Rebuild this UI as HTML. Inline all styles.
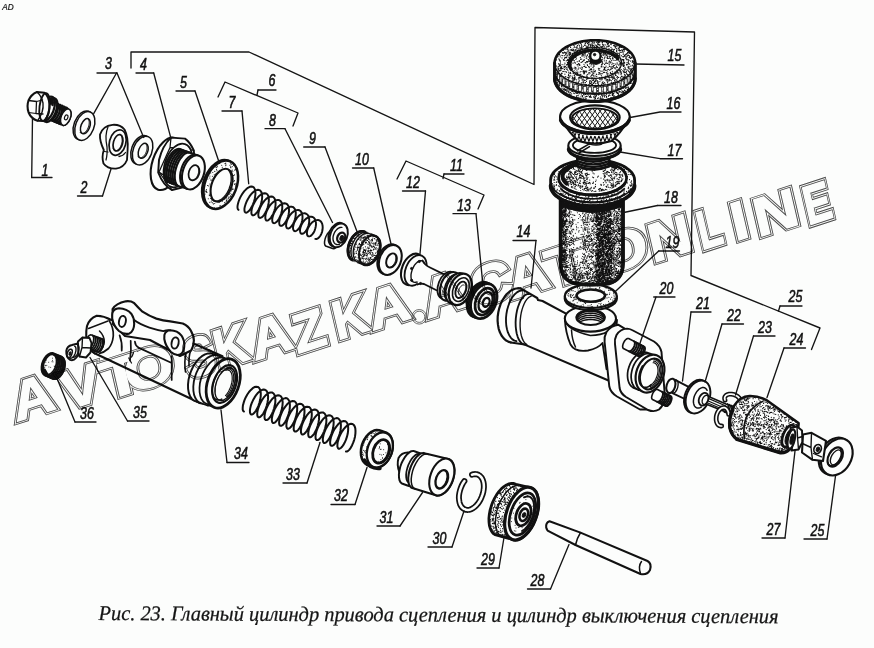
<!DOCTYPE html>
<html><head><meta charset="utf-8"><title>Fig 23</title>
<style>
html,body{margin:0;padding:0;background:#fcfdfc;}
svg{display:block}
.l{fill:none;stroke:#151515;stroke-width:1.35;stroke-linecap:round;stroke-linejoin:round}
.p{fill:#fcfdfc;stroke:#111;stroke-width:1.5;stroke-linecap:round;stroke-linejoin:round}
.n{fill:none;stroke:#111;stroke-width:1.5;stroke-linecap:round;stroke-linejoin:round}
.t{fill:none;stroke:#111;stroke-width:1;stroke-linecap:round}
.k{fill:#111;stroke:#111;stroke-width:1}
.num{font-family:"Liberation Sans",sans-serif;font-style:italic;font-size:15.5px;fill:#111;stroke:#111;stroke-width:0.55;text-anchor:middle}
.cap{font-family:"Liberation Serif",serif;font-style:italic;font-size:21px;fill:#151515;stroke:#151515;stroke-width:0.25}
.d{fill:none;stroke:#111;stroke-linecap:round}
</style></head><body>
<svg width="874" height="648" viewBox="0 0 874 648">
<rect width="874" height="648" fill="#fcfdfc"/>
<!-- 10_upper_left.py -->
<path class="p" d="M50 100.5L67.5 108.8L69.6 109.6L70.4 110.6L70.9 112.1L71.1 113.9L70.9 116L70.3 118.1L69.5 120.2L68.4 122.1L67.1 123.6L65.7 124.7L64.4 125.3L63.1 125.3L62 124.8L63.5 125.6L46 118.5Z" /><path class="t" d="M54 102.2L55.1 103.3L55.7 105.2L55.8 107.6L55.3 110.3L54.3 112.9L53 115.3L51.4 117.1L49.6 118.3L48 118.6L46.6 118" style="stroke-width:2.30"/><path class="t" d="M56.1 103.1L57.2 104.2L57.8 106.1L57.9 108.5L57.4 111.2L56.4 113.8L55 116.2L53.4 118L51.7 119.2L50.1 119.5L48.7 118.9" style="stroke-width:2.30"/><path class="t" d="M58.2 104L59.2 105.1L59.9 107L59.9 109.4L59.5 112.1L58.5 114.7L57.1 117.1L55.5 118.9L53.8 120.1L52.2 120.4L50.8 119.8" style="stroke-width:2.30"/><path class="t" d="M60.2 104.9L61.3 106L61.9 107.9L62 110.3L61.5 113L60.6 115.6L59.2 118L57.6 119.8L55.9 121L54.2 121.3L52.9 120.7" style="stroke-width:2.30"/><path class="t" d="M62.3 105.8L63.4 106.9L64 108.8L64.1 111.2L63.6 113.9L62.6 116.5L61.3 118.9L59.6 120.7L57.9 121.9L56.3 122.2L54.9 121.6" style="stroke-width:2.30"/><path class="t" d="M64.4 106.7L65.5 107.8L66.1 109.7L66.1 112.1L65.7 114.8L64.7 117.4L63.3 119.8L61.7 121.6L60 122.8L58.4 123.1L57 122.5" style="stroke-width:2.30"/><path class="t" d="M66.4 107.6L67.5 108.7L68.1 110.6L68.2 113L67.7 115.7L66.8 118.3L65.4 120.7L63.8 122.5L62.1 123.7L60.4 124L59.1 123.4" style="stroke-width:2.30"/><ellipse class="p" cx="65.8" cy="117.2" rx="4.6" ry="8.6" transform="rotate(21 65.8 117.2)" /><ellipse class="n" cx="66.2" cy="117.4" rx="1.6" ry="2.6" transform="rotate(21 66.2 117.4)" style="stroke-width:1.15"/><ellipse class="p" cx="50" cy="110" rx="6.3" ry="12.5" transform="rotate(21 50 110)" style="stroke-width:2.53"/><ellipse class="p" cx="47.5" cy="108.8" rx="6.3" ry="12.8" transform="rotate(21 47.5 108.8)" style="stroke-width:2.30"/><path class="k" d="M48 99 Q52 96.5 54 99.5 L53 106 Q50 103 47.5 104Z" /><path class="p" d="M44.5 92.8 L37 92 Q31 94.5 28.5 100.5 Q26.5 106 28.6 112.5 Q31 118.5 37.5 120.8 L44.5 121 Q50 114 49.5 104 Q48.5 96 44.5 92.8Z" style="stroke-width:2.07"/><path class="n" d="M37 92 Q41.5 96 43 103 Q44 112 37.5 120.8" style="stroke-width:1.38"/><path class="n" d="M28.5 100.5 L36.5 101.5 M28.6 112.5 L36 113.5 M36.5 101.5 L36 113.5 M36.5 101.5 L42.6 100 M36 113.5 L43 114" style="stroke-width:1.26"/><ellipse class="n" cx="44.5" cy="107" rx="5" ry="14" transform="rotate(7 44.5 107)" style="stroke-width:1.84"/>
<ellipse class="p" cx="83.2" cy="125.3" rx="9.2" ry="15" transform="rotate(21 83.2 125.3)" /><ellipse class="p" cx="84.8" cy="126" rx="9.2" ry="15" transform="rotate(21 84.8 126)" /><ellipse class="p" cx="85.4" cy="126.2" rx="4.4" ry="8" transform="rotate(21 85.4 126.2)" /><path class="t" d="M88.3 119.3L88.6 119.9L88.9 120.6L89.1 121.4L89.2 122.2L89.2 123.1L89.1 124.1L89 125.1L88.7 126.1L88.4 127L88 128L87.6 129L87.1 129.8L86.5 130.6L85.9 131.4L85.3 132L84.6 132.5L84 132.9L83.3 133.2L82.7 133.4L82.1 133.4L81.5 133.3L81 133.1L80.5 132.8L80.1 132.3" />
<path class="p" d="M112.5 124.8 Q120 124.2 124.5 129.5 Q128.5 137 127.6 150 L127 160 Q124 167.5 116 168.6 Q107.5 169 103.5 163.5 Q101.5 157 103.8 150 Q99.5 141 100 134.5 Q102.5 126 112.5 124.8Z" style="stroke-width:1.84"/><ellipse class="p" cx="117.6" cy="142.6" rx="8.2" ry="13" transform="rotate(15 117.6 142.6)" style="stroke-width:1.72"/><ellipse class="p" cx="118" cy="142.8" rx="4.6" ry="8.4" transform="rotate(15 118 142.8)" style="stroke-width:1.72"/><path class="t" d="M121.3 136.1L121.6 136.8L121.9 137.6L122 138.5L122.1 139.5L122.1 140.5L122.1 141.6L121.9 142.6L121.6 143.7L121.3 144.7L120.9 145.8L120.5 146.7L120 147.6L119.4 148.4L118.8 149.1L118.2 149.7L117.5 150.1L116.9 150.5L116.3 150.6L115.6 150.7L115 150.6L114.5 150.4L114 150L113.5 149.5L113.1 148.9" /><path class="n" d="M108 127 Q104.5 135 107 147 Q107.5 155 106 160" style="stroke-width:1.26"/><path class="n" d="M104.5 151.5 L108 152 M119 156.5 Q123 156 125.5 152.5" style="stroke-width:1.26"/>
<ellipse class="p" cx="141" cy="149.9" rx="9.4" ry="15" transform="rotate(21 141 149.9)" /><ellipse class="p" cx="142.6" cy="150.6" rx="9.4" ry="15" transform="rotate(21 142.6 150.6)" /><ellipse class="p" cx="143.2" cy="150.8" rx="4.5" ry="7.8" transform="rotate(21 143.2 150.8)" /><path class="t" d="M146.1 144.1L146.4 144.7L146.7 145.4L146.9 146.1L147 147L147 147.8L147 148.8L146.8 149.7L146.6 150.7L146.3 151.7L145.9 152.6L145.5 153.6L145 154.4L144.4 155.2L143.8 155.9L143.2 156.5L142.6 157L141.9 157.4L141.2 157.7L140.6 157.8L140 157.9L139.4 157.7L138.8 157.5L138.4 157.2L137.9 156.7" />
<ellipse class="p" cx="166.5" cy="163.8" rx="14.2" ry="27.2" transform="rotate(18 166.5 163.8)" style="stroke-width:2.07"/><path class="p" d="M171 137.6 L185 138.6 Q190 142 193.8 150.5 L194.4 158 Q193 176 186 186.5 L172 190 Q163.5 186 158.2 172.5 L159 160 Q162.5 145.5 171 137.6Z" style="stroke-width:1.95"/><path class="n" d="M171 137.6 L170 147.5 L159 172 L172 190 M170 147.5 L184 148 L193.8 150.5 M159 172 L163.5 175" style="stroke-width:1.26"/><ellipse class="p" cx="178" cy="165.5" rx="13.3" ry="22.5" transform="rotate(18 178 165.5)" style="stroke-width:1.72"/><path class="p" d="M169.9 182.9L168.3 181.6L167.1 179.5L166.4 176.8L166.2 173.5L166.4 169.9L167.2 166.2L168.3 162.4L169.9 158.8L171.7 155.7L173.8 153L176 151.1L178.2 149.9L180.3 149.6L182.1 150.1L198.6 155.8L200.2 157.1L201.4 159.2L202.1 161.9L202.3 165.2L202.1 168.8L201.3 172.5L200.2 176.3L198.6 179.9L196.8 183L194.7 185.7L192.5 187.6L190.3 188.8L188.2 189.1L186.4 188.6Z" style="stroke-width:1.61"/><path class="t" d="M167.7 182.2L166.3 180.6L165.3 178.3L164.8 175.5L164.7 172.2L165 168.6L165.9 164.8L167.1 161.2L168.7 157.7L170.6 154.7L172.6 152.2L174.7 150.3L176.9 149.2L178.9 148.9L180.7 149.4" style="stroke-width:2.18"/><path class="t" d="M169.7 182.9L168.3 181.3L167.3 179L166.8 176.2L166.7 172.9L167 169.3L167.9 165.5L169.1 161.9L170.7 158.4L172.6 155.4L174.6 152.9L176.7 151L178.9 149.9L180.9 149.6L182.7 150.1" style="stroke-width:2.18"/><path class="t" d="M171.7 183.6L170.3 182L169.3 179.7L168.8 176.9L168.7 173.6L169 170L169.9 166.2L171.1 162.6L172.7 159.1L174.6 156.1L176.6 153.6L178.7 151.7L180.9 150.6L182.9 150.3L184.7 150.8" style="stroke-width:2.18"/><path class="t" d="M173.7 184.3L172.3 182.7L171.3 180.4L170.8 177.6L170.7 174.3L171 170.7L171.9 166.9L173.1 163.3L174.7 159.8L176.6 156.8L178.6 154.3L180.7 152.4L182.9 151.3L184.9 151L186.7 151.5" style="stroke-width:2.18"/><path class="t" d="M175.7 185L174.3 183.4L173.3 181.1L172.8 178.3L172.7 175L173 171.4L173.9 167.6L175.1 164L176.7 160.5L178.6 157.5L180.6 155L182.7 153.1L184.9 152L186.9 151.7L188.7 152.2" style="stroke-width:2.18"/><path class="t" d="M177.7 185.7L176.3 184.1L175.3 181.8L174.8 179L174.7 175.7L175 172.1L175.9 168.3L177.1 164.7L178.7 161.2L180.6 158.2L182.6 155.7L184.7 153.8L186.9 152.7L188.9 152.4L190.7 152.9" style="stroke-width:2.18"/><ellipse class="p" cx="191.2" cy="171.6" rx="10.2" ry="17.6" transform="rotate(18 191.2 171.6)" style="stroke-width:2.07"/><ellipse class="p" cx="193.4" cy="172.4" rx="10.6" ry="17.6" transform="rotate(18 193.4 172.4)" style="stroke-width:2.07"/><ellipse class="p" cx="194" cy="172.8" rx="5.2" ry="7.8" transform="rotate(18 194 172.8)" style="stroke-width:1.72"/><path class="t" d="M197.2 166.1L197.6 166.7L198 167.3L198.3 168.1L198.5 169L198.7 169.9L198.7 170.8L198.6 171.8L198.5 172.8L198.2 173.8L197.9 174.7L197.5 175.7L197 176.5L196.5 177.4L195.9 178.1L195.2 178.7L194.5 179.2L193.8 179.6L193.1 179.9L192.4 180.1L191.7 180.1L191 180L190.4 179.7L189.8 179.4L189.2 178.9" />
<ellipse class="p" cx="219.2" cy="184.1" rx="15.8" ry="25.2" transform="rotate(21 219.2 184.1)" style="stroke-width:2.07"/><ellipse class="p" cx="220.8" cy="184.7" rx="15.8" ry="25.2" transform="rotate(21 220.8 184.7)" style="stroke-width:2.53"/><ellipse class="p" cx="221.6" cy="185.2" rx="9.8" ry="17.2" transform="rotate(21 221.6 185.2)" style="stroke-width:2.07"/><path class="t" d="M228.5 170.1L229.4 171.2L230.1 172.6L230.7 174.2L231.1 176L231.2 178L231.2 180.1L231 182.2L230.5 184.4L229.9 186.6L229.1 188.8L228.2 190.9L227.1 192.9L225.9 194.7L224.5 196.4L223.1 197.8L221.7 199L220.2 200L218.7 200.7L217.3 201L215.9 201.1L214.5 200.9L213.3 200.4L212.2 199.6L211.3 198.6" style="stroke-width:1.38"/><g clip-rule="evenodd"><clipPath id="c1"><path d="M234.8 190.1L233.3 193.6L231.4 196.9L229.3 199.8L227 202.4L224.5 204.6L222 206.3L219.4 207.4L216.8 208L214.4 208L212.1 207.5L210 206.4L208.2 204.7L206.7 202.6L205.5 200L204.7 197L204.3 193.7L204.4 190.3L204.8 186.6L205.6 183L206.8 179.3L208.3 175.8L210.2 172.5L212.3 169.6L214.6 167L217.1 164.8L219.6 163.1L222.2 162L224.8 161.4L227.2 161.4L229.5 161.9L231.6 163L233.4 164.7L234.9 166.8L236.1 169.4L236.9 172.4L237.3 175.7L237.2 179.1L236.8 182.8L236 186.4L234.8 190.1ZM231.3 188.9L230.2 191.5L228.9 193.9L227.4 196.1L225.7 198L224 199.6L222.1 200.8L220.3 201.7L218.5 202.2L216.8 202.2L215.2 201.8L213.8 201L212.5 199.9L211.5 198.3L210.7 196.5L210.2 194.3L210 192L210.1 189.4L210.4 186.8L211 184.1L211.9 181.5L213 178.9L214.3 176.5L215.8 174.3L217.5 172.4L219.2 170.8L221.1 169.6L222.9 168.7L224.7 168.2L226.4 168.2L228 168.6L229.4 169.4L230.7 170.5L231.7 172.1L232.5 173.9L233 176.1L233.2 178.4L233.1 181L232.8 183.6L232.2 186.3L231.3 188.9Z"/></clipPath><path clip-path="url(#c1)" class="d" stroke-width="1.1" style="stroke:#111" d="M226.2 198.1h.01M233.4 208.9h.01M231.1 207.8h.01M201.2 183.1h.01M239.6 193h.01M237.8 164.1h.01M219.7 171.3h.01M222.8 189h.01M200.6 169.7h.01M211.7 207.5h.01M232.2 166.6h.01M233.5 165.5h.01M225.9 164.8h.01M200.1 205.1h.01M208.8 169.6h.01M241.3 205.1h.01M212.2 209.9h.01M222.6 194.6h.01M208.6 208.8h.01M229 210.2h.01M237.5 174.1h.01M215.2 167h.01M206.1 161.5h.01M212.7 190.6h.01M200.1 194.6h.01M214.2 174.7h.01M234.4 184h.01M213.3 184h.01M229.6 161.1h.01M241 159.2h.01M231.5 203.6h.01M200.8 200.5h.01M215.4 189.2h.01M200.4 160.5h.01M207.6 209.6h.01M208.3 198.8h.01M239 208.9h.01M214.5 177.2h.01M222 199.9h.01M204.5 198.4h.01M233.5 204.4h.01M201.5 209.1h.01M203.8 176.4h.01M225.7 207.6h.01M214.3 207.9h.01M222.9 174.9h.01M213.3 167.6h.01M203.3 166h.01M228.9 211.8h.01M206.8 160.6h.01M241.4 186.8h.01M217 170.8h.01M224.9 202.6h.01M219.1 180.8h.01M202.3 207.5h.01M201.4 184.7h.01M235.2 165.1h.01M230.7 209.3h.01M226.5 200.6h.01M204.5 181.5h.01M206.3 203.6h.01M212.4 182.5h.01M242 204h.01M241 182.5h.01M220.5 197.4h.01M220.1 173.7h.01M217 165.9h.01M215.8 211.4h.01M240.3 191.9h.01M221 176.3h.01M203.7 172.7h.01M232.8 204.8h.01M215.2 200.4h.01M232.5 195.5h.01M227.9 199h.01M215.3 196h.01M211.8 184.2h.01M232.3 195.3h.01M212.3 209.1h.01M227.3 189.4h.01M200.5 187.5h.01M210.5 194.3h.01M219.4 202.1h.01M227.2 201.1h.01M214.6 192.8h.01M231 202.7h.01M214.7 203.5h.01M236.5 195.2h.01M241 209.7h.01M221.8 186.6h.01M207 203.2h.01M239.4 183.8h.01M229 196.9h.01M230.7 167.3h.01M232.8 189.4h.01M228 180.7h.01M226.2 199.8h.01M226.7 196.9h.01M201.2 166.6h.01M218.5 193.1h.01M209.2 195h.01M226.5 160.3h.01M219.8 170.2h.01M202.3 165.2h.01M213.3 167.8h.01M208.1 159.9h.01M219.5 178.5h.01M225.7 189.9h.01M210 206.8h.01M200 179.9h.01M211.7 180.1h.01M204.8 202.9h.01M215.7 159.9h.01M225.8 163.1h.01M222.9 176.3h.01M224.4 209.7h.01M234.4 180.6h.01M234.1 192.7h.01M215.5 165.7h.01M225 188.4h.01M240.2 210.3h.01M225.6 177h.01M237.5 158.1h.01M204.5 188.6h.01M225.8 165.6h.01M226.4 206.1h.01M215.8 181.3h.01M209.5 173.7h.01M240.8 178.5h.01M240.4 207.3h.01M225 172h.01M241.2 184.8h.01M217.5 175.2h.01M241.3 184.6h.01M212 183.8h.01M205.1 191.6h.01M218.6 173.8h.01M232.8 202.6h.01M200.6 186.8h.01M211.5 208.5h.01M232.8 171.3h.01M211.2 166.4h.01M241.5 173.8h.01M225.5 183.6h.01M227.1 190.6h.01M231.2 164.4h.01M231.9 174.2h.01M222.4 176.2h.01M212.5 186.6h.01M219.5 177.5h.01M231.3 189.9h.01M201.5 171.6h.01M219.1 207.5h.01M237.3 187.5h.01M200.6 200h.01M218 189.1h.01M229.7 192.1h.01M220.2 207.2h.01M216.2 179.2h.01M235.8 168.6h.01M212.5 202.8h.01M202.8 203.2h.01M229.2 181.4h.01M212 200.2h.01M238.2 165.7h.01M220.1 187.7h.01M220.9 175.9h.01M206.4 189.6h.01M234.1 161.7h.01M209.7 202.3h.01M233.3 193.8h.01M201.1 197h.01M241.1 211.9h.01M229.5 160.6h.01M235.4 169.8h.01M227.1 209.4h.01M229.9 165.3h.01M212.3 207.6h.01M206.3 191h.01M217.4 166.7h.01M226.1 160.4h.01M204.5 178.5h.01M203 161.1h.01M224.2 198.1h.01M236.9 165.3h.01M218.1 175h.01M225.2 184.4h.01M239.4 178.2h.01M202.3 195.7h.01M206.3 192.1h.01M221.2 207.2h.01M223.3 191.5h.01M211.1 187.8h.01M210.7 198.5h.01M221.7 165.2h.01M209.8 178h.01M230.9 167.7h.01M230 193.4h.01M203.6 194.1h.01M203.8 164.7h.01M224.9 170.9h.01M236.8 183.9h.01M213.6 201h.01M201.2 197.2h.01M202.3 166.1h.01M240 194.8h.01M209.4 164.3h.01M240.9 193.9h.01M234.5 165.5h.01M226.2 177.1h.01M209.9 176h.01M225.8 176.8h.01M216.2 165.4h.01M234.9 193h.01M233.8 181.4h.01M235.8 185.9h.01M224.9 189h.01M231.1 179.4h.01M204.1 159.8h.01M208.5 160.1h.01M237.3 184h.01M231.9 158h.01M219.7 206h.01M226 181.1h.01M219.6 163.4h.01M206.5 166.6h.01M215.7 178.8h.01M237 166.2h.01M210.7 173h.01M206.8 173.5h.01M209.9 184h.01M201.3 207.9h.01M215.5 208.6h.01M228.9 194.4h.01M219.8 209.1h.01M205 194.1h.01M212.2 194.4h.01M230.6 166.8h.01M208.4 159.3h.01M209.7 162.2h.01M216.8 210.6h.01M215.3 174.8h.01M219.7 173.3h.01M230.8 196.8h.01M206.9 171h.01M228.2 208.8h.01M227.1 181.3h.01M241 158.3h.01M202.6 200.1h.01M217.2 160.4h.01M223 211.4h.01M221.8 176.9h.01M203.9 161.8h.01M237.7 184.5h.01M239.3 160.9h.01M210.2 160.7h.01M216.7 161.2h.01M210.7 180h.01M212.8 160.8h.01M201.6 210.5h.01M207.5 185.5h.01M216.9 186.7h.01M203.5 174.9h.01M204.5 187.3h.01M238.7 190.3h.01M236 169.6h.01M200.7 187.1h.01M220.4 188.9h.01M215.8 191.8h.01M230.5 207.3h.01M212.9 182.2h.01M234.7 170.1h.01M204.9 174.8h.01M203.7 199.7h.01M234.4 174.9h.01M205.5 162.4h.01M210.3 162.6h.01M218 189.2h.01M210.3 161.3h.01M229.4 160.6h.01M208.4 173.4h.01M215.7 163.3h.01M217.7 175h.01M231.6 188h.01M237.6 193.3h.01M231.9 189h.01M218.6 202.1h.01M227.5 209.6h.01M230.6 195.9h.01M211.2 201.9h.01M216.1 165h.01M202.8 167.1h.01M211 194.5h.01M212 161.4h.01M232.1 188.1h.01M201.2 160.7h.01M205.5 177.3h.01M236.1 209.3h.01M225.7 170.5h.01M218 177.6h.01M213.9 158.7h.01M224.5 202.7h.01M230.5 163.1h.01M222.3 167.2h.01M229.8 182.1h.01M239.4 200.9h.01M205 175.1h.01M238.4 182.9h.01M218.2 181.8h.01M232.2 208.6h.01M222.4 210.4h.01M225 163.6h.01M234.2 180.7h.01M202.2 210.8h.01M201.4 189.2h.01M220.2 205.6h.01M216.5 169.6h.01M211.6 168.9h.01M223.6 177.3h.01M231.5 171h.01M214.8 171.4h.01M241.3 203.4h.01M235.7 191.4h.01M216.8 165.7h.01M234.9 184.5h.01M201.6 167.2h.01M204.1 196.8h.01M237.8 168.8h.01M233.5 175.5h.01M228.7 204.6h.01M226.2 201.2h.01M215.8 158.5h.01M221.5 189.7h.01M207.8 179h.01M213.3 159.5h.01M213.1 178.7h.01M220 196h.01M216.8 211h.01M234.3 207.9h.01M229.1 194.2h.01M222.5 201.1h.01M215.2 190.1h.01M228.5 186.2h.01M211.9 162.2h.01M203.7 177.2h.01M224.4 199h.01M230 174.6h.01M239 172.8h.01M230.1 161.9h.01M231.6 194.2h.01M240.2 206.4h.01M228.9 203.3h.01M231 191h.01M208.8 185.9h.01M237.6 170.9h.01M240.9 187.4h.01M216.5 158.2h.01M216.4 167.6h.01M227.4 206.6h.01M238.2 191.1h.01M216.2 163.9h.01M228.9 187.9h.01M230 178.2h.01M237.2 169.5h.01M212.8 172.5h.01M226.1 206.5h.01M207 192.2h.01M232.2 170.1h.01M202.6 188.6h.01M234.9 205.4h.01M230.6 180.5h.01M217.9 186.6h.01M238 174.3h.01M211.8 190.7h.01M240.6 168.1h.01M201.3 164.2h.01M223.6 190.6h.01M207.7 168.3h.01M225 192.9h.01M229 197.4h.01M202.6 184.2h.01M235.1 209.7h.01M213.4 203.9h.01M227.1 208h.01M209.6 195.6h.01M235.3 183.7h.01M204.2 168.5h.01M206.6 163h.01M206.4 191.2h.01M204.4 198.9h.01M230.9 202.1h.01M233.8 196.5h.01M238.8 209.7h.01M226.3 210.1h.01M204.3 163.6h.01M202.7 169.1h.01M215.7 182.8h.01M228.6 198.1h.01M203.5 179.8h.01M222.8 178.3h.01M204.9 190.2h.01M215.7 194.9h.01M220.8 210h.01M239.7 161.9h.01M231.9 196.9h.01M212.4 164.3h.01M220.1 177.1h.01M231 207.6h.01M216 173.7h.01M220.9 195.6h.01M233.1 189.1h.01M212.4 176.2h.01M235.6 186h.01M202.1 180.7h.01M210 194h.01M203.1 172.6h.01M204 183.8h.01M241.4 187.2h.01M216.2 208.4h.01M203.9 177.2h.01M234.1 158.3h.01M232.2 177.5h.01M200.7 171.5h.01M219.2 178.7h.01M221.7 160.9h.01M209.2 210.6h.01M218.6 183.5h.01M203.6 173.1h.01M240.1 195.1h.01M221.3 160.9h.01"/></g>
<!-- 11_upper_mid.py -->
<path class="n" d="M238.5 209.9L237.9 209.3L237.5 208L237.5 206.2L237.9 204L238.6 201.5L239.6 198.9L240.9 196.2L242.5 193.6L244.3 191.2L246.1 189.3L247.9 187.8L249.7 186.8L251.4 186.5L252.8 186.7L254 187.6L254.8 189.1L255.3 191.1L255.5 193.5L255.2 196.1L254.7 199L253.9 201.8L252.8 204.6L251.6 207.1L250.2 209.3L248.9 211L247.6 212.1L246.4 212.7L245.5 212.6L244.8 211.9L244.5 210.7L244.4 208.9L244.8 206.8L245.5 204.4L246.5 201.8L247.8 199.2L249.3 196.7L251 194.4L252.8 192.5L254.6 191L256.4 190.1L258 189.8L259.5 190.1L260.6 191L261.5 192.4L262 194.4L262.2 196.7L262 199.3L261.5 202.1L260.7 204.8L259.7 207.5L258.5 210L257.2 212L255.8 213.7L254.6 214.8L253.4 215.3L252.5 215.2L251.8 214.6L251.4 213.3L251.4 211.6L251.7 209.6L252.3 207.2L253.3 204.7L254.6 202.2L256.1 199.7L257.8 197.5L259.5 195.7L261.3 194.3L263.1 193.5L264.7 193.2L266.1 193.5L267.3 194.3L268.2 195.8L268.7 197.6L268.9 199.9L268.7 202.4L268.3 205.1L267.5 207.8L266.5 210.4L265.3 212.8L264.1 214.8L262.8 216.4L261.5 217.4L260.4 217.9L259.5 217.8L258.8 217.2L258.4 216L258.3 214.4L258.6 212.3L259.2 210L260.2 207.6L261.4 205.2L262.9 202.8L264.5 200.7L266.2 198.9L268 197.6L269.7 196.8L271.4 196.5L272.8 196.8L274 197.7L274.8 199.1L275.4 200.9L275.6 203.1L275.5 205.6L275.1 208.2L274.3 210.8L273.4 213.4L272.2 215.6L271 217.6L269.7 219.1L268.5 220.1L267.4 220.6L266.4 220.5L265.8 219.8L265.4 218.7L265.3 217.1L265.5 215.1L266.1 212.9L267 210.5L268.2 208.2L269.6 205.9L271.3 203.9L273 202.2L274.7 200.9L276.4 200.1L278 199.9L279.4 200.2L280.6 201.1L281.5 202.4L282.1 204.2L282.3 206.4L282.2 208.8L281.8 211.3L281.1 213.8L280.2 216.3L279.1 218.5L277.9 220.4L276.7 221.8L275.4 222.8L274.3 223.2L273.4 223.1L272.7 222.5L272.3 221.3L272.2 219.8L272.4 217.9L273 215.7L273.9 213.4L275 211.2L276.4 209L278 207L279.7 205.4L281.4 204.2L283.1 203.5L284.7 203.2L286.1 203.6L287.3 204.4L288.2 205.7L288.8 207.5L289 209.6L289 211.9L288.6 214.4L288 216.8L287.1 219.2L286 221.3L284.8 223.1L283.6 224.5L282.4 225.5L281.3 225.9L280.4 225.8L279.7 225.1L279.3 224L279.2 222.5L279.4 220.7L279.9 218.6L280.7 216.4L281.9 214.2L283.2 212.1L284.7 210.2L286.4 208.6L288.1 207.5L289.8 206.8L291.3 206.6L292.7 206.9L293.9 207.8L294.9 209.1L295.5 210.8L295.8 212.8L295.7 215.1L295.4 217.5L294.8 219.8L293.9 222.1L292.9 224.2L291.7 225.9L290.6 227.2L289.4 228.1L288.3 228.5L287.4 228.4L286.7 227.8L286.2 226.7L286.1 225.2L286.3 223.4L286.8 221.4L287.6 219.3L288.7 217.2L290 215.1L291.5 213.3L293.1 211.9L294.8 210.8L296.4 210.1L298 210L299.4 210.3L300.6 211.1L301.5 212.4L302.2 214.1L302.5 216L302.5 218.2L302.2 220.5L301.6 222.8L300.8 225L299.8 227L298.7 228.7L297.5 230L296.3 230.8L295.3 231.2L294.4 231L293.7 230.4L293.2 229.4L293 227.9L293.2 226.2L293.7 224.3L294.4 222.2L295.5 220.2L296.8 218.2L298.2 216.5L299.8 215.1L301.5 214L303.1 213.4L304.7 213.3L306.1 213.7L307.3 214.5L308.2 215.7L308.9 217.4L309.2 219.3L309.2 221.4L309 223.6L308.4 225.8L307.6 228L306.7 229.9L305.6 231.4L304.4 232.7L303.3 233.5L302.2 233.8L301.3 233.7L300.6 233.1L300.2 232L300 230.6L300.1 229L300.6 227.1L301.3 225.1L302.3 223.2L303.6 221.3L305 219.7L306.6 218.3L308.2 217.3L309.8 216.8L311.3 216.7L312.7 217L313.9 217.8L314.9 219.1L315.5 220.6L315.9 222.5L316 224.6L315.7 226.7L315.2 228.8L314.5 230.9L313.6 232.7L312.5 234.2L311.4 235.4L310.3 236.1L309.2 236.4L308.3 236.3L307.6 235.7L307.1 234.7L306.9 233.4L307 231.7L307.4 229.9L308.1 228L309.1 226.2L310.3 224.4L311.7 222.8L313.3 221.5L314.9 220.6L316.5 220.1L318 220L319.4 220.4L320.6 221.2L321.5 222.4L322.2 223.9L322.6 225.7L322.7 227.7L322.5 229.8L322.1 231.8L321.3 233.8L320.5 235.5L319.4 237L318.3 238.1L317.2 238.8L316.2 239.1L315.3 238.9" style="stroke-width:1.95"/>
<path class="p" d="M325.6 246L324.9 245L324.5 243.4L324.6 241.3L325.1 238.9L325.9 236.5L327.1 234.3L328.5 232.5L329.9 231.3L331.2 230.8L332.4 231L339.4 233.5L340.1 234.5L340.5 236.1L340.4 238.2L339.9 240.6L339.1 243L337.9 245.2L336.5 247L335.1 248.2L333.8 248.7L332.6 248.5Z" /><ellipse class="p" cx="337.4" cy="234.8" rx="8.4" ry="12.4" transform="rotate(22 337.4 234.8)" style="stroke-width:1.95"/><ellipse class="p" cx="338.8" cy="235.4" rx="8.4" ry="12.4" transform="rotate(22 338.8 235.4)" style="stroke-width:1.95"/><path class="t" d="M339.4 244.4L338.4 244.6L337.5 244.6L336.6 244.5L335.8 244.2L335.1 243.7L334.4 243.1L333.9 242.3L333.5 241.4L333.2 240.3L333 239.2L333 238L333.1 236.7L333.4 235.5L333.8 234.2L334.3 233L334.9 231.9L335.6 230.8L336.4 229.9L337.2 229.1L338.1 228.4L339.1 227.9L340 227.5L341 227.4L341.9 227.4" style="stroke-width:1.38"/><ellipse class="p" cx="341.2" cy="237.6" rx="3.8" ry="5.2" transform="rotate(22 341.2 237.6)" style="stroke-width:2.30"/><ellipse class="k" cx="341.8" cy="238" rx="1.8" ry="2.6" transform="rotate(22 341.8 238)" />
<path class="p" d="M352 259.9L350.3 258.5L349 256.4L348.2 253.9L347.9 250.9L348.1 247.7L348.9 244.4L350.1 241.2L351.8 238.2L353.8 235.6L356 233.6L358.4 232.1L360.7 231.4L363 231.4L365 232.1L376.1 236.3L377.8 237.7L379.1 239.8L379.9 242.3L380.2 245.3L380 248.5L379.2 251.8L378 255L376.3 258L374.3 260.6L372.1 262.6L369.7 264.1L367.4 264.8L365.1 264.8L363.1 264.1Z" style="stroke-width:2.30"/><clipPath id="c2"><path d="M352 259.9L350.3 258.5L349 256.4L348.2 253.9L347.9 250.9L348.1 247.7L348.9 244.4L350.1 241.2L351.8 238.2L353.8 235.6L356 233.6L358.4 232.1L360.7 231.4L363 231.4L365 232.1L376.1 236.3L377.8 237.7L379.1 239.8L379.9 242.3L380.2 245.3L380 248.5L379.2 251.8L378 255L376.3 258L374.3 260.6L372.1 262.6L369.7 264.1L367.4 264.8L365.1 264.8L363.1 264.1Z"/></clipPath><path clip-path="url(#c2)" class="d" stroke-width="1.2" style="stroke:#111" d="M363.7 244.2h.01M352.7 262.9h.01M348.2 249.1h.01M378.5 233.1h.01M366.8 253.4h.01M349.4 244.4h.01M371.9 247.2h.01M372.7 236h.01M356.1 234.2h.01M365.2 265.1h.01M368.1 259.4h.01M361 258.4h.01M351.5 241.1h.01M370.9 257.6h.01M362.3 233.3h.01M357.1 238h.01M357.6 260.8h.01M354.8 263.7h.01M377.9 232.1h.01M360.9 248.7h.01M348.8 246.1h.01M378.8 234.3h.01M368.3 234.6h.01M367.7 264h.01M354.9 230.3h.01M350.8 250.5h.01M348.6 233.2h.01M364.9 265h.01M362.3 245.1h.01M369.7 233.5h.01M367.7 236.6h.01M368.7 266.4h.01M349.8 251.1h.01M368.6 235.7h.01M357.1 267.8h.01M381.9 234.6h.01M372 266.1h.01M356.1 253.2h.01M349.5 243.9h.01M370.9 252.4h.01M374.3 233.3h.01M359.8 262.8h.01M367.9 247.1h.01M361.7 267.5h.01M367.5 230.7h.01M375.2 242.5h.01M362.7 238.1h.01M363.1 242.3h.01M351 253.9h.01M351.5 259.8h.01M348.9 259.7h.01M375.5 248.9h.01M372.1 239.4h.01M373.1 246.2h.01M355.9 266.6h.01M361.6 244.2h.01M377.2 244h.01M370.7 236.5h.01M376.7 239.8h.01M349.7 267.1h.01M353.9 266h.01M381.5 253h.01M348.4 232.3h.01M355.1 244.8h.01M368.8 266.7h.01M360.1 235.3h.01M367.1 235.2h.01M350.9 251.1h.01M371.7 232.5h.01M363.3 256.7h.01M374 244.6h.01M378.2 236.4h.01M372.3 259.3h.01M377.9 248.8h.01M351.4 231.8h.01M366 236.6h.01M369.4 233.2h.01M374.5 238.5h.01M348.4 236.7h.01M363.5 251.3h.01M361.2 236.6h.01M364.4 266h.01M366.2 265.8h.01M349 267.7h.01M378.2 250.7h.01M365.8 250.4h.01M378.9 232.5h.01M369.9 250.6h.01M358.2 257.5h.01M372.5 233.9h.01M371.8 247.2h.01M364.7 254.2h.01M349.8 252.9h.01M360.7 263.4h.01M355.9 261.3h.01M372.8 253.7h.01M377.8 231.4h.01M368.3 253.3h.01M371.1 245.5h.01M350.3 237.2h.01M368.7 236.9h.01M350.2 243.5h.01M364 250.4h.01M348.9 259.5h.01M359.4 259.7h.01M348.3 266.3h.01M368.1 267.1h.01M381.5 261.6h.01M351.6 243.3h.01M355.9 259.6h.01M354.5 238.4h.01M351.8 234.6h.01M379.9 267.1h.01M360.7 258.2h.01M363.9 249.8h.01M360.6 254.1h.01M356 239.7h.01M365.6 237.5h.01M362.9 265.9h.01M348.8 233.9h.01M375.2 232.2h.01M356.5 262.4h.01M368.6 238.4h.01M350 240.5h.01M358.2 260.4h.01M381.2 259.9h.01M378.7 265.4h.01M377.8 265h.01M380.9 233.6h.01M358.8 239.4h.01M368.5 248.7h.01M359.8 261.8h.01M361.6 237.9h.01M357.4 247.5h.01M368.8 251.6h.01M363 237.1h.01M361.7 242.4h.01M353.8 250.7h.01M354.4 257h.01M370.4 235.2h.01M369.3 242.8h.01M363.2 253h.01M373.9 263.6h.01M372.9 238h.01M366.4 242.7h.01M348.7 251h.01M364 262.9h.01M359 261.7h.01M365.5 233.8h.01M372.4 240.8h.01M366.1 232.7h.01M348.4 265h.01M349.4 235.7h.01M353.6 233.6h.01M376 267.8h.01M370.1 245h.01M378.2 249.2h.01M352.6 256.2h.01M360.2 240.3h.01M358.9 244.6h.01M354.2 253.3h.01M377.5 251.7h.01M348.3 256h.01M348.7 248.2h.01M377.4 255.7h.01M378.9 258.7h.01M357.3 235.5h.01M363.4 255.8h.01M355.9 242.6h.01M373.4 243.2h.01M368.4 250.7h.01M379.6 231h.01M354.3 259.6h.01M370.7 233.7h.01M352.6 238h.01M366.5 264.3h.01M355.4 237.7h.01M371.3 246.1h.01M376.8 268h.01M379.8 257.2h.01M364.9 232.3h.01M375.5 245.1h.01M363.8 254h.01M380.8 251.1h.01M379.2 266.6h.01M350.9 243.5h.01M378.2 259.2h.01M380.9 237.1h.01M366.1 265.4h.01M366.4 255.5h.01M381.1 236.6h.01M349.9 262.4h.01M367.8 237.6h.01M376.3 240.8h.01M352.4 241.3h.01M349.2 245.4h.01M374.5 247.3h.01M380.8 231.6h.01M353.9 235.5h.01M367.5 237.6h.01M370.7 249.9h.01M367.7 262.1h.01M374.9 265h.01M353.2 244.4h.01M380.7 245.1h.01M357.7 248.3h.01M354.1 262.2h.01M369.6 233.6h.01M380.8 249.8h.01M356.6 253.3h.01M380.3 243.2h.01M348.5 237.5h.01M350 250.1h.01M358.6 262.4h.01M355 230.6h.01M363.8 234.7h.01M358.6 238.6h.01M354.1 254.2h.01M379.8 244.1h.01M369.7 242.3h.01M379.1 251h.01M349 258.2h.01M355.1 231.8h.01M348.7 261.9h.01M372.1 243.6h.01M367 256.8h.01M350.6 256.8h.01M372.1 265.8h.01M350 251.8h.01M365.3 262.2h.01M360.4 255.2h.01M378.5 243.3h.01M365.5 264h.01M349.2 267h.01M358.6 247.4h.01M357.8 260.3h.01M366.1 258.4h.01M351.5 263.5h.01M375.9 255.9h.01M355.6 239.9h.01M363.4 232.5h.01M380.4 245.5h.01M380.4 237h.01M370 260.4h.01M369.9 246.1h.01M348.7 246.5h.01M361.3 265.9h.01M381.1 266.4h.01M381.3 236.4h.01M349 241.1h.01M348.3 234.5h.01M367.6 237.6h.01M368.8 244.5h.01M357.3 266.8h.01M354.3 263.5h.01M365.9 255.2h.01M352.9 258.3h.01M378.2 237.5h.01M364.1 254.8h.01M364.1 258.6h.01M369.9 241.9h.01M371.2 259.4h.01M363.8 252.4h.01M369.6 248.1h.01M351 245.5h.01M374.5 257.5h.01M350.5 248.2h.01M368 250.3h.01M353.1 254.6h.01M371.7 250.4h.01M379.9 251.9h.01M348.4 240.8h.01M371.9 233h.01M380.8 256.6h.01M374 236.5h.01M348.2 263.2h.01M365.4 246.8h.01M365.6 259.2h.01M360.7 259.4h.01M353.5 267.3h.01M371.7 242.1h.01M364.2 263.5h.01M359.1 256.6h.01M378.9 266.5h.01M356.7 260.2h.01M368.7 260.7h.01M350.4 245.7h.01M363.4 261h.01M363.4 231.6h.01M355.1 261.6h.01M378 251.8h.01M350.7 259.4h.01M377.5 240.9h.01M364.4 241h.01M349.8 257.9h.01M353.4 233.3h.01M378.9 233.7h.01M373.8 261h.01M356.5 244.1h.01M355.6 256.9h.01M381.1 258.3h.01M364.8 250.4h.01M361.9 257.1h.01M357.2 239.3h.01M371.7 239.7h.01M381.6 257.6h.01M354.3 230.8h.01M368.3 235.1h.01M365 252.8h.01M375.5 244.7h.01M366.6 261h.01M352.6 242.8h.01M375.5 243.6h.01M379.6 233.2h.01M350.9 243.8h.01M363.8 244h.01M355.5 247h.01M378.4 265.6h.01M369.3 239.8h.01M367.8 236h.01M350.1 260.2h.01M357.1 236.1h.01M375.9 234.7h.01M356 235.8h.01M378.3 255.9h.01M354.2 232.7h.01M378.8 234.9h.01M372.3 256.2h.01M368 248.2h.01M362.1 240.7h.01M370 235.7h.01M364.2 239.9h.01M360.5 263.9h.01M367.3 254.5h.01M370 230.1h.01M374.6 263.2h.01M373.4 249.8h.01M376.8 265.9h.01M357.4 236.2h.01M359.5 230.7h.01M356 233.1h.01M348.3 245.2h.01M348.2 248.3h.01M376.9 257.1h.01M349.8 257.7h.01M354.5 260.6h.01M369.9 250.7h.01M362.8 267.3h.01M355.1 264.1h.01M355 233.6h.01M355.3 231.4h.01M376.2 237h.01M367.5 240.4h.01M360.2 259.9h.01M366.7 240.2h.01M373.3 235.5h.01M349.4 256.4h.01M377 259.1h.01M371.7 265.4h.01M379.5 251.6h.01M354 252h.01M362.5 256.9h.01M359.9 232.8h.01M354.6 235.4h.01M372.9 256.2h.01M366.1 242.1h.01M372.8 247h.01M364.8 237.5h.01M381.9 246.8h.01M364 237.9h.01M363.2 247.9h.01M362.5 258.3h.01M359.4 253.7h.01M370.8 235.1h.01M376 232.7h.01M356.8 261.6h.01M352.1 240.5h.01M362 265.9h.01M380.9 238.3h.01M369.8 261.5h.01M365.5 242h.01M353.2 232.7h.01M349.5 231.8h.01M372.6 252.5h.01M350.3 265.6h.01M381.5 245.8h.01M360.3 263.3h.01M370.6 258.3h.01M354.2 257.7h.01M363 232.1h.01M349.6 240h.01M356 240.2h.01M379 245.1h.01M355.1 234h.01M349.9 245.4h.01M362.3 233h.01M365.6 243.1h.01M348.6 248h.01M353.4 236.9h.01M373.6 246.3h.01M360.1 251.1h.01M373 253.8h.01M380.3 257.2h.01M359.6 266.2h.01M348.5 237.1h.01M352.1 244.5h.01M360 244.8h.01M369.5 243.2h.01M364.4 255.7h.01M379.5 266.4h.01M360.5 244.6h.01M381.7 261.9h.01M377.8 234.4h.01M357.8 246.1h.01M358.5 247.6h.01M380.1 244.7h.01M365.2 242.3h.01M368 250.7h.01M354.2 232.3h.01M373.6 261.6h.01M359.5 237.6h.01M351.4 253.7h.01M367.7 265.5h.01M371 251.8h.01M368.2 264.5h.01M379.3 236.4h.01M352.2 234.9h.01M348.4 262.4h.01M380.7 249h.01M373.8 255.2h.01M370.3 244.9h.01M380.5 241.7h.01M351.4 232h.01M374.8 259.6h.01M377 260.4h.01M355.7 243.8h.01M357.5 262.9h.01M348.1 241.6h.01M370.2 254.2h.01M348.1 234.3h.01M353.7 238.3h.01M365.4 231.2h.01M376.1 247.7h.01M370.2 243.8h.01M376.8 233.9h.01M377.5 239.4h.01M365.5 251.4h.01M370.9 250.6h.01M372.5 231.9h.01M366.2 249h.01M369.1 234.1h.01M372.1 233.1h.01M349.6 232h.01M381.3 236.2h.01M371.3 232.1h.01M368.6 238.3h.01M368.4 258.1h.01M371 250.5h.01M372.4 230.1h.01M349.8 239h.01M363.4 259h.01M348.9 237.8h.01M365.8 242.3h.01M350.8 240.8h.01M348.9 230.6h.01M376.6 242h.01M372.3 239.3h.01M373.1 263.6h.01M348.6 252.9h.01M378.9 259.2h.01M352.1 257.8h.01M373.7 236.1h.01M370.4 253.7h.01M354.8 261.2h.01M377.1 232.8h.01M364 252.4h.01M348.3 249.7h.01M379.9 242.6h.01M364.8 265.6h.01M377.7 266.2h.01M351.1 268h.01M359.3 243.7h.01M354.3 260.6h.01M368 247.4h.01M364.8 249.5h.01M367.8 235.8h.01M372.5 240h.01M348.7 266.4h.01M351.3 260.5h.01M374.1 246.3h.01M368.7 239.2h.01M355.3 263.6h.01M373.5 259.2h.01M363.6 231.3h.01M374.3 266.5h.01M358.8 253.8h.01M353 266.5h.01M372.1 232.4h.01M371.8 255.7h.01M362.8 252.2h.01M379.7 255.9h.01M364.1 266.8h.01M369.7 259.5h.01M366.9 258.8h.01M374.3 249h.01M363.8 237.5h.01M370.2 257.6h.01M362 232.5h.01M372 254.6h.01M370 235.8h.01M378.1 257.7h.01M375.2 235.6h.01M357.2 250.3h.01M348.2 267h.01M353.9 235.7h.01M375 239h.01M367.5 254.8h.01M354.9 231.9h.01M371.9 263.3h.01M375.5 233.9h.01M359.4 247.2h.01M349.1 263.6h.01M376.2 266.8h.01M379.1 261.8h.01M358.1 254.8h.01M377.7 230.3h.01M350.5 267.5h.01M351.1 264.5h.01M360.9 239.3h.01M360.8 263.5h.01M370 234.7h.01M375.9 243.2h.01M376.1 249.1h.01M377.3 250.9h.01M360 267.7h.01M381.4 250.8h.01M365.8 252.9h.01M371 240.3h.01M379.6 246h.01M381.9 251.8h.01M379.2 265h.01M357.4 231.3h.01M367.7 251.8h.01M359.5 243.4h.01M357.3 233.5h.01M363.6 249.9h.01M362.9 262.1h.01M362.8 258.6h.01M373.7 249.2h.01M363.8 238.9h.01M371.3 262.9h.01M381 260.5h.01M380.9 252.2h.01M363.4 267.3h.01M370.8 232.7h.01M377 252.6h.01M377.1 245.4h.01M369.5 252.7h.01M368.9 263.5h.01M361.4 255.6h.01M380 233.4h.01M377.1 256.2h.01M363 231.5h.01M364.8 236.3h.01M354.6 249.2h.01M369.3 265.4h.01M369.4 259.2h.01M366.6 231h.01M359.2 234.5h.01M368.6 241.6h.01M368.8 242.8h.01M349.5 238.6h.01M379.7 247.1h.01M370.5 250.5h.01M363.7 256h.01M378.8 254h.01M374.8 243.3h.01M357.4 230.4h.01M366.2 232.4h.01M357.1 247.6h.01M360.7 237.9h.01M362.3 264.9h.01M367.1 255.2h.01M382 254.3h.01M380.3 256.4h.01M375.5 253.1h.01M382 250.9h.01M359.4 254.9h.01M351.2 246.1h.01M380 235.5h.01M361.9 241.5h.01M369 262.5h.01M358.9 251.6h.01M349.1 239.1h.01M362.3 254.3h.01M377.9 263.7h.01M365.3 239.9h.01M376 262.2h.01M374.9 255.4h.01M369.4 245h.01M367.4 244h.01M371.9 263.4h.01M358.3 257.9h.01M351.5 233.4h.01M354.4 241h.01M362.8 244.8h.01M378.8 232.1h.01M377.4 239.1h.01M358.2 247.8h.01M363.1 251.7h.01M349.1 252.6h.01M349.4 236.2h.01M357.6 249.5h.01M372.8 231.3h.01M349 245.7h.01M355.8 257.2h.01M375.6 264.4h.01M381.5 266.6h.01M356.1 251.5h.01M352.4 250.7h.01"/><path class="n" d="M356.1 261.5L355 260.8L354.1 259.8L353.4 258.6L352.8 257.2L352.3 255.7L352.1 254L352 252.2L352.1 250.4L352.4 248.5L352.8 246.5L353.5 244.6L354.2 242.8L355.2 241L356.2 239.3L357.4 237.8L358.6 236.5L359.9 235.3L361.3 234.4L362.7 233.6L364.1 233.1L365.4 232.9L366.7 232.9L368 233.2L369.1 233.7" style="stroke-width:2.99;stroke:#fcfdfc"/><path class="t" d="M355.1 261.1L354 260.4L353.1 259.4L352.4 258.2L351.8 256.8L351.3 255.3L351.1 253.6L351 251.8L351.1 250L351.4 248.1L351.8 246.1L352.5 244.2L353.2 242.4L354.2 240.6L355.2 238.9L356.4 237.4L357.6 236.1L358.9 234.9L360.3 234L361.7 233.2L363.1 232.7L364.4 232.5L365.7 232.5L367 232.8L368.1 233.3" style="stroke-width:1.38"/><path class="t" d="M357.3 261.9L356.2 261.2L355.3 260.2L354.6 259L354 257.6L353.5 256.1L353.3 254.4L353.2 252.6L353.3 250.8L353.6 248.9L354 246.9L354.7 245L355.4 243.2L356.4 241.4L357.4 239.7L358.6 238.2L359.8 236.9L361.1 235.7L362.5 234.8L363.9 234L365.3 233.5L366.6 233.3L367.9 233.3L369.2 233.6L370.3 234.1" style="stroke-width:1.38"/><path class="n" d="M352 259.9L350.9 259.2L350 258.2L349.3 257L348.7 255.6L348.2 254.1L348 252.4L347.9 250.6L348 248.8L348.3 246.9L348.7 244.9L349.4 243L350.1 241.2L351.1 239.4L352.1 237.7L353.3 236.2L354.5 234.9L355.8 233.7L357.2 232.8L358.6 232L360 231.5L361.3 231.3L362.6 231.3L363.9 231.6L365 232.1" style="stroke-width:2.76"/><ellipse class="n" cx="369.6" cy="250.2" rx="9.6" ry="15.4" transform="rotate(22 369.6 250.2)" style="stroke-width:1.84"/><path class="n" d="M379 239.6L379.5 240.9L379.9 242.2L380.1 243.6L380.2 245.2L380.2 246.7L380 248.4L379.7 250L379.2 251.7L378.7 253.3L378 254.9L377.2 256.5L376.4 257.9L375.4 259.3L374.4 260.5L373.3 261.6L372.1 262.6L370.9 263.4L369.7 264.1L368.6 264.5L367.4 264.8L366.2 264.9L365.1 264.8L364.1 264.6L363.1 264.1" style="stroke-width:2.76"/>
<ellipse class="p" cx="388.8" cy="259.3" rx="10.6" ry="15.6" transform="rotate(22 388.8 259.3)" style="stroke-width:2.07"/><ellipse class="p" cx="390.3" cy="259.9" rx="10.6" ry="15.6" transform="rotate(22 390.3 259.9)" style="stroke-width:2.07"/><ellipse class="p" cx="391.5" cy="260.5" rx="4.9" ry="7.4" transform="rotate(22 391.5 260.5)" style="stroke-width:1.95"/><path class="t" d="M394.7 254.4L395.1 255L395.4 255.6L395.6 256.4L395.8 257.2L395.8 258.1L395.8 259L395.7 259.9L395.5 260.8L395.2 261.7L394.8 262.6L394.3 263.5L393.8 264.3L393.2 265L392.6 265.6L392 266.2L391.3 266.6L390.6 267L389.9 267.2L389.2 267.3L388.6 267.3L387.9 267.1L387.3 266.9L386.8 266.5L386.3 266" />
<!-- 12_piston.py -->
<ellipse class="p" cx="412.4" cy="269.4" rx="10.4" ry="16.4" transform="rotate(22 412.4 269.4)" style="stroke-width:2.07"/><ellipse class="p" cx="415.6" cy="270.4" rx="10" ry="16" transform="rotate(22 415.6 270.4)" style="stroke-width:1.84"/><path class="p" d="M422.5 260.5 Q424.5 265 430 267.5 L445 274.8 L441 292.5 L424 284 Q420 283 417.5 284.5" style="stroke-width:1.84"/><path class="t" d="M417.1 281.9L415.9 282.3L414.7 282.4L413.7 282.2L412.8 281.6L412 280.8L411.5 279.6L411.1 278.2L411 276.6L411 274.9L411.3 273L411.8 271.1L412.4 269.3L413.3 267.4L414.2 265.7L415.3 264.2L416.5 262.9L417.7 261.9L418.9 261.1L420.1 260.7L421.3 260.6L422.3 260.8L423.2 261.4L424 262.2L424.5 263.4" style="stroke-width:1.38"/><circle cx="419.3" cy="261.5" r="1.1" class="k"/><circle cx="411.6" cy="268.5" r="1.1" class="k"/><circle cx="411.6" cy="280.3" r="1.1" class="k"/><circle cx="420.5" cy="283.5" r="1.1" class="k"/><ellipse class="p" cx="447" cy="285.2" rx="8.6" ry="14.2" transform="rotate(22 447 285.2)" style="stroke-width:1.84"/><ellipse class="p" cx="450" cy="286.4" rx="9.2" ry="15" transform="rotate(22 450 286.4)" style="stroke-width:2.07"/><ellipse class="p" cx="453.5" cy="287.4" rx="8.4" ry="14" transform="rotate(22 453.5 287.4)" style="stroke-width:1.61"/><ellipse class="p" cx="456.5" cy="288.4" rx="10" ry="16" transform="rotate(22 456.5 288.4)" style="stroke-width:2.07"/><ellipse class="p" cx="460.3" cy="289.4" rx="10.6" ry="16.4" transform="rotate(22 460.3 289.4)" style="stroke-width:2.30"/><ellipse class="n" cx="460.8" cy="289.6" rx="7.6" ry="12.4" transform="rotate(22 460.8 289.6)" style="stroke-width:1.61"/><ellipse class="n" cx="461" cy="289.8" rx="5" ry="8.6" transform="rotate(22 461 289.8)" style="stroke-width:1.84"/><path class="t" d="M464.2 282L464.7 282.5L465.1 283.1L465.4 283.8L465.6 284.6L465.8 285.5L465.8 286.5L465.8 287.5L465.7 288.5L465.4 289.6L465.1 290.7L464.7 291.7L464.2 292.7L463.7 293.7L463 294.6L462.4 295.4L461.7 296.1L461 296.6L460.2 297.1L459.5 297.4L458.8 297.6L458.1 297.7L457.4 297.6L456.8 297.4L456.2 297" /><path class="t" d="M459.9 295.3L459.6 295.1L459.3 294.8L459 294.5L458.8 294.1L458.7 293.6L458.6 293L458.5 292.4L458.6 291.8L458.6 291.1L458.8 290.4L459 289.8L459.2 289.1L459.5 288.4L459.8 287.8L460.2 287.2L460.6 286.7L461 286.2L461.5 285.8L461.9 285.5L462.4 285.2L462.8 285.1L463.3 285L463.7 285L464.1 285.1" />
<ellipse class="p" cx="479.8" cy="299.6" rx="11.6" ry="18.2" transform="rotate(22 479.8 299.6)" style="stroke-width:2.76"/><ellipse class="p" cx="481.8" cy="300.4" rx="12" ry="18.4" transform="rotate(22 481.8 300.4)" style="stroke-width:2.30"/><ellipse class="p" cx="483.8" cy="301.2" rx="12.2" ry="18.2" transform="rotate(22 483.8 301.2)" style="stroke-width:2.76"/><ellipse class="p" cx="484.8" cy="301.6" rx="9" ry="14" transform="rotate(22 484.8 301.6)" style="stroke-width:2.76"/><ellipse class="p" cx="485.6" cy="302" rx="6.4" ry="10.4" transform="rotate(22 485.6 302)" style="stroke-width:2.30"/><ellipse class="p" cx="486.2" cy="302.4" rx="3.2" ry="4.6" transform="rotate(22 486.2 302.4)" style="stroke-width:2.30"/><g clip-rule="evenodd"><clipPath id="c3"><path d="M493.1 305L492.2 307L491.1 308.8L489.9 310.5L488.5 312L487 313.2L485.5 314.1L483.9 314.7L482.4 315L480.9 314.9L479.6 314.6L478.3 313.9L477.2 312.9L476.3 311.6L475.7 310.1L475.2 308.4L475 306.5L475 304.5L475.2 302.4L475.7 300.3L476.5 298.2L477.4 296.2L478.5 294.4L479.7 292.7L481.1 291.2L482.6 290L484.1 289.1L485.7 288.5L487.2 288.2L488.7 288.3L490 288.6L491.3 289.3L492.4 290.3L493.3 291.6L493.9 293.1L494.4 294.8L494.6 296.7L494.6 298.7L494.4 300.8L493.9 302.9L493.1 305ZM491.5 304.4L490.9 305.9L490 307.3L489.1 308.5L488.1 309.6L487 310.5L485.9 311.2L484.8 311.7L483.7 311.9L482.7 311.9L481.7 311.6L480.8 311.1L480.1 310.4L479.4 309.5L479 308.4L478.6 307.1L478.5 305.7L478.5 304.2L478.8 302.7L479.1 301.1L479.7 299.6L480.3 298.1L481.2 296.7L482.1 295.5L483.1 294.4L484.2 293.5L485.3 292.8L486.4 292.3L487.5 292.1L488.5 292.1L489.5 292.4L490.4 292.9L491.1 293.6L491.8 294.5L492.2 295.6L492.6 296.9L492.7 298.3L492.7 299.8L492.4 301.3L492.1 302.9L491.5 304.4Z"/></clipPath><path clip-path="url(#c3)" class="d" stroke-width="0.9" style="stroke:#111" d="M475.8 308h.01M488.5 314.3h.01M473.6 290.8h.01M472.4 290.6h.01M490 286.9h.01M483.9 290.1h.01M476.8 298.4h.01M493.1 305.1h.01M468.4 292.5h.01M472.4 315.1h.01M492.3 312.6h.01M492.8 310.3h.01M496.5 312.2h.01M475.7 314.3h.01M482.6 310.7h.01M484.9 298.3h.01M478.9 298.3h.01M477.4 286.5h.01M492.6 312.3h.01M497.6 308.3h.01M484.6 310.4h.01M472 307.7h.01M481.3 288.7h.01M474.1 301.9h.01M475.6 299.5h.01M486.2 297h.01M471.9 300.7h.01M475.1 291h.01M473.8 295.9h.01M470.2 306.7h.01M496.6 296.8h.01M489.6 317.5h.01M469.3 287.4h.01M492.2 313.8h.01M487.2 288.1h.01M480.4 315h.01M494.6 312.5h.01M474.1 314.4h.01M479.2 309.2h.01M472.1 318.9h.01M486.1 309.5h.01M474.4 305.5h.01M485.4 304.5h.01M478.8 309.7h.01M478.2 293.2h.01M472.9 308h.01M471.4 290.6h.01M470.1 306.5h.01M484.7 302.6h.01M469.2 298.7h.01M478.3 285.5h.01M468.1 319.9h.01M471.6 293.5h.01M476.1 304.7h.01M470.3 299.9h.01M479 313.7h.01M468.2 294.7h.01M482.9 318.9h.01M483.5 300h.01M488.1 293.3h.01M469 301.1h.01M495.3 310.1h.01M475.7 308h.01M493.5 291.8h.01M485.6 295.5h.01M475.3 292.9h.01M474.1 295.3h.01M469.1 297.1h.01M470.6 310.8h.01M486 282.2h.01"/></g>
<!-- 13_master.py -->
<path class="p" d="M510.8 342.5L508.2 341.6L505.7 340.2L503.5 338.1L501.5 335.5L499.9 332.3L498.7 328.8L498 324.9L497.6 320.8L497.7 316.5L498.3 312.3L499.3 308.1L500.6 304.1L502.4 300.3L504.5 297L506.8 294L509.4 291.7L512.1 289.9L514.9 288.7L517.8 288.2L520.6 288.3L537.2 298 L542 300.8 L566.5 313.8 L572 352 L611 367 L612 382 L524.7 344.6 Z" style="stroke:none"/><path class="n" d="M510.8 342.5L508.2 341.6L505.7 340.2L503.5 338.1L501.5 335.5L499.9 332.3L498.7 328.8L498 324.9L497.6 320.8L497.7 316.5L498.3 312.3L499.3 308.1L500.6 304.1L502.4 300.3L504.5 297L506.8 294L509.4 291.7L512.1 289.9L514.9 288.7L517.8 288.2L520.6 288.3" style="stroke-width:2.18"/><path class="n" d="M516.4 341.2L514.4 340.6L512.4 339.4L510.7 337.6L509.2 335.2L507.9 332.4L507 329.2L506.3 325.7L506 321.9L506 317.9L506.4 314L507.1 310L508.2 306.2L509.5 302.6L511 299.4L512.8 296.6L514.8 294.2L516.9 292.4L519 291.1L521.2 290.5L523.4 290.4" style="stroke-width:1.84"/><path class="n" d="M524.7 344.6L523 344.2L521.4 343.1L520 341.4L518.7 339.3L517.6 336.6L516.7 333.5L516.1 330L515.7 326.3L515.6 322.4L515.8 318.4L516.3 314.4L517 310.6L518 307L519.2 303.7L520.5 300.8L522 298.3L523.7 296.3L525.4 294.9L527.1 294.2L528.9 294" style="stroke-width:1.84"/><path class="n" d="M526.8 344.6L525.5 343.6L524.2 342.2L523.1 340.4L522.1 338.1L521.3 335.5L520.7 332.6L520.3 329.5L520.1 326.2L520.1 322.8L520.3 319.3L520.7 315.9L521.3 312.5L522.1 309.4L523.1 306.4L524.2 303.7L525.4 301.4L526.8 299.4L528.2 297.9L529.7 296.8L531.2 296.2" style="stroke-width:1.38"/><path class="n" d="M520.6 288.3 L537.2 298 L538 300 L542.5 301 L566.5 313.8 M510.8 342.5 L524.7 344.6 L612 382" style="stroke-width:2.07"/><path class="p" d="M564.8 318.5 Q565.5 333 570.5 344.5 Q575 352.5 588 350.5 Q598 348.5 602.5 343 L606.5 369 L613 371 L617 320 Z" style="stroke-width:1.84"/><path class="t" d="M571.5 330 Q572 340 575.5 347" style="stroke-width:1.49"/><ellipse class="p" cx="590.4" cy="318.6" rx="25.6" ry="13" style="stroke-width:2.07"/><path class="n" d="M564.8 319 Q566 330 590.4 335.5 Q612 335 616 321" style="stroke-width:1.72"/><ellipse class="p" cx="590.6" cy="317.6" rx="14.2" ry="7.4" style="stroke-width:2.07"/><clipPath id="bosshole"><ellipse cx="590.6" cy="317.6" rx="13.6" ry="6.9"/></clipPath><g clip-path="url(#bosshole)"><path class="t" d="M577 319.8L577.1 318.9L577.5 318.1L578 317.3L578.8 316.5L579.8 315.8L581 315.1L582.3 314.6L583.8 314.1L585.4 313.7L587.1 313.4L588.8 313.3L590.6 313.2L592.4 313.3L594.1 313.4L595.8 313.7L597.4 314.1L598.9 314.6L600.2 315.1L601.4 315.8L602.4 316.5L603.2 317.3L603.7 318.1L604.1 318.9L604.2 319.8" style="stroke-width:1.44"/><path class="t" d="M577 321.9L577.1 321L577.5 320.2L578 319.4L578.8 318.6L579.8 317.9L581 317.2L582.3 316.7L583.8 316.2L585.4 315.8L587.1 315.5L588.8 315.4L590.6 315.3L592.4 315.4L594.1 315.5L595.8 315.8L597.4 316.2L598.9 316.7L600.2 317.2L601.4 317.9L602.4 318.6L603.2 319.4L603.7 320.2L604.1 321L604.2 321.9" style="stroke-width:1.44"/><path class="t" d="M577 324L577.1 323.1L577.5 322.3L578 321.5L578.8 320.7L579.8 320L581 319.3L582.3 318.8L583.8 318.3L585.4 317.9L587.1 317.6L588.8 317.5L590.6 317.4L592.4 317.5L594.1 317.6L595.8 317.9L597.4 318.3L598.9 318.8L600.2 319.3L601.4 320L602.4 320.7L603.2 321.5L603.7 322.3L604.1 323.1L604.2 324" style="stroke-width:1.44"/><path class="t" d="M577 326.1L577.1 325.2L577.5 324.4L578 323.6L578.8 322.8L579.8 322.1L581 321.4L582.3 320.9L583.8 320.4L585.4 320L587.1 319.7L588.8 319.6L590.6 319.5L592.4 319.6L594.1 319.7L595.8 320L597.4 320.4L598.9 320.9L600.2 321.4L601.4 322.1L602.4 322.8L603.2 323.6L603.7 324.4L604.1 325.2L604.2 326.1" style="stroke-width:1.44"/></g><path class="n" d="M577.1 317L577.3 316.2L577.8 315.3L578.4 314.5L579.2 313.8L580.2 313.1L581.4 312.5L582.7 312L584.1 311.5L585.7 311.2L587.3 310.9L588.9 310.8L590.6 310.7L592.3 310.8L593.9 310.9L595.5 311.2L597.1 311.5L598.5 312L599.8 312.5L601 313.1L602 313.8L602.8 314.5L603.4 315.3L603.9 316.2L604.1 317" style="stroke-width:2.76"/>
<path class="p" d="M618.5 324.8 Q611 325.5 606.5 332 Q603.8 337 604.6 342 L609.3 386.5 Q610.5 392.5 617 396.5 L640 409.5 L651 409.5 L660 350 Z" style="stroke-width:1.95"/><path class="p" d="M627 328.6 Q620 329 616.5 335 Q614.2 339.5 615 344 L619.6 388 Q620.5 393.5 626 397 L648 410 Q654 412.5 659 409.5 Q664 405 665 398 L661.5 352 Q660 345.5 654 341.5 L632 330 Q629.5 328.6 627 328.6Z" style="stroke-width:1.95"/><path class="p" d="M623.4 348.5L622.8 347.7L622.6 346.2L623 344.3L623.8 342.4L624.9 340.5L626.2 339.2L627.5 338.5L628.6 338.5L644.4 346.6L645 347.4L645.2 348.9L644.8 350.8L644 352.7L642.9 354.6L641.6 355.9L640.3 356.6L639.2 356.6Z" style="stroke-width:1.61"/><path class="t" d="M634 341.3L634.7 342.1L634.9 343.6L634.5 345.5L633.7 347.5L632.6 349.3L631.3 350.6L630 351.4L628.9 351.3" style="stroke-width:1.95"/><path class="t" d="M635.9 342.3L636.5 343.1L636.7 344.5L636.4 346.4L635.6 348.4L634.4 350.2L633.1 351.6L631.8 352.3L630.8 352.2" style="stroke-width:1.95"/><path class="t" d="M637.7 343.2L638.4 344L638.6 345.5L638.2 347.4L637.4 349.3L636.3 351.2L634.9 352.5L633.7 353.2L632.6 353.2" style="stroke-width:1.95"/><path class="t" d="M639.6 344.2L640.2 345L640.4 346.4L640.1 348.3L639.2 350.3L638.1 352.1L636.8 353.5L635.5 354.2L634.5 354.1" style="stroke-width:1.95"/><path class="t" d="M641.4 345.1L642.1 345.9L642.2 347.4L641.9 349.2L641.1 351.2L639.9 353.1L638.6 354.4L637.3 355.1L636.3 355.1" style="stroke-width:1.95"/><path class="t" d="M643.2 346L643.9 346.9L644.1 348.3L643.7 350.2L642.9 352.2L641.8 354L640.5 355.4L639.2 356.1L638.1 356" style="stroke-width:1.95"/><path class="p" d="M652.5 399.5L651.8 398.7L651.6 397.3L652 395.4L652.7 393.4L653.9 391.5L655.2 390.2L656.4 389.4L657.5 389.5L671 396.2L671.7 397L671.9 398.4L671.5 400.3L670.8 402.3L669.6 404.2L668.3 405.5L667.1 406.3L666 406.2Z" style="stroke-width:1.61"/><path class="t" d="M662.2 391.8L662.8 392.6L663 394.1L662.7 395.9L661.9 397.9L660.8 399.8L659.5 401.2L658.2 401.9L657.2 401.8" style="stroke-width:1.95"/><path class="t" d="M663.7 392.6L664.4 393.4L664.6 394.8L664.3 396.7L663.5 398.7L662.4 400.6L661.1 401.9L659.8 402.7L658.8 402.6" style="stroke-width:1.95"/><path class="t" d="M665.3 393.4L666 394.2L666.2 395.6L665.9 397.5L665.1 399.5L664 401.3L662.7 402.7L661.4 403.4L660.3 403.4" style="stroke-width:1.95"/><path class="t" d="M666.9 394.2L667.6 395L667.8 396.4L667.4 398.3L666.7 400.3L665.5 402.1L664.2 403.5L663 404.2L661.9 404.2" style="stroke-width:1.95"/><path class="t" d="M668.5 394.9L669.1 395.7L669.3 397.2L669 399.1L668.2 401.1L667.1 402.9L665.8 404.3L664.5 405L663.5 405" style="stroke-width:1.95"/><path class="t" d="M670 395.7L670.7 396.5L670.9 398L670.6 399.8L669.8 401.9L668.7 403.7L667.4 405.1L666.1 405.8L665.1 405.7" style="stroke-width:1.95"/><path class="n" d="M636.7 388.8L634.8 388.4L633 387.6L631.4 386.4L630.1 384.9L629 383L628.2 380.8L627.7 378.3L627.5 375.7L627.6 373L628 370.2L628.8 367.4L629.8 364.7L631 362.1L632.5 359.7L634.2 357.6L636.1 355.7L638.1 354.2L640.1 353.1L642.2 352.4L644.2 352.1L646.2 352.3L648 352.9L649.7 353.8L651.2 355.2" style="stroke-width:1.72"/><path class="n" d="M640.7 390.5L638.7 390.1L636.9 389.3L635.3 388.1L633.9 386.5L632.8 384.5L631.9 382.3L631.4 379.8L631.1 377.2L631.2 374.4L631.7 371.6L632.4 368.7L633.4 366L634.7 363.4L636.2 361L638 358.8L639.9 357L641.9 355.5L644 354.4L646.1 353.7L648.2 353.4L650.2 353.6L652.1 354.2L653.8 355.2L655.3 356.6" style="stroke-width:1.72"/><ellipse class="p" cx="650" cy="373.6" rx="13.6" ry="19.6" transform="rotate(20 650 373.6)" style="stroke-width:2.18"/><ellipse class="p" cx="651.2" cy="374" rx="10.4" ry="16" transform="rotate(20 651.2 374)" style="stroke-width:1.95"/><path class="t" d="M654.1 359.6L655.2 359.7L656.2 360.1L657.2 360.7L658 361.4L658.8 362.3L659.5 363.4L660 364.6L660.4 366L660.7 367.4L660.8 368.9L660.8 370.5L660.7 372.2L660.4 373.9L660 375.6L659.4 377.2L658.8 378.8L658 380.4L657.1 381.8L656.2 383.2L655.2 384.4L654.1 385.5L652.9 386.5L651.8 387.2L650.6 387.8" style="stroke-width:1.15"/><path class="t" d="M653.6 361.1L654.6 361.3L655.5 361.6L656.3 362.1L657.1 362.8L657.7 363.6L658.3 364.5L658.7 365.6L659.1 366.8L659.3 368.1L659.4 369.5L659.4 371L659.2 372.5L659 374L658.6 375.5L658.1 377L657.5 378.5L656.8 379.9L656 381.2L655.2 382.4L654.3 383.6L653.3 384.6L652.3 385.4L651.3 386.1L650.2 386.7" style="stroke-width:1.15"/><path class="t" d="M653.2 362.7L654 362.8L654.7 363.1L655.5 363.5L656.1 364.1L656.6 364.8L657.1 365.7L657.5 366.6L657.7 367.7L657.9 368.9L658 370.1L658 371.4L657.8 372.7L657.6 374.1L657.2 375.4L656.8 376.8L656.2 378.1L655.6 379.4L655 380.6L654.2 381.7L653.4 382.7L652.6 383.6L651.7 384.4L650.8 385L649.9 385.5" style="stroke-width:1.15"/><path class="t" d="M651.4 384.5L650.3 385.4L649.2 386.2L648.1 386.8L647 387.2L645.9 387.4L644.9 387.4L643.9 387.3L642.9 386.9L642.1 386.4L641.3 385.7L640.6 384.8L640 383.8L639.6 382.6L639.2 381.4L639 380L638.9 378.5L638.9 376.9L639.1 375.3L639.4 373.7L639.8 372.1L640.3 370.5L641 368.9L641.7 367.4L642.5 365.9" style="stroke-width:1.61"/>
<ellipse class="p" cx="590.8" cy="298.6" rx="26" ry="11.6" style="stroke-width:2.30"/><ellipse class="p" cx="590.8" cy="296.2" rx="26" ry="11.8" style="stroke-width:2.30"/><ellipse class="p" cx="590.8" cy="295.6" rx="14.2" ry="6.2" style="stroke-width:2.53"/><g clip-rule="evenodd"><clipPath id="c4"><path d="M615.8 296.2L615.5 297.9L614.6 299.6L613.1 301.2L611 302.7L608.5 304L605.5 305.1L602.1 306L598.5 306.7L594.7 307.1L590.8 307.2L586.9 307.1L583.1 306.7L579.5 306L576.1 305.1L573.1 304L570.6 302.7L568.5 301.2L567 299.6L566.1 297.9L565.8 296.2L566.1 294.5L567 292.8L568.5 291.2L570.6 289.7L573.1 288.4L576.1 287.3L579.5 286.4L583.1 285.7L586.9 285.3L590.8 285.2L594.7 285.3L598.5 285.7L602.1 286.4L605.5 287.3L608.5 288.4L611 289.7L613.1 291.2L614.6 292.8L615.5 294.5L615.8 296.2ZM606 295.6L605.8 296.7L605.3 297.8L604.3 298.8L603.1 299.7L601.5 300.5L599.7 301.3L597.7 301.8L595.5 302.3L593.2 302.5L590.8 302.6L588.4 302.5L586.1 302.3L583.9 301.8L581.9 301.3L580.1 300.5L578.5 299.7L577.3 298.8L576.3 297.8L575.8 296.7L575.6 295.6L575.8 294.5L576.3 293.4L577.3 292.4L578.5 291.5L580.1 290.7L581.9 289.9L583.9 289.4L586.1 288.9L588.4 288.7L590.8 288.6L593.2 288.7L595.5 288.9L597.7 289.4L599.7 289.9L601.5 290.7L603.1 291.5L604.3 292.4L605.3 293.4L605.8 294.5L606 295.6Z"/></clipPath><path clip-path="url(#c4)" class="d" stroke-width="1.1" style="stroke:#111" d="M600.6 304.2h.01M592.1 296.8h.01M585.3 309.9h.01M579.6 287h.01M578.1 290h.01M581.7 290.2h.01M569.8 291.8h.01M580.8 298.4h.01M574.9 284.9h.01M574.9 297.6h.01M585 302.8h.01M607.4 294.2h.01M569.4 302.7h.01M604.8 293.7h.01M599.5 291.1h.01M613.4 305.5h.01M606.8 308.8h.01M576.6 297.7h.01M603.5 304.6h.01M585.1 286.7h.01M597.8 285.8h.01M602.1 283.2h.01M588.5 296h.01M570.5 296h.01M591 293h.01M612.4 306.4h.01M612.1 289.6h.01M565.4 293.2h.01M570.1 302h.01M578.2 286.5h.01M579.3 293.9h.01M603.7 295.4h.01M580.3 301.3h.01M566.4 288.6h.01M601.1 303.3h.01M569.5 284.8h.01M591.3 300.7h.01M564.9 294.8h.01M578.8 285.3h.01M573.2 290.7h.01M589.2 286h.01M597.5 306.7h.01M600.9 284.8h.01M599 300.1h.01M564.5 293.4h.01M599.2 308.7h.01M614.2 298.4h.01M595.8 308.9h.01M575.4 296.7h.01M567.3 303.9h.01M599.3 288.7h.01M574.6 297.1h.01M604.6 286.7h.01M581.5 296.8h.01M578.1 306.9h.01M603.2 308.8h.01M598.6 301.4h.01M579.4 296.6h.01M587.2 295.9h.01M567.4 305.9h.01M572.3 295.4h.01M614.2 296.8h.01M610.9 290h.01M589.2 293.2h.01M581.5 293h.01M588 305.7h.01M616.4 285.6h.01M600.1 297.3h.01M586.3 284.1h.01M583.5 291.6h.01M583.8 299h.01M583.8 291h.01M578.8 309.4h.01M585.2 309.3h.01M572.9 300.9h.01M593.9 302.2h.01M591.8 306.6h.01M595.7 284.3h.01M600.9 299.6h.01M577.2 302.7h.01M609.1 290.5h.01M572 290.8h.01M595.8 295h.01M567.9 295.1h.01M593.6 298.6h.01M583.1 304.2h.01M600.5 290h.01M582.7 308h.01M575.9 295.1h.01M580.4 298.7h.01M606.9 286.3h.01M574.3 284.7h.01M570.8 297.1h.01M590.4 308.5h.01M588.5 297.2h.01M565.4 289.1h.01M580.7 289.6h.01M606.6 294.3h.01M571.4 297.4h.01M572.4 288h.01M596.8 285.3h.01M604.9 294.8h.01M567.5 301.2h.01M615.9 302.9h.01M609.4 308.4h.01M578.7 296.1h.01M604 293.7h.01M616.2 294.4h.01M565.2 285.6h.01M587.1 283.5h.01M596.9 309.9h.01M614.4 309.6h.01M577.4 287.9h.01M567.8 308.1h.01M565.4 285h.01M600 308.6h.01M592.8 284.7h.01M565.9 305.1h.01M601.2 291.4h.01M617.1 290.6h.01M572 309.1h.01M567 292.8h.01M573.7 300.3h.01M590.4 289.8h.01M597.9 285.9h.01M617.1 304.2h.01M575.3 299.1h.01M578.7 298.5h.01M581 288.7h.01M590.5 284.9h.01M617.6 304.3h.01M576.3 299.2h.01M573.5 287.5h.01M584.7 302.3h.01M567.7 308.3h.01M577.6 287.4h.01M590.3 307.4h.01M586.4 297.5h.01M617.3 297.2h.01M582.7 288.1h.01M592.2 300h.01M596 288.2h.01M564.7 309.1h.01M601.2 305.8h.01M609.4 294.5h.01M574.1 309h.01M612.4 284.8h.01M598 296.5h.01M565.3 298.4h.01M599.1 295.1h.01M577.8 306.9h.01M600.3 290.5h.01M606 307.6h.01M585 298.5h.01M569.1 286.6h.01M609.9 308.8h.01M614.3 287h.01M601.9 293.6h.01M575.6 307.1h.01M569.2 285.2h.01M582.9 286.9h.01M585.4 300h.01M591.8 307.9h.01M590.1 286.9h.01M593.6 283.6h.01M599.6 287.3h.01M590.3 294.8h.01M614.2 286.4h.01M579.2 291.9h.01M592.1 293.4h.01M617 308h.01M615 301.1h.01M607 297.9h.01M574.9 287.5h.01M574.2 303.7h.01M600.1 283.9h.01M579.8 285h.01M592.3 292.2h.01M590.1 293h.01M585.8 295.3h.01M606.5 284.9h.01M604.9 298.8h.01M606.7 287.2h.01M579.6 307.5h.01M615.8 290.4h.01M584.3 292.1h.01M581.7 308.6h.01M591.1 294.5h.01M612.8 300.1h.01M614.6 300.5h.01M587.9 285.1h.01M590.8 297.1h.01M597.3 305.9h.01M583.8 297.8h.01M608.5 308.6h.01M608.5 290.1h.01M608.5 301.2h.01M581 297.9h.01M606.9 304.8h.01M577.2 296.2h.01M599.8 287.6h.01M605.2 304.3h.01M595.4 308.8h.01M581.1 290.5h.01M616.5 299.6h.01M564.3 294.7h.01M581.1 305.3h.01M616.5 286.7h.01M600.6 306.1h.01M570.2 294.9h.01M565.8 292.6h.01M595.5 302.1h.01M578.8 300.8h.01M593.9 292.8h.01M591.3 304.6h.01M606.6 294.3h.01M606.8 294.9h.01M589.5 289.1h.01M590.9 284.5h.01M609.7 293h.01M583.4 306.1h.01M601 295.3h.01M610.6 299.1h.01M610.5 290.1h.01M606.4 308.6h.01M585.6 303.5h.01M616.6 299h.01M604.9 286h.01M570.2 305.2h.01M605.6 287.2h.01M606.8 286.9h.01M610 308.1h.01M592.7 291.1h.01M605.1 306.4h.01M572.4 295.7h.01M599 303.6h.01M564.8 304.7h.01M597.7 305.2h.01M571 294.2h.01M597.8 307.2h.01M586.3 308.4h.01M592.6 307.7h.01M616.7 285.1h.01M575.1 291.5h.01M592.8 302.3h.01M596 292.3h.01M573.5 294.7h.01M617.6 288.2h.01M573.6 297.6h.01M573.6 304.5h.01M589.8 285.1h.01M589.5 301.9h.01M595.5 289.1h.01M614.7 285.9h.01M565.4 289.6h.01M611.7 297.2h.01M599.5 293h.01M583.4 294.9h.01M574.1 299h.01M580.9 308.7h.01M606.1 288.1h.01M614.4 286.3h.01M614 295.1h.01M608.9 297.2h.01M587 292.7h.01M594.5 297.3h.01M570.6 295.9h.01M590 305.7h.01M573 288.2h.01M568.6 293.6h.01M586.5 292.7h.01M568.7 307.9h.01M566.9 301.4h.01M575.8 296.1h.01M585.5 296.6h.01M569.5 288.8h.01M569 302h.01M565.3 301.2h.01M578.6 285.9h.01M609.1 303.1h.01M571.6 289.9h.01M604.4 291.3h.01M604.2 298.2h.01M593.8 290.9h.01M592.6 306.7h.01M568.8 296.1h.01M590.4 283.4h.01M579.3 288.4h.01M600.2 301.4h.01M598.1 294.1h.01M607.2 305.3h.01M601.6 284.4h.01M574.2 305.3h.01M575.1 299.2h.01M613.7 291.3h.01M588 293.1h.01M593.7 292.5h.01M575.3 308.7h.01M584.4 308.5h.01M587.2 286.8h.01"/></g>
<!-- 14_reservoir.py -->
<path class="p" d="M560.6 196 L560.6 264 Q561 280 575 283.4 Q592 286 609 283.4 Q622.6 280 623 264 L623 196 Z" style="stroke-width:2.99"/><clipPath id="c5"><path d="M560.6 196 L560.6 264 Q561 280 575 283.4 Q592 286 609 283.4 Q622.6 280 623 264 L623 196 Z"/></clipPath><path clip-path="url(#c5)" class="d" stroke-width="1.1" style="stroke:#111" d="M571 256.2h.01M572.1 240.5h.01M590.7 237.7h.01M603.5 267.6h.01M621.3 217.3h.01M607.5 248.4h.01M603.7 275.5h.01M573.3 223.2h.01M623.4 216.1h.01M594.5 250h.01M613.5 250.6h.01M587.8 233h.01M565.7 260.1h.01M613.4 245.6h.01M568.8 209.8h.01M601.8 245.5h.01M619.1 253.3h.01M613 258h.01M624 208.1h.01M617.4 239.5h.01M571 233.9h.01M585.2 259.9h.01M581.3 273h.01M567.3 286.5h.01M560.2 248h.01M589.3 205.2h.01M609.8 234.4h.01M599.3 239h.01M616.8 278.3h.01M607.2 223h.01M613.6 280.6h.01M607.6 284.5h.01M620.4 219.9h.01M614.4 259.6h.01M563.3 225.9h.01M620.8 261.5h.01M624.7 197h.01M612 200.2h.01M568 257.5h.01M566.1 272.7h.01M594 204h.01M569.7 284.8h.01M594 278.5h.01M615.7 257.6h.01M560.4 254.9h.01M571.6 286.7h.01M597.1 221.5h.01M568.2 254.7h.01M567.5 261.2h.01M560.1 234.6h.01M592.8 220.4h.01M592 218.1h.01M563 251.2h.01M592.4 251.7h.01M559.9 256.1h.01M596.6 215.7h.01M624.2 286.4h.01M560.9 245.6h.01M564.5 259h.01M572.8 265.1h.01M604.3 245h.01M583.6 199.2h.01M563.2 280.4h.01M576.1 284h.01M617.4 275.6h.01M620.3 215.1h.01M572.4 249.6h.01M612.5 267.4h.01M562.6 256.9h.01M597.6 273.5h.01M583.1 244.6h.01M591.4 217h.01M571.6 209.3h.01M584.3 282h.01M619.8 240.7h.01M596.7 259.4h.01M585 243.4h.01M603.3 201h.01M608.9 271.6h.01M563.6 275.7h.01M621.5 277.9h.01M603.5 269.9h.01M596.9 218.1h.01M597.4 235h.01M586.9 257.7h.01M571.1 211.7h.01M606.1 213.1h.01M580.6 282h.01M615.2 271h.01M600.6 223h.01M573.7 260h.01M563.6 233.7h.01M611 214.8h.01M561 203.9h.01M620.3 252h.01M619.1 257.2h.01M596.3 272.2h.01M622.3 232.9h.01M602.6 278h.01M562.1 230.5h.01M618.2 225.9h.01M599.8 201.2h.01M593.2 218.9h.01M608.1 262.9h.01M566.4 257.9h.01M566.3 226.3h.01M584.9 222.3h.01M624.3 219.9h.01M580.1 246.8h.01M620.4 267h.01M601.1 230.6h.01M592.4 256.4h.01M571.2 261.4h.01M562 223.3h.01M562.1 243h.01M584 236.9h.01M584.8 241h.01M594.9 265.8h.01M566.7 280h.01M619.5 200.1h.01M590.6 251.9h.01M606.4 282.5h.01M562 212.6h.01M611.5 249.7h.01M570 270.7h.01M617.2 273.4h.01M577.4 207.4h.01M572.9 229.4h.01M564.5 268h.01M598.2 252.7h.01M598.3 253.7h.01M564.1 259h.01M577.7 269.6h.01M597.3 283.2h.01M617.8 241.1h.01M608.1 242.4h.01M616 265.5h.01M606 219.6h.01M562.6 211.2h.01M621.7 277.8h.01M563.5 226.3h.01M609.7 197.1h.01M598.1 279.3h.01M616.3 255.5h.01M593.6 249.2h.01M566.3 273.2h.01M609.2 226.9h.01M567 279.8h.01M595.8 207.9h.01M565.9 253.5h.01M566.7 274.3h.01M576 238.6h.01M612.7 238.5h.01M587 235.8h.01M611 248h.01M585.9 213.5h.01M613.3 197.5h.01M594.5 228h.01M619.9 239.8h.01M571.7 259.5h.01M614.9 279.7h.01M559.7 224.5h.01M563.5 205.4h.01M609.6 237.9h.01M566.6 261.4h.01M605.3 230.2h.01M563.2 201.7h.01M613.7 227h.01M594.5 242h.01M613.9 203.9h.01M601.4 241.8h.01M599.2 211.8h.01M562.5 220.2h.01M621.1 199.4h.01M623.2 223.2h.01M591.3 283.7h.01M580.9 267.2h.01M599.1 224h.01M593.4 202.4h.01M614.9 200.8h.01M600.2 227.7h.01M610.1 204.3h.01M616.6 231.4h.01M561.7 255.8h.01M567.4 198.9h.01M579.3 275.6h.01M584.2 267.5h.01M593.9 220.9h.01M596.1 257.7h.01M614.1 274.4h.01M559.2 265.4h.01M617.9 281.4h.01M604.5 244.9h.01M607.2 251.5h.01M594.3 223.8h.01M601.2 201.9h.01M616.8 250.8h.01M593.8 238.5h.01M576 273h.01M572.3 223h.01M564.6 257.5h.01M602.8 274.3h.01M565.1 274.8h.01M605 235h.01M593.1 273.4h.01M608.9 263.4h.01M559.2 248.1h.01M599.6 266.1h.01M570.1 220.8h.01M618 208.2h.01M623.1 254.3h.01M625 198.9h.01M582.2 270.8h.01M609.1 222.4h.01M607.3 272.4h.01M596.9 276.9h.01M618.8 210.1h.01M611 238.1h.01M594.4 210.5h.01M580.3 199.3h.01M603.9 205.2h.01M569.1 209.7h.01M599.2 231.5h.01M613.5 252.9h.01M599.9 220.1h.01M560.6 264.9h.01M612.2 270.1h.01M604.4 235.6h.01M577.6 279.6h.01M590.8 236.2h.01M601.7 280.3h.01M588.1 198.4h.01M594.2 231.5h.01M601.1 285.5h.01M617.6 218.3h.01M593.2 199.9h.01M613 273.6h.01M587.2 241.5h.01M567.5 206.6h.01M569.7 200.9h.01M604.6 258.8h.01M602.2 207.1h.01M573 252.6h.01M585.3 244.2h.01M559.9 230h.01M592.2 206.3h.01M564.1 222.3h.01M596.3 243.8h.01M579.7 265.1h.01M585.3 284.2h.01M588.9 241.6h.01M573.4 243.4h.01M605.5 285.3h.01M616.6 265h.01M559.9 239.6h.01M585.7 280.4h.01M610.5 242.8h.01M597.1 278.2h.01M606 217.3h.01M588.9 251.3h.01M607.6 220.3h.01M563.8 218.9h.01M593.3 199.3h.01M601.8 240.8h.01M606.7 220.9h.01M562.3 214.5h.01M597.9 228.5h.01M606.8 223.9h.01M610.6 260.9h.01M604.6 259.3h.01M612.3 284.7h.01M615.8 216h.01M602.4 201.3h.01M621.1 259.6h.01M591.9 210.2h.01M618.3 240.1h.01M560.8 268.8h.01M621.7 241.9h.01M583.8 249.6h.01M565.6 280.5h.01M606.3 245.5h.01M601.9 232.6h.01M565.5 251.5h.01M607.1 272h.01M559.4 242.2h.01M599.6 232.4h.01M566.6 198.8h.01M565 221.5h.01M572.7 224.2h.01M597.7 253.1h.01M597.5 196.9h.01M608.1 228.2h.01M600.2 272.8h.01M592.2 204.9h.01M591.6 268.6h.01M622.9 265.2h.01M567.9 248.7h.01M593.8 229.2h.01M562.4 214.5h.01M594.7 280.4h.01M564.3 249.6h.01M569.9 250h.01M588.2 235h.01M603.3 249.5h.01M578.7 238.4h.01M583 286h.01M606.5 216.2h.01M606.7 241.3h.01M602.1 273.4h.01M589.4 229.1h.01M599.8 215.1h.01M606.6 221.6h.01M612.5 282.6h.01M564.1 263.9h.01M573.6 282.4h.01M622.7 201.2h.01M593.1 283.5h.01M620.2 199.8h.01M597.3 208.9h.01M606 260.1h.01M584.1 272.9h.01M573.1 197.9h.01M592.5 220.7h.01M568.4 216.3h.01M591.1 278.6h.01M580.2 277.7h.01M574.7 207h.01M582.9 213.3h.01M563.9 256.4h.01M582.6 280.9h.01M560.8 232h.01M610.7 262.7h.01M609.6 242.7h.01M597.9 252.1h.01M619.2 204.5h.01M565.7 283.7h.01M595.7 281.4h.01M624.8 208.5h.01M624 279.9h.01M621.5 252.3h.01M573.6 276.2h.01M620.7 241.5h.01M622.5 286.4h.01M623.8 203.1h.01M618.9 250.3h.01M561.2 239.3h.01M617 273.2h.01M569.5 251.7h.01M573.1 240.7h.01M602.9 241.5h.01M597.8 220.7h.01M608 212.4h.01M596.4 277.6h.01M563.6 205.4h.01M604.4 265.4h.01M575.3 280.1h.01M572.7 219.2h.01M591.7 245.3h.01M613 224.7h.01M569.1 284.5h.01M606.4 247.8h.01M614.7 219.6h.01M565.7 281h.01M588.9 198.9h.01M616.6 255.6h.01M585.5 261.2h.01M620.6 207.1h.01M598 217.7h.01M610.7 253.7h.01M619.5 229.4h.01M597 233.5h.01M616.3 202.7h.01M559.7 286.9h.01M574.8 206.7h.01M602.4 205.7h.01M569.3 255.1h.01M601.9 220.1h.01M612 234.3h.01M585.8 274h.01M588 265.6h.01M566.6 269.9h.01M602 266h.01M612.2 249.8h.01M576.7 284.6h.01M599.7 244h.01M599.2 255.6h.01M608.7 285.4h.01M585 286.7h.01M616.1 273.7h.01M588.2 278.3h.01M610.6 206.6h.01M561.8 287h.01M559.1 234.3h.01M566.8 233.4h.01M608.2 224.1h.01M598.5 228.6h.01M573.4 272.5h.01M572.5 238.5h.01M600.9 196.2h.01M601.5 207.7h.01M577 270.5h.01M598.9 279.7h.01M595 239.2h.01M582.8 212.7h.01M598.8 218.8h.01M610.2 226.6h.01M587.5 249.6h.01M597.7 263h.01M563.9 210.5h.01M597.2 272.6h.01M616.1 273.7h.01M619.6 200.6h.01M606.9 242.9h.01M622.7 263.6h.01M601.6 269.2h.01M591.5 256.9h.01M564.5 232.1h.01M611.3 243.6h.01M618.7 200.3h.01M587.7 236.2h.01M599.5 269h.01M606.4 208.8h.01M595.1 279.2h.01M599.9 223.4h.01M566.9 201.9h.01M611.2 260.3h.01M564.5 242.3h.01M610.6 246.9h.01M586.7 247.5h.01M589.6 224.3h.01M560.1 229.5h.01M564.9 215.9h.01M597.8 237.9h.01M612.6 242.6h.01M571.5 263.7h.01M604.9 205.6h.01M567.4 254.7h.01M590.1 249.2h.01M617.4 254.6h.01M609 238.7h.01M603.4 236.9h.01M580.3 202.3h.01M621.4 253.4h.01M570 209.6h.01M618.3 202.8h.01M565.9 278.7h.01M606.3 215.5h.01M561.5 216.3h.01M603 209h.01M605.5 277.8h.01M588.6 241.5h.01M620.9 218.2h.01M610.3 212.8h.01M615.6 212h.01M604.2 256.2h.01M600 213.8h.01M593.8 281h.01M582.6 220.2h.01M566.8 220.9h.01M564.6 250.8h.01M578.6 280.8h.01M612.2 202.3h.01M619.3 223.8h.01M623.7 255.1h.01M607.3 252.5h.01M591.8 231.2h.01M611.3 205.6h.01M599.1 246.7h.01M595.9 197.2h.01M590.7 274.3h.01M616.5 276.6h.01M603.6 235.8h.01M573.7 201.4h.01M600.1 234h.01M560.3 247.2h.01M563.9 276.1h.01M604.2 264h.01M602.8 266.2h.01M586.9 276.2h.01M587.5 278.9h.01M599.2 218.3h.01M562.8 254.4h.01M564.8 257.6h.01M583 201.3h.01M604.7 252h.01M624.6 198.5h.01M605 230.3h.01M562.6 222.1h.01M608.1 275.9h.01M566.7 216.2h.01M590.7 268.9h.01M559 270.1h.01M605.5 222.7h.01M618.9 196.2h.01M583.2 222.7h.01M594 204.8h.01M575.5 196.1h.01M562.1 264.2h.01M563.4 205.6h.01M624.1 253.2h.01M560.2 198.3h.01M611.2 254.5h.01M582.9 207.3h.01M588.6 201.6h.01M611.6 241h.01M623.1 261.7h.01M600 208h.01M595.4 284.4h.01M570.7 226.3h.01M586.3 252.3h.01M578.7 231.9h.01M607.5 225.6h.01M599.6 219.6h.01M614.1 258.7h.01M565.6 252.7h.01M603.2 276.2h.01M620 202.5h.01M575.4 197.5h.01M609.8 284.8h.01M615.1 272.3h.01M565.4 221.8h.01M604.9 219.9h.01M623.3 272.5h.01M616.7 213.7h.01M570.7 268.9h.01M576 270.3h.01M593 215.1h.01M562 208.7h.01M617 252.9h.01M565 278.1h.01M592.3 245h.01M622.3 263.8h.01M608.2 221.8h.01M606.2 224.9h.01M561.3 282.2h.01M575.1 268.8h.01M616.6 219.5h.01M568.5 269.5h.01M585 205.8h.01M612 276.3h.01M566.9 219.3h.01M567.6 201.8h.01M611 283.8h.01M622 278.9h.01M596.9 201.5h.01M582.7 263.4h.01M623.6 223.3h.01M595.7 196.2h.01M596.5 264.1h.01M608.7 205.4h.01M593.4 250.4h.01M581.1 234.4h.01M604.4 227.8h.01M592.8 198.7h.01M611.7 261.5h.01M613.9 257.4h.01M572.9 275.4h.01M611.7 203.4h.01M620.3 212.8h.01M560.5 271.9h.01M620.6 279.2h.01M609.9 206.9h.01M617.4 198.1h.01M565.4 240h.01M584.2 222.6h.01M575.7 200h.01M604.5 250.1h.01M594.4 237.1h.01M560.2 261.6h.01M563.5 198.9h.01M563 223.8h.01M589.5 250.8h.01M586.9 237.8h.01M589.6 264.4h.01M599.3 264.2h.01M572.5 214.8h.01M563.4 210.6h.01M614.7 245.9h.01M592.1 278.5h.01M607.6 224.2h.01M623.8 262.2h.01M618.9 260.7h.01M599 266.8h.01M599.1 278.3h.01M595.1 228.3h.01M561.5 249.3h.01M605.5 199h.01M614.2 239.1h.01M590.8 279.5h.01M586.9 267.9h.01M609.7 222.3h.01M604.9 276.6h.01M570.2 233.7h.01M599 224.3h.01M604.4 229.2h.01M585.3 205.2h.01M575.1 282.1h.01M621.1 210.6h.01M560.4 270.2h.01M603.1 230.5h.01M618.9 231.2h.01M566.3 273.9h.01M602.2 262.6h.01M579.1 209.7h.01M621.2 250.8h.01M592.8 263.9h.01M564.1 253.8h.01M620.5 245h.01M595.3 224.6h.01M611.6 257.4h.01M609.3 231.4h.01M608.1 236.5h.01M605.1 213h.01M560.1 261.7h.01M612.2 233.3h.01M590.4 276.6h.01M567 227h.01M593.9 268h.01M597.6 274.2h.01M592.7 226.7h.01M603.4 268.5h.01M608.3 258.6h.01M591.8 240.4h.01M565.4 254.3h.01M599 282.6h.01M614.4 265.1h.01M605.5 224.7h.01M618.7 230.3h.01M574.1 238.4h.01M611.5 261.4h.01M609.5 263h.01M559.8 206h.01M602.9 200.6h.01M606 259.6h.01M564.4 196.3h.01M599.1 221.5h.01M617.9 229.4h.01M578.4 268.5h.01M562.8 256.2h.01M602.2 226.2h.01M562.1 285.5h.01M573.9 214.7h.01M584.6 233h.01M620.3 281h.01M594 223.8h.01M616.5 236h.01M595 271.3h.01M589.9 199.6h.01M596.5 265.9h.01M585.3 201.3h.01M605.3 246.5h.01M582.7 262.5h.01M623.1 219h.01M560.4 286.9h.01M559 259.6h.01M584.1 247.5h.01M616.5 200.4h.01M586.5 271.3h.01M569.4 196h.01M609.4 277.2h.01M576 196h.01M620.7 220.2h.01M604.1 202.6h.01M604.2 276.8h.01M574.2 199.2h.01M582.1 275.6h.01M576.6 209.2h.01M566.1 218.3h.01M573.7 261.1h.01M570.8 201.6h.01M563.9 270.7h.01M600.1 243.6h.01M572.5 219.7h.01M598.7 270.3h.01M601.7 275.4h.01M617.9 276.4h.01M588.9 232.9h.01M604.7 283.4h.01M585 198.1h.01M591.2 221.2h.01M623.2 231.8h.01M603.1 249.8h.01M615.6 198.8h.01M592.5 257.4h.01M562.2 201.3h.01M562.6 232.4h.01M598 208.8h.01M586 221.8h.01M567.2 279h.01M581.3 225.6h.01M564.5 259.4h.01M559.3 263.6h.01M561.2 211h.01M617.2 280.7h.01M622.8 250.1h.01M570.6 279.4h.01M589.1 221.8h.01M624.3 221.2h.01M618.6 262.4h.01M592.6 286.6h.01M622.6 241.9h.01M567.5 215.4h.01M623.1 244.5h.01M559.9 263.3h.01M609 215.3h.01M610.7 228.7h.01M583.9 196.6h.01M565.1 265h.01M598.1 205.9h.01M616.5 268.5h.01M579.6 274.2h.01M580.6 273.1h.01M621.4 271.4h.01M582.9 273.6h.01M582.3 202.5h.01M600.1 249.2h.01M610.6 214.2h.01M590.7 284.2h.01M583.7 223.1h.01M620 224h.01M618.2 225.7h.01M624 198.9h.01M599.2 286.8h.01M621.8 277.6h.01M570.8 233.4h.01M599.2 198h.01M616.6 198.4h.01M612.6 282.6h.01M589.1 265.9h.01M578.9 284.1h.01M615.8 230.5h.01M612.8 249h.01M613.3 239.6h.01M623.7 278.6h.01M589.5 281.5h.01M596.3 220.8h.01M595.3 244.2h.01M609.2 277h.01M584.9 257h.01M618.4 284.8h.01M611.2 201.4h.01M588.9 260h.01M620.3 244.6h.01M616.6 272h.01M599.8 219.5h.01M609 240.5h.01M575.5 239.9h.01M608.3 236h.01M598.2 251h.01M570.1 238.6h.01M592.8 231.3h.01M593.1 201h.01M582.7 237h.01M602.2 286.9h.01M609.5 227.4h.01M600.6 276.6h.01M615.2 280.9h.01M597.9 251.2h.01M582.2 278.5h.01M569.4 201.4h.01M610.2 214.4h.01M565.4 199.2h.01M595.6 265.4h.01M587 245.5h.01M624.3 251.7h.01M595.4 203h.01M581.8 198.2h.01M587.3 214.7h.01M608.9 208h.01M608.2 203.1h.01M616.6 221.9h.01M591.2 256.1h.01M572.2 203.7h.01M561.4 203.4h.01M592 206.5h.01M599.8 247.2h.01M618.7 280h.01M615.6 263.8h.01M603.2 217.1h.01M615 237.3h.01M602.5 262.2h.01M618.4 226.7h.01M606.2 206.3h.01M611.1 214.6h.01M618.2 245.8h.01M606.3 234.1h.01M598.1 253.5h.01M620.6 280.8h.01M569.5 287h.01M623.5 264.4h.01M612.6 206.2h.01M624.1 287h.01M593.4 254h.01M583.4 203.3h.01M616.5 237h.01M608.3 269.1h.01M576 282.4h.01M593.5 272.9h.01M598.3 265.3h.01M581.1 262h.01M609.1 228.3h.01M598.4 258.2h.01M573.2 249.3h.01M602.9 225.8h.01M603 263.5h.01M615.4 284.7h.01M619.5 279.3h.01M583.6 208.8h.01M616.8 281h.01M610.9 263.1h.01M602 277h.01M584.7 214.4h.01M623.8 283.8h.01M564.8 254h.01M581.9 262.6h.01M622.5 252.5h.01M617.9 197.4h.01M588 273h.01M618.9 271.8h.01M602.6 228h.01M610.8 261.4h.01M620.5 204.7h.01M611.9 219.7h.01M571.2 242.4h.01M620.7 200h.01M614.8 245.6h.01M564.5 282.8h.01M565.4 207.2h.01M589 239.3h.01M594.2 212.2h.01M608.1 266.5h.01M562.7 221.4h.01M623.2 216.3h.01M582.7 213.8h.01M594.1 207.1h.01M591.9 200.9h.01M568.9 199h.01M603 201.7h.01M562.2 276.8h.01M624.2 274.7h.01M624.5 242.5h.01M603.4 205.1h.01M591.7 201.2h.01M619 217.8h.01M614.4 242.9h.01M603 255.4h.01M583.5 236.1h.01M623.1 222h.01M600.9 262.8h.01M611.7 227.9h.01M614.2 244.7h.01M570.2 240.3h.01M563.3 202.7h.01M623 281.6h.01M571.8 199.9h.01M608.5 275.1h.01M606.7 273h.01M594.1 281.9h.01M619.4 208.1h.01M566.6 255.8h.01M592.9 250.2h.01M603.6 264.6h.01M596.7 200.6h.01M591.2 278.2h.01M592.2 226.2h.01M621.1 240.3h.01M615.9 200.4h.01M618.5 258.2h.01M621 211.4h.01M589.9 267.3h.01M605.9 246.3h.01M606.9 255.1h.01M605 235.3h.01M561.8 216.3h.01M617.9 220.6h.01M589 199.8h.01M601.3 203.9h.01M585.2 201.2h.01M598.9 270.4h.01M572.7 196.5h.01M619.3 275.1h.01M612.7 253.8h.01M624.9 197.8h.01M592.8 208.9h.01M607.3 273.4h.01M576.3 199.9h.01M606.7 285.6h.01M603.9 280.6h.01M600.8 265.5h.01M573.1 204.5h.01M609.9 280.8h.01M568.4 200.7h.01M613.6 228.5h.01M600.1 280.8h.01M613.5 230.6h.01M593 205.8h.01M617.5 265.3h.01M619.6 209.4h.01M607.3 251.9h.01M579.2 204.3h.01M605.4 247.5h.01M591.2 278.3h.01M573.1 252.4h.01M602.9 255.2h.01M621.1 255.4h.01M560.9 240h.01M594.8 212.5h.01M582.5 278.7h.01M577 280h.01M606.3 265.4h.01M618.3 270.9h.01M571.3 197.6h.01M595.1 286.3h.01M621.9 249.9h.01M567.8 230.9h.01M604.9 218.1h.01M618.7 227.2h.01M601.9 229.9h.01M562.1 245.2h.01M566.2 273.4h.01M619.1 209.9h.01M590.5 210h.01M572.9 272.7h.01M614.9 261.7h.01M565.7 274.4h.01M568.5 281.6h.01M595.3 268.1h.01M609.4 242.8h.01M608.9 250.4h.01M624.5 210.8h.01M595.2 213.4h.01M617.3 212.4h.01M591.2 263.7h.01M574.6 275.9h.01M565.8 249.4h.01M588.3 237h.01M572.9 250.3h.01M597.7 215h.01M566.2 201.6h.01M618.8 270h.01M609.3 230.8h.01M592.7 246.9h.01M591.8 207.2h.01M615.4 240.1h.01M621 276.7h.01M569.3 213.7h.01M612.3 244.2h.01M569.4 257.7h.01M594.4 284h.01M572 202.7h.01M619.7 205.3h.01M593.4 263.7h.01M563.1 252.7h.01M610.7 211.9h.01M610.7 236.8h.01M574.5 271.8h.01M619.5 248.4h.01M601.5 249.8h.01M616.2 196.3h.01M582 270.9h.01M587.4 274.4h.01M573.9 283.2h.01M617.4 218.9h.01M597.5 274.2h.01M623.4 246.3h.01M588.3 268.4h.01M559.5 268.4h.01M591.8 278.3h.01M568.1 233.1h.01M623.9 280.6h.01M613.3 264h.01M605.7 246.8h.01M603.8 254.1h.01M624.1 232.6h.01M564.6 211.9h.01M610.6 202.2h.01M565.4 230.4h.01M569.4 264.9h.01M604.4 203.8h.01M601.7 230.5h.01M580.2 196.9h.01M607.2 277.2h.01M620.4 251.4h.01M610.8 228.5h.01M605.6 271h.01M622.6 221.9h.01M577.5 260.8h.01M596.3 235h.01M614.4 265.5h.01M588.1 279.2h.01M604.2 232.4h.01M613.2 260.7h.01M584.5 253.7h.01M613.4 269.1h.01M562.3 197h.01M602 265.7h.01M595 285.6h.01M603.2 269.6h.01M617.5 232.3h.01M590.4 283.7h.01M608.4 206.7h.01M622.2 214h.01M574.3 267.1h.01M570.1 223.9h.01M604 224.4h.01M603.2 227.3h.01M564.1 257.2h.01M591.4 252.4h.01M566.5 280.6h.01M589.7 244.9h.01M599.5 204.7h.01M588.7 268.1h.01M612.7 273h.01M623.4 201.9h.01M601.5 216.7h.01M613.1 199.9h.01M624.6 246.2h.01M597.6 217.7h.01M601.2 223.4h.01M562.1 264.3h.01M614.7 209.2h.01M564.9 225.8h.01M605.9 273.2h.01M563.4 260.4h.01M560.5 238.5h.01M592.7 273.7h.01M592.3 253.5h.01M591.8 244h.01M602 281.2h.01M618.4 266.4h.01M599 225.5h.01M620 223.3h.01M584 202.4h.01M620.9 204.7h.01M603.7 252.6h.01M601.7 260h.01M622.2 251.3h.01M624.9 265.5h.01M601.9 265h.01M617.3 252.2h.01M623.9 235.5h.01M561.8 255.7h.01M567 220.8h.01M613.6 230.3h.01M559.7 267.8h.01M567.6 266.3h.01M566.6 265.4h.01M571.6 221.9h.01M623.8 248.8h.01M588.3 215.5h.01M567.4 196.5h.01M605.6 219.2h.01M610.4 222h.01M567.2 199.1h.01M606.6 237h.01M605.8 227.7h.01M602.4 277.8h.01M612.4 243.3h.01M578.9 275.7h.01M592 286.7h.01M619.1 229.5h.01M607.1 270.7h.01M566.2 275.1h.01M591.5 238.4h.01M559.8 213h.01M573.6 209.7h.01M607.9 210.5h.01M591.5 280.1h.01M593.8 244.4h.01M574.4 268.9h.01M584.1 196.2h.01M621.7 265.9h.01M617.6 220.6h.01M605.4 230.6h.01M593.8 227.9h.01M565 265.1h.01M619.5 278.9h.01M610.8 205.1h.01M577.2 278.2h.01M569.4 231.1h.01M604.4 229.4h.01M606.1 223h.01M594.7 243.7h.01M560.9 215h.01M580.9 197.8h.01M613.7 234.6h.01M573.9 277.4h.01M609.3 241h.01M613.1 253.1h.01M624.6 264.5h.01M594.2 229.5h.01M560.3 264.8h.01M609.9 209.7h.01M580.3 262.4h.01M600.1 270.7h.01M605.6 279.7h.01M576.5 227.8h.01M586 268.6h.01M601.4 201.5h.01M574.3 244.8h.01M559.6 273.4h.01M566.4 248.1h.01M617.3 278.3h.01M613.9 265h.01M593.2 202.1h.01M589.4 273.1h.01M604.5 253.7h.01M564.8 203.9h.01M572.6 222h.01M569.7 208h.01M625 281.5h.01M608.8 233.7h.01M620.6 228.9h.01M602.5 216.4h.01M610.7 227.1h.01M623.1 236.1h.01M581.6 197.2h.01M591.1 241.4h.01M620.5 254.4h.01M619.4 203.8h.01M602.2 248.1h.01M615.9 264.6h.01M578.3 207.2h.01M566.2 221.5h.01M602.5 255.9h.01M610.1 197.6h.01M602.7 252.1h.01M622.8 197.4h.01M616 211.4h.01M600.2 245.8h.01M608.7 205.8h.01M614 209.2h.01M590.2 239.7h.01M568.2 223.1h.01M593.7 250.9h.01M601 211.3h.01M562.3 203h.01M597.3 231.2h.01M622.6 239.5h.01M562.2 243.4h.01M608.4 208.7h.01M600.6 216.6h.01M603.4 234.4h.01M571.6 206.2h.01M582.4 234.2h.01M562.5 206.9h.01M613.5 241.5h.01M579.4 280.8h.01M606.3 213.4h.01M602.9 241.2h.01M618.9 202.7h.01M602.9 277.5h.01M609.9 212.8h.01M620.5 224.6h.01M566.5 205.5h.01M582 205.3h.01M602.6 237.3h.01M561.5 197.6h.01M561.6 229h.01M565.9 200.7h.01M563.4 217.9h.01M597 268.1h.01M564.6 208.7h.01M618.8 227.4h.01M613.5 262.9h.01M593 241.2h.01M621.1 266.4h.01M566.1 209.3h.01M604.7 238.5h.01M559.7 265.9h.01M615.7 275.4h.01M581.2 274.3h.01M565.7 221h.01M616 199h.01M582.6 276.4h.01M604.2 257.7h.01M608.5 283.8h.01M582.6 285.3h.01M596.1 264.1h.01M617.8 213.1h.01M566.8 199.1h.01M561.8 266.7h.01M608.3 238.2h.01M560.9 197h.01M576.4 202.5h.01M614.2 239.9h.01M596.4 285.7h.01M599.1 273.2h.01M585.8 275h.01M610.7 201.9h.01M567.1 280h.01M610.5 219.9h.01M585.1 197.3h.01M564.6 240h.01M585.8 229.6h.01M580.5 215.5h.01M614.8 266.7h.01M610.3 227.9h.01M617.3 197.8h.01M592.4 207.9h.01M607 203.7h.01M620.4 230.1h.01M610.8 206.9h.01M610.7 282.6h.01M609 243.1h.01M615.9 286.5h.01M569.9 233.4h.01M559.5 266.4h.01M570.2 209.2h.01M622.5 199.6h.01M624.1 207.3h.01M598.3 267h.01M623 259.5h.01M578 273.9h.01M594.9 263h.01M614.8 207.6h.01M614.4 213h.01M597.2 203.2h.01M570.5 266h.01M572.4 251.6h.01M564 271.3h.01M589.4 257.6h.01M619.9 278.1h.01M587.3 277.4h.01M562 248.7h.01M606.1 201.6h.01M610.4 232.7h.01M562.9 264.6h.01M610.6 212.1h.01M622.4 268.5h.01M623.7 232.4h.01M594.7 279.2h.01M594.1 286.1h.01M592.8 204.2h.01M592.5 205.4h.01M560.6 275.1h.01M594.4 277.6h.01M586.9 251.8h.01M565.6 275.1h.01M588.5 270.6h.01M601.4 279.3h.01M619.5 231.4h.01M571.8 224.7h.01M591.5 204.8h.01M561.9 202.1h.01M614 203.9h.01M565.4 251.3h.01M605.6 202.3h.01M590.5 272.8h.01M608.7 248.6h.01M595.2 223.9h.01M587.4 277.1h.01M606.2 215h.01M611.7 257.9h.01M580.2 277h.01M591.8 280.9h.01M572.8 279.8h.01M561.7 202.7h.01M571.1 255.6h.01M601.7 244.8h.01M606 215.2h.01M586.9 268.3h.01M585.9 219.9h.01M609.4 258.9h.01M573.7 252.5h.01M563.4 241.3h.01M597 281h.01M614.4 249.4h.01M591.6 251.7h.01M584.4 206.2h.01M597.4 260.7h.01M594 249.9h.01M600.6 197.8h.01M594.4 202.8h.01M561.9 267h.01M580.6 277.2h.01M619.4 229.7h.01M561.3 205.7h.01M619.3 273.1h.01M583.2 278h.01M591.3 200.1h.01M559.5 261.9h.01M603.6 275.1h.01M563.9 275.2h.01M609.2 271.2h.01M561.1 245h.01M593.9 282.2h.01M572.7 273h.01M575.1 196.5h.01M617.8 255.9h.01M611.3 270.5h.01M606 205.3h.01M583.9 244.8h.01M603 268.8h.01M586 201.4h.01M620.6 269.5h.01M559.6 225.2h.01M613.3 201h.01M617.6 251.6h.01M593.2 219.2h.01M576.3 286.9h.01M618.9 213.5h.01M562.6 271.3h.01M616.6 256.9h.01M612.9 235.9h.01M560.1 272.5h.01M603.1 222.2h.01M610.5 272.9h.01M568 201h.01M572.7 220.5h.01M594.9 255.6h.01M590.3 196.1h.01M606.2 237.6h.01M621.3 284.6h.01M602 230.1h.01M622.1 276.2h.01M618.3 208.8h.01M597.1 250h.01M590.4 201.8h.01M604.7 196.2h.01M589.2 200.9h.01M615.9 203.8h.01M621 235.5h.01M610.3 222.8h.01M586.5 260.9h.01M571.2 280.4h.01M560.7 221.5h.01M609.6 215.9h.01M599.1 285.5h.01M569.4 244.7h.01M617.8 223.9h.01M561.3 214.2h.01M611.8 279.2h.01M614.1 230.4h.01M559.4 263h.01M602.5 268.7h.01M608.5 278.7h.01M587.6 221.9h.01M621.6 259.7h.01M563.8 270.2h.01M618.6 205.1h.01M624 217h.01M605.2 277.7h.01M561.5 284.7h.01M602.4 264.8h.01M607 238.8h.01M594.9 265.1h.01M560.7 263.9h.01M617.5 198.1h.01M598.4 249.9h.01M563 220.1h.01M620.8 236.4h.01M569.6 258.1h.01M587 243.7h.01M587.2 271.9h.01M609.6 215.4h.01M600.5 259.5h.01M600.3 248.5h.01M623.7 254.9h.01M570 244.3h.01M621.4 270.5h.01M594.1 216.2h.01M606.1 253.2h.01M605.1 249.2h.01M614.1 236.8h.01M620.7 215.8h.01M563.9 284.5h.01M603.7 251.5h.01M611 265.5h.01M600.4 219.8h.01M604.2 264.9h.01M614.1 286.8h.01M623.5 242.3h.01M600.2 266.5h.01M559.3 231.3h.01M605.2 263.3h.01M568.2 216.7h.01M624.3 206h.01M604.3 240.5h.01M610.1 199h.01M596.5 211.4h.01M619.8 261.8h.01M585.8 241.5h.01M618.4 204.7h.01M623 219.8h.01M618 258.3h.01M601.9 248.5h.01M605.1 198.2h.01M614.3 233.7h.01M571.3 281.8h.01M564.6 214.6h.01M586.4 197.8h.01M623.7 201.6h.01M606.1 203.3h.01M603.5 235.1h.01M607.3 226h.01M579.2 199.4h.01M600.3 196.1h.01M590.2 204.5h.01M592 230.2h.01M594.1 209.7h.01M611.6 283.7h.01M561.5 231.9h.01M567.2 204.6h.01M603.7 214.6h.01M610.1 230.9h.01M585.1 228h.01M567.1 203.5h.01M564.9 241.4h.01M567.8 224.3h.01M598.2 271.6h.01M596.1 269.1h.01M575.8 205.2h.01M611 251h.01M600.1 244.8h.01M568.4 279.6h.01M606.7 233.8h.01M610.1 233.4h.01M561 203h.01M616.1 216.3h.01M570.3 201.1h.01M604.5 215.3h.01M560.2 266.5h.01M570.8 223.2h.01M598.8 277.7h.01M603.3 284.7h.01M604.4 208.5h.01M614.8 217.8h.01M616.5 213.4h.01M615.8 219.8h.01M618.1 217.6h.01M592.6 221.1h.01M580.2 205.7h.01M610.6 230.5h.01M608.3 211.6h.01M564 241.7h.01M610.4 202.8h.01M581.2 278.7h.01M578.4 203.7h.01M573.6 274.8h.01M608.7 243.3h.01M614.6 249.3h.01M612.1 224.3h.01M564.5 209.3h.01M608.1 279.1h.01M624.1 199h.01M596.8 275.5h.01M617.7 251.5h.01M566.8 277.1h.01M564.9 201.3h.01M602.2 242h.01M591.8 218.1h.01M610.6 249.1h.01M612.3 202.4h.01M624.7 239.6h.01M600.2 280.1h.01M615.1 286.8h.01M565.5 244.4h.01M611.2 284.7h.01M586.9 272.8h.01M607.4 235.6h.01M598.2 242.6h.01M608.1 214.5h.01M562.8 284.2h.01M602.2 275.9h.01M606.1 280.7h.01M620.2 197.8h.01M597.7 198.3h.01M598.7 279.5h.01M622.7 279.8h.01M568.4 226.2h.01M623.6 249.7h.01M576.9 248.6h.01M565.9 246.7h.01M563.4 217.2h.01M570 251.7h.01M568.7 226h.01M601.8 208.6h.01M608.4 239.6h.01M575.4 274.8h.01M605.8 281.5h.01M598.9 234.1h.01M569.3 251.2h.01M613.5 279h.01M574 273.2h.01M602.5 228.3h.01M618.6 222h.01M589.1 204.3h.01M616.8 238.3h.01M606.8 229.7h.01M601.7 264.7h.01M565.4 269.5h.01M585.2 216h.01M623.5 256.7h.01M599.9 257h.01M570.8 228h.01M614 215h.01M614.3 200.2h.01M562.2 200.5h.01M607.3 268.8h.01M562.6 208.4h.01M619.6 278.5h.01M589.8 269.5h.01M620.9 245.4h.01M596.1 258.1h.01M619.6 249.1h.01M607.7 246.3h.01M615.6 198.2h.01M560.3 264.8h.01M617.8 258.8h.01M563.6 239.6h.01M596.8 198h.01M566.5 274.9h.01M604.2 279h.01M583.3 231.3h.01M595.5 217.8h.01M563.3 256.3h.01M621.5 211.5h.01M597.2 214.6h.01M613.9 200.8h.01M611.6 252.7h.01M579.1 230.6h.01M592.2 267.8h.01M602 246.3h.01M567.6 265.7h.01M608.5 222.9h.01M585.3 224.2h.01M569.6 212.8h.01M600.3 217.5h.01M593.2 261.9h.01M569.4 211.8h.01M601.2 212.1h.01M569.5 236.4h.01M606.7 208.2h.01M597.7 225.7h.01M559.2 210.3h.01M597.4 228h.01M615.2 261.6h.01M584.3 240.3h.01M564.3 237.7h.01M610.3 224.5h.01M560.9 285.4h.01M611.2 200h.01M611.5 254.9h.01M602.2 267.2h.01M559.9 254.6h.01M606.5 219.9h.01M623.5 206.9h.01M598.5 263.7h.01M610 263.3h.01M605.4 217.6h.01M604.9 261.9h.01M615.3 239.4h.01M601.7 282.6h.01M593 242.5h.01M592.7 263.1h.01M616.1 230.6h.01M593.1 204.5h.01M610.5 269h.01M583.7 223.6h.01M598.2 276.4h.01M601.7 285.5h.01M592.6 213.8h.01M601.5 216.6h.01M606.6 201.9h.01M606.7 260.9h.01M611.9 269.2h.01M616.3 284.4h.01M579.9 268.4h.01M620 275.8h.01M565.1 234.2h.01M615.3 196.4h.01M614.6 196.4h.01M612.6 222.7h.01M600.5 226.2h.01M566.7 264h.01M616 201.3h.01M589.7 254h.01M596.8 276.1h.01M585.6 285.1h.01M562.4 262.2h.01M564.9 256.8h.01M569.5 221.5h.01M579.8 200.7h.01M570.3 209h.01M605.1 262.3h.01M599.9 274.4h.01M620.4 198.1h.01M601.8 201.5h.01M596.2 210.4h.01M608 277.8h.01M561.2 221.1h.01M564.9 197.9h.01M590.9 201.4h.01M569.5 236.4h.01M559.6 219.8h.01M583.8 205.2h.01M576.3 273.4h.01M595.9 256.5h.01M599.4 258.6h.01M617.2 235h.01M565.7 262.6h.01M588.6 285.1h.01M585.5 240.8h.01M619.5 262.2h.01M615.6 284.7h.01M610.4 197h.01M563.7 279.1h.01M619.1 216.3h.01M601 240.8h.01M599.3 203.7h.01M597.1 203.7h.01M611.8 262.8h.01M605.6 206.9h.01M563 219.3h.01M613.9 246.2h.01M620.4 234.9h.01M617.5 257h.01M572.1 198.5h.01M592 260.4h.01M596.5 201.4h.01M618.2 201.1h.01M593.1 262.6h.01M587.5 255.9h.01M605.4 245.7h.01M572.4 202.9h.01M610.4 284.6h.01M572.1 224.7h.01M571.5 239.5h.01M562.6 235.5h.01M611.6 220.2h.01M597.7 284.4h.01M560.6 279.4h.01M592.9 208.3h.01M565.6 222h.01M623.5 239.6h.01M589 282h.01M618.8 266.2h.01M587 273.3h.01M608.5 271.2h.01M576.3 266.2h.01M616.6 268.7h.01M613.8 250.2h.01M600.1 262h.01M568.6 262.4h.01M586.6 199.3h.01M563.8 223.8h.01M563 205.6h.01M607.9 205.5h.01M586.4 274.8h.01M617.6 198.9h.01M611.8 286.3h.01M572.4 208.4h.01M595.7 286.7h.01M623.3 216.4h.01M563.8 273.6h.01M619.7 248.9h.01M577.4 263.9h.01M600.7 214.2h.01M568.6 227.5h.01M611.6 207.3h.01M624.7 206.9h.01M615 280.3h.01M609.8 237.1h.01M560.8 251.3h.01M614.9 262.8h.01M602.2 265.1h.01M597.5 229.3h.01M594.3 275.9h.01M575.8 198.1h.01M620.5 263.3h.01M587 286.1h.01M570.9 263.7h.01M580.6 267.8h.01M587.3 240.9h.01M561.2 232.6h.01M613.7 203.2h.01M562.5 270.4h.01M561.4 218.9h.01M609.1 284.2h.01M597.2 243h.01M604.2 276.8h.01M599 230h.01M589.6 207.5h.01M622.3 262.6h.01M596.6 215.5h.01M602.5 245h.01M613.4 222.5h.01M601.1 197.6h.01M592.7 285.3h.01M598.5 228.2h.01M566.1 283.8h.01M600.7 237.3h.01M592.7 206h.01M600.1 232.4h.01M607 254.8h.01M597 277.7h.01M587.4 237.9h.01M601.8 217h.01M613.7 230.6h.01M583.9 200.9h.01M569.1 286.1h.01M617.3 220.8h.01M585.6 203.1h.01M601.2 281.8h.01M589.9 204.5h.01M612.4 255.5h.01M612.5 246.9h.01M566.9 267.2h.01M587.6 211.8h.01M616.5 279.7h.01M606.6 217.7h.01M584.8 211.5h.01M613.8 229.4h.01M573.8 229.7h.01M614.8 221.7h.01M610.5 231.7h.01M569.1 283.8h.01M606.5 272.3h.01M572.5 283.7h.01M576.7 237.1h.01M609.3 199.3h.01M600 271.7h.01M609.3 278.6h.01M559.9 222.5h.01M595.8 221.6h.01M619.4 233.9h.01M624 270.6h.01M582.7 267.6h.01M602.2 279.9h.01M607 239.3h.01M601.3 232.1h.01M602.8 213.1h.01M562.4 236.1h.01M599.4 244.5h.01M587.6 220.1h.01M607 252.6h.01M576.8 280.1h.01M604.5 210.1h.01M590.6 201.7h.01M573 207.3h.01M619.5 273.9h.01M563.8 201h.01M611.7 205.4h.01M587.7 237.1h.01M607.9 267.7h.01M562.5 232.2h.01M599.1 213.2h.01M609.8 266h.01M572.7 197.8h.01M617.1 212.2h.01M618.7 247.5h.01M603.8 196.9h.01M604.8 237.6h.01M622.2 279.5h.01M608.6 222.2h.01M596.4 231.1h.01M565.4 232.1h.01M572.4 219.2h.01M593.8 229.3h.01M606 273.6h.01M585.3 216h.01M596.5 274.5h.01M566.8 207.2h.01M565.3 229.6h.01M608.6 281.3h.01M624.7 251.4h.01M597.6 238.2h.01M582.8 281.5h.01M606.4 254.6h.01M559.8 269.1h.01M599 210.2h.01M602.4 282.2h.01M620.3 228.7h.01M596.1 237.4h.01M602.8 237.2h.01M605.2 197.6h.01M559.3 232.9h.01M610.9 233h.01M598.5 205.3h.01M609.1 270.3h.01M616.9 204.2h.01M570.8 214.2h.01M575.1 204h.01M594.1 266.2h.01M566.3 237.6h.01M603.8 198.2h.01M601.4 211.6h.01M559.1 231.8h.01M613.9 218h.01M586.9 200.5h.01M592.9 275h.01M589.6 245.7h.01M622.8 229.2h.01M617.6 232.9h.01M591.5 238.9h.01M610.8 261h.01M609.9 231.1h.01M604.4 227.5h.01M620.6 222.4h.01M609.2 282h.01M592.2 276.5h.01M604.2 229.8h.01M595.8 234.4h.01M617.4 216.9h.01M560.7 225h.01M588.5 196h.01M596.6 226.9h.01M586.6 237.9h.01M624.9 215.5h.01M616.1 217.3h.01M597.6 253h.01M621.4 201.4h.01M604.1 275.3h.01M624.9 196h.01M606.9 268.8h.01M606.1 239.4h.01M600 224.3h.01M613.2 219.1h.01M588.9 216.5h.01M565 214.9h.01M592.8 243.4h.01M599.1 217.8h.01M617.3 239.1h.01M596.4 253.3h.01M587.7 277.7h.01M606.2 285.5h.01M593.4 221.6h.01M582.2 206.9h.01M608.8 252.7h.01M574.1 202h.01M595.2 269.8h.01M603 230.5h.01M617.9 221.5h.01M584 262.7h.01M575.2 279.7h.01M559.4 207.5h.01M603.3 205.4h.01M599 244.9h.01M606.7 274.8h.01M561.2 271.4h.01M624.3 208.6h.01M608.4 229.8h.01M596.1 271.5h.01M585.8 264.1h.01M594.1 278.2h.01M566.3 246.6h.01M600 206.5h.01M563.2 284.5h.01M587.5 275.1h.01M585.7 228.1h.01M595 262.1h.01M619.6 229.9h.01M562.1 229.4h.01M625 226.7h.01M566 280.9h.01M560.4 229.9h.01M580.1 275.1h.01M559.9 212h.01M620.8 222.8h.01M561.1 261.5h.01M587.9 204.2h.01M610.7 204h.01M560.8 229.7h.01M607.7 280.3h.01M617 215.6h.01M606.9 227.7h.01M598 281.2h.01M583.5 216.4h.01M615.9 205.5h.01M603 245.7h.01M589.8 200h.01M596.2 251h.01M622.7 247h.01M608 236.6h.01M587.3 273h.01M584.9 224.6h.01M585.2 222.2h.01M559.5 272.5h.01M591.6 262.6h.01M603.8 200.8h.01M576.2 266.5h.01M574.1 277.4h.01M612.6 197h.01M566.7 255.8h.01M575.4 233.2h.01M613.4 226.7h.01M565.7 261.9h.01M612.6 283.1h.01M591.2 204.3h.01M559.6 251.2h.01M617.2 225.5h.01M598.1 279h.01M620 265.8h.01M583.3 206.4h.01M564.3 201.7h.01M598.2 257.5h.01M599.3 269.1h.01M608.4 233h.01M608.8 256.6h.01M597 278.9h.01M609.3 244h.01M596 198.6h.01M614.8 244.7h.01M575.7 275.4h.01M561.3 281.1h.01M560.2 261.4h.01M604.4 268h.01M564.7 223.2h.01M583.5 285.1h.01M568.8 215.7h.01M565.7 235.6h.01M565.7 224.2h.01M585.6 201.3h.01M575.7 285h.01M601.5 251.3h.01M565.2 198.1h.01M567.7 208.6h.01M619 209.8h.01M583.1 229.8h.01M614.1 248.8h.01M608.3 196.3h.01M584.8 226.7h.01M605.8 226.5h.01M573.4 252.7h.01M561.9 215.1h.01M584 222.5h.01M562.8 241h.01M594.8 251.7h.01M603.2 274.9h.01M586.1 236.1h.01M590.4 285.7h.01M589.4 205.4h.01M620.2 266.8h.01M621.6 201.5h.01M569.2 257.9h.01M591.3 219.6h.01M619.4 200h.01M622.5 258.7h.01M561.9 232h.01M596.5 249.7h.01M581.8 210.6h.01M600.1 244.5h.01M619.1 219.5h.01M605.8 206.9h.01M572.9 201h.01M583.5 280.7h.01M624.2 281.3h.01M608.6 272.4h.01M599.1 249.6h.01M596.5 241.1h.01M615.4 243.3h.01M561.9 230h.01M619.7 227.9h.01M609.4 274.1h.01M562.4 241.8h.01M561.6 248.5h.01M609.8 223.2h.01M571.2 257.9h.01M565.6 203.6h.01M614.1 214.4h.01M602 242.6h.01M570.5 280h.01M579 197.8h.01M567.5 239.2h.01M572.5 255.5h.01M581.4 277.3h.01M597.6 207.1h.01M591.6 240.3h.01M621 236.1h.01M604.9 232h.01M566.2 245.1h.01M606.5 257.1h.01M623.7 274.2h.01M588.1 273.6h.01M600.7 256h.01M564.6 201.5h.01M581.3 204.2h.01M584.9 219.7h.01M616.4 236.9h.01M614.9 210.3h.01M614 220.6h.01M615.5 235.4h.01M566.8 250.4h.01M599.1 207.1h.01M623.7 272h.01M613.2 227.6h.01M582.2 274.8h.01M608.8 232.7h.01M607.2 241.1h.01M579.6 199.9h.01M564 264h.01M585.1 205.7h.01M621 206.4h.01M615.1 205.3h.01M596.3 242.9h.01M559.8 236.7h.01M598.6 270.1h.01M595.7 255.3h.01M587.4 279.3h.01M566.3 224h.01M604.2 238.6h.01M614.1 215.3h.01M611.3 254.9h.01M607.6 279.9h.01M609.5 275.9h.01M614.2 286.1h.01M585.2 206.4h.01M594.1 239.2h.01M573.1 197.5h.01M607.3 284h.01M563 255.6h.01M621 264h.01M607.2 254.6h.01M605.3 280.6h.01M596.6 255h.01M603.6 237.1h.01M564 206.4h.01M607.7 273.4h.01M576.5 226.3h.01M585.3 211.2h.01M595.6 271.6h.01M617.4 212.2h.01M591.6 240.6h.01M606.8 226.1h.01M610.6 198.8h.01M562.7 247h.01M573.2 220.1h.01M607 268h.01M616.4 281.8h.01M589.7 238.6h.01M618 277.3h.01M621.1 274.2h.01M594.8 201h.01M569.4 249.4h.01M611.4 275.8h.01M585.2 286.9h.01M610.3 209.2h.01M567.1 281.6h.01M569.6 222.4h.01M571.5 260.7h.01M596.8 246.1h.01M565.6 263.1h.01M615.6 277.6h.01M600.2 209.9h.01M597 276.7h.01M604.8 201.5h.01M587.1 198.1h.01M559.8 197h.01M600.6 267.6h.01M597.7 235.2h.01M609.4 209.8h.01M590 250.2h.01M604.3 245.1h.01M617.9 238.6h.01M563.2 266.3h.01M580.8 276.6h.01M614.2 217.9h.01M577.9 203.8h.01M568.7 280h.01M564.8 224.8h.01M614.8 267.9h.01M573.2 277.9h.01M621.3 214.9h.01M582.9 228h.01M580.8 276.7h.01M612.1 263.8h.01M565 274.9h.01M566.4 266.6h.01M616.9 255.8h.01M572.8 281.5h.01M618.2 233.3h.01M617.1 251.5h.01M623.8 226.8h.01M614.1 276.1h.01M611.4 269.8h.01M583.5 260.9h.01M601.2 201.8h.01M602.3 198.2h.01M598.8 238.8h.01M559.8 278.7h.01M591.6 243.6h.01M596.4 273.5h.01M616.2 251.2h.01M610.9 280.5h.01M606.3 232.5h.01M564.7 201.3h.01M618.1 273.7h.01M608.5 205h.01M620.5 239.8h.01M584.8 267.2h.01M613.9 285.3h.01M617.5 204h.01M588 282.3h.01M569.4 219.7h.01M575.8 273.8h.01M602.2 241.4h.01M615.8 247.8h.01M589.3 199.6h.01M560.4 286.8h.01M623.4 260.3h.01M614.1 269.4h.01M594.5 244.6h.01M598.8 285h.01M587.1 218.6h.01M621.6 270.6h.01M601.3 212h.01M613.7 238.2h.01M587.7 267h.01M596.4 201.5h.01M622.9 216.6h.01M564.9 223.2h.01M585.4 255.2h.01M561.9 226.1h.01M561.2 200.2h.01M572.2 238.4h.01M598.2 198.9h.01M588 285.9h.01M565.1 206.5h.01M580.4 200.1h.01M610 270.2h.01M621.8 224.8h.01M564 285.3h.01M603.1 280.8h.01M604.7 202.3h.01M616.9 262.9h.01M609 234.9h.01M618.6 201.8h.01M592.6 280.3h.01M566.1 221.8h.01M559.9 258.8h.01M596.5 219.4h.01M564.9 255.1h.01M605.4 285.7h.01M560.3 228.5h.01M590.7 287h.01M563.3 223.6h.01M563.1 241.2h.01M609.2 243.8h.01M573.8 277.3h.01M605.3 258.1h.01M599.5 210.5h.01M611.4 233.3h.01M590.3 263.2h.01M586.9 227.5h.01M589.1 242.2h.01M588.7 275.7h.01M599.6 225.5h.01M607.1 275.8h.01M586.8 260.4h.01M609.4 206.5h.01M623.4 250.7h.01M588.9 231.3h.01M613.5 224.4h.01M562.7 274.6h.01M567.5 229.3h.01M559.7 233h.01M619.7 211.4h.01M594 219.9h.01M614.9 243.9h.01M604.6 213.8h.01M561.3 234.1h.01M608 200.5h.01M564.5 241.6h.01M561 235.1h.01M577.1 247.6h.01M605.8 275.7h.01M604 283h.01M574.8 204.6h.01M615.7 264.6h.01M579.3 274.6h.01M584.6 263.3h.01M589.8 202.6h.01M611.4 235h.01M566.5 282.5h.01M597.2 281h.01M565.5 199.2h.01M598.5 221.9h.01M596.2 199.1h.01M610.1 225.9h.01M592.8 252.8h.01M564.7 245.6h.01M588.7 226.7h.01M616.5 208.2h.01M598.1 216.8h.01M575.6 200.4h.01M613.7 268.1h.01M602.2 229.1h.01M560.3 199.3h.01M599.6 228.1h.01M624.7 249.2h.01M620.5 224.8h.01M566.8 211.7h.01M560.9 234.2h.01M585.9 207.2h.01M571 240.1h.01M586 265.2h.01M568.1 221.5h.01M595.6 219.8h.01M583.2 219.7h.01M565.7 233.4h.01M601.8 228.8h.01M568.7 196.5h.01M575.6 281.6h.01M610.7 273.2h.01M586.2 197.2h.01M562.4 220.4h.01M578.4 277.3h.01M562.8 250.3h.01M588.5 235.2h.01M562.6 271.8h.01M559.6 203.5h.01M617.9 274.1h.01M565.3 282.1h.01M560.2 208.7h.01M601.8 240.4h.01M583.9 249.4h.01M562.3 259.6h.01M567.4 284.1h.01M586.3 222.7h.01M615.8 286.4h.01M623.3 262h.01M619.3 214.2h.01M620.1 218.9h.01M614.5 248.2h.01M565.1 267.7h.01M620.4 262.5h.01M564.3 264.3h.01M598.6 280.4h.01M567.3 214h.01M589.6 249.1h.01M616.5 208.3h.01M605.5 234.1h.01M598.9 258.5h.01M563.3 227h.01M624 222.2h.01M618.7 242.1h.01M585.7 228.2h.01M607.1 232.6h.01M592.1 230.8h.01M618.3 276h.01M592.1 248.2h.01M622.9 201.4h.01M599.1 280.9h.01M590.3 244.7h.01M562 254h.01M561.2 232.9h.01M581.8 258.2h.01M591.9 206.8h.01M603.6 216.6h.01M563 266.4h.01M605.1 253h.01M617.7 282.7h.01M614.8 237.9h.01M599 261.2h.01M587.9 248.3h.01M592.1 197.9h.01M602.8 207.2h.01M610.9 213.8h.01M603.1 272.7h.01M590 285.6h.01M620 228.4h.01M608.4 198.5h.01M612.4 273.2h.01M585.9 212.7h.01M565.4 208h.01M608.3 217.7h.01M606.4 198h.01M582 205.7h.01M561.5 286.3h.01M575.7 203.1h.01M609.5 197.5h.01M622.7 198.3h.01M597.1 261.7h.01M582.6 217.6h.01M567.5 214.8h.01M571.4 196.5h.01M578.5 218.5h.01M559.9 215.8h.01M590.1 196.4h.01M623 198.3h.01M607.5 281.1h.01M574.9 284h.01M565.4 196.6h.01M569.4 251.9h.01M593.7 234.5h.01M611.1 248.3h.01M598.4 235.2h.01M619.4 257.4h.01M572.8 278.6h.01M598.5 233.4h.01M620.8 248.7h.01M591.2 211.4h.01M624 233.3h.01M620.1 256.1h.01M586.1 274h.01M617.3 219.8h.01M573.9 277.2h.01M563.3 209.5h.01M600 223.8h.01M620 252.4h.01M624.5 218.5h.01M564.3 228.8h.01M596.6 201.1h.01M614.6 214.2h.01M613.6 279.1h.01M575.9 206.5h.01M606 279.2h.01M599.5 228.8h.01M599.8 252.1h.01M597 212.7h.01M567 200.5h.01M596.5 217.4h.01M597.6 234.9h.01M559.5 210h.01M616.3 221h.01M583.2 206.4h.01M560.2 281.8h.01M564.6 247.1h.01M560 258.6h.01M564.1 206.3h.01M572.2 223h.01M599.7 258.8h.01M617.2 272.3h.01M595.6 232.6h.01M563 260.3h.01M614.5 207.5h.01M605.5 244.8h.01M566.5 231h.01M562.5 224.8h.01M608.9 232.1h.01M621.5 247.6h.01M585.5 261h.01M622.9 270.8h.01M597.6 231.8h.01M624.9 275.3h.01M604.9 273.4h.01M599.3 245.8h.01M622.9 249.4h.01M606.8 286.1h.01M616.3 258.9h.01M608.7 266.5h.01M562.4 204.3h.01M598.2 258.1h.01M581.7 199.3h.01M608.8 214.3h.01M571.3 249.3h.01M620.8 216.3h.01M590.3 206.9h.01M591.2 255.2h.01M565.5 214.4h.01M566.3 247.9h.01M607 282.2h.01M588.5 284.5h.01M622.3 225.9h.01M602.5 205.7h.01M578.6 209.8h.01M599.6 241.3h.01M565.8 232h.01M598 271.6h.01M618.2 209.5h.01M596.6 270.7h.01M565.2 213.7h.01M606.7 239.5h.01M614.3 202.7h.01M570 279.8h.01M602.2 206h.01M568.7 215.1h.01M603.8 198.4h.01M610.5 284.1h.01M624.1 227.3h.01M608.6 214h.01M613.6 215h.01M612.8 251.6h.01M615.5 259.8h.01M615.8 234.6h.01M560.4 264.9h.01M614.4 248.2h.01M591.8 282.2h.01M616.7 284.5h.01M597.9 210.3h.01M563.7 208h.01M562 261.4h.01M615.7 277.5h.01M600.2 218.9h.01M592.4 271.5h.01M572.3 254.6h.01M620.3 240.4h.01M609.7 216.5h.01M607.7 250.2h.01M622.2 229.3h.01M604.2 215.3h.01M604 230.9h.01M611.4 285.2h.01M559.3 201.6h.01M597.9 248.5h.01M571.4 277.2h.01M566.1 201.1h.01M607.3 262h.01M618.3 228.7h.01M601.2 197.8h.01M571.7 240.3h.01M560.3 223.4h.01M570.6 284.3h.01M607.1 222.8h.01M579.4 282.3h.01M578.9 284.6h.01M596.5 232.7h.01M579.8 269.5h.01M598 262.7h.01M610.5 202h.01M609.9 246.9h.01M560.4 286h.01M600.2 200h.01M623.1 281h.01M560.6 272.6h.01M567.1 250.6h.01M601.9 259.2h.01M599.2 257.3h.01M618.2 233.4h.01M599 234.2h.01M618.9 254.9h.01M592 229.6h.01M560.2 267.2h.01M571.1 254.2h.01M608.1 215.3h.01M613.2 282.6h.01M605.8 219.6h.01M564.7 231h.01M593.9 261h.01M613.5 198.3h.01M559.8 270.5h.01M563.4 274.1h.01M592.1 202.4h.01M600.5 280.3h.01M574.9 278.9h.01M623.8 267.3h.01M605.9 196.8h.01M575.5 199.4h.01M559.1 202.1h.01M571 264h.01M599.4 222.5h.01M594.8 251.6h.01M603.7 256.3h.01M569.3 222.5h.01M623.9 245.6h.01M619.1 252h.01M618.4 239.9h.01M620.8 235.6h.01M622.9 232.3h.01M597.5 203.9h.01M608.8 229.6h.01M600.6 240.1h.01M605.6 281.8h.01M562.9 270.9h.01M608.2 216.5h.01M603.3 224.1h.01M616.9 237.2h.01M613.6 243.4h.01M572.6 199.7h.01M622.4 272.2h.01M595 264.2h.01M570.9 205.7h.01M611.3 267.1h.01M623.4 229.8h.01M610.1 263.2h.01M585 198h.01M623.8 224.1h.01M584.1 263.1h.01M621.8 211.7h.01M601.3 259.4h.01M586.9 204.7h.01M579.1 276.5h.01M608.8 199.9h.01M571.9 281h.01M567.1 220h.01M565.1 256h.01M559.7 283h.01M583.2 231.1h.01M559.3 223.8h.01M600.4 213.5h.01M577.1 269.1h.01M598.2 208.1h.01M595.2 274.1h.01M568.8 284.7h.01M568.2 199.5h.01M612.3 251.5h.01M611.2 233h.01M619.2 229.3h.01M610.8 236.6h.01M565.3 272h.01M576 201.8h.01M561.5 200h.01M611.2 233.1h.01M596.8 237.4h.01M577.2 281.6h.01M600.6 207.1h.01M599.3 202.7h.01M610 267.4h.01M614.8 286h.01M562.9 271.3h.01M617 271.4h.01M595.9 217h.01M613.6 200h.01M588.9 241.5h.01M600 275.9h.01M569.7 232.7h.01M599.6 222.7h.01M598.8 201.7h.01M595 243.7h.01M591.3 207.5h.01M579.4 205.7h.01M624.9 234.1h.01M586.6 241.4h.01M566.1 204.8h.01M585 273.4h.01M624 227.8h.01M594 225.1h.01M590.8 207.5h.01M612.5 199h.01M592.6 274.9h.01M623.9 257.1h.01M609.3 226.6h.01M574.3 283.6h.01M614.8 231h.01M571.6 221.9h.01M560.6 249.1h.01M597.3 211.6h.01M624 237.7h.01M592.3 210.1h.01M604.5 271.7h.01M559.5 235.6h.01M573 259.9h.01M606.5 238.1h.01M594.2 267.3h.01M607.6 243.4h.01M593.9 203h.01M611 212h.01M613.6 231.3h.01M564.4 252.1h.01M576.8 197.6h.01M586 196.5h.01M603.6 252.6h.01M598.3 282.7h.01M619.2 248.5h.01M617.3 204.6h.01M568.2 199.8h.01M621.1 255.3h.01M602.3 196.1h.01M562.8 269.8h.01M596.7 283.5h.01M583.2 275.3h.01M593.6 246h.01M609 275h.01M611.4 255.1h.01M596.6 199.7h.01M560.3 212.7h.01M584.6 278.1h.01M613.8 243.4h.01M566.5 276.2h.01M595.9 274.2h.01M624.3 226.8h.01M572.4 231.9h.01M592.8 230.5h.01M596.9 207.9h.01M614.7 243.2h.01M608.8 271.4h.01M605 261.2h.01M618.6 278.1h.01M583.4 225h.01M593 280.4h.01M591.3 228.3h.01M584.1 196.1h.01M565.3 226.7h.01M612.9 207.6h.01M559.8 205.8h.01M596.3 240.7h.01M569.7 280.3h.01M622.9 230.4h.01M569.4 276.8h.01M571.9 199.5h.01M588.3 284.7h.01M598.1 233.2h.01M598.3 232.4h.01M613.5 243.3h.01M578.5 276.5h.01M570.5 265.6h.01M589.2 286.9h.01M606.2 266.8h.01M619.6 277.4h.01M599.3 280.4h.01M599.8 278.4h.01M603.8 237.3h.01M573.2 283.6h.01M566.8 256h.01M619.7 201.8h.01M612.8 223h.01M587.9 272.1h.01M618.5 282h.01M614.1 207.8h.01M582.9 206.7h.01M593.9 220.5h.01M624.7 254.5h.01M562.4 236.1h.01M602.6 271.4h.01M622.2 233.7h.01M559.5 256h.01M566.2 265.5h.01M610.3 221.8h.01M590.5 218.2h.01M563.9 262h.01M583.7 284.2h.01M623.3 285.2h.01M569.9 210.7h.01M581.3 227.5h.01M606.5 252.4h.01M584.8 269.1h.01M607.7 260.8h.01M582.4 197.5h.01M574.9 215.5h.01M593.6 245.4h.01M612.2 248.1h.01M609.7 249.2h.01M598.3 263.2h.01M560 265.2h.01M600.3 213.8h.01M624.1 281.4h.01M620.3 265.1h.01M595.9 211.7h.01M623.2 234h.01M602 207h.01M559.9 233.7h.01M593.7 262.3h.01M563.7 207h.01M596.4 282.5h.01M624.4 254.9h.01M604.8 219.6h.01M607.4 250.3h.01M584.2 215.9h.01M585.6 273.5h.01M599.7 269.5h.01M606.2 270.4h.01M576.2 281.9h.01M597.7 270.4h.01M624.8 222.6h.01M609.4 201.7h.01M571.1 212.1h.01M563.6 238.9h.01M619.5 256.1h.01M572 237.8h.01M610 268.9h.01M599.5 226h.01M570.9 222h.01M574.7 266.5h.01M613.7 208h.01M583.9 259.2h.01M577 283.4h.01M572.9 284.3h.01M601 221.4h.01M620.4 262.3h.01M600.7 272.1h.01M560 214.9h.01M564.4 248.7h.01M603.6 203.8h.01M612.8 284.4h.01M594.1 271.7h.01M561.5 214.6h.01M614.4 251.8h.01M595.5 242.5h.01M600.4 198.6h.01M618.8 241.1h.01M583 285.7h.01M619.8 211.6h.01M607.5 216.4h.01M608.5 259.9h.01M616.2 270.7h.01M616.4 243h.01M571.1 237.4h.01M619.9 245h.01M564 199.9h.01M559.7 278.5h.01M614.4 208.4h.01M616.3 218.8h.01M615.5 274.2h.01M563.1 265h.01M607.4 226.9h.01M598.8 204.7h.01M609.3 252.8h.01M616 231.6h.01M624.3 228.8h.01M592.6 221.7h.01M622.6 238.4h.01M605.9 285.9h.01M587.1 256.9h.01M587.9 228.2h.01M588.8 218.1h.01M586.4 205.6h.01M582.9 278.8h.01M621.4 256.7h.01M594.1 218.3h.01M574.3 285.9h.01M612.2 285.5h.01M594.8 214.5h.01M597.4 275.2h.01M562.6 285.6h.01M577.5 285.7h.01M566 279.7h.01M598.5 216.7h.01M584 277h.01M601.8 198.7h.01M606 249h.01M568.6 283.8h.01M601.6 253.1h.01M601.4 279h.01M605.3 234.1h.01M565.2 259.7h.01M603.9 207.5h.01M623.8 246h.01M567.4 207h.01M605.1 252.9h.01M559.4 215.5h.01M576.1 209.1h.01M597.9 217.6h.01M619.7 202.7h.01M613.9 243h.01M572.4 208.2h.01M605.4 261.8h.01M608 256.9h.01M568.5 209.1h.01M593.4 197.2h.01M608.6 228.3h.01M618.4 280.7h.01M601.2 201.1h.01M588.5 214.2h.01M607.5 251.3h.01M571.4 225.4h.01M575.6 278.6h.01M589.6 278.5h.01M567.8 221.2h.01M616.8 283.2h.01M586 208.6h.01M587.9 198.4h.01M604.6 228.2h.01M589.2 206h.01M599.1 230.5h.01M597.5 233.6h.01M572.8 275.6h.01M563.7 232.4h.01M603.2 210.9h.01M564.5 249.9h.01M587.4 216.7h.01M612.8 199.7h.01M601.9 260.8h.01M621.7 200.9h.01M581.8 210.4h.01M567.5 206.2h.01M613 204.1h.01M621.4 228.2h.01M621.6 219.3h.01M564.8 211.2h.01M595.2 220h.01M595.6 224.7h.01M563.8 243.8h.01M622.7 201.9h.01M618.5 231.2h.01M609.5 250h.01M596.9 278.3h.01M622.2 212.3h.01M600.2 251.9h.01M562 222.6h.01M613.5 281.3h.01M567 199.3h.01M584.8 229.4h.01M581.3 203.6h.01M562.2 219.3h.01M602.3 200.7h.01M594.3 272.3h.01M619.3 226h.01M561.4 235.7h.01M596.2 198.3h.01M618.3 213.5h.01M607.4 218.5h.01M602.5 273.5h.01M576 266.2h.01M591 284.4h.01M599.3 196h.01M580.9 286.3h.01M562.2 205h.01M584.1 234.5h.01M565 272.1h.01M598.7 225.3h.01M602.4 213.9h.01M602.5 230.3h.01M565.1 205.9h.01M609.4 231.8h.01M560.1 260.6h.01M591 277.6h.01M565.3 286.9h.01M584.3 258.2h.01M585.3 256.1h.01M562.8 211.3h.01M619.3 251.5h.01M591.2 208.9h.01M609.7 267.6h.01M585.3 245.9h.01M580.5 278.7h.01M603.8 280.4h.01M599.4 277.3h.01M576.2 209.7h.01M596 269h.01M607.6 239.9h.01M590.5 268.2h.01M614.5 204.6h.01M566.3 259.2h.01M596.8 227h.01M560.6 237.6h.01M608.7 202.9h.01M604.6 266.4h.01M590.1 212.2h.01M600.4 245.5h.01M567.5 214.8h.01M586 271.6h.01M623.9 247.3h.01M604.7 252.4h.01M569.3 267.7h.01M587.7 232.4h.01M601 217.5h.01M599.6 241.7h.01M605.5 272.1h.01M587.4 212.3h.01M587 282.5h.01M593.9 210.8h.01M609.5 233.6h.01M560.8 232.8h.01M602.9 242.2h.01M584.4 273.3h.01M564 235.8h.01M623.2 228.9h.01M610.6 199.4h.01M589.4 213h.01M623.3 252.2h.01M588.5 245.8h.01M567.3 246.3h.01M565.1 274.4h.01M591.4 239h.01M618.8 270.2h.01M588.3 202.9h.01M605.4 235.8h.01M584.4 201.7h.01M615.6 271.3h.01M562.4 271.1h.01M583.2 248.6h.01M618 220.2h.01M588.4 203.9h.01M604 232h.01M617 273.3h.01M559.7 259.9h.01M589.3 235.2h.01M571.2 275.8h.01M589.4 203.7h.01M591.6 269.2h.01M616.8 268.6h.01M622.9 259.8h.01M560.4 280.1h.01M571.7 285.5h.01M623.2 280.8h.01M608.1 286.1h.01M617.1 248.7h.01M597.8 198h.01M614.3 215.1h.01M619.7 256.1h.01M581 201.2h.01M589.3 213h.01M591.9 213.4h.01M573.9 259.7h.01M562.4 222.5h.01M565.4 266.4h.01M619.4 282.5h.01M566.2 216.5h.01M620.7 224.3h.01M578.6 274h.01M605.5 196.7h.01M618 231.9h.01M562.6 220.9h.01M616.2 218.5h.01M605.6 240.5h.01M560.2 236h.01M560.6 229.3h.01M603.2 266.5h.01M622.4 239.2h.01M587.1 240.5h.01M567.7 254.7h.01M614.8 225.5h.01M615.2 237.1h.01M583.1 196.5h.01M602.2 206.2h.01M568.5 208.3h.01M598.7 221.8h.01M602.9 263.3h.01M605.6 203.7h.01M618 263.4h.01M607.3 237.9h.01M620.4 272.9h.01M570.8 272.5h.01M593.8 277.2h.01M567.4 246.8h.01M624.7 196.6h.01M610.5 273h.01M601.5 264.8h.01M582.9 199.3h.01M593.2 213.5h.01M619.8 284.2h.01M580.5 203.7h.01M619.7 233.6h.01M590.9 239.8h.01M565 252.4h.01M594.4 207.8h.01M596.7 222.4h.01M609.8 250h.01M617.4 198.3h.01M593.7 272.1h.01M601 263.3h.01M623.6 283h.01M619.3 261.3h.01M574.2 284.7h.01M600.4 280.8h.01M615 284.9h.01M624 286.8h.01M608.8 249.7h.01M570.7 265.1h.01M573.4 258.6h.01M612 220h.01M618.9 285.7h.01M565 285.8h.01M624.1 255.7h.01M584.1 268.8h.01M624.4 251.7h.01M595.9 255.8h.01M570.7 285.7h.01M611.2 216.5h.01M563.5 255.4h.01M580.8 286.5h.01M571.6 230.7h.01M602.9 203.4h.01M561.9 216.5h.01M621.4 270.2h.01M608.9 270.4h.01M624.7 261.6h.01M577.3 207.4h.01M582 206.4h.01M615.8 264.6h.01M595.7 251.7h.01M588.5 274.5h.01M620.8 253.2h.01M570.9 256.2h.01M610.5 198.2h.01M596.1 274.9h.01M579.4 285.9h.01M565 236.6h.01M599.4 210.7h.01M605.9 219.3h.01M561.2 208.1h.01M562.6 240.8h.01M624.1 240.1h.01M619.4 281.2h.01M615.3 223.1h.01M616.3 269.4h.01M561.2 243.8h.01M562.9 272.7h.01M570.4 199.5h.01M571 239.8h.01M573.3 275.5h.01M572.8 270.1h.01M624.3 222h.01M583.6 204.2h.01M580.8 204.6h.01M623.9 249.8h.01M605.5 234.8h.01M574.8 205.7h.01M617 225.5h.01M573.4 196.5h.01M624.1 199h.01M617.2 223.2h.01M606.5 226.9h.01M602 274.3h.01M616.8 278h.01M596.2 277.7h.01M572.8 275.1h.01M604.3 227h.01M607.6 205h.01M562.9 228.6h.01M613.8 211.4h.01M617.3 201.5h.01M559.1 278.7h.01M608.1 261.5h.01M606.6 245.9h.01M609.1 247.5h.01M560.7 267.8h.01M620.6 201.5h.01M591.2 251.8h.01M586.1 262.6h.01M599.7 201.1h.01M599.6 278.9h.01M610.8 213.7h.01M569.5 215.6h.01M561.5 274.7h.01M609.6 276.3h.01M570.9 201.6h.01M566.8 254.2h.01M564.8 260.4h.01M599 204.4h.01M606.3 278.7h.01M589.5 236.2h.01M616.7 242.1h.01M602.7 273.2h.01M565.3 282.3h.01M585.5 239.2h.01M622.3 245.1h.01M606.8 256.3h.01M598.6 247h.01M616.2 269.8h.01M606 219.5h.01M565.8 272.1h.01M564.5 271.2h.01M616.1 227.8h.01M579.9 279.9h.01M596.1 275.7h.01M622.1 268.7h.01M600.8 272h.01M572 271.5h.01M587.4 231.5h.01M612.2 245.4h.01M623.1 277.9h.01M566.5 256.1h.01M597.6 280.7h.01M586.7 198.9h.01M609 216.7h.01M569.1 198.5h.01M589 229.3h.01M610.4 242.9h.01M624 238.9h.01M614.1 275.4h.01M607.2 266.4h.01M577.8 273.1h.01M602.5 245.9h.01M560.8 248.5h.01M593 203.4h.01M574 269.9h.01M565.5 237.8h.01M620.5 283.8h.01M617.2 198.4h.01M605 233.2h.01M607.9 203.9h.01M596 267.3h.01M608 273.7h.01M598.7 250.5h.01M594.4 280.2h.01M610.5 262.7h.01M567.4 267.4h.01M589.3 273.8h.01M559 261.4h.01M603.3 257.1h.01M560.1 253.1h.01M609.4 280.3h.01M565.7 214.6h.01M565.2 213.2h.01M603 244.3h.01M579.1 275.2h.01M560.5 265.7h.01M582.6 287h.01M567.4 263h.01M571.5 280.6h.01M583.6 275.8h.01M615.4 200.1h.01M582.5 286.2h.01M575.1 261.7h.01M605.2 281h.01M599.7 273.3h.01M597.2 209.2h.01M613.2 238.9h.01M612 213.2h.01M565.3 235h.01M619.8 278.4h.01M585.1 283.2h.01M624.2 274.8h.01M566.3 241.9h.01M609.3 240.8h.01M578.1 227.7h.01M578.1 266h.01M580.6 196.3h.01M583.2 219.2h.01M597.6 245.6h.01M608.4 225.5h.01M620.7 278.8h.01M572.9 282.7h.01M597.6 284.8h.01M614.1 247.3h.01M569.4 205.2h.01M588.8 222.6h.01M607.7 230.7h.01M601.4 212.9h.01M587.4 224.2h.01M595.6 209.7h.01M594.3 211.9h.01M623.5 218.7h.01M566.3 246.6h.01M610.8 244.7h.01M620.4 241.2h.01M561.6 206h.01M606.8 269.5h.01M587.8 244h.01M623.7 219.7h.01M568.8 260.1h.01M580.2 206.3h.01M586.9 240h.01M613 224.7h.01M613.7 266.7h.01M575.3 256.8h.01M599.5 260.9h.01M562.4 274.2h.01M571.2 206.9h.01M620 199.3h.01M599.2 214.8h.01M567.4 204.1h.01M563.6 230.9h.01M585.5 249.9h.01M617.5 263h.01M606.9 212.1h.01M608.2 200.1h.01M614.4 219h.01M604.8 209.4h.01M611.9 213.2h.01M620.6 271.5h.01M573.8 202.7h.01M598 212.3h.01M595.6 276.4h.01M605 250.2h.01M607 230.6h.01M578.2 207.5h.01M622 231.7h.01M560.6 253.6h.01M590.3 234.4h.01M590.1 271.7h.01M564.9 266.9h.01M622.2 201.4h.01M564.4 286.2h.01M573.4 244h.01M611.2 198.5h.01M619.2 249.9h.01M608.4 272.9h.01M593.6 211.1h.01M622.5 231.4h.01M573.8 266.6h.01M610 281.5h.01M621.7 199h.01M562.7 213.1h.01M570.8 231.9h.01M614.7 203.1h.01M586.5 235.8h.01M601.1 220.9h.01M601.4 250.4h.01M598.4 210.4h.01M597.1 204.1h.01M602.1 257.9h.01M593 282.4h.01M563.9 278.5h.01M573.1 229.1h.01M609.8 197.9h.01M559.4 203.9h.01M565.5 204.7h.01M616.7 214.1h.01M559.1 258.8h.01M601.4 250.6h.01M593.8 277h.01M559.2 285.9h.01M603.4 259.4h.01M619.2 263.6h.01M584.1 209.2h.01M598.3 214.2h.01M609.2 282.2h.01M564.4 251.1h.01M622.6 281.9h.01M609.3 210.9h.01M607.4 278.8h.01M599.7 270.7h.01M612.4 269.2h.01M584.6 284.2h.01M618.9 272.8h.01M585.9 282.3h.01M603.3 197h.01M608.7 226.7h.01M598.9 282.3h.01M582.5 277.6h.01M584.6 220.6h.01M622 233h.01M622.7 234.9h.01M595.3 207.3h.01M572.7 275.5h.01M607.4 278.2h.01M571.2 248.6h.01M598.8 199h.01M564.2 256.9h.01M588.3 200h.01M604.9 246.6h.01M609.2 243.8h.01M592 221.5h.01M611 249.5h.01M617.3 206.9h.01M618.7 233.6h.01M596.2 260.8h.01M619.3 242.1h.01M616.5 198.5h.01M585.1 259.5h.01M616.3 241.5h.01M608.8 235.2h.01M588.1 198.6h.01M617.3 198.9h.01M619.3 245.2h.01M621.5 247.5h.01M559.8 271.8h.01M611.9 255.7h.01M624.4 252.8h.01M596 281.5h.01M562.4 262.5h.01M599.6 228.9h.01M602.3 199.9h.01M610.7 266.2h.01M559.1 231.8h.01M562.6 286.6h.01M560.7 211.9h.01M559.7 270h.01M604.9 219.1h.01M589.6 277.3h.01M609.8 247.1h.01M607.6 264h.01M609.5 206.7h.01M622.2 197.5h.01M586.3 261.4h.01M603.5 243.4h.01M601.3 203.5h.01M571.1 234.1h.01M624.9 285.3h.01M613.9 285.4h.01M595.4 250h.01M571.6 274.5h.01M610.7 198h.01M609.4 274.6h.01M621.8 202.4h.01M602.1 281.1h.01M624.6 215.3h.01M624.2 197.4h.01M605 212.9h.01M617.1 226.7h.01M611 268.6h.01M576.7 272.6h.01M567.4 245h.01M613.8 274.2h.01M561.7 252.7h.01M573 205.9h.01M587.5 229.9h.01M568.9 277h.01M565.9 252.4h.01M608.6 240.4h.01M564.9 212.4h.01M610.8 259.2h.01M573.8 258.3h.01M611.8 258.2h.01M598.7 235.1h.01M607.3 209.2h.01M587.6 245.6h.01M560.8 229.7h.01M578.2 284.2h.01M561.2 206.6h.01M562.3 254h.01M572.7 266.5h.01M579.8 279.8h.01M580 270.9h.01M618.2 218.4h.01M608 286.5h.01M562 215.5h.01M561.4 275.4h.01M605.9 258.5h.01M604.8 227.7h.01M618.8 270.3h.01M600.4 200h.01M565.7 238.4h.01M604.8 267.8h.01M602.1 245.5h.01M616.9 234.2h.01M610.4 260.7h.01M597.6 234.8h.01M590.1 241.5h.01M621.6 233.2h.01M590.9 204.2h.01M577.2 201.5h.01M606.3 271.5h.01M565.6 196.7h.01M560.1 197.3h.01M602.9 254.4h.01M596.7 279.6h.01M607.3 225.4h.01M599.2 258.1h.01M615.4 197.2h.01M574.5 278.8h.01M595.5 243.1h.01M611.7 286h.01M568.9 201.4h.01M563.5 272.5h.01M603.5 269.3h.01M575.2 277.3h.01M616 217.4h.01M599.3 197.2h.01M596.8 270.3h.01M582.7 253.3h.01M605.4 238.2h.01M562.8 243.4h.01M613.5 220.1h.01M620.7 219.8h.01M602.5 207h.01M606.7 262.5h.01M576.2 207h.01M577.4 285.5h.01M598.1 249.3h.01M620.2 203.8h.01M600.2 253.8h.01M568.8 242.1h.01M565.4 221.4h.01M561 221.5h.01M606.3 277.2h.01M621 231.2h.01M588.4 247.6h.01M624.4 206.3h.01M607.5 206.8h.01M562 218.4h.01M573.3 235.4h.01M587 222.5h.01M621.6 233.1h.01M608 254.7h.01M608.4 203.9h.01M577.8 284h.01M614.1 266.1h.01M591.5 205.8h.01M606.8 198.1h.01M607.8 246.7h.01M586.9 268.2h.01M561.6 260.7h.01M569.7 206.3h.01M619.8 220.7h.01M567.1 275.6h.01M608.7 235h.01M611.2 266.6h.01M618 238.7h.01M595.5 262.8h.01M603.2 249.7h.01M610.9 273.8h.01M585.1 245.4h.01M572.1 258h.01M580.4 202.5h.01M568.2 276.1h.01M599.6 264.4h.01M567.9 229.5h.01M563.7 225h.01M612.1 234.4h.01M598.6 208.6h.01M614.8 239.8h.01M594.4 272.4h.01M611.8 275.9h.01M615.6 208.4h.01M598.9 256.6h.01M616.7 224.5h.01M618.2 228.1h.01M602.9 215h.01M581.6 275.3h.01M614 206h.01M607.3 243.6h.01M595.2 270h.01M569.2 273h.01M608.1 203.6h.01M568.6 199.5h.01M579 199.5h.01M564.2 255.3h.01M564 213.6h.01M596.7 209.8h.01M611.4 200.1h.01M590.4 256.6h.01M617.6 254.4h.01M604.4 236h.01M563.4 250.2h.01M583.9 281.4h.01M583.3 265.6h.01M598 218.7h.01M623.5 244.5h.01M560.3 273.8h.01M624.5 206.9h.01M579.6 283.3h.01M619.3 203.2h.01M621.5 262.3h.01M574.8 264.6h.01M580.1 203.9h.01M565.3 234.3h.01M608.1 219.6h.01M562.4 226.9h.01M623.7 239.1h.01M593 225.7h.01M589 242.7h.01M605.8 245.8h.01M586.5 203.6h.01M564.2 204.1h.01M603.1 200h.01M606.8 201.9h.01M607.4 228.9h.01M562 200.4h.01M622.7 270h.01M568.3 196.3h.01M613.9 230.9h.01M563.7 251.8h.01M592.5 199.4h.01M560.1 245.9h.01M586.8 258.6h.01M609.8 254.2h.01M611.9 216h.01M619.1 233.4h.01M572.7 269.9h.01M600.9 218.5h.01M607.8 200.5h.01M624.9 232.4h.01M559.4 247.1h.01M614.3 217.2h.01M560.6 240.7h.01M571.3 287h.01M564.9 241.8h.01M602 211.4h.01M579.3 279.4h.01M619.1 243.3h.01M611.3 281.8h.01M561.3 224.8h.01M601.6 198.2h.01M620.2 230.3h.01M583.8 197.7h.01M596.1 198.2h.01M569 216.4h.01M560.7 272.3h.01M577.6 256.1h.01M606.8 278.9h.01M591.5 270.5h.01M623.3 210.4h.01M594.6 223.5h.01M570.5 269.4h.01M601.3 286.7h.01M621.7 213.3h.01M603.9 203.2h.01M618.8 250.7h.01M580.9 277.3h.01M597.3 279.6h.01M618 273h.01M620.7 233.1h.01M597.5 239.3h.01M573.6 247.5h.01M575.1 276.5h.01M561.7 199.5h.01M593.6 229.6h.01M569.6 245.7h.01M566 243.1h.01M604.3 231.8h.01M582.2 205.9h.01M594.6 232.9h.01M590.6 259.3h.01M597.4 224.7h.01M565.8 213.2h.01M613 260.1h.01M621.7 268.8h.01M599.4 257.9h.01M624 260.5h.01M598.3 242h.01M620.1 249.6h.01M610.5 274.1h.01M561.3 236.9h.01M614.3 253.6h.01M608.3 244.4h.01M589.8 235.6h.01M573.8 277.1h.01M567.9 278.3h.01M606 197.4h.01M563.4 275.1h.01M580.4 273.4h.01M621.7 285.4h.01M600.2 230.8h.01M594.1 283.4h.01M607 282.6h.01M624.7 229.5h.01M570.9 233.9h.01M570.1 271.9h.01M594.2 202.5h.01M600.8 280h.01M605.5 271.9h.01M600.7 227.7h.01M580.9 201.3h.01M586 213.6h.01M603.5 278.1h.01M562.8 250.9h.01M595 279.4h.01M579.5 198h.01M595.3 221.3h.01M611.9 279.9h.01M580.5 205.3h.01M584.9 240.3h.01M608.2 282.3h.01M605.3 266.3h.01M560.8 224.2h.01M623.1 251.2h.01M596.4 281.8h.01M616.6 224.7h.01M609.5 197.7h.01M616.5 222.1h.01M563.6 225.2h.01M613.1 247.3h.01M596.7 209.7h.01M565.3 282.9h.01M610.8 259.6h.01M621.7 197.6h.01M605.1 279h.01M608.7 251.1h.01M585.9 282.6h.01M586.6 276.7h.01M593 286.2h.01M624 196.8h.01M613 208.6h.01M612.9 231.5h.01M569.4 256.2h.01M599.6 281.4h.01M620.9 207.7h.01M603.9 276.6h.01M600.2 220h.01M570.5 205.3h.01M563.8 215.2h.01M598.8 214.1h.01M618 205.1h.01M583.3 206.9h.01M590.9 215.2h.01M614.5 208.6h.01M610.4 197.5h.01M621.6 258.1h.01M564.5 259.3h.01M597.8 285.3h.01M622.7 252.9h.01M601.3 260.2h.01M592.7 239.4h.01M562.6 230.4h.01M576.9 284.8h.01M618.9 254.8h.01M624.5 236h.01M623.2 257.9h.01M587 261.1h.01M565.4 269.8h.01M576.2 201.9h.01M614.8 279.8h.01M596.2 224.4h.01M570.3 245.5h.01M565.7 237.4h.01M602.8 207h.01M589.9 280.4h.01M607.1 262.4h.01M615.7 243.5h.01M607.9 242.4h.01M599.9 233.1h.01M590.8 209.7h.01M607.6 258.4h.01M606 286.2h.01M589.8 199.1h.01M608.9 246.3h.01M613 233.1h.01M605.4 245.8h.01M588.1 274.6h.01M624.1 234.7h.01M562.8 220.2h.01M599.2 208.4h.01M616.9 256.1h.01M571.5 244.3h.01M601.5 209h.01M571.3 251.3h.01M567.5 256h.01M599.3 214h.01M573.1 242.9h.01M560.7 200.2h.01M585.5 218.3h.01M610 196.2h.01M559.7 251.6h.01M573.7 241.8h.01M584.6 211.1h.01M585.8 217.3h.01M573.1 266.1h.01M584.1 211.3h.01M620.4 207.5h.01M560.8 261.5h.01M623.8 208.1h.01M561.9 260.6h.01M624.8 229.6h.01M611.4 267.9h.01M623.5 242.2h.01M596.2 197h.01M616.8 225.6h.01M562.5 252.5h.01M603.5 209.1h.01M600.7 219.3h.01M583 275.9h.01M589.7 273.9h.01M598.7 218.2h.01M575.5 198.6h.01M619.1 264.4h.01M571 214.2h.01M606.8 281.4h.01M609 255.9h.01M561 236.5h.01M611.6 273.7h.01M605.1 233.5h.01M584.4 257.1h.01M608.9 243h.01M564.4 228.8h.01M586.7 283.8h.01M567.3 226.6h.01M612.2 236.6h.01M589.8 280.9h.01M621.6 283.6h.01M614.3 208h.01M590.1 276.5h.01M559.4 201.9h.01M602.1 227.3h.01M598.7 199.4h.01M605.7 269.7h.01M621 272h.01M622.9 257.2h.01M585.9 250.7h.01M604.9 244.7h.01M569.8 205.5h.01M559.5 216h.01M607.5 204.3h.01M615.5 275h.01M608.4 277.9h.01M590.4 281.2h.01M563.8 260.6h.01M618.7 262.6h.01M624.9 284.5h.01M616.1 215.5h.01M599 255.6h.01M623.4 223.7h.01M595.5 277.1h.01M601.6 217.4h.01M607.4 198.1h.01M561.2 236.9h.01M578.4 197.8h.01M602.1 204.6h.01M619.1 236.2h.01M561.3 280.6h.01M589.2 278.4h.01M619.6 234.4h.01M585.8 282.3h.01M600.3 280.2h.01M622 221.9h.01M608.7 219.2h.01M569.2 205.3h.01M593.1 276.1h.01M601.6 256.3h.01M597.7 273.8h.01M579.4 199.1h.01M583.4 254.4h.01M594.7 215.1h.01M610 253.4h.01M603.8 267.9h.01M595.4 280.9h.01M616.2 211.4h.01M587.7 219.1h.01M608.6 231.5h.01M600.7 273.1h.01M597.5 215.6h.01M573 265.3h.01M588.6 267.4h.01M618.8 283.2h.01M603.3 272.6h.01M567.9 205.8h.01M582.8 201.7h.01M610.4 220.6h.01M574.5 277.4h.01M560.8 221.3h.01M613.9 223.8h.01M565.4 196.1h.01M619.7 243.5h.01M595.1 213h.01M591 233.3h.01M607.3 242.9h.01M592.9 213.6h.01M599.9 254.1h.01M616.3 275.5h.01M598 239.8h.01M618.4 270.5h.01M564.9 247.6h.01M614.7 232.5h.01M622.7 218.6h.01M598.5 267.3h.01M623.5 200.4h.01M609 253.7h.01M606.4 229.5h.01M559.2 242.4h.01M563.6 285.2h.01M606.2 257.6h.01M574.9 264.1h.01M571.8 201.9h.01M563 206.8h.01M602.8 265.5h.01M573.9 253.2h.01M563.3 231.4h.01M565.4 231.3h.01M577.5 262.3h.01M592.2 233.6h.01M564.7 201.4h.01M587.2 276.1h.01M583.7 211.8h.01M605.9 251.5h.01M559.7 249.1h.01M561.9 211.9h.01M570 232.1h.01M606.3 201.6h.01M619.7 207.8h.01M576.6 229.8h.01M606 221.5h.01M566.3 233.9h.01M590 245.8h.01M601 217.6h.01M570.4 274.3h.01M561.6 286.1h.01M611.3 223.4h.01M598.8 196.8h.01M604.7 259h.01M578.6 278h.01M601.2 236.5h.01M600.1 211.6h.01M602.2 221h.01M607.1 209.6h.01M618.8 273.3h.01M568.6 244.3h.01M560.2 271.8h.01M599.4 208.2h.01M600 278.3h.01M582.6 204.4h.01M591.9 226.7h.01M618 273.3h.01M603.2 281.5h.01M564.8 235.2h.01M561.3 281.8h.01M588.4 281.6h.01M588.6 246.7h.01M604.4 206.7h.01M622.6 220.3h.01M568.7 277.9h.01M597.8 250.4h.01M596.5 240.2h.01M602.1 200.7h.01M561.5 200.9h.01M613.2 221.2h.01M598.7 238.3h.01M584.7 275h.01M575.8 199.8h.01M598.3 246.3h.01M560.3 213.3h.01M596.6 199.4h.01M565 213.1h.01M601.8 268.4h.01M564.7 221h.01M603.8 273.3h.01M600.2 210.8h.01M615.3 254.9h.01M601.7 219.4h.01M565.3 264.2h.01M560.5 235.5h.01M624.1 207.7h.01M574.8 219.9h.01M596.4 212.4h.01M569.8 202.1h.01M564.9 276.6h.01M582.7 219.1h.01M562.7 247.9h.01M622.8 231.4h.01M599.2 236.4h.01M594.9 206.9h.01M588.3 211.9h.01M592.3 282.5h.01M620.3 283.2h.01M624.6 255.7h.01M562.2 267.8h.01M608.9 255.2h.01M589.9 219.7h.01M595.8 237.3h.01M623.2 278.9h.01M599.5 284h.01M616.5 285.9h.01M601.9 283h.01M567 241.5h.01M575.2 197.8h.01M621.8 223.5h.01M559.5 266.3h.01M597.4 205.2h.01M561.3 211.2h.01M567.3 255.2h.01M602.2 266.4h.01M594.7 217.1h.01M604.7 224.1h.01M560.7 212.5h.01M561.4 230.7h.01M618.7 250.8h.01M565.5 217.3h.01M601.1 208.5h.01M596.3 203h.01M613.6 259.4h.01M609.4 205h.01M562.8 198.8h.01M584.1 242.8h.01M589.5 206.2h.01M574.4 268.4h.01M562.1 265.1h.01M561.2 218.7h.01M612.4 222.7h.01M597.8 213.5h.01M598 270.6h.01M622.8 279.7h.01M604.5 284.8h.01M598.8 242.9h.01M588.4 284.1h.01M623.6 260.2h.01M563.3 283h.01M621.4 249.8h.01M577.1 237.7h.01M601.7 226.3h.01M607.8 255h.01M575.4 271.6h.01M591.5 258.9h.01M563.2 203.1h.01M608.2 229.7h.01M599.2 253.2h.01M603.2 199.5h.01M603.3 198h.01M596.6 247.4h.01M577.4 212.8h.01M611.5 255.2h.01M600.5 281.5h.01M608.5 222h.01M602.6 274.7h.01M607 262.9h.01M611.7 228.6h.01M602.7 244.2h.01M570.1 240.5h.01M616.2 219h.01M560 216.6h.01M579.3 265.7h.01M601.9 269.2h.01M620.7 285.6h.01M561.3 199h.01M615.7 275.2h.01M618 274h.01M612.9 201.6h.01M614.5 201.9h.01M615.5 282.6h.01M608.8 226.6h.01M622.9 270.8h.01M615.2 267.2h.01M600.2 213.7h.01M599.5 243.9h.01M619 209.1h.01M616.1 257.3h.01M598.3 265.9h.01M602.1 263.9h.01M592.1 212.4h.01M601.6 261.8h.01M621.8 259.3h.01M580.7 267.3h.01M560.6 201h.01M607.8 275.4h.01M584.8 227.2h.01M596.9 270.7h.01M579 277.7h.01M613.8 243.5h.01M622.1 225.2h.01M585.4 230.1h.01M597 218.6h.01M613.2 208.8h.01M565 212.2h.01M596.2 229.5h.01M596.6 215.5h.01M568.2 267.4h.01M565.1 278.8h.01M571.9 230.1h.01M619 234.4h.01M563 265.7h.01M563.2 239.6h.01M621.3 286.2h.01M622.5 264.6h.01M613.3 258.5h.01M598.7 267.5h.01M579.3 214.4h.01M580.7 279.8h.01M580.7 276.1h.01M599.6 206.5h.01M617.9 243.8h.01M610.2 257.5h.01M571.5 257.6h.01M602.1 250.9h.01M621.9 234.7h.01M568 204.4h.01M603 278.6h.01M581 242.9h.01M589.3 232.2h.01M610.3 274.4h.01M591.3 199h.01M573 221.6h.01M597 278.4h.01M600.5 242.9h.01M614.1 264.1h.01M613.9 216.3h.01M563.4 242.6h.01M615.3 286.2h.01M612.4 252.7h.01M612.2 198.9h.01M559.4 202.9h.01M581.4 272.4h.01M617.7 213.3h.01M587.1 200.5h.01M565 232.2h.01M568 196.1h.01M618.3 282.1h.01M569 212.6h.01M604.5 262.3h.01M561.8 271.1h.01M623.7 254.3h.01M598.9 282.4h.01M605 221.3h.01M561.5 213.3h.01M573.5 271h.01M603.5 212.9h.01M586.4 224.9h.01M612.1 221.4h.01M566 252.7h.01M620.7 226.8h.01M563.7 248.7h.01M592 286.5h.01M560.1 218h.01M580.3 246.2h.01M623.7 271.4h.01M611.7 197.5h.01M594.8 215.2h.01M566.2 220.1h.01M605.4 284h.01M567.2 286.9h.01M591.7 269.1h.01M597.2 278h.01M562.5 240.6h.01M606.7 262.8h.01M595.5 217h.01M596.2 225.6h.01M606.4 211.3h.01M601.5 265.3h.01M612.7 256h.01M598.6 254.5h.01M622.5 273.2h.01M624.1 216.3h.01M566.8 203h.01M581.3 211.5h.01M614.2 232.2h.01M596 250.4h.01M575 266.5h.01M600.3 246.3h.01M599.1 266.5h.01M600.7 260h.01M605.9 239.2h.01M602.9 230.4h.01M619.3 237h.01M560 196.4h.01M612.5 272.6h.01M559.6 239.3h.01M605.3 279.4h.01M605.7 203.9h.01M568.6 213.1h.01M609.5 273.1h.01M591.5 235.4h.01M613.5 246.2h.01M589.2 196.1h.01M590.2 203.7h.01M597.8 209.7h.01M588.6 253.9h.01M611.9 219.8h.01M606.3 207.8h.01M586.4 278h.01M623 284.9h.01M617.2 255.7h.01M588.8 237h.01M608.9 283.5h.01M559.5 286.2h.01M619.9 274.3h.01M566.5 206.6h.01M582.5 256.5h.01M583.7 211.7h.01M617.7 276.7h.01M598.4 234.6h.01M561.3 266h.01M569.9 250.9h.01M570 221.6h.01M603.7 214.2h.01M599.3 219.4h.01M583 259.6h.01M559.6 225.9h.01M623 243h.01M603.2 218.9h.01M559 226.6h.01M564.6 235.3h.01M599.5 278.5h.01M589.7 256.9h.01M614.8 210.6h.01M577 284.1h.01M578 222.6h.01M597.8 210.9h.01M609.4 226.7h.01M610.7 209.5h.01M560.3 266.8h.01M619.2 234.4h.01M562.2 286.6h.01M559.3 216.6h.01M619.8 248h.01M569.7 225.4h.01M621.1 227.1h.01M608.7 242.2h.01M599.4 221.9h.01M597.9 258.2h.01M593.7 264.9h.01M614.1 254.7h.01M586.8 271.7h.01M591.3 197.8h.01M599.2 198.5h.01M568.1 265.6h.01M600.2 272.5h.01M601.7 230.8h.01M587.2 203.6h.01M617.8 248.1h.01M607.2 198.2h.01M563 275.8h.01M562.7 253.9h.01M560.2 277.4h.01M565.9 249.9h.01M589.4 281.2h.01M564.2 198h.01M595.5 201.8h.01M620.7 280.8h.01M593.2 273.9h.01M585 261.7h.01M623.7 244.8h.01M562.5 224.5h.01M598 239.4h.01M605.8 205.6h.01M596.5 218.4h.01M599 240.5h.01M565.8 266h.01M611.5 244.3h.01M586 274.8h.01M589 286.1h.01M619.9 241.5h.01M599.5 251.4h.01M621.8 265.2h.01M609.3 246.3h.01M617.4 280h.01M614 277.6h.01M585.2 273.7h.01M598.2 277.3h.01M563.3 264.1h.01M565 223.9h.01M577.4 281.7h.01M612.2 212.9h.01M588.9 239.2h.01M559.5 242.7h.01M612.7 278.9h.01M594.2 228h.01M574.3 250.3h.01M597.9 200.6h.01M614 276h.01M603.7 197.5h.01M570.3 214.2h.01M612.5 252.8h.01M601.7 230h.01M607.9 202.9h.01M565.1 223.3h.01M612.7 279.7h.01M602.5 207.3h.01M574.6 203.7h.01M599.4 264.8h.01M587.2 266.3h.01M596.2 214.8h.01M566.9 278.6h.01M618.4 223.4h.01M578.2 282.3h.01M616.8 271.9h.01M612.5 221.4h.01M578.1 279.5h.01M617.9 259.1h.01M603 225h.01M619.9 252h.01M561 237.3h.01M603.1 206.4h.01M596.7 243.4h.01M603.8 276.8h.01M617.4 237.3h.01M573.3 236.2h.01M564.5 223.5h.01M586.1 206.7h.01M599.6 209.7h.01M616.1 254h.01M580.1 216.9h.01M605.3 221.2h.01M606.7 198h.01M560.1 196.6h.01M602.4 251.3h.01M561.2 251.8h.01M569.3 198.4h.01M584.8 248.2h.01M610.8 284.4h.01M592.7 203.7h.01M611.7 197.4h.01M567.6 270.9h.01M566.1 263.3h.01M591.6 247.7h.01M608.8 207.2h.01M619.1 228.8h.01M609.3 198.7h.01M611.1 256.9h.01M562.8 210.9h.01M603.7 226.5h.01M584.2 277.6h.01M569.8 196.5h.01M605.9 212.8h.01M577.1 281.7h.01M582.9 241.2h.01M620.3 226.1h.01M569.8 217.9h.01M587.7 225.1h.01M617.5 280.1h.01M619 198.4h.01M579.7 205.4h.01M585.4 249.3h.01M595.8 210.3h.01M582.6 275h.01M564.8 270h.01M618.2 253.9h.01M567 274.2h.01M599.6 233.8h.01M580 264h.01M604.6 277.2h.01M591.1 198h.01M581.9 262.6h.01M614.3 278h.01M611.6 280.6h.01M583.8 257.1h.01M574.5 282.9h.01M568.8 269.6h.01M568.1 239.4h.01M609.4 201.6h.01M613.7 198.1h.01M580.4 205.8h.01M571.5 226.6h.01M616.8 206.9h.01M613.2 204.6h.01M580.6 208.1h.01M579.7 202.8h.01M610 273.6h.01M577.4 204.5h.01M590.3 219.6h.01M571.5 240.3h.01M559.9 278h.01M567.6 274.8h.01M595.9 278.3h.01M604 248.2h.01M612 211h.01M562.4 274.5h.01M587.1 201.6h.01M563.6 220.7h.01M593.5 256.3h.01M598 201.9h.01M579 203.8h.01M595.3 209.5h.01M564.3 278.6h.01M586.5 235.2h.01M597.2 235.3h.01M586.1 229.7h.01M592.4 277.4h.01M615.5 268.8h.01M617.6 280.4h.01M592.2 249.9h.01M559.6 271.2h.01M612.7 239.9h.01M582.3 201.3h.01M566.3 219.1h.01M560.5 245.3h.01M604.7 276.4h.01M596.7 261.2h.01M572.6 198.1h.01M624.3 253.3h.01M622 276h.01M581.1 199.1h.01M606.8 209.4h.01M570.3 280h.01M614.3 237.3h.01M563.8 279.7h.01M560.9 207.2h.01M561.9 254.6h.01M559.7 282.3h.01M618.3 211.3h.01M616.2 215.4h.01M619.6 286.6h.01M605 243.6h.01M576.1 264.6h.01M622.6 220.8h.01M583.1 221.4h.01M597.1 205.3h.01M607.8 220.8h.01M565.5 211.2h.01M602.2 252h.01M590 282.4h.01M606.6 224.1h.01M566.1 216.1h.01M610.4 212.9h.01M604.7 248h.01M584.5 228.7h.01M564.9 231.1h.01M623 248h.01M608 198.5h.01M605.7 224.6h.01M561.3 272.9h.01M587.8 265.4h.01M563.9 227h.01M597.7 206.7h.01M593.1 245.8h.01M593.9 217.6h.01M604.7 218.3h.01M616 222.5h.01M604.6 220.2h.01M616.1 221.4h.01M566.3 241.2h.01M575.2 268.3h.01M569.8 211.2h.01M594.3 208.6h.01M572.7 243.5h.01M588.6 255.7h.01M570.1 267.9h.01M613.4 272.4h.01M599.3 225.1h.01M618.4 215.4h.01M621.4 228.4h.01M567.1 244.4h.01M612.1 263.3h.01M597 244.9h.01M621.5 258.2h.01M617.8 272.5h.01M603.9 214h.01M619.5 274.1h.01M585.4 196.5h.01M616 217.9h.01M563.9 224.1h.01M600.2 200h.01M576.1 279.8h.01M598.3 219.5h.01M573.3 272.9h.01M620.9 217.2h.01M565.5 258.1h.01M616.4 260.5h.01M607.7 256.6h.01M567.3 282.5h.01M615.2 226.9h.01M559.9 283h.01M589.5 224.2h.01M624.2 277.3h.01M617.4 223.5h.01M603.1 203.7h.01M612.5 248.3h.01M614.4 269.9h.01M605.1 269.7h.01M586.2 261.5h.01M600.8 230.5h.01M615.9 223.6h.01M575.4 271.3h.01M620.4 206h.01M611.1 246.1h.01M565.7 209.2h.01M563.5 260.2h.01M611.6 237.4h.01M608 283.2h.01M574.1 215.5h.01M623 259h.01M585.8 273.5h.01M618 215h.01M602.1 231.1h.01M562.9 232h.01M579.5 273h.01M563.1 227.6h.01M612.3 275.4h.01M595.2 255.8h.01M563.1 278.9h.01M592.1 198.7h.01M601.1 269h.01M612.5 227.3h.01M605.1 205.8h.01M601.5 278.6h.01M589 286.5h.01M579.1 271.2h.01M566.9 229.8h.01M599.2 282.9h.01M559 212.3h.01M559.4 269.9h.01M559.7 245.1h.01M596.5 218.6h.01M600.7 259.7h.01M609.4 282.5h.01M582.7 261.4h.01M607.5 222.6h.01M620.1 253.9h.01M623.7 241.4h.01M573 254.6h.01M622.3 254.4h.01M616.4 234h.01M622 227.6h.01M564.2 199.5h.01M585.9 236.2h.01M611.5 257.8h.01M566.3 213.2h.01M577 257.5h.01M560.7 198.6h.01M609.7 218.5h.01M570.8 285.7h.01M568.3 208h.01M602.2 237.5h.01M587.3 249.1h.01M585 242.7h.01M576.4 284.1h.01M599 202.4h.01M587.6 206.7h.01M595.6 256.8h.01M603.4 284.7h.01M611.1 267h.01M597.6 219.3h.01M599.3 240.5h.01M621.2 236.9h.01M581.9 199.3h.01M621.3 258.8h.01M579.1 208.3h.01M583.8 264h.01M561.2 227.7h.01M618.5 198.6h.01M561.8 267h.01M614.3 242.5h.01M578.2 201.2h.01M589 243.9h.01M587.5 263.7h.01M587.3 241.4h.01M592.8 200.1h.01M576.1 272.4h.01M601.8 277.4h.01M599 197.2h.01M623.6 219.4h.01M607.9 261.9h.01M581.2 219.9h.01M600.8 213.8h.01M594.2 266.2h.01M616.2 245h.01M573.4 207.2h.01M606.8 229.9h.01M561.7 198.7h.01M607.3 211.4h.01M566.3 210.2h.01M564.9 271.9h.01M604.6 226.9h.01M621.3 238.1h.01M624.7 205.3h.01M622 264.9h.01M603.5 243.7h.01M611.4 237.5h.01M616.5 241.1h.01M564.7 254.6h.01M564.8 255.8h.01M593.6 252.8h.01M560.4 206.6h.01M565.4 215.9h.01M567.3 278.8h.01M587.9 197.7h.01M569.7 242.2h.01M565.7 232.3h.01M618.6 227.6h.01M592 208h.01M598.2 221h.01M607.1 215h.01M597.7 248.3h.01M621.2 211h.01M581.5 281.6h.01M585.2 220.2h.01M574.4 269.1h.01M603.6 225.4h.01M615.8 236.2h.01M566.3 235.9h.01M571.7 279.5h.01M595.2 276.4h.01M562.7 211.1h.01M593.3 219.6h.01M561.5 212.9h.01M569.7 255.5h.01M617.2 248.5h.01M594.8 277.1h.01M589.6 256.4h.01M593.9 235.4h.01M584.5 254.7h.01M614.7 279.9h.01M611.4 233.7h.01M562 214.1h.01M591.2 269.4h.01M563.8 262.4h.01M593 208.4h.01M576 224.3h.01M573.2 200.9h.01M601.1 248.9h.01M569.6 223h.01M560.5 216h.01M595.9 246.6h.01M614.5 285.7h.01M608.7 265.8h.01M596.2 255.5h.01M559.5 281.2h.01M600.2 196.1h.01M603.9 244.9h.01M567.4 236.8h.01M620.1 208h.01M595.7 232.2h.01M583.8 242.9h.01M601.3 255h.01M571.8 217.4h.01M602.1 255.7h.01M563.8 231.1h.01M596.7 271.3h.01M608.7 212.8h.01M582.1 207.8h.01M567.2 228.6h.01M571.6 198.9h.01M605.9 207.2h.01M604.7 224.7h.01M582.8 208.9h.01M611.8 196.5h.01M606.4 224.1h.01M599.6 267.5h.01M561.1 237.6h.01M581.3 283.6h.01M584.5 245.3h.01M603.1 266.1h.01M606.7 232h.01M608.4 239.4h.01M611.7 256.6h.01M565.9 255.2h.01M565.3 245.4h.01M619.1 233.2h.01M590.5 270.4h.01M576.3 206.8h.01M570.6 279.9h.01M588.5 236.2h.01M586.1 235.9h.01M601.2 277.9h.01M623.4 226.3h.01M600.8 273.6h.01M623.4 249.6h.01M621.5 210.1h.01M600.3 250.9h.01M562.7 210.6h.01M621.8 279.5h.01M610.8 277.8h.01M620.4 199.1h.01M624.1 276.7h.01M603.3 218h.01M601.8 275h.01M605.2 233.9h.01M616.6 221.1h.01M570.5 207.8h.01M606.7 243.8h.01M563 237.5h.01M565.1 251.4h.01M596.8 214.2h.01M561 211.2h.01M612 278.4h.01M589.8 284.9h.01M609.4 286.6h.01M624.3 233.8h.01M619.7 255.8h.01M603.3 248.7h.01M610.6 239.7h.01M572.4 272.9h.01M598.3 266.4h.01M591.7 249.5h.01M583.6 211.2h.01M576.9 283.8h.01M593.6 232.9h.01M593.7 244.4h.01M623.8 235.9h.01M597.9 210.8h.01M571.1 221.9h.01M599 269.5h.01M598.2 257.9h.01M621.3 283h.01M624.5 215.2h.01M571.4 242.2h.01M608.2 246.3h.01M586.2 212.6h.01M582.1 207.8h.01M599.9 233.9h.01M614.1 210.2h.01M613.5 261.3h.01M621.9 210.6h.01M601.5 196.3h.01M594.5 207.3h.01M598.6 255.9h.01M614.4 277.1h.01M610.6 223.8h.01M564.6 280.5h.01M565.6 211.7h.01M601.2 217.6h.01M597.1 205.1h.01M601.1 201.8h.01M608 207.1h.01M581.9 202.9h.01M588.4 200.7h.01M587.5 208.4h.01M599.3 247.2h.01M576.5 197.2h.01M618.9 231.2h.01M618.4 240.7h.01M572.9 272.9h.01M622.5 279.1h.01M612.3 230.1h.01M615.4 203.3h.01M583 219.1h.01M574.4 285.5h.01M622.2 244.3h.01M612.9 206.9h.01M596.9 260.7h.01M604.5 275.5h.01M603.6 249.9h.01M624.6 204.2h.01M618.2 275h.01M598.3 196.5h.01M609.1 227.5h.01M562.4 196h.01M621.7 246.5h.01M566.2 229.4h.01M602.8 260.1h.01M622.4 231.4h.01M594.1 216.1h.01M619 281.7h.01M605.4 213.1h.01M561.3 286.1h.01M581.9 203.8h.01M565.6 238.8h.01M614.2 229.1h.01M624.8 214.4h.01M621.4 270.8h.01M587.5 217.8h.01M619.3 209h.01M607.5 281.4h.01M623.4 231.1h.01M597.9 282.4h.01M591 220.2h.01M560.2 240.7h.01M566.4 253h.01M568.3 237.9h.01M606.1 265.5h.01M560.6 233.9h.01M589 256.2h.01M600.6 213.7h.01M590.6 251.6h.01M591.3 252.5h.01M604.1 249.2h.01M616.8 236.7h.01M573.5 239.7h.01M606.2 218.5h.01M612.5 281.6h.01M621.6 245.6h.01M593.2 207.3h.01M579.1 201.9h.01M606.4 284.8h.01M618.5 199h.01M565.5 210.5h.01M599.3 262.3h.01M566.4 221.1h.01M592.4 269.6h.01M617.3 236.8h.01M579.1 198.3h.01M569.7 250.6h.01M592.3 240.3h.01M588.6 263.4h.01M589.7 244.5h.01M574.4 278.8h.01M591.6 212.7h.01M566.4 257.9h.01M584.5 280.3h.01M565.5 275.4h.01M585 230.5h.01"/><clipPath id="c6"><path d="M560.6 196 L560.6 264 Q561 280 575 283.4 Q592 286 609 283.4 Q622.6 280 623 264 L623 196 Z"/></clipPath><path clip-path="url(#c6)" class="d" stroke-width="1.9" style="stroke:#111" d="M605.3 217.6h.01M601.4 234.4h.01M599.1 232.4h.01M601.3 242.4h.01M608 227.8h.01M599.6 211.7h.01M611.2 265.5h.01M601.8 230.4h.01M610.7 238.1h.01M602.3 255.4h.01M600.4 224.2h.01M596.6 271.9h.01M607.9 262.8h.01M602 217.7h.01M603 281.5h.01M599.4 219h.01M611.5 274.3h.01M598.3 259.5h.01M611.9 282h.01M609.4 259.8h.01M597.9 281.8h.01M604.7 216.7h.01M600 263.4h.01M602.7 229.4h.01M601.1 252.5h.01M610.2 212.5h.01M607.2 230.8h.01M604.2 221h.01M603.8 274.8h.01M607.7 267.1h.01M605.3 235.5h.01M602.6 211h.01M599.8 211.5h.01M598 255.4h.01M597.3 220.8h.01M606.3 213.3h.01M596.5 213h.01M604.6 236.9h.01M598.5 252.4h.01M607.8 281.8h.01M596.1 247.2h.01M600.2 221.8h.01M610.5 215.1h.01M605.8 253.8h.01M598.7 277.1h.01M597 258.2h.01M611.3 278.6h.01M600.2 274.9h.01M598.8 224.7h.01M599.1 256.6h.01M603.1 259h.01M602.2 268.6h.01M604.3 260h.01M596.2 226.3h.01M600.5 223.7h.01M606.5 230.4h.01M610.2 234.9h.01M597.9 264.9h.01M605.5 275.1h.01M609.2 258.2h.01M598.2 240h.01M607.3 234.1h.01M604 252h.01M610.1 241.9h.01M600.5 252.2h.01M611.2 271.1h.01M598.2 260.6h.01M599.9 225h.01M611 242.4h.01M607.2 230.2h.01M603.2 249h.01M610.2 280.9h.01M603.3 280.7h.01M602.9 249.7h.01M610 259.4h.01M597 237.9h.01M609.2 270.9h.01M608.4 237.4h.01M608.8 215.2h.01M610.7 218.9h.01M605.4 241.9h.01M610.4 255.2h.01M605.2 241h.01M609.7 281.8h.01M609.1 258.6h.01M602.3 272.9h.01M608 241.8h.01M596.5 234.7h.01M609.2 241h.01M603.6 262.6h.01M600 236.2h.01M596.7 253.7h.01M604.2 263.6h.01M607.7 256.9h.01M607.3 255.5h.01M604.7 228.7h.01M601.5 221.5h.01M609.7 242.9h.01M601 278.9h.01M602 244.5h.01M600 276.2h.01M599.3 279.3h.01M602.4 270.8h.01M608.2 251.2h.01M606.7 281.4h.01M602.4 214.6h.01M602.8 244h.01M597.4 215.7h.01M597 254.7h.01M608 269.9h.01M602.8 234.3h.01M602.4 269.2h.01M600.7 275.3h.01M599.7 241.1h.01M609.7 277.8h.01M596.5 270.7h.01M602.1 243.1h.01M599.1 212.7h.01M607.3 242.7h.01M604.2 278.8h.01M605.9 272.6h.01M611.9 249.3h.01M598 254.3h.01M604.5 235.7h.01M597.6 220.6h.01M599.9 256.9h.01M602.9 240.4h.01M596.4 277.8h.01M596.3 254.2h.01M600.7 253.4h.01M608.1 280.8h.01M608.2 234.2h.01M607.1 281h.01M603.3 241h.01M600.4 232.8h.01M606.5 247h.01M602.1 245.7h.01M597.8 217.7h.01M599.8 246.3h.01M610.6 266.1h.01M603.5 236.6h.01M601.1 215.6h.01M597.8 275.7h.01M605.2 246.4h.01M609 269.8h.01M604.7 246.2h.01M598.6 217.4h.01M599.5 268.9h.01M602.7 276.9h.01M602.7 229.4h.01M598.3 240.1h.01M599.1 229.9h.01M606.7 254.5h.01M608.8 264.4h.01M596.2 258.9h.01M601.7 226.6h.01M609.7 246.5h.01M609.2 210.8h.01M611.7 259.1h.01M608.4 260.1h.01M605.8 271.3h.01M600.4 240.3h.01M605.5 225.8h.01M602.6 258.9h.01M602.3 265.6h.01M606.3 234.8h.01M602.3 219h.01M599.7 272.7h.01M604.5 211.7h.01M600.1 251.5h.01M605.3 279.8h.01M608.3 265.3h.01M605.4 273.2h.01M608.3 222.7h.01M597.4 275.6h.01M610.4 224.1h.01M600.2 257.1h.01M596.4 216.1h.01M601.7 238.8h.01M597.6 220.2h.01M596.3 221.1h.01M599.3 277.6h.01M599.1 234.3h.01M599.4 256.1h.01M607.9 274.7h.01M606.4 256.1h.01M608.7 239.8h.01M602.8 262.5h.01M598.9 223h.01M606.4 248.8h.01M603.4 275h.01M610.9 233.6h.01M603.6 234.8h.01M602.2 211.2h.01M606.9 275.3h.01M603.8 275.1h.01M598.6 274.5h.01M603.7 264.3h.01M609.6 247.6h.01M602.6 232.8h.01M603.3 248.7h.01M609.4 272.5h.01M602.2 236.8h.01M599.9 243.4h.01M601.9 278.8h.01M598.1 225.4h.01M609.3 254.4h.01M603.1 251h.01M608.3 241.2h.01M603.3 256.7h.01M600.2 257.1h.01M598.8 264.3h.01M601.4 270.7h.01M605.8 244.6h.01M608 278.7h.01M600.2 249.7h.01M600.7 255.9h.01M605.5 213.4h.01M607.6 245.9h.01M597.2 262h.01M605.1 264.5h.01M603.5 273.8h.01M596 266.6h.01M609.7 245.6h.01M604.2 231h.01M608.7 248.6h.01M608.3 239.1h.01M610.9 245.9h.01M599.5 256.8h.01M602.3 247.7h.01M610.9 228.1h.01M602.4 226.8h.01M604.6 234h.01M598.7 235.2h.01M611.9 240.9h.01M599.4 275.8h.01M601.7 254.4h.01M605.4 259.6h.01M596.7 281.6h.01M605.4 273.2h.01M605.3 263.5h.01M602.2 274.2h.01M604.4 222h.01M606.1 254.9h.01M597.5 229.5h.01M610.9 279h.01M610.4 256.9h.01M600.3 239h.01M610.3 239.3h.01M603 242h.01M603.6 254.2h.01M600.5 228.8h.01M602.2 281.6h.01M602.5 258.6h.01M605.8 218.2h.01M609.1 269.3h.01M601.8 210.4h.01M606.8 260.8h.01M611 220.4h.01M608.3 265h.01M606.9 252.1h.01M611.5 252.1h.01M611 260.4h.01M598.5 237.1h.01M605.5 242.9h.01M596.8 265.5h.01M600.6 265.4h.01M607.2 223h.01M601.3 217.7h.01M601.1 266.7h.01M603.1 271.2h.01M601.9 238.5h.01M598.3 265.8h.01M601 255.1h.01M601.6 270.2h.01M599.1 229h.01M601.9 278.8h.01M609 221.2h.01M607.9 226h.01M601.1 231.3h.01M610.3 277.3h.01M598.1 256.8h.01M604.7 262h.01M605.8 279.6h.01M597.6 224.3h.01M597.7 235.5h.01M610.9 222h.01M602.5 212.6h.01M606 230.3h.01M597 221.1h.01M605.8 237.5h.01M610 225.1h.01M606.3 267.3h.01M600.7 236.9h.01M604.4 216.6h.01M596.9 216.7h.01M609 226.6h.01M598.6 223.3h.01M604.4 213.2h.01M599.7 279.8h.01M598.1 279.7h.01M597.3 217.6h.01M597.7 264h.01M597.7 224.1h.01M608.7 216.2h.01M607.6 253.8h.01M606.1 269.3h.01M608.3 262.2h.01M611.5 245.1h.01M611.2 221.4h.01M607.9 280.4h.01M608.9 249.7h.01M603.5 281.7h.01M612 223.7h.01M597.2 218.2h.01M611.8 262.9h.01M601.3 272.8h.01M611.9 229.6h.01M611.1 267.9h.01M609.8 261.8h.01M603.8 273.8h.01M609 226.3h.01M607.2 222.6h.01M609.7 219.2h.01M597.1 234.7h.01M596.3 266.8h.01M599.8 240.4h.01M609.2 249.4h.01M609.4 241.2h.01M597.1 237.3h.01M606.2 242.7h.01M602.6 212.2h.01M610.2 225.5h.01M605.6 233.6h.01M601.7 219.2h.01M596 253.3h.01M610 249.4h.01M602.3 211.5h.01M604 276.9h.01M601.6 213.3h.01M604 235.1h.01M600 281.7h.01M604.1 220.8h.01M605.5 255.2h.01M609.7 210.9h.01M596.1 218.2h.01M598.1 270.2h.01M598.3 269.6h.01M597.9 228.4h.01M605.2 213.1h.01M608.5 223h.01M603.1 246.9h.01M597.3 245.4h.01M600.1 214.4h.01M607.9 240.1h.01M602.8 273.9h.01M597.6 272.2h.01M608.8 232.3h.01M601 222h.01M597.2 271.4h.01"/><clipPath id="c7"><path d="M560.6 196 L560.6 264 Q561 280 575 283.4 Q592 286 609 283.4 Q622.6 280 623 264 L623 196 Z"/></clipPath><path clip-path="url(#c7)" class="d" stroke-width="1.8" style="stroke:#111" d="M562.9 221.6h.01M566 229.8h.01M561.8 260.7h.01M561.7 249.6h.01M563 271.3h.01M560.6 220.1h.01M564.9 207h.01M564.5 212h.01M563.7 256.5h.01M561 221h.01M564.3 262h.01M564.9 221.7h.01M563 214.2h.01M563.5 250.8h.01M564.4 216.7h.01M562.5 259.7h.01M566 238.9h.01M565.6 239.9h.01M562.8 247.8h.01M562.4 222.9h.01M565.9 257.1h.01M564.5 235h.01M563 219.2h.01M561.5 207h.01M566.1 267.5h.01M560.1 256.6h.01M563.8 243.7h.01M560.3 266.1h.01M561.8 255h.01M560.5 241.1h.01M564.8 223.5h.01M560.9 227.8h.01M563.8 233h.01M565.6 231.5h.01M564.1 252.2h.01M564 272h.01M560.2 268.5h.01M565 222.9h.01M565.3 250.4h.01M563.9 243.3h.01M562.7 250.8h.01M560.1 207h.01M566.5 227.1h.01M561.4 251.1h.01M560.6 242.5h.01M562.3 226h.01M562.1 213.1h.01M563.9 266.7h.01M564.4 211.9h.01M566 207.8h.01M566 221.4h.01M561.3 231h.01M563.7 260h.01M566.3 258.3h.01M563.7 220.8h.01M564.8 210.6h.01M563.2 244.1h.01M563.3 205.1h.01M561 213.9h.01M563.6 234.3h.01M564.2 215.4h.01M564.7 210.9h.01M563.5 250.1h.01M564.9 222.9h.01M562.4 274.3h.01M563.7 236.6h.01M561.2 242.3h.01M562.9 222.7h.01M563.7 260.5h.01M562.4 259.9h.01M561.7 232.9h.01M561.2 220.3h.01M564.7 274.5h.01M562 225h.01M565.8 210.2h.01M563.1 207.4h.01M563.9 258.4h.01M564.2 243.5h.01M562.7 255.3h.01M562.2 220.8h.01M560.4 212.3h.01M566 239.5h.01M564.7 259.7h.01M565.8 208.5h.01M562 266.8h.01M562.7 226.7h.01M561.3 225h.01M560.9 270.3h.01M561.6 243.1h.01M565.9 220.7h.01M563.7 215.2h.01M562.4 213.2h.01M560 252.4h.01M560.2 223.1h.01M561.1 223.5h.01M563.2 212h.01M563 252.5h.01M563.2 223.5h.01M562 216.5h.01M560.4 257.9h.01M563.3 273.6h.01M564.3 225.3h.01M562.9 273.6h.01M565.6 270.8h.01M562.8 229.5h.01M562.8 258.6h.01M560.6 230.6h.01M562.2 275.5h.01M565.9 214.8h.01M564 260.1h.01"/><path class="n" d="M560.6 200 L560.6 264 Q561 280 575 283.4 Q592 286 609 283.4 Q622.6 280 623 264 L623 200" style="stroke-width:3.68"/><path class="k" d="M561 201 Q592 214 623 201 L623 206 Q592 219 561 206Z" /><path class="p" d="M550.6 180L550.8 177.9L551.5 175.8L552.7 173.7L554.2 171.7L556.2 169.8L558.6 168L561.4 166.3L564.5 164.8L567.9 163.5L571.6 162.3L575.5 161.4L579.6 160.6L583.9 160L588.2 159.7L592.6 159.6L597 159.7L601.3 160L605.6 160.6L609.7 161.4L613.6 162.3L617.3 163.5L620.7 164.8L623.8 166.3L626.6 168L629 169.8L631 171.7L632.5 173.7L633.7 175.8L634.4 177.9L634.6 180L634.6 185.6L634.4 187.7L633.7 189.8L632.5 191.9L631 193.9L629 195.8L626.6 197.6L623.8 199.3L620.7 200.8L617.3 202.1L613.6 203.3L609.7 204.2L605.6 205L601.3 205.6L597 205.9L592.6 206L588.2 205.9L583.9 205.6L579.6 205L575.5 204.2L571.6 203.3L567.9 202.1L564.5 200.8L561.4 199.3L558.6 197.6L556.2 195.8L554.2 193.9L552.7 191.9L551.5 189.8L550.8 187.7L550.6 185.6Z" style="stroke-width:2.76"/><clipPath id="c8"><path d="M550.6 180L550.8 177.9L551.5 175.8L552.7 173.7L554.2 171.7L556.2 169.8L558.6 168L561.4 166.3L564.5 164.8L567.9 163.5L571.6 162.3L575.5 161.4L579.6 160.6L583.9 160L588.2 159.7L592.6 159.6L597 159.7L601.3 160L605.6 160.6L609.7 161.4L613.6 162.3L617.3 163.5L620.7 164.8L623.8 166.3L626.6 168L629 169.8L631 171.7L632.5 173.7L633.7 175.8L634.4 177.9L634.6 180L634.6 185.6L634.4 187.7L633.7 189.8L632.5 191.9L631 193.9L629 195.8L626.6 197.6L623.8 199.3L620.7 200.8L617.3 202.1L613.6 203.3L609.7 204.2L605.6 205L601.3 205.6L597 205.9L592.6 206L588.2 205.9L583.9 205.6L579.6 205L575.5 204.2L571.6 203.3L567.9 202.1L564.5 200.8L561.4 199.3L558.6 197.6L556.2 195.8L554.2 193.9L552.7 191.9L551.5 189.8L550.8 187.7L550.6 185.6Z"/></clipPath><path clip-path="url(#c8)" class="d" stroke-width="1.2" style="stroke:#111" d="M559.7 164.5h.01M601.4 166.9h.01M561.4 181.2h.01M585.9 168.7h.01M583.7 200.1h.01M561.3 167.4h.01M552.4 170h.01M558.2 207.2h.01M577.1 207.5h.01M561.1 203.2h.01M593.6 192.5h.01M607 171.5h.01M570 192h.01M561.3 158.7h.01M616.3 189.7h.01M572.4 184h.01M628.3 171.9h.01M560.6 178.9h.01M564.4 176.4h.01M552.8 196.2h.01M619.4 176.7h.01M582.5 170.9h.01M632 201.9h.01M607 166.7h.01M564.8 196.4h.01M566.3 192.4h.01M586.2 159.6h.01M567 203.7h.01M577.7 191.7h.01M615.5 177.9h.01M592.9 201h.01M612.5 184h.01M596.8 180.4h.01M586.7 191.6h.01M571 201.3h.01M575.3 169.6h.01M632.9 158.8h.01M585 185.6h.01M587.8 199.5h.01M607.9 183.2h.01M550.3 207.2h.01M581.4 176h.01M568.9 167.8h.01M558.8 164.6h.01M607.8 172.8h.01M593.9 190.6h.01M556.2 196h.01M566.7 198.2h.01M626.4 180.6h.01M577.5 183.3h.01M627.4 206.9h.01M611.6 178h.01M584.4 192.9h.01M578.4 197.5h.01M579.4 186.8h.01M594.7 184.3h.01M622.4 202.5h.01M617.1 190.2h.01M584.1 177.6h.01M589.6 200.5h.01M613.3 162.6h.01M571 161.1h.01M576.2 199.4h.01M603.9 159.1h.01M614.5 188.8h.01M590.9 159.5h.01M551.4 161.6h.01M625.4 178.4h.01M555 198.6h.01M591.6 175.1h.01M583.8 168.4h.01M553 197.4h.01M626 175.5h.01M599.5 201.4h.01M552.1 207.9h.01M560 176.6h.01M555.4 168.1h.01M563.7 170.8h.01M588.8 189.8h.01M592.7 195h.01M631.3 169.1h.01M580.9 187.2h.01M567.6 159.9h.01M621.4 183.5h.01M582 190.3h.01M573.8 176.6h.01M562.8 179.4h.01M577.4 185.5h.01M625.2 197.2h.01M606.8 187.3h.01M624.2 166.3h.01M631.8 166h.01M625.7 182.7h.01M610.5 206.9h.01M553 173.9h.01M560.7 173.5h.01M571.6 191h.01M622 170.9h.01M585.2 163.9h.01M557.1 166.1h.01M555.5 200.1h.01M575.3 192.2h.01M615.9 170.1h.01M589.2 189.4h.01M589 189.1h.01M556.6 201h.01M635.3 206.3h.01M618.5 187.7h.01M568.6 163.3h.01M587.7 167.9h.01M602.9 204.6h.01M573.4 187.3h.01M569.3 206.3h.01M606 187.9h.01M594.1 169.8h.01M630.9 182.3h.01M632.5 196.7h.01M626.6 174.2h.01M605.3 188.1h.01M556 200.7h.01M575.4 179h.01M550.9 177.1h.01M558.7 171.9h.01M621.2 167.4h.01M612.7 173.2h.01M603.9 198.9h.01M571.3 165.2h.01M630.3 174.4h.01M617 170.7h.01M633.2 204.3h.01M569.3 200h.01M566.2 200.2h.01M553.2 174.8h.01M550.8 200.9h.01M575 186.3h.01M617.4 171h.01M609.8 190.8h.01M599.8 172h.01M580.7 185.8h.01M620 164.3h.01M610.2 162h.01M572.4 160.8h.01M559.2 190.6h.01M633.2 201.5h.01M596.5 206.7h.01M550.1 173.2h.01M551.3 186h.01M628.7 174.5h.01M596.3 173h.01M579.8 163.2h.01M603.4 196h.01M623.1 199.3h.01M609.3 184.7h.01M623.8 192.1h.01M610.3 185.5h.01M630 189.8h.01M624.8 186h.01M565.7 184.6h.01M626.3 162.2h.01M633.2 189.6h.01M587.8 176.9h.01M597.5 200.2h.01M596.6 163.6h.01M582.5 163.4h.01M609.8 199.7h.01M582.3 206.6h.01M627.2 198.7h.01M611.4 163.3h.01M555.3 163.3h.01M563.1 191.8h.01M624.1 207.1h.01M593.2 191.5h.01M571.2 177.7h.01M609.5 205.6h.01M610.9 192h.01M614.4 165.6h.01M572.7 165.2h.01M635.7 171.8h.01M563 158.6h.01M572 174.5h.01M573.4 172.2h.01M559.3 162.5h.01M560.7 184.2h.01M607 197.3h.01M600.3 158.8h.01M551.8 187.3h.01M580 206h.01M603.7 204h.01M567.5 164.5h.01M564.8 207.4h.01M598.5 186.6h.01M607.5 164.2h.01M590.1 186h.01M557.8 166h.01M555.4 175.8h.01M552.3 160.2h.01M619.2 197.8h.01M557.8 200.8h.01M558.7 182h.01M583 165.8h.01M584.5 172.8h.01M556 199.2h.01M616.7 175.7h.01M593.4 165.7h.01M614.9 200.3h.01M585.8 178.6h.01M596.7 190.3h.01M632.1 203.1h.01M634.7 174.7h.01M622 179.9h.01M574.6 174.7h.01M562.4 160.7h.01M633.7 203.5h.01M575.4 198.2h.01M562.7 200.3h.01M565.6 180.3h.01M560.3 206h.01M569.4 207h.01M604.6 164.4h.01M576.1 183.4h.01M625.8 205.6h.01M576.9 179.8h.01M600.4 159.4h.01M576.8 188.7h.01M625.8 161.3h.01M602.8 165.7h.01M581.7 200.1h.01M615.8 160.9h.01M598.8 182.6h.01M557.5 207.3h.01M551.7 207.5h.01M555.1 202.5h.01M564.4 182.3h.01M567.8 159.8h.01M576.8 195h.01M620.9 182.2h.01M604.5 188.3h.01M631.3 189.2h.01M554.7 180.1h.01M592.3 180h.01M625.5 167.6h.01M626.2 207.2h.01M619 202.5h.01M631.8 184.3h.01M591.4 179.2h.01M628.1 199.8h.01M626.7 206.8h.01M624.6 169.3h.01M565 165.2h.01M607.3 166.9h.01M578.6 166.3h.01M625.5 177.4h.01M554.2 172.3h.01M609.7 189.5h.01M630.9 169h.01M630.7 185.3h.01M559.6 174.2h.01M576.4 196.2h.01M584.1 183.9h.01M610.5 166.8h.01M620.6 192.1h.01M613.5 163h.01M610.9 196.5h.01M605.4 182.6h.01M572 199.5h.01M629.7 203.3h.01M570.5 182.3h.01M616.9 200.1h.01M624.1 206.3h.01M566 158.6h.01M590.1 159.2h.01M632.7 174.7h.01M614.8 167.2h.01M613.3 166.7h.01M618.3 179.9h.01M572.9 179.1h.01M616.2 175.6h.01M595 192.9h.01M634 185.3h.01M556.9 190.3h.01M566.4 196.9h.01M626.5 181h.01M589.3 164.3h.01M635.9 195.7h.01M574.8 196.7h.01M631 163.5h.01M601.3 181.9h.01M606.8 191.1h.01M588.1 206.6h.01M579.2 194.9h.01M614.8 182.8h.01M616.9 164.2h.01M563 195h.01M550.4 197.8h.01M571.1 190.7h.01M565.2 170.5h.01M624.6 205.9h.01M589.7 184h.01M634.1 197.8h.01M563 193.5h.01M568.2 182.5h.01M615 179.7h.01M622.3 206.5h.01M604.3 183h.01M602.6 198.2h.01M560.9 207h.01M613.3 195.1h.01M627.6 197h.01M627.1 158.3h.01M624.8 206.3h.01M579.5 174h.01M571 204h.01M563.4 166.2h.01M553.2 186.6h.01M565.8 175h.01M564.6 196.3h.01M600.4 170.4h.01M591 189.7h.01M567.4 163.9h.01M558 165.4h.01M634.8 184h.01M579.7 170.6h.01M619.3 159.4h.01M590.6 162.8h.01M625.2 171.9h.01M609.9 201.2h.01M598.7 179.9h.01M611.7 177.3h.01M625.9 204h.01M567.9 170.5h.01M551.9 178.1h.01M605.8 200.6h.01M572.7 169.5h.01M564.4 158h.01M604 203.3h.01M570 195.1h.01M577.3 187h.01M602.5 194.3h.01M617.8 191.6h.01M588.7 197.3h.01M569.2 160.5h.01M605.5 207.6h.01M608.4 205.2h.01M554.6 173.6h.01M615.1 194.8h.01M584.5 175.8h.01M561 191.1h.01M587.7 165.5h.01M616 182.6h.01M570 198.4h.01M616.8 184.7h.01M620.3 165.3h.01M603.4 190h.01M611.7 200.6h.01M597.9 187.2h.01M582.2 177.2h.01M610.8 192.7h.01M633.9 172.6h.01M578.5 170.3h.01M577.9 205.2h.01M610.1 168.6h.01M593.3 175.5h.01M563.7 175.8h.01M628.8 190.6h.01M574.1 163.5h.01M624.6 197.9h.01M605.9 185.1h.01M588.3 171.3h.01M631.8 183.4h.01M587.5 174.9h.01M560.2 178.8h.01M564.7 179.7h.01M599.9 197.7h.01M625.1 163.6h.01M589.9 179.9h.01M635.3 200.8h.01M577.6 169.5h.01M590.7 181.2h.01M561.9 183.4h.01M631.4 197.8h.01M619.1 166.1h.01M580.6 204.6h.01M623.7 169.8h.01M580 160.3h.01M602 206.7h.01M604.5 184.9h.01M598.1 181.5h.01M587.6 201.2h.01M584.9 166.2h.01M607.8 197.3h.01M582.5 188.5h.01M561.1 179.7h.01M583.1 203.1h.01M570.3 165.6h.01M611.8 194.7h.01M557.6 167.4h.01M557.6 203h.01M629.6 200.6h.01M607.8 204.1h.01M558.4 167.8h.01M565.9 174.8h.01M578.6 205h.01M582 165.7h.01M560.3 163h.01M571.6 175.4h.01M577.9 181.3h.01M568.5 195.4h.01M587.1 185.3h.01M607 191.7h.01M565.3 188.5h.01M565.5 185.4h.01M582.2 206.6h.01M575.5 196.4h.01M629.9 185.1h.01M635.7 202.1h.01M584.8 159.1h.01M601.1 200.7h.01M600.6 176.8h.01M628.4 191.8h.01M635.3 164h.01M611.2 195.9h.01M578.1 184.5h.01M587.9 165.1h.01M635.7 176.3h.01M625.8 159.3h.01M569 168.6h.01M561.4 203.3h.01M598.9 183.9h.01M581 171.4h.01M612.4 169h.01M591.8 186.3h.01M593.8 180.2h.01M553.3 205.3h.01M625.4 162.7h.01M634.3 178.5h.01M596.1 196.7h.01M550.5 174.9h.01M608.7 203.7h.01M606.3 181.1h.01M620 181h.01M585.7 196.2h.01M605.9 181.9h.01M602.2 201.8h.01M581.8 174.2h.01M601.5 200h.01M616.3 203.1h.01M631.5 185.5h.01M624.4 194.8h.01M610.4 180.2h.01M577.6 207.1h.01M573.8 170.6h.01M578.1 184.5h.01M564.9 179.4h.01M574 203.9h.01M575.6 192.1h.01M621.8 178.3h.01M589.6 200.5h.01M616.5 194.7h.01M574.5 201.2h.01M600.2 169.8h.01M602.3 192h.01M578.5 188.5h.01M597.1 174.5h.01M603.3 159.9h.01M606.9 170h.01M592 165.3h.01M609 179.9h.01M630.9 200.3h.01M612.2 168.4h.01M556.1 164.5h.01M550.1 187.3h.01M563.2 203.7h.01M631.1 202.1h.01M619.1 159.2h.01M585.5 170.9h.01M633.6 159h.01M632 192.7h.01M601.3 188h.01M556.2 158h.01M598.3 177.3h.01M552.1 191.9h.01M620.7 201.1h.01M601.3 174.7h.01M556.5 184.6h.01M593.9 189.5h.01M560.9 166.7h.01M582.2 176.4h.01M601 187.8h.01M588.2 175.5h.01M630.3 188.9h.01M606.3 179.1h.01M627.3 161.1h.01M551.1 183.5h.01M614.9 205.8h.01M578 165.6h.01M613.6 162.8h.01M619.8 163.6h.01M590.9 202.9h.01M565.9 185.7h.01M592.6 176.2h.01M592.1 168.6h.01M603 192.4h.01M561.8 198.3h.01M605.1 176.7h.01M593.8 195.5h.01M577.6 170h.01M626.6 198.7h.01M556.3 182.3h.01M608.7 164.1h.01M631.3 181.3h.01M598.2 174.1h.01M583.4 164.9h.01M600.6 194.3h.01M577 189.3h.01M560.8 175.4h.01M571.4 171.2h.01M567.2 181.3h.01M606.5 199.4h.01M600.5 164.6h.01M613.9 162.7h.01M620.6 203.1h.01M622.5 170.9h.01M568.2 172.7h.01M622.2 198.3h.01M624.5 170.1h.01M628.6 187.2h.01M592.5 181.5h.01M559.9 174.8h.01M598.7 166.1h.01M585 193.2h.01M610.3 171.1h.01M605.7 185.8h.01M630.8 186.4h.01M612.1 207.6h.01M610.7 189.8h.01M595.6 170.2h.01M569.9 163.8h.01M626 168.7h.01M611.6 159.4h.01M603.2 161.5h.01M613.3 171.1h.01M599 192.4h.01M554.4 168h.01M599.4 168.6h.01M551.5 171.4h.01M572 164.3h.01M616.4 177.4h.01M622.8 158.8h.01M556.9 181.9h.01M589.6 188.1h.01M560.2 159.7h.01M617 166.7h.01M619.7 196.9h.01M606.6 162.8h.01M630 202.9h.01M605.1 207h.01M601.8 174.8h.01M557.3 189.3h.01M579.7 182.1h.01M620.2 160.2h.01M588.8 207.8h.01M616.6 165.9h.01M561.1 187h.01M590.9 168.8h.01M623 175.9h.01M581.8 186.7h.01M553.3 180h.01M614.9 179.2h.01M554.5 186.5h.01M634.2 196h.01M579.6 176.1h.01M621.3 206.1h.01M595.8 184.9h.01M607.1 189.8h.01M593.4 176.3h.01M593 170.6h.01M559.5 201.3h.01M562.3 161.1h.01M556.4 161.9h.01M603.7 191.5h.01M550.3 167.4h.01M571.4 202.6h.01M616.9 190h.01M560 175.4h.01M604.9 159h.01M592.2 173.8h.01M592.2 197.1h.01M635.4 166.2h.01M580.5 186.4h.01M596.7 198.7h.01M562.4 171.5h.01M589.8 173.5h.01M615.1 187.8h.01M582.7 184.3h.01M584.2 180.2h.01M614.7 160.9h.01M599.9 203.2h.01M559.2 171.7h.01M572 185.5h.01M597.6 170.7h.01M563.1 173.4h.01M580.7 184.4h.01M571 177.4h.01M573.4 204.3h.01M626.5 176.8h.01M619.9 205.6h.01M575.3 202.3h.01M560.5 170.9h.01M609.4 190.8h.01M599.1 189.7h.01M556.5 161.8h.01M550.4 205.4h.01M576.8 181.9h.01M585 162.9h.01M607.4 179.3h.01M617 184.2h.01M568 169.4h.01M632.6 193.2h.01M617.2 182.4h.01M559.2 160.2h.01M617.4 182h.01M635.1 178h.01M557.8 196.6h.01M635.5 205.6h.01M563.6 207.8h.01M603.8 173.2h.01M568.8 166h.01M569.2 161h.01M620 185.8h.01M620.9 183.5h.01M565.9 188.9h.01M550.8 203.7h.01M551.6 169.1h.01M617.7 171.4h.01M597.2 191.1h.01M592.3 178.4h.01M614.2 193.1h.01M628 202.8h.01M580.7 183.4h.01M607.7 189.9h.01M568.4 197.2h.01M602.7 198.7h.01M571.1 159.3h.01M589.6 180.7h.01M634.9 173h.01M575.5 165.4h.01M559.7 196h.01M562.1 167.7h.01M555.4 161.3h.01M571.1 197.5h.01M557.2 163.3h.01M599.2 194.4h.01M603.6 201.4h.01M622.9 168.3h.01M552.4 166.8h.01M568.1 164h.01M572.5 207.8h.01M603.2 201.8h.01M556.7 204.1h.01M594.5 181.2h.01M563.6 186.3h.01M608.1 196.5h.01M596.9 193.7h.01M596 190.7h.01M582.5 192h.01M624.3 159.5h.01M626.5 176.6h.01M582.5 183.1h.01M599.7 198h.01M563.3 206.2h.01M570.8 171.4h.01M598.1 198.4h.01M556.1 203.6h.01M567.3 207.2h.01M562.8 199.5h.01M608.9 186.3h.01M582 159h.01M622 189h.01M634.1 165h.01M551.4 170.6h.01M617.4 161.6h.01M624.9 165h.01M607.2 195.2h.01M628.3 161h.01M618.2 187.4h.01M631.9 174.7h.01M617.1 206.3h.01M624.4 206.7h.01M555.3 206.7h.01M628.6 205.4h.01M556.4 165.8h.01M628.3 188.6h.01M604.9 188.6h.01M608.5 195.7h.01M631.5 180.8h.01M588.2 193.8h.01M573.8 160h.01M564.5 202.4h.01M607.9 173.3h.01M572.5 181.3h.01M629 162.4h.01M558.4 185.8h.01M559.6 202.4h.01M620.1 158.1h.01M620.8 177.9h.01M563.9 207.9h.01M614.8 172.9h.01M577.6 177.4h.01M581.7 174.7h.01M575.7 198.4h.01M576.6 198.2h.01M615.5 170.2h.01M583.4 207.8h.01M560.3 198.5h.01M582.1 169.6h.01M613.7 169h.01M631.4 199.8h.01M607.6 202.5h.01M592.9 187.4h.01M580.5 164.6h.01M602.4 192.9h.01M570.5 162.2h.01M600.6 178.4h.01M617.2 188.1h.01M551.2 178.6h.01M576.8 204.9h.01M560.3 176.2h.01M586.9 175h.01M552.5 185h.01M622.2 161h.01M563.8 178.2h.01M554 159.2h.01M579.3 195.1h.01M571.7 160.3h.01M612.2 159.1h.01M572.5 197h.01M567.2 205.8h.01M631.8 202.1h.01M630.2 191.6h.01M619.4 175.9h.01M589.9 193.6h.01M593.1 190.7h.01M585 203.1h.01M626.2 182.5h.01M551 198.4h.01M631.1 189.3h.01M609.8 164.9h.01M577.7 167.3h.01M619.1 168.5h.01M634.8 171.9h.01M576.9 189.1h.01M631.8 190.1h.01M620 158.7h.01M623.3 166.7h.01M550.7 166.7h.01M602 177h.01M559.5 191.1h.01M563.3 199.8h.01M605.9 187.4h.01M555.7 207h.01M594.4 196h.01M626.6 191.4h.01M564.4 176.6h.01M627.1 196.1h.01M551.7 208h.01M590.6 164.8h.01M590.3 162.2h.01M593 179.7h.01M609.8 198.4h.01M603.7 199.1h.01M624.6 182.3h.01M556.3 176.8h.01M623.1 161.5h.01M592 160.4h.01M607.7 204.2h.01M618.3 194h.01M611.9 164.5h.01M602 191.7h.01M612.9 194.5h.01M557.7 168.3h.01M576.3 158.9h.01M634.1 179.6h.01M554.5 189h.01M626.2 158.2h.01M619.5 197.6h.01M617.4 202.7h.01M614.1 199.1h.01M607.1 191.5h.01M584.9 199.7h.01M562.2 188h.01M604.9 182h.01M593.8 205.2h.01M563.7 167.1h.01M592.2 189.7h.01M556.6 196.5h.01M580.1 189.5h.01M569.7 180.6h.01M620 207.9h.01M580.7 198.5h.01M550.7 181.1h.01M588.6 166.9h.01M560.1 186.9h.01M577.3 184.5h.01M551.2 201.4h.01M575.8 169.6h.01M635.5 194.8h.01M568.7 179.6h.01M584.7 184.2h.01M557.1 179.3h.01M594.4 192.8h.01M592 185.2h.01M596.6 184h.01M575 187.1h.01M585.3 199.4h.01M581.2 167.4h.01M617.3 199.5h.01M555.4 197.6h.01M627.4 169.4h.01M554.7 188.1h.01M624.3 190.8h.01M594.7 207.5h.01M613.5 167.9h.01M609.5 202.7h.01M587.2 202.2h.01M574.6 162.5h.01M630.6 160.7h.01M564.1 178.3h.01M551.9 205.2h.01M612.3 175h.01M565.8 199.9h.01M553.3 185.1h.01M599 165.2h.01M631.8 193.2h.01M634.3 160h.01M563.7 165.3h.01M554.2 179.1h.01M616.8 176.7h.01M568.9 205.1h.01M583.7 167.8h.01M553.2 172.1h.01M615.5 197.7h.01M591 164.6h.01M584.1 166.1h.01M562.4 190.1h.01M601.8 200.6h.01M613.4 164.5h.01M552.3 197.6h.01M626.6 169.5h.01M632.1 194.2h.01M602.6 175.9h.01M600.3 182.8h.01M600.8 183.1h.01M554.2 182.5h.01M580.2 192.2h.01M588.1 186.1h.01M554.1 176.6h.01M566.6 176.4h.01M564.9 207.1h.01M619.1 165.5h.01M633.5 206.3h.01M614.7 206.5h.01M629.6 195.8h.01M619.1 174.8h.01M625.9 171.8h.01M593.1 173h.01M564.7 161.4h.01M554.8 185.2h.01M569.1 187.3h.01M624.7 203.9h.01M621.7 198.9h.01M574.2 182.8h.01M585.4 168h.01M573.2 159.6h.01M622.5 171h.01M633.5 172.6h.01M620.4 167h.01M570.8 171.5h.01M550.9 171.2h.01M580.8 165.8h.01M599 158.7h.01M627.4 164h.01M609 166.9h.01M635.8 167.5h.01M621.8 163.9h.01M559.8 194h.01M565 167.3h.01M589 173.4h.01M551.3 160.8h.01M588.6 196.5h.01M570.5 169.2h.01M623.2 199.8h.01M568 192.3h.01M622.4 207.3h.01M553.4 188.7h.01M587 197.8h.01M589.1 196.1h.01M604.2 206h.01M559.3 186.1h.01M617.3 196.2h.01M611.3 181.2h.01M591.7 188.6h.01M558.1 164.8h.01M587.2 179.4h.01M586.3 166h.01M607 175.1h.01M569.4 183.3h.01M569.9 203.8h.01M550.7 203.5h.01M598.7 170.9h.01M591.8 172.3h.01M573.3 207.1h.01M617.7 181.8h.01M597 201.4h.01M611.3 200.2h.01M621.1 199.5h.01M593.7 186.6h.01M575.1 196.5h.01M611.9 195h.01M614.3 199.5h.01M565.2 194.6h.01M629.5 192.4h.01M604.9 189.4h.01M623.4 167.6h.01M598.9 164.5h.01M635.8 162.4h.01M618.5 181.6h.01M574.8 205.7h.01M618.8 206.5h.01M630.6 193.2h.01M594.6 166.5h.01M578.6 179.1h.01M626 158.5h.01M588.8 196.5h.01M597.1 196.7h.01M562.9 171.8h.01M630.2 161.4h.01M550.3 201.2h.01M565.4 184.4h.01M602.3 174.1h.01M558.2 173.8h.01M606.3 196.1h.01M568 165.7h.01M628.9 204.1h.01M600.2 170.2h.01M617 179.6h.01M572.8 195.9h.01M612.3 200.3h.01M572.7 191.5h.01M624.5 207.8h.01M587 205.7h.01M610.1 163.6h.01M608.3 202.9h.01M575 193.4h.01M627.3 182.9h.01M589.4 200.3h.01M596.9 174.8h.01M634 161.6h.01M619.3 207.2h.01M584.2 188.4h.01M607.5 168.1h.01M587.3 176.7h.01M605.1 195.8h.01M611.9 204.9h.01M620.8 187.6h.01M571.8 173h.01M631.5 161.4h.01M568.3 162.8h.01M624 206.4h.01M604.8 165.1h.01M620.6 197.3h.01M580.2 181.5h.01M627.8 202.4h.01M611.7 173.6h.01M556.8 198h.01M556.4 185.3h.01M624.8 177.9h.01M586.2 174.3h.01M570.8 185.3h.01M594 188.7h.01M631 205.3h.01M625.2 168h.01M551.9 206.9h.01M591.2 206h.01M589.3 170.3h.01M575 185.2h.01M621 199.1h.01M625.1 163.8h.01M579 204.3h.01M631.2 165.4h.01M605 160.2h.01M593.9 169.3h.01M585 202.3h.01M559.3 205.1h.01M573.8 183.3h.01M608.9 180.3h.01M569 202.8h.01M629.5 179.6h.01M573.1 185.5h.01M616.2 181.1h.01M629.2 192.2h.01M586.5 193.8h.01M586.8 164.7h.01M613.3 158.7h.01M597.7 207.4h.01M576 175.9h.01M578.9 201.1h.01M620.4 172.5h.01M577.6 197.2h.01M575.4 175.1h.01M602.7 182h.01M628.2 188h.01M600.5 197h.01M617.3 177.6h.01M603.6 160.3h.01M592.7 178.8h.01M554.4 174.4h.01M597.1 193.4h.01M599.1 178.2h.01M583 175.8h.01M623.3 166.7h.01M592.9 204.6h.01M602.6 197.7h.01M595 204.9h.01M632.7 170.5h.01M570.1 180.6h.01M623.4 189.4h.01M592.9 174.9h.01M575.3 178.1h.01M603 174h.01M632 198.6h.01M565.2 169.6h.01M578.9 170.8h.01M552.3 183.7h.01M579.9 195.3h.01M579.5 173.7h.01M578.3 196.2h.01M614.4 178.5h.01M563.5 161.7h.01M580 202.2h.01M610.1 181h.01M611.1 164.8h.01M634.2 174.3h.01M611.8 198.3h.01M575 197.6h.01M588.6 166.7h.01M554.5 177.6h.01M583.3 162.3h.01M566 205.2h.01M562.8 180.7h.01M626.2 179.2h.01M615.3 160.2h.01M569.5 202.7h.01M626.1 201.1h.01M627.5 176.5h.01M579.6 173.2h.01M580.6 169h.01M586 194.5h.01M634.7 164.6h.01M586.7 183.2h.01M594.5 175.1h.01M615.3 165.3h.01M599.6 172.8h.01M581.7 207.4h.01M584.3 200.8h.01M616 173.5h.01M595.9 202h.01M621.6 161.3h.01M565.2 199.8h.01M576.5 194.3h.01M590.1 184.4h.01M606.1 190.3h.01M566.5 200.2h.01M568 183.8h.01M593.4 164.3h.01M577.5 170.9h.01M580.3 191h.01M628.4 168.2h.01M617.3 181.8h.01M572.8 200.9h.01M550.7 193.2h.01M575.4 190.4h.01M593.6 165h.01M556.5 163.5h.01M570.9 180.7h.01M577.5 172.9h.01M620 198.4h.01M565.1 167.9h.01M553.8 187.7h.01M555.5 202.4h.01M590.4 199.8h.01M631.2 194.9h.01M551.3 174.4h.01M632.8 185h.01M573.5 196.5h.01M567.9 189.3h.01M591.4 179.8h.01M625.2 176.3h.01M608.7 207.1h.01M582.5 203.7h.01M568.3 172.5h.01"/><path class="n" d="M634.6 185.6L634.4 187.7L633.7 189.8L632.5 191.9L631 193.9L629 195.8L626.6 197.6L623.8 199.3L620.7 200.8L617.3 202.1L613.6 203.3L609.7 204.2L605.6 205L601.3 205.6L597 205.9L592.6 206L588.2 205.9L583.9 205.6L579.6 205L575.5 204.2L571.6 203.3L567.9 202.1L564.5 200.8L561.4 199.3L558.6 197.6L556.2 195.8L554.2 193.9L552.7 191.9L551.5 189.8L550.8 187.7L550.6 185.6" style="stroke-width:3.68"/><path class="n" d="M633.7 185.8L632.7 187.6L631.4 189.4L629.8 191.1L627.9 192.7L625.7 194.2L623.2 195.6L620.5 196.9L617.5 198L614.4 199L611 199.9L607.5 200.7L603.9 201.2L600.2 201.7L596.4 201.9L592.6 202L588.8 201.9L585 201.7L581.3 201.2L577.7 200.7L574.2 199.9L570.8 199L567.7 198L564.7 196.9L562 195.6L559.5 194.2L557.3 192.7L555.4 191.1L553.8 189.4L552.5 187.6L551.5 185.8" style="stroke-width:1.61"/><ellipse class="p" cx="592.6" cy="178" rx="34" ry="17" style="stroke-width:2.76"/><clipPath id="c9"><path d="M623.6 177L623.2 179.3L622.1 181.6L620.2 183.8L617.7 185.8L614.5 187.6L610.8 189.1L606.7 190.4L602.2 191.3L597.4 191.8L592.6 192L587.8 191.8L583 191.3L578.5 190.4L574.4 189.1L570.7 187.6L567.5 185.8L565 183.8L563.1 181.6L562 179.3L561.6 177L562 174.7L563.1 172.4L565 170.2L567.5 168.2L570.7 166.4L574.4 164.9L578.5 163.6L583 162.7L587.8 162.2L592.6 162L597.4 162.2L602.2 162.7L606.7 163.6L610.8 164.9L614.5 166.4L617.7 168.2L620.2 170.2L622.1 172.4L623.2 174.7L623.6 177Z"/></clipPath><path clip-path="url(#c9)" class="d" stroke-width="1.2" style="stroke:#111" d="M564.4 183.7h.01M577.6 171.2h.01M591.2 192.7h.01M574.7 180.8h.01M569.3 177.9h.01M584.7 178.2h.01M623.3 180.9h.01M619 163h.01M579.4 166.2h.01M587.6 169.8h.01M588.6 183.4h.01M584.6 168.1h.01M576.4 185.1h.01M616.5 174.5h.01M612.5 188.6h.01M625.7 167.5h.01M589.2 182.4h.01M569.6 164.8h.01M609.7 180h.01M577.4 161.1h.01M602.7 160.9h.01M606.1 182.7h.01M577.3 174.2h.01M579.8 168.2h.01M594.6 192h.01M605.7 180.9h.01M587 181.3h.01M572.3 173.7h.01M571.2 182.7h.01M576 181.1h.01M571.6 180.2h.01M574.8 172h.01M617.2 179h.01M582.6 186.4h.01M563 191.3h.01M581.6 172.6h.01M610.4 174.9h.01M590.2 193.1h.01M575.1 173.8h.01M565 171.9h.01M599.2 189.8h.01M595 160.1h.01M614.5 164.9h.01M614.6 193h.01M564.4 190.6h.01M618.6 182.2h.01M619.1 174.1h.01M571.3 172.7h.01M615.4 174.3h.01M568.1 170h.01M563.8 181.4h.01M595.5 184.3h.01M590.2 183.8h.01M577.7 192.6h.01M563.5 193.7h.01M565.6 186h.01M585.1 180.7h.01M579.4 166.9h.01M578.9 168.2h.01M561.2 189h.01M585.5 192.6h.01M622.1 169.9h.01M580.3 177.4h.01M613.5 187.2h.01M610.2 187.5h.01M566.8 192h.01M569.6 161.9h.01M570 167h.01M569 191.3h.01M615.6 161.5h.01M615.4 189.1h.01M616 168.1h.01M589.9 193.9h.01M623.9 186.1h.01M603.6 171.5h.01M595.4 191.3h.01M600.9 193.3h.01M616.2 176.1h.01M575.2 174.2h.01M611 184.1h.01M593.6 177.7h.01M581.7 186.9h.01M563.7 190.2h.01M571.9 192.2h.01M584.2 161.3h.01M579.6 171.5h.01M607.1 173.8h.01M607.9 185h.01M577.6 191.7h.01M573.3 177.5h.01M625.9 193.4h.01M584.3 189.6h.01M621.4 193.1h.01M572.8 165.7h.01M566.6 163.9h.01M619.2 167h.01M575.3 186.7h.01M616.8 184.3h.01M586.5 190.9h.01M560.9 193.1h.01M562.6 183.6h.01M566.2 171.8h.01M584.1 183h.01M609 191.4h.01M617.1 188.7h.01M614.4 173.6h.01M593.7 188.2h.01M603.7 185.1h.01M584.1 167.2h.01M562.6 182.6h.01M576.6 176.8h.01M604.1 174.8h.01M568 188.8h.01M617.6 183.6h.01M621.5 181.7h.01M593.3 183h.01M614.4 166.4h.01M594.7 170.4h.01M572.8 193.4h.01M613.3 162.7h.01M585.3 182.7h.01M586.1 173.4h.01M584.3 188.6h.01M583.2 192.3h.01M598.6 189.5h.01M563.3 161.1h.01M620.5 192.4h.01M610.6 161.5h.01M568.6 191.4h.01M609.9 180.6h.01M572.9 182.1h.01M586.4 170.5h.01M579.7 161.1h.01M568.5 173.9h.01M571.4 168.5h.01M572.2 193h.01M608.8 163h.01M580 187.4h.01M561.3 191.1h.01M625.4 170.7h.01M575.8 182.6h.01M608 184.8h.01M587.6 188h.01M616.9 193.5h.01M617.5 166.4h.01M560.2 191.4h.01M564.5 178.6h.01M604.5 175.2h.01M591.3 187.3h.01M576.6 178.6h.01M564.3 161.2h.01M623.8 168.8h.01M575.5 192.4h.01M611.8 188.2h.01M606.8 186.4h.01M610.8 162.8h.01M561.2 167.1h.01M623.8 183.4h.01M566.5 193h.01M589.1 174.3h.01M622.6 191.6h.01M571.4 184.6h.01M620.3 191.4h.01M604.9 190.1h.01M561.5 170.3h.01M617.7 183.4h.01M563.7 163.8h.01M619.2 177.3h.01M582.7 189.3h.01M612.8 187.5h.01M609.2 176.1h.01M576.2 185.5h.01M586.6 183.1h.01M561 180.6h.01M561.6 183.4h.01M575.3 184.7h.01M579.4 185.9h.01M575.3 189.8h.01M595.8 191.2h.01M586.4 184.9h.01M624.7 178.6h.01M583.7 169h.01M608.7 193.5h.01M562.3 189.2h.01M605.7 189.4h.01M581 177.2h.01M603.2 166.5h.01M573.1 169.1h.01M617.5 183.2h.01M617.3 164.2h.01M615.3 172.4h.01M573.3 167.6h.01M609.8 175.8h.01M583.1 176.7h.01M613.9 166.4h.01M614.2 178.8h.01M594.1 191.5h.01M563.5 176.3h.01M579.5 176.8h.01M622.5 190.5h.01M582.4 168.3h.01M616 186.1h.01M619 190.6h.01M620.4 165.6h.01M579.1 170.5h.01M578.6 191.2h.01M572.8 179h.01M581 178.1h.01M571.8 167.3h.01M611.1 180.2h.01M569.1 164.3h.01M560.5 176.5h.01M567.7 181.7h.01M607.6 180.6h.01M560.4 184.4h.01M613.2 170.4h.01M621.2 181.5h.01M582.2 163.4h.01M613.7 178h.01M570.1 183.9h.01M618.6 164h.01M625.4 189.7h.01M581.3 192.8h.01M563.2 176.5h.01M620.9 188h.01M607.6 171.6h.01M607.7 179.3h.01M602.3 189.9h.01M624.9 186.1h.01M580.2 181.7h.01M620.3 189.2h.01M625.3 182.1h.01M564.9 189.4h.01M565.3 179h.01M562.6 190.4h.01M599.3 188.6h.01M625.8 183.6h.01M567.2 179.7h.01M569.9 172.5h.01M606.8 189.8h.01M569 179h.01M581.2 175.3h.01M605.6 173.1h.01M566.4 179.7h.01M565.5 172.2h.01M571.6 167.5h.01M578.5 179h.01M620.3 176.2h.01M562.5 176.9h.01M625.5 179.1h.01M580.6 190.7h.01M612.9 183.8h.01M582.8 186.1h.01M580.5 188.2h.01M602.2 189.9h.01M574.8 188.8h.01M565.1 168.9h.01M578.5 161.8h.01M574.2 163.6h.01M570.2 167.7h.01M624.6 171h.01M601.8 189.9h.01M567.6 177.6h.01M565 190.9h.01M561.7 181.5h.01M612.8 178.1h.01M617.9 163.4h.01M575.5 184.2h.01M562.4 164.2h.01M561.1 168h.01M619.4 184.8h.01M598.3 176.2h.01M619.9 172.5h.01M572.3 165.5h.01M619 179.7h.01M578.3 184.6h.01M585.3 180.7h.01M574.2 162.1h.01M568.2 160.5h.01M563.1 167.5h.01M587.7 187.3h.01M593.4 182.1h.01M582.6 186.2h.01M572.1 176.7h.01M623.3 168.5h.01M580.2 169.7h.01M605 177h.01M574.1 187.8h.01M615.5 191.6h.01M571.7 177.2h.01M578.5 192.7h.01M570.5 161.8h.01M569.3 181.1h.01M603.8 192.6h.01M575.7 177.1h.01M589.9 183h.01M580.8 163.3h.01M580.4 164.2h.01M616.9 173h.01M615.9 191.4h.01M625.7 170.8h.01M623.9 166.1h.01M570 183.8h.01M621.6 191.3h.01M603.1 171.1h.01M560 190.7h.01M572.7 167.3h.01M578.7 163.6h.01M583.2 182.4h.01M584.7 182.2h.01M575.8 171.9h.01M611.8 171.3h.01M580.5 186.5h.01M623 183.4h.01M564.8 183.4h.01M561 177.3h.01M568.3 170.5h.01M591.1 188.1h.01M619.7 160.1h.01M582.5 170.6h.01M603.4 160.9h.01M572.9 190h.01M579.3 173.5h.01M587.9 177.5h.01M579.8 162.9h.01M564.6 187h.01M608.3 175.6h.01M560.9 183.7h.01M571.4 167.3h.01M585.7 183.7h.01M609.1 181.8h.01M623.8 166.1h.01M579 178.1h.01M586.4 179.1h.01M582.5 169.1h.01M619 191h.01M596.2 169.2h.01M606.9 174.5h.01M623.1 187.8h.01M563.4 189.4h.01M621 181.1h.01M622.1 164.3h.01M576 178h.01M623.5 164.6h.01M587.1 189.5h.01M585.3 193.1h.01M570.7 164.3h.01M605.8 165.2h.01M598.2 193.1h.01M587.8 189.7h.01M622.7 163.2h.01M573.5 183.1h.01M562.2 161.4h.01M619.4 188.3h.01M589.1 189.7h.01M563.4 189.5h.01M573.8 178.4h.01M567.3 166.5h.01M606.1 172.7h.01M564.7 167.2h.01M575 162.2h.01M619.4 183.3h.01M616.6 165.5h.01M580 177.9h.01M596.1 180.1h.01M622.7 171.3h.01M563.6 169.1h.01M601.4 190.7h.01M620 174.3h.01M616.8 181.6h.01M561.5 178.1h.01M605.5 180.8h.01M607.9 166.5h.01M624.2 186.7h.01M605.8 192.1h.01M568.6 192.8h.01M584.8 184.3h.01M588.8 191h.01M569.2 166.6h.01M610.5 170.2h.01M574.5 190.5h.01M570.5 192.3h.01M560.9 172h.01M563.7 164.4h.01M570.4 167.2h.01M566.2 193.7h.01M612.4 167.6h.01M603.1 189.7h.01M585.9 175.4h.01M561.1 160.8h.01M587.1 183.4h.01M581.5 164.2h.01M561.3 164h.01M613.5 192.9h.01M573.5 192.8h.01M615.1 186.8h.01M621.7 183.8h.01M569.2 191.5h.01M603.2 173.6h.01M622.8 167.4h.01M560.3 187.9h.01M611.2 160h.01M592.1 192.8h.01M609.7 161.3h.01M569.7 192.4h.01M574.2 165.7h.01M616.5 192.4h.01M576.6 179.4h.01M619.3 167.6h.01M616.6 188.5h.01M581.1 177.4h.01M596.1 164.3h.01M587.3 188.1h.01M582.3 166.8h.01M602.1 189.1h.01M567.4 171.3h.01M566.4 170.1h.01M587.1 179.4h.01M619.9 160.1h.01M610.7 177.6h.01M561.1 186.1h.01M582.6 167.7h.01M583.7 165.8h.01M575.8 189.2h.01M583.3 176.6h.01M582.1 176.5h.01M581.3 160.1h.01M612.2 169.8h.01M613.3 183.8h.01M608.6 187.2h.01M606.2 161h.01M623.4 163.1h.01M574.2 184.3h.01M605 168.1h.01M569.8 173.3h.01M611.8 186.2h.01M611.7 176.6h.01M605 170.5h.01M570.3 177.7h.01M620.7 184.8h.01M575 191.1h.01M586.2 185.9h.01M625.2 188.3h.01M568.4 185.3h.01M599.7 193h.01M593.8 188h.01M566.5 183h.01M570 191.2h.01M594.5 188h.01M568.3 193.1h.01M582.2 173.7h.01M611.6 191.6h.01M591.1 188h.01M608.8 193.7h.01M620.6 186.3h.01M585.4 186.8h.01M619.7 186.4h.01M615.3 168.1h.01M580.3 174.4h.01M604.8 180.8h.01M585.4 190.5h.01M562.1 173.2h.01M587.1 167.5h.01M616.6 172.6h.01M625.8 171h.01M604 179.1h.01M614.7 164.8h.01M618 188.7h.01M620.5 166.2h.01M574.6 172.8h.01M620 187.4h.01M568.1 186.5h.01M568 171.2h.01M567.9 191.2h.01M565.9 178.9h.01M587.3 190.8h.01M568.1 193.9h.01M579 160.8h.01M583.3 164.2h.01M575 162.4h.01M560.6 186.5h.01M561.2 167.6h.01M585.2 188.3h.01M622.8 160.1h.01M619.7 174.5h.01M573.4 183.4h.01M577.6 192h.01M580.8 169.6h.01M566.7 183.4h.01M607 174.4h.01M619 162.9h.01M594 188.3h.01M620.3 176.2h.01M579.6 175.4h.01M580.1 175.5h.01M609.1 172.5h.01M623.1 174h.01M573.4 167.8h.01M563.5 179.8h.01M563.3 187.6h.01M612.1 162.2h.01M563.8 186.3h.01M603.5 179h.01M587.3 165.8h.01M568.8 175h.01M592.7 183.4h.01M586.4 169.4h.01M562.2 181.4h.01M601.2 185.4h.01M585.6 174.5h.01M567.9 182.3h.01M569.7 189.8h.01M564.4 182.3h.01M619.5 185h.01M615.7 182.7h.01M565.5 163.1h.01M585.3 188.4h.01M563.2 179.3h.01M614.8 192h.01M561.1 175.1h.01M562.2 189.5h.01M619 188.2h.01M580.5 172h.01M571.9 187.1h.01M619.7 175.1h.01M582.1 178.5h.01M618.7 191.3h.01M567.1 185.9h.01M606.9 171.3h.01M623.8 171.3h.01M590.6 190h.01M614.6 177.9h.01M618.4 163.3h.01M623.9 182.8h.01M579.9 192.1h.01M609.5 193.7h.01M605.4 176.5h.01M621.5 184.1h.01M620.1 160.3h.01M581.7 172.5h.01M592.6 190.6h.01M562 178.8h.01M597.6 177.1h.01M624.1 185.8h.01M575.4 163.5h.01M560.6 173.8h.01M624.4 173.2h.01M568.4 186.6h.01M571.6 184.4h.01M595.6 181.5h.01M581 160.8h.01M574.1 163h.01M600 190h.01M564.4 179.2h.01M577.1 180.8h.01M624.8 176.3h.01M586.5 188.5h.01M563.9 191.4h.01M566.4 170.2h.01M563.1 167.6h.01M590.8 169.2h.01M563.8 171.4h.01M615.9 166.1h.01M584.2 180.5h.01M565.2 184.2h.01M623 167.1h.01M568.7 190h.01M621.1 192.9h.01M613.6 165h.01M591.6 191.2h.01M614 164h.01M623.3 178.9h.01M586.8 176h.01M625.7 181.4h.01M586.1 161.5h.01M615.1 191.9h.01M564.7 192.9h.01M611.6 178.6h.01M611.8 169.8h.01M602.8 191h.01M568.4 184.1h.01M613 161.3h.01M563.6 172.1h.01M566.6 170.6h.01M624.7 190.4h.01M607.6 192.6h.01M613.6 171.9h.01M579.7 171.7h.01M605.3 169.7h.01M624.3 166.3h.01M624 162.8h.01M581.2 172.1h.01M616.8 189.4h.01M619.3 181.3h.01M619.8 193.4h.01M564.2 178h.01M560.9 187.9h.01M568.7 181.6h.01M611.1 175.1h.01M622.5 176.2h.01M617.3 165h.01M588.4 190h.01M604.3 176.2h.01M615.8 184.8h.01M583.5 183.1h.01M563.1 190.3h.01M622.6 174.9h.01M560.5 178.8h.01M575.9 166.8h.01M571.4 186.6h.01M590.8 162.2h.01M603.5 165.3h.01M569.7 163.7h.01M590.5 192.6h.01M562 173.3h.01M566 185.3h.01M622.8 171.7h.01M616.4 167.6h.01M561.2 166.9h.01M604.7 193.2h.01M614 190.2h.01M606.6 163.9h.01M568.5 177.4h.01M563.7 193.2h.01M600.1 165.8h.01M611.9 168.9h.01M589.8 182.5h.01M625.6 175.7h.01M613.9 188.7h.01M574.7 184.2h.01M595.2 186.9h.01M567.2 183.3h.01M610.2 182.5h.01M623.8 193.7h.01M603.9 171h.01M583.3 192.5h.01M571 166.4h.01M622.9 172.6h.01M601.4 184.8h.01M625.4 182.3h.01M604.5 173.1h.01M622.4 170.8h.01M611.3 183.7h.01M585.1 162.9h.01M565.4 193.2h.01M620.9 166.2h.01M575.6 166.7h.01M614.8 162.1h.01M622.7 162.5h.01M575.2 181.9h.01M578.8 168.9h.01M598.8 193.6h.01M563.4 193.8h.01M571.8 166.8h.01M614 185.9h.01M576.9 166.4h.01M599.2 191.3h.01M607.5 191h.01M623 169.3h.01M578.9 171.7h.01M571.2 162.2h.01M569.7 160.5h.01M582.2 187.1h.01M621.8 178.9h.01M574.5 160.3h.01M564.7 165h.01M618.7 163.6h.01M622.9 187.4h.01M566.8 169h.01M564.5 184.8h.01M569.3 169.3h.01M573.5 182.8h.01M615.5 192h.01M617.1 178.5h.01M601 178.1h.01M570.1 166.5h.01M610.8 161.8h.01M624.8 190.4h.01M600.4 188.4h.01M560.5 164.7h.01M576 172.5h.01M612.9 180.4h.01M622.1 183.8h.01M583.7 177.4h.01M571.7 172.1h.01M575.2 172.4h.01M578 185.9h.01M574 184.2h.01M622.2 164.7h.01M569.4 193.4h.01M577.5 179.8h.01M581.4 166.4h.01M588.8 193.4h.01M618.5 166.4h.01M583.2 162.6h.01M582.9 162.8h.01M567.7 178.3h.01M583.4 193.4h.01M570 188.1h.01M612.4 179.5h.01M610.7 162.2h.01M561.3 160.9h.01M613.2 174.1h.01M606.2 179.8h.01M624.8 177.5h.01M588 174.5h.01M586.9 175.2h.01M617.3 183.5h.01M583.6 178.5h.01M609.5 172.6h.01M587.2 173.2h.01M586.2 177.2h.01M606.4 172.7h.01M590.7 188.6h.01M625.2 163.2h.01M625.6 168.1h.01M567.9 162.1h.01M587 178.8h.01M574.8 169.3h.01M620.9 181.7h.01M622.3 170.5h.01M600 191.3h.01M611 175.3h.01M609.9 189.9h.01M569.7 168.8h.01M624.3 193.5h.01M621.1 184.2h.01M570.7 172.2h.01M607.6 172.1h.01M570.3 163.9h.01M582.2 175.8h.01M599.3 193.1h.01M580.1 175.4h.01M584 163.9h.01M576.1 162.4h.01M603.9 190.3h.01M577 171h.01M617.9 174.3h.01M619.4 174.6h.01M560.2 172.3h.01M618.1 169.7h.01M588.9 160.2h.01M617.7 169.6h.01M561.7 184h.01M589.1 188.8h.01M613.3 160.3h.01M624.6 186.8h.01M574.3 189.5h.01M571.5 187.9h.01M586.3 170.2h.01M570.2 173.7h.01M567.3 182.2h.01M601.3 191.5h.01M614.1 171h.01M606.9 166.9h.01M608.9 165.1h.01M572.7 177.9h.01M619.3 187.9h.01M581.7 171.6h.01M611.8 193.8h.01M603.4 182.7h.01M586.9 187.4h.01M572.6 186.8h.01M594.1 173.8h.01M624.5 180.2h.01M568.9 169.7h.01M621.2 185.3h.01M570.1 171.1h.01M576 174.4h.01M600.9 184.4h.01M624.2 164.8h.01M563.2 193.5h.01M592.8 169.6h.01M576.2 170.6h.01M563.1 176.7h.01M613.8 165.4h.01M626 173.7h.01M581.3 166.4h.01M572.2 181.3h.01M563.3 160.2h.01M561.2 179.7h.01M571.4 175.1h.01M566.1 190.4h.01M589.7 180h.01M622.8 180.7h.01M567.4 160.4h.01M572.7 188.3h.01M616.9 175.1h.01M565.6 184.7h.01M621.3 174.9h.01M580.2 180.3h.01M563.1 168.8h.01M610.8 163.5h.01M621.6 180.4h.01M614.3 163.4h.01M614.1 169h.01M613 186.2h.01M604.7 170.4h.01M618.7 179.7h.01M620.8 194h.01M623.3 173.2h.01M596.1 192.4h.01M575.4 180.9h.01M569.3 178.8h.01M612 172.6h.01M572.4 162.5h.01M620.4 165.9h.01M623.6 171h.01M568.3 193.7h.01M569.7 171.4h.01M582.7 168.9h.01M577 174.7h.01M577.5 182.5h.01M569.7 176.9h.01M617.6 181.5h.01M573.6 185h.01M573.8 164.4h.01M563.2 170.9h.01M565 164.4h.01M570.4 182.5h.01M624.9 170.6h.01M623.8 169.4h.01M624.9 162.8h.01M611.9 166.9h.01M571.2 175.8h.01M616 186.4h.01M618.5 183.5h.01M617.6 190.1h.01M573.5 174.5h.01M564.1 168.7h.01M571.8 180.8h.01M615.1 187.2h.01M587.4 164.4h.01M606.9 167.5h.01M587.6 174.3h.01M621 188.7h.01M618.8 179.7h.01M622.9 179.2h.01M564.9 171.7h.01M561.5 161.2h.01M617.5 192.9h.01M561.3 187.6h.01M575.2 189.7h.01M601.2 189.6h.01M577.2 192.8h.01M577.6 167.8h.01M620.9 177.5h.01M591.9 160.8h.01M576.6 190h.01M622.8 169.1h.01M563.6 178.6h.01M562.9 183.5h.01M613.3 182h.01M566.7 187.9h.01M605.6 162.3h.01M560.8 171.3h.01M610.1 187.7h.01M566.5 177.3h.01M585.1 173.8h.01M581.1 171.6h.01M572.4 182.9h.01M583.4 183.7h.01M615 165.5h.01M573.7 182h.01M562.9 166.1h.01M611.9 189.5h.01M570.4 165.2h.01M620.6 171.7h.01M622.1 161h.01M567 168.2h.01M575.1 171.7h.01M595.5 186.4h.01M562.6 165.7h.01M570.8 179.8h.01M574.1 180.3h.01M611.8 160.1h.01M608.1 180.2h.01M614.8 169.7h.01M571.3 165.9h.01M624.9 180.4h.01M584.1 181.8h.01M612.3 185.2h.01M562.5 184h.01M617.6 191.4h.01M619.6 177.5h.01M612.4 179.4h.01M575 171.4h.01M575 186.5h.01M618.8 182.2h.01M572.4 190.6h.01M592.6 177.1h.01M569.9 179.1h.01M605 175.2h.01M570.4 181.6h.01M562.3 178.2h.01M611.6 172.3h.01M560.1 187.3h.01M593 172.9h.01M566.7 169.8h.01M568.5 191.7h.01M617.8 181.4h.01M564.5 182.3h.01M618.5 160h.01M599.6 161.4h.01M583.9 190.1h.01M593.8 168h.01M578.4 185.4h.01M618.3 163.3h.01M616.8 164.3h.01M582.9 175.9h.01M587.3 178.6h.01M623.1 176h.01M580.3 183.5h.01M570.3 174.7h.01M579.4 182.9h.01M611.4 175.2h.01M571.3 172.7h.01M607.5 185h.01M563.5 186.3h.01M587.8 187.3h.01M599.5 163.5h.01M560.6 175.2h.01M574.3 174h.01M616.9 184.5h.01M615.3 185.3h.01M565.3 167.8h.01M604.4 173h.01M561 175.5h.01M602.7 164.2h.01M570.4 180.9h.01M580.6 192.4h.01M582 165.2h.01M587.2 167.9h.01M622.3 171.5h.01M563.7 166.8h.01M621.4 181.5h.01M577.7 173.6h.01M601.2 192.3h.01M568.6 191.5h.01M568.4 176.5h.01M606.4 165.1h.01M570.3 194h.01M588.4 192.6h.01M618 192.4h.01M565.8 180.4h.01M567.6 163.5h.01M606.8 187.5h.01M605.6 167h.01M613.6 185.6h.01M622.2 163.1h.01M619.3 177.8h.01M581.7 173.2h.01M568.1 165.1h.01M611.5 162.6h.01M604.1 184.5h.01M625.4 193.4h.01M623.7 179h.01M572.6 167h.01M603.2 161h.01M625.6 162.3h.01M601.8 192.2h.01M611.1 185.3h.01M619.9 161.1h.01M574.5 175.9h.01M570.1 176.9h.01M612 185.1h.01M611.2 160.7h.01M622.4 170.6h.01M573.5 168.4h.01M614.8 176.8h.01M570.2 172.8h.01M579.2 183.3h.01M617.2 182.9h.01M583.9 179.3h.01M604.5 177.5h.01M564 161h.01M608.5 172.1h.01M578.4 170.2h.01M580.1 172.1h.01M587.1 162.3h.01M612.8 186.1h.01M606.9 167h.01M565.1 172.7h.01M614.1 170.4h.01M565.3 181h.01M605.5 165.7h.01M578.4 169.3h.01M620.3 162.4h.01M620 187.8h.01M564.6 183.2h.01M580.8 185.3h.01M608.8 163h.01M592.2 171.2h.01M580.7 174.5h.01M613.7 184.6h.01M566.8 176.2h.01M566.5 190.7h.01M606.1 186.4h.01M563 182.2h.01M612.8 164.5h.01"/><path class="n" d="M624.5 183.8L623.2 185.4L621.5 186.9L619.6 188.3L617.3 189.7L614.8 190.9L612.1 191.9L609.2 192.8L606.1 193.6L602.8 194.2L599.5 194.6L596.1 194.9L592.6 195L589.1 194.9L585.7 194.6L582.4 194.2L579.1 193.6L576 192.8L573.1 191.9L570.4 190.9L567.9 189.7L565.6 188.3L563.7 186.9L562 185.4L560.7 183.8" style="stroke-width:2.76"/><path class="n" d="M624.3 188.8L622.8 190.2L621 191.6L618.9 192.9L616.6 194.1L614.1 195.1L611.4 196.1L608.5 196.9L605.5 197.6L602.4 198.1L599.2 198.5L595.9 198.7L592.6 198.8L589.3 198.7L586 198.5L582.8 198.1L579.7 197.6L576.7 196.9L573.8 196.1L571.1 195.1L568.6 194.1L566.3 192.9L564.2 191.6L562.4 190.2L560.9 188.8" style="stroke-width:1.84"/><path class="n" d="M566.6 183.6L565 182L563.7 180.3L562.9 178.6L562.6 176.8L562.7 175L563.3 173.3L564.3 171.6L565.8 169.9L567.7 168.4L569.9 167L572.5 165.7L575.4 164.6L578.6 163.7L581.9 162.9L585.5 162.4L589.1 162.1L592.8 162L596.5 162.1L600.2 162.5L603.7 163L607 163.8L610.2 164.7L613 165.9L615.6 167.1" style="stroke-width:3.91"/><path class="n" d="M624.6 193.6L622.9 194.9L620.9 196.2L618.8 197.3L616.4 198.4L613.8 199.3L611.1 200.2L608.2 200.9L605.3 201.5L602.2 202L599 202.3L595.8 202.5L592.6 202.6L589.4 202.5L586.2 202.3L583 202L579.9 201.5L577 200.9L574.1 200.2L571.4 199.3L568.8 198.4L566.4 197.3L564.3 196.2L562.3 194.9L560.6 193.6" style="stroke-width:1.84"/><path class="p" d="M577 156 L577.6 166 Q593 172.5 609 166 L609.5 156 Z" style="stroke-width:2.30"/><path class="n" d="M577.4 158.5 Q593 165 609.2 158.5" style="stroke-width:2.42"/><path class="n" d="M577.4 161.1 Q593 167.6 609.2 161.1" style="stroke-width:2.42"/><path class="n" d="M577.4 163.7 Q593 170.2 609.2 163.7" style="stroke-width:2.42"/><path class="n" d="M577.4 166.3 Q593 172.8 609.2 166.3" style="stroke-width:2.42"/>
<ellipse class="p" cx="594.5" cy="148.6" rx="26.2" ry="10.6" style="stroke-width:2.30"/><ellipse class="p" cx="594.5" cy="145.4" rx="26.2" ry="10.6" style="stroke-width:2.07"/><path class="n" d="M620.6 149.5L620.1 150.8L619.2 152.1L618 153.3L616.4 154.4L614.4 155.5L612.2 156.4L609.7 157.2L606.9 157.9L604 158.5L600.9 158.9L597.7 159.1L594.5 159.2L591.3 159.1L588.1 158.9L585 158.5L582.1 157.9L579.3 157.2L576.8 156.4L574.6 155.5L572.6 154.4L571 153.3L569.8 152.1L568.9 150.8L568.4 149.5" style="stroke-width:3.22"/><ellipse class="p" cx="594.5" cy="145.2" rx="21.6" ry="7.6" style="stroke-width:1.84"/><path class="n" d="M577.5 150.8 L588 144.6 Q594 142.6 598 143.6 M579 153 L589.5 146.6" style="stroke-width:1.61"/><ellipse class="n" cx="596" cy="142.8" rx="6.5" ry="2.2" style="stroke-width:1.38"/>
<path class="p" d="M563 122 Q570 134 578.5 141 Q594.9 146 611.5 141 Q620 134 627 122 Z" style="stroke-width:2.07"/><clipPath id="cone16"><path d="M570 131 Q594.9 141 620 131 L612 141 Q594.9 146.5 578 141Z"/></clipPath><path clip-path="url(#cone16)" class="t" style="stroke-width:1.15" d="M559.9 128L565.9 144M565.9 128L559.9 144M563.9 128L569.9 144M569.9 128L563.9 144M567.9 128L573.9 144M573.9 128L567.9 144M571.9 128L577.9 144M577.9 128L571.9 144M575.9 128L581.9 144M581.9 128L575.9 144M579.9 128L585.9 144M585.9 128L579.9 144M583.9 128L589.9 144M589.9 128L583.9 144M587.9 128L593.9 144M593.9 128L587.9 144M591.9 128L597.9 144M597.9 128L591.9 144M595.9 128L601.9 144M601.9 128L595.9 144M599.9 128L605.9 144M605.9 128L599.9 144M603.9 128L609.9 144M609.9 128L603.9 144M607.9 128L613.9 144M613.9 128L607.9 144M611.9 128L617.9 144M617.9 128L611.9 144M615.9 128L621.9 144M621.9 128L615.9 144M619.9 128L625.9 144M625.9 128L619.9 144M623.9 128L629.9 144M629.9 128L623.9 144"/><ellipse class="p" cx="594.9" cy="117.8" rx="34.8" ry="16" style="stroke-width:2.30"/><ellipse class="p" cx="594.9" cy="116.4" rx="34.8" ry="16" style="stroke-width:2.07"/><path class="n" d="M629.2 120.2L628.5 121.6L627.5 123L626.2 124.4L624.6 125.7L622.8 127L620.8 128.1L618.5 129.2L616 130.1L613.3 131L610.5 131.7L607.6 132.3L604.5 132.8L601.3 133.1L598.1 133.3L594.9 133.4L591.7 133.3L588.5 133.1L585.3 132.8L582.2 132.3L579.3 131.7L576.5 131L573.8 130.1L571.3 129.2L569 128.1L567 127L565.2 125.7L563.6 124.4L562.3 123L561.3 121.6L560.6 120.2" style="stroke-width:3.45"/><ellipse class="p" cx="594.9" cy="117.4" rx="24.8" ry="12" style="stroke-width:2.07"/><ellipse class="p" cx="594.9" cy="118.4" rx="23" ry="10" style="stroke-width:1.84"/><clipPath id="mesh16"><ellipse cx="594.9" cy="118.4" rx="23" ry="10"/></clipPath><path clip-path="url(#mesh16)" class="t" style="stroke-width:0.98" d="M539.1 106L557.1 131M557.1 106L539.1 131M544.3 106L562.3 131M562.3 106L544.3 131M549.5 106L567.5 131M567.5 106L549.5 131M554.7 106L572.7 131M572.7 106L554.7 131M559.9 106L577.9 131M577.9 106L559.9 131M565.1 106L583.1 131M583.1 106L565.1 131M570.3 106L588.3 131M588.3 106L570.3 131M575.5 106L593.5 131M593.5 106L575.5 131M580.7 106L598.7 131M598.7 106L580.7 131M585.9 106L603.9 131M603.9 106L585.9 131M591.1 106L609.1 131M609.1 106L591.1 131M596.3 106L614.3 131M614.3 106L596.3 131M601.5 106L619.5 131M619.5 106L601.5 131M606.7 106L624.7 131M624.7 106L606.7 131M611.9 106L629.9 131M629.9 106L611.9 131M617.1 106L635.1 131M635.1 106L617.1 131M622.3 106L640.3 131M640.3 106L622.3 131M627.5 106L645.5 131M645.5 106L627.5 131M632.7 106L650.7 131M650.7 106L632.7 131"/>
<path class="p" d="M554.6 63L554.8 60.6L555.5 58.3L556.6 56L558.1 53.7L560 51.6L562.3 49.6L565 47.7L567.9 46.1L571.2 44.6L574.8 43.3L578.5 42.2L582.4 41.3L586.5 40.7L590.7 40.3L594.9 40.2L599.1 40.3L603.3 40.7L607.4 41.3L611.3 42.2L615 43.3L618.6 44.6L621.9 46.1L624.8 47.7L627.5 49.6L629.8 51.6L631.7 53.7L633.2 56L634.3 58.3L635 60.6L635.2 63L635.2 78.6L635 81L634.3 83.3L633.2 85.6L631.7 87.9L629.8 90L627.5 92L624.8 93.9L621.9 95.5L618.6 97L615 98.3L611.3 99.4L607.4 100.3L603.3 100.9L599.1 101.3L594.9 101.4L590.7 101.3L586.5 100.9L582.4 100.3L578.5 99.4L574.8 98.3L571.2 97L567.9 95.5L565 93.9L562.3 92L560 90L558.1 87.9L556.6 85.6L555.5 83.3L554.8 81L554.6 78.6Z" style="stroke-width:2.53"/><clipPath id="c10"><path d="M554.6 63L554.8 60.6L555.5 58.3L556.6 56L558.1 53.7L560 51.6L562.3 49.6L565 47.7L567.9 46.1L571.2 44.6L574.8 43.3L578.5 42.2L582.4 41.3L586.5 40.7L590.7 40.3L594.9 40.2L599.1 40.3L603.3 40.7L607.4 41.3L611.3 42.2L615 43.3L618.6 44.6L621.9 46.1L624.8 47.7L627.5 49.6L629.8 51.6L631.7 53.7L633.2 56L634.3 58.3L635 60.6L635.2 63L635.2 78.6L635 81L634.3 83.3L633.2 85.6L631.7 87.9L629.8 90L627.5 92L624.8 93.9L621.9 95.5L618.6 97L615 98.3L611.3 99.4L607.4 100.3L603.3 100.9L599.1 101.3L594.9 101.4L590.7 101.3L586.5 100.9L582.4 100.3L578.5 99.4L574.8 98.3L571.2 97L567.9 95.5L565 93.9L562.3 92L560 90L558.1 87.9L556.6 85.6L555.5 83.3L554.8 81L554.6 78.6Z"/></clipPath><path clip-path="url(#c10)" class="d" stroke-width="1.2" style="stroke:#111" d="M634.1 39.7h.01M566.3 102.1h.01M637 54.3h.01M612.5 57h.01M596 53.8h.01M588.3 44.1h.01M554.6 48h.01M631.8 83.2h.01M561.4 46.4h.01M592.4 92.8h.01M586.7 71.1h.01M632.6 61.6h.01M579.1 91.8h.01M629 60.5h.01M559.2 97.1h.01M592.9 46.4h.01M615.3 57.4h.01M628.1 99.4h.01M556.6 42.9h.01M602.8 83.3h.01M560.1 39.6h.01M607.5 63.3h.01M605 84.1h.01M579.2 91.6h.01M628.1 96.1h.01M609.2 61.3h.01M596.5 48.2h.01M610.5 59.1h.01M603.8 83.9h.01M614.2 45.9h.01M563.8 45.3h.01M615 74.1h.01M629.2 64.2h.01M553.4 89.1h.01M608.1 92.7h.01M584 53.9h.01M596.7 46.4h.01M635.9 81.4h.01M575.9 47.3h.01M611.6 89.2h.01M619.7 85.2h.01M627.3 53.7h.01M625.7 42.6h.01M588.3 95.1h.01M600.8 71.1h.01M604.4 68.4h.01M585.8 90.6h.01M606.4 87.6h.01M633.1 67.8h.01M634.7 75.6h.01M570.9 53.1h.01M595.5 81.2h.01M610.8 56.3h.01M630.4 48.7h.01M636.6 80.9h.01M621.4 83.9h.01M626 88.5h.01M585 101.7h.01M608.8 45.2h.01M572 82.1h.01M608.2 43.7h.01M612 55.4h.01M574.1 70.6h.01M566.5 72.2h.01M632.7 74.8h.01M617.8 89.5h.01M605.3 90.9h.01M617.5 53.2h.01M586.1 72.3h.01M602.3 59.3h.01M608.1 98.6h.01M623.6 79.7h.01M558.5 97.9h.01M563.3 79h.01M585.7 77.6h.01M583.2 51.5h.01M621.9 44.8h.01M634.2 42.1h.01M565.2 76.5h.01M593.5 83.2h.01M595.6 64h.01M630.6 93.3h.01M594.6 46.7h.01M576.8 97h.01M621.2 45.9h.01M566 99.2h.01M590.3 87.1h.01M606.1 79h.01M630.9 81.8h.01M614.5 78.7h.01M629.8 99.3h.01M583.9 51h.01M601.6 66.7h.01M593.5 83.5h.01M607.3 81.2h.01M636.9 95.4h.01M560 60.3h.01M624.6 62.4h.01M608.4 77.2h.01M573.2 83.1h.01M601.7 95.3h.01M623.4 62.5h.01M576.3 96.9h.01M570.6 43.9h.01M556.6 85.7h.01M588.5 85.4h.01M619.9 80.1h.01M612.5 68.5h.01M633 84.4h.01M629.4 89.4h.01M594.4 58.3h.01M584.1 92.5h.01M573.7 43.3h.01M584.5 73.7h.01M588.8 72.8h.01M632.9 53.1h.01M608.3 92.7h.01M606.3 55.3h.01M634.4 43.3h.01M555.7 58.1h.01M628.5 90.4h.01M553.7 87.2h.01M631.4 47.5h.01M604.9 95.2h.01M617.5 93.4h.01M554.9 45.7h.01M626.4 84.6h.01M629.9 72h.01M564.1 39.5h.01M632.9 44.6h.01M598.2 47.4h.01M573 56.7h.01M557.5 93.5h.01M608.1 77.2h.01M579.7 53.7h.01M574.4 47h.01M598.1 93.9h.01M583.4 98.2h.01M588.9 73.9h.01M594.4 81.4h.01M570.8 60.5h.01M574.3 75.4h.01M565 81h.01M630.7 47.8h.01M618.8 98.9h.01M627.8 67h.01M574.7 79.7h.01M618.2 82h.01M605.1 78.8h.01M567.6 98.5h.01M628.5 89.2h.01M626.3 53.8h.01M635.8 92.9h.01M624.5 55.6h.01M621.5 43.5h.01M555.6 59.3h.01M554.8 68.4h.01M629.8 91.7h.01M556.4 86.4h.01M594.1 82.5h.01M576.3 100.4h.01M626.2 44h.01M603.4 86.9h.01M628.9 84.1h.01M590.2 51h.01M593.2 93.7h.01M635.2 61.5h.01M620.2 95.4h.01M572.5 79.9h.01M586.6 76.8h.01M615 45.3h.01M595.9 58.9h.01M574.9 67h.01M635.3 52h.01M570.6 47.4h.01M588.6 93.2h.01M632.6 89h.01M626.7 56.5h.01M591.5 78.8h.01M554.3 39.9h.01M630.6 70.4h.01M567.7 48.2h.01M633.7 46.4h.01M610.7 40.5h.01M569.3 92.1h.01M557.3 52.5h.01M557.7 86.2h.01M564 52.9h.01M589.3 72.6h.01M576.2 54.1h.01M577.8 73.3h.01M559.7 60.8h.01M599.1 73.8h.01M596.4 46.6h.01M602.5 51h.01M595.3 70.6h.01M625.5 88h.01M617.2 89.1h.01M572.1 63.1h.01M593.2 70.9h.01M635.4 63.3h.01M624.1 64h.01M561.7 73h.01M595.4 89.8h.01M607.3 86.2h.01M583.2 87.2h.01M590.7 96.3h.01M615.6 83.9h.01M563.8 82.5h.01M578.8 97.3h.01M585.7 67.4h.01M615.5 74.9h.01M572.5 98.4h.01M557 73.7h.01M590.9 56.2h.01M583.1 80.9h.01M623.9 56.4h.01M634.6 60.9h.01M581 43.8h.01M618.7 59.2h.01M622.7 39.3h.01M568.1 62.3h.01M564.4 93.7h.01M618.9 48.7h.01M603.8 44.8h.01M598.2 41.8h.01M634.8 48.4h.01M602.1 79.6h.01M567.9 70.5h.01M597.6 98.5h.01M636.7 98.5h.01M594.9 47.1h.01M599.8 42.1h.01M612.3 101.7h.01M616.4 90.1h.01M621 52.5h.01M560.4 90.6h.01M589.9 41.7h.01M621.4 80.9h.01M630.2 74.6h.01M636 60.7h.01M628.2 98.5h.01M627.7 55.8h.01M559.2 49.3h.01M575.5 92.8h.01M559.1 70.7h.01M553.7 98.3h.01M562.6 55.6h.01M589.5 81.8h.01M598.9 42.3h.01M575.2 79.1h.01M633.7 69.2h.01M609.5 70.1h.01M624.6 90h.01M637 76.3h.01M601.1 77.6h.01M608.9 77.3h.01M599.7 68.5h.01M628.9 84h.01M597.7 82.3h.01M611.6 55.3h.01M617.5 72.6h.01M568.4 75.3h.01M610.9 51.6h.01M596.7 74.4h.01M624.1 77.4h.01M635.9 78.4h.01M587.4 61.6h.01M565.5 44.8h.01M610.7 62h.01M624.9 69.8h.01M571.1 85.2h.01M563.4 59.7h.01M594.2 42.8h.01M573.6 41.2h.01M624 100.7h.01M583.3 76.7h.01M553.9 64.1h.01M574.4 56.7h.01M621.5 61.6h.01M632.2 90.4h.01M579 79h.01M628.3 80h.01M571 95.8h.01M560.2 56.8h.01M613.7 77.7h.01M600.4 101.2h.01M556.6 87.3h.01M629 68.6h.01M565.6 66.5h.01M554 45.6h.01M627.4 42.9h.01M598.4 68.3h.01M636.4 80.4h.01M595.1 60.9h.01M559.6 100.5h.01M563.6 52.9h.01M636.7 75.9h.01M625.2 39.7h.01M556.9 75.1h.01M612.6 79.2h.01M635.7 91.1h.01M553.8 46.6h.01M566 57.8h.01M577.9 52.5h.01M587 49.9h.01M608 54.1h.01M585.7 62.9h.01M588.3 87.7h.01M634.5 61.5h.01M561.6 74h.01M557.8 83.7h.01M576 67.8h.01M576.7 48.9h.01M626.3 93.5h.01M561.6 80.3h.01M616.7 70.6h.01M559.3 65.9h.01M566.8 56.9h.01M587.5 65.4h.01M565.5 45h.01M584.9 71.5h.01M622.5 51h.01M620.6 102.5h.01M582.4 54.4h.01M561.5 100.1h.01M629.7 64h.01M628.3 101h.01M631.5 50.3h.01M585.7 48.5h.01M624.7 74.9h.01M567.3 83.5h.01M607 79.3h.01M565.7 100.3h.01M628.1 87.2h.01M623.3 52.9h.01M567.6 64h.01M589.6 88.9h.01M577.7 86h.01M634.7 89.3h.01M607.5 43.3h.01M598.6 94.9h.01M596.4 42.2h.01M586.2 56.6h.01M560.5 75.9h.01M620.9 78.7h.01M631.8 99.5h.01M626.6 53.8h.01M606.4 42.4h.01M636.9 101.3h.01M629.4 72.3h.01M599.6 70.2h.01M631.8 94.4h.01M590.4 93.5h.01M572.5 50.3h.01M614.3 78.8h.01M595.1 86.9h.01M621.8 81.4h.01M554.6 86.9h.01M593.9 41.8h.01M564.6 69.4h.01M565.5 43.6h.01M609.7 89.3h.01M602.2 73.7h.01M626.3 87.4h.01M601.1 59.6h.01M558.9 39.3h.01M570.3 102.9h.01M595.5 96.1h.01M563 53.3h.01M579.6 51.7h.01M575.2 90.1h.01M615.9 56.1h.01M564.8 40.5h.01M635.3 59.7h.01M569.5 66.4h.01M594.3 42.7h.01M565.9 76.9h.01M598.8 74.5h.01M571.5 50.2h.01M607.9 73.4h.01M635.9 86.5h.01M595.2 71.7h.01M585.4 82.7h.01M563.2 50.4h.01M618.3 88h.01M566.4 98.7h.01M627.8 59.8h.01M613.4 66.7h.01M604.2 41.6h.01M595 81.8h.01M611.3 50.6h.01M600.6 100.5h.01M576.4 100.6h.01M569.5 54.7h.01M566.2 55.1h.01M581.2 47.9h.01M557.9 88.6h.01M601.6 85.1h.01M577.2 73.3h.01M621.7 100.5h.01M580.8 91.6h.01M636.7 56.2h.01M570.5 68.5h.01M575.4 57.4h.01M576.7 93.4h.01M566.2 46.4h.01M627.5 75h.01M620.5 67.6h.01M605.3 63.1h.01M590.4 44.3h.01M635.9 50.8h.01M570.6 50h.01M617.8 84.6h.01M559.6 90.4h.01M636.2 100.2h.01M570 50h.01M564.5 89.8h.01M612 39.4h.01M629.2 55.5h.01M625.6 101.1h.01M620.4 44.1h.01M568.8 78.4h.01M577.2 99.2h.01M617.1 64.2h.01M624.2 43.7h.01M610 95.3h.01M587.3 47.8h.01M602.2 64.7h.01M562.4 102.8h.01M607.6 43.6h.01M587.3 49.5h.01M622.9 78.9h.01M575.3 91.7h.01M585.6 40.9h.01M589.6 83.5h.01M595.7 86.7h.01M576.2 91.1h.01M577 101.5h.01M576.1 52.5h.01M564.3 55.7h.01M604.7 102.6h.01M578.1 95.4h.01M632.8 42.4h.01M628.1 55.3h.01M633.5 63.2h.01M625.2 91.6h.01M607.3 58.4h.01M564.6 102.2h.01M620.2 47.2h.01M585 55.5h.01M593.6 96.8h.01M609.6 101.9h.01M593.8 73.7h.01M576.5 58.1h.01M628.3 101.6h.01M634.7 89.6h.01M592 74.6h.01M600.8 56.9h.01M611.4 73.5h.01M557.2 52.5h.01M631.5 69.7h.01M568.1 47.4h.01M635.5 68h.01M608.2 52.5h.01M595.5 87.4h.01M601.6 87.5h.01M569.8 55.7h.01M553.9 76.1h.01M579.5 75.4h.01M602.8 49.1h.01M630.4 45.1h.01M559.9 64.4h.01M570.4 54.5h.01M571.6 93.9h.01M627.9 52.6h.01M578.8 77.4h.01M569.9 65.7h.01M634.9 82.7h.01M568.8 63.9h.01M594.4 88.7h.01M578.9 64.1h.01M580.8 86.9h.01M594.1 45h.01M587.9 48.4h.01M586.1 50.3h.01M582.9 48.5h.01M568.1 51.3h.01M557 98h.01M585.9 71.2h.01M587.9 61.7h.01M585.2 42h.01M580.4 57.7h.01M559.3 54.9h.01M572.3 59.6h.01M620.2 97.4h.01M632.8 61.1h.01M588.3 85h.01M613.2 58h.01M623.4 61.2h.01M555.8 89.8h.01M554.8 50.8h.01M565 100.1h.01M617.1 81.8h.01M557.9 84.6h.01M600.6 97.1h.01M573.7 63h.01M591.8 82.5h.01M575.1 42.8h.01M629 41.3h.01M609.4 75h.01M628.8 71.5h.01M630.5 83.4h.01M623.7 87.9h.01M623.5 71.8h.01M629.3 100.8h.01M614.6 88.3h.01M581.6 46.8h.01M613.5 52.1h.01M558.7 70h.01M555.7 56.1h.01M569.6 60.6h.01M636.4 95.5h.01M587.1 55.7h.01M573.6 49.3h.01M606.2 63.2h.01M578.4 87.8h.01M632.3 45.8h.01M583.1 40h.01M610.8 92h.01M564.5 58.6h.01M608.4 69.3h.01M615 91.9h.01M583.2 82.5h.01M597.8 44.4h.01M608.3 98.9h.01M616.7 59.4h.01M571 50h.01M557.6 93h.01M627.6 64.7h.01M620.8 72.3h.01M601.2 66.9h.01M555.9 53.9h.01M555.4 73.2h.01M631.8 74.7h.01M573.6 100.1h.01M594.3 71.4h.01M588.2 89.5h.01M603.4 40h.01M585.7 42.1h.01M616.1 75.4h.01M555.7 65.8h.01M618.9 43.8h.01M559 46.3h.01M622.7 94.7h.01M634.8 89.3h.01M613 66.3h.01M564.1 64.8h.01M564.3 101.6h.01M576.8 47h.01M627.3 89.6h.01M558 66.9h.01M593.5 61.8h.01M565.7 57.3h.01M591.6 102h.01M601.3 66h.01M603.3 45.6h.01M580.9 74.3h.01M572.3 86.9h.01M561.3 41.8h.01M632 93.3h.01M606.2 91.4h.01M568.1 86.1h.01M608.7 41h.01M626.2 94h.01M564.3 39.5h.01M615 40h.01M619 64.4h.01M634.7 101.8h.01M588.9 59.9h.01M629.8 53.5h.01M636.7 64.2h.01M597.2 56.3h.01M594 42.2h.01M608.4 58.5h.01M632.3 40.7h.01M583 55.2h.01M604.6 92.8h.01M604.8 72.4h.01M618.5 77.3h.01M609.2 78.9h.01M597.2 53.5h.01M594.3 95.9h.01M580.2 51.4h.01M554.6 46.3h.01M594.6 48.8h.01M584.6 49h.01M579.6 64.1h.01M596.3 56.2h.01M603.5 89.4h.01M608.5 43.5h.01M634.5 83.4h.01M580.2 48.1h.01M633.9 63.6h.01M635.6 86.4h.01M613.1 83.3h.01M602.9 92.1h.01M628.4 61.3h.01M581.8 86.6h.01M557.3 84.8h.01M578.4 88.8h.01M617.3 82.1h.01M589.6 58.3h.01M635.3 64.3h.01M573.1 60.2h.01M560.4 61.2h.01M559.7 44.8h.01M617.1 49h.01M619.2 85.4h.01M601 100.9h.01M589.6 44.1h.01M623.4 57h.01M582.7 85.5h.01M591.3 97.3h.01M637 84.9h.01M582.7 39.3h.01M610.5 69.6h.01M562.8 71.6h.01M573 56.7h.01M628 91.2h.01M599.4 92.4h.01M627.9 70.1h.01M600.1 102.5h.01M607.2 101.7h.01M598.5 42.7h.01M601.4 78.1h.01M622.1 87.4h.01M611.9 98.4h.01M586.8 39.3h.01M575.1 53.7h.01M636.7 71.1h.01M617.7 86.3h.01M632.2 101.7h.01M607.1 55.2h.01M563 71.4h.01M592 71.9h.01M619.7 54.5h.01M560.5 68.9h.01M584.7 101.9h.01M595.7 79.9h.01M591.4 81.5h.01M603 102.1h.01M566 58h.01M606.2 87.2h.01M627.9 91.5h.01M578.2 54h.01M585.6 84.7h.01M592.4 45h.01M579.6 45.5h.01M585 49.2h.01M590.8 89.8h.01M628.5 95.1h.01M623.2 48.9h.01M568.7 92.3h.01M625.3 72.4h.01M615.1 46.9h.01M590.7 96.7h.01M613.4 78.2h.01M609.3 56h.01M600.2 56.8h.01M629.9 69.1h.01M620.2 102.5h.01M593.3 51.1h.01M613.5 45.5h.01M623.6 59.6h.01M568.7 53.9h.01M579.9 65.1h.01M570.2 90h.01M568.5 40.1h.01M565.4 90.4h.01M596.5 46.6h.01M586.3 67.3h.01M625.7 103h.01M566.8 94.7h.01M624.1 72.8h.01M635.7 65.4h.01M555.5 98h.01M632.1 65.9h.01M569.7 40.6h.01M593.2 53h.01M564.9 41.7h.01M603.7 41.1h.01M615.4 40.6h.01M616.4 46.1h.01M600.9 86.2h.01M610.4 39.6h.01M633.6 52.3h.01M588.9 53.1h.01M579.3 54.1h.01M573.7 79h.01M596.9 64.1h.01M556.5 66h.01M556.2 42h.01M631.4 73.2h.01M584.2 80.1h.01M630.6 45.9h.01M567.3 60.4h.01M616.8 77.5h.01M598.4 59h.01M616.6 50.9h.01M559.3 84.6h.01M593.4 53.2h.01M593.7 72.8h.01M623.9 102.5h.01M621.5 76.7h.01M576.7 102.4h.01M627.2 98.9h.01M623.8 59.7h.01M564 43.2h.01M611 49.7h.01M561.2 68.6h.01M636.1 55.3h.01M588.5 66.6h.01M576.7 51.8h.01M555.9 40h.01M591.6 59.5h.01M610.7 93.4h.01M619.2 47.7h.01M553.9 46h.01M627.5 89.6h.01M612.4 74.4h.01M607.7 75.7h.01M600.6 86.6h.01M577.2 75.3h.01M557.5 82.3h.01M593.6 87.4h.01M586.8 58h.01M577.7 64.7h.01M599.6 89.8h.01M574.3 93.6h.01M573.8 73.6h.01M561.8 97.9h.01M591 82.8h.01M569.9 41.8h.01M586.7 93.3h.01M580.4 90.7h.01M635.2 76.7h.01M559.4 43.3h.01M591.5 49.8h.01M584.3 57h.01M596.2 95.7h.01M588.4 78.5h.01M570.1 41.3h.01M576.2 82.1h.01M559.5 96.6h.01M587.5 54.9h.01M587.2 89.2h.01M566.4 92h.01M635.3 85.9h.01M603 54.1h.01M633.9 41.1h.01M599.7 45.7h.01M569.4 95.2h.01M609 48.7h.01M561.3 76.5h.01M560.1 39h.01M623.7 92.1h.01M604.6 57.8h.01M631.8 57h.01M555.1 78h.01M567.7 49.4h.01M555.5 83h.01M602.5 44.1h.01M576 50.3h.01M573.6 45.1h.01M563.7 41h.01M614.3 77.2h.01M579.7 65.4h.01M582.9 82.3h.01M626.5 71.7h.01M579.4 80.9h.01M580.5 100.8h.01M573.4 97.6h.01M600.4 53.9h.01M591.2 40.5h.01M625.8 94.7h.01M587.4 47.4h.01M561.9 90.3h.01M583.6 39.9h.01M569.4 67.9h.01M603.5 69.9h.01M557.1 53.9h.01M570.8 61.9h.01M563.6 39.2h.01M622.5 44.4h.01M566.8 53.2h.01M635.5 68.6h.01M558 43.6h.01M613.8 63.7h.01M575.5 86.9h.01M607.6 82.7h.01M603 55.1h.01M574.8 62.3h.01M624.4 49.7h.01M567.7 62.8h.01M561.3 102.5h.01M595.3 83.6h.01M588.2 88.5h.01M558.8 71.6h.01M568.8 92.2h.01M558.1 68.2h.01M589.2 66.9h.01M597.7 43.7h.01M635.8 48.6h.01M560.5 65.7h.01M627.6 52.4h.01M592.7 73.1h.01M583.1 98h.01M628 87.8h.01M558 56.6h.01M559.1 39.4h.01M595.1 97.9h.01M602.8 96h.01M609.1 52.9h.01M598.6 84.1h.01M576.8 92.4h.01M591.7 69.3h.01M607.6 71h.01M628.3 62.3h.01M601.9 76.8h.01M603.7 83.5h.01M618.4 85.9h.01M591.1 68.6h.01M598 83h.01M559.3 50.3h.01M583.2 88.6h.01M565.5 94.9h.01M587.2 46.3h.01M626 44h.01M633.1 46.3h.01M610.3 62.8h.01M612.5 66.9h.01M568.6 67h.01M615.8 88.6h.01M554.8 80.9h.01M576.9 70.8h.01M585.6 43.7h.01M619.2 70.1h.01M631.1 92h.01M566.7 91.9h.01M626.9 55h.01M609.7 90.8h.01M571.8 89.5h.01M572.6 86.4h.01M634.2 57.2h.01M568.7 66.9h.01M611.7 52.2h.01M630.3 80.8h.01M622.9 70.7h.01M579.5 92.6h.01M589.3 42h.01M580 77.3h.01M591.1 40.4h.01M598.5 44.4h.01M615.4 97.1h.01M624.6 72.5h.01M617.7 44.8h.01M562.2 73.5h.01M621.2 60.3h.01M561.4 73.6h.01M558.4 88.2h.01M568.6 74.7h.01M632.4 65.2h.01M556.6 44.9h.01M615.1 82.1h.01M624.5 74.7h.01M574 72.5h.01M585 90.8h.01M620.7 64h.01M631.4 40.7h.01M577.9 72.1h.01M563.7 99.4h.01M605.5 39.3h.01M628.9 60.2h.01M627.4 95.9h.01M565.9 53.6h.01M556.8 72.4h.01M573 60.2h.01M585.9 40.1h.01M579.8 101.7h.01M579.3 60.7h.01M573.8 80.4h.01M622.4 50.3h.01M612.7 73.5h.01M574.8 41.1h.01M567.7 77.4h.01M626.7 43.4h.01M556.4 76.8h.01M630.9 70.9h.01M580.7 76.2h.01M636.8 52.2h.01M584.4 45.3h.01M577.2 99.9h.01M571.1 100.7h.01M630 56.7h.01M609.2 62.9h.01M583 88.7h.01M602.3 82.4h.01M628.4 48.3h.01M606.6 94.7h.01M602.5 51.9h.01M571.2 58.7h.01M600.1 98.8h.01M588.8 46.1h.01M587.8 94.5h.01M567.8 46.5h.01M607.5 58h.01M612.4 58.3h.01M582.2 84.1h.01M634 100.6h.01M580.6 100.1h.01M591.9 92.8h.01M623.6 77.7h.01M613.4 82.5h.01M592.1 43.6h.01M630.8 91.6h.01M635.6 70.2h.01M624.4 78.9h.01M620.2 46.5h.01M635 42h.01M590.7 45.9h.01M568.1 66.9h.01M600.4 96.8h.01M627.8 89.4h.01M596 92.2h.01M621.9 90.9h.01M634.1 60.9h.01M597.5 61.1h.01M573.5 93h.01M580.6 78h.01M602 99.1h.01M579.5 41.5h.01M556.5 80h.01M605.2 39.6h.01M620.8 89.3h.01M588.2 59.5h.01M597.1 42.3h.01M574.6 91.6h.01M595.5 92.9h.01M632.1 57.8h.01M605.3 88.1h.01M630.5 66h.01M618.2 95.8h.01M619.3 101.7h.01M611 99.6h.01M624.3 82.9h.01M628.3 52.5h.01M631.6 90.5h.01M555.8 99.2h.01M612.5 77.5h.01M568.4 63.4h.01M618.3 82.7h.01M581.8 93h.01M633.6 91.4h.01M566.8 64.9h.01M604.5 54.1h.01M621.2 98.3h.01M589.6 56.6h.01M617.2 41.8h.01M616.8 45h.01M627.2 93.3h.01M613.8 50.1h.01M616.4 91.3h.01M555.1 49.5h.01M575.3 82.5h.01M613.3 93.5h.01M595.1 85.4h.01M625 40.3h.01M609.5 53h.01M610.8 88.6h.01M630.3 83.1h.01M588.8 42.6h.01M601.3 75.5h.01M607.8 69.6h.01M575.3 49.5h.01M557.7 93.9h.01M636.9 80h.01M571.7 40.4h.01M604.2 58.8h.01M611 47.4h.01M610.9 97.7h.01M606.7 42.7h.01M603.8 52.2h.01M597.5 81.8h.01M621 62.5h.01M558.2 39.7h.01M602.9 63.3h.01M630.5 61.1h.01M627.9 99.1h.01M608.7 39.5h.01M569.1 73.3h.01M622.9 76.4h.01M632.1 62.1h.01M586.8 87h.01M575.9 59.3h.01M601.5 47.5h.01M582.5 96.5h.01M636.4 52.4h.01M564.1 71.6h.01M616.5 67h.01M555.6 42.1h.01M633 78.3h.01M591.2 63.7h.01M583.3 46.6h.01M594.8 101.3h.01M623.2 54.3h.01M625.8 42h.01M625.1 72.1h.01M599.8 44.4h.01M563 91.6h.01M584.7 39.4h.01M619 88.7h.01M584.5 60h.01M569.3 59.2h.01M559.4 65.7h.01M586.2 39.8h.01M566.9 102.9h.01M600.9 98.4h.01M554.2 74.9h.01M586.3 96.4h.01M614.9 44h.01M572.4 101.7h.01M572.3 80.2h.01M566.7 67.5h.01M566.3 39.7h.01M625 67.4h.01M621.8 79.7h.01M563.1 86.8h.01M630.6 101.8h.01M580.1 72h.01M611.5 50.9h.01M612.3 94h.01M622.8 56.7h.01M579.2 52h.01M615.7 47.8h.01M586.5 81.5h.01M586.3 42.5h.01M559.7 70.7h.01M627.5 96.8h.01M602.1 63.1h.01M559 66.3h.01M610.8 92.3h.01M602.5 46.7h.01M614 39.7h.01M591 66h.01M555 72.1h.01M617.6 98.6h.01M606.2 70.4h.01M577.7 73.3h.01M584.5 77.4h.01M572.6 53.4h.01M623.4 65.6h.01M621.4 73.3h.01M584.9 52.6h.01M570.2 75.6h.01M616.3 71.5h.01M570.7 89.7h.01M634.3 75.9h.01M620.1 85.8h.01M608.9 80.9h.01M559.3 59.7h.01M578.1 69.2h.01M618.8 60.7h.01M616.7 51.5h.01M577.8 84.3h.01M575.4 102.9h.01M594.4 82.1h.01M572.1 96.7h.01M604.4 69.3h.01M581.8 89.1h.01M563.7 68h.01M604.7 95h.01M578.2 98.6h.01M553.9 98.5h.01M619.5 55h.01M573.6 89.6h.01M629 57.5h.01M592.4 46.1h.01M560.7 46.2h.01M626.5 64.9h.01M576 83.9h.01M619.9 63.6h.01M602.3 61.2h.01M593.4 90.3h.01M584 86.5h.01M556.2 97.6h.01M606.9 49.5h.01M612.1 55h.01M620.6 71.1h.01M632.1 51.4h.01M626.6 73.2h.01M566.6 69.2h.01M610.7 53.8h.01M587.3 64.5h.01M608.4 43.5h.01M570.7 87.8h.01M623.6 93.6h.01M582.4 87.1h.01M601.1 73.8h.01M607.6 88h.01M586.6 79.7h.01M592.4 42.5h.01M636.5 82.1h.01M575 77.9h.01M586.6 96.3h.01M601.5 84h.01M558.3 80.3h.01M585.2 62.5h.01M624.3 65.5h.01M626.8 47.5h.01M606.5 96.4h.01M563.3 85.2h.01M610.2 80.1h.01M572.5 55.5h.01M568.1 49.9h.01M555.9 93.8h.01M567.7 95.9h.01M591.1 70h.01M580.8 98.5h.01M565.3 90h.01M587.4 47.5h.01M611.7 60.4h.01M636.1 87.3h.01M559.7 95.1h.01M585.5 85.3h.01M584 60.2h.01M611.6 68.9h.01M635.4 41.7h.01M578.9 81h.01M613.1 49.6h.01M564.9 63.2h.01M555.2 86.9h.01M611.1 66.6h.01M553.9 48.5h.01M611.6 49.1h.01M611.8 91.2h.01M627.5 46.7h.01M615.3 73.3h.01M571.9 91.6h.01M584.5 72.5h.01M632.9 61.3h.01M568.5 60h.01M579.5 92.8h.01M618.3 69h.01M624.8 55.2h.01M633.8 78.2h.01M590.4 45.2h.01M603 91.1h.01M562.4 84.2h.01M616.2 60h.01M629.7 89.7h.01M560.7 77.1h.01M618.1 91.8h.01M616.3 48.6h.01M570.6 59.6h.01M617.4 71h.01M564.3 67.5h.01M573.3 58.7h.01M579.9 78.1h.01M606.1 54.2h.01M561 45.4h.01M575.6 44.1h.01M567 94.5h.01M563.2 92.1h.01M566.1 89.7h.01M564.9 74.2h.01M625.5 68.9h.01M556.6 97.9h.01M634.7 84.2h.01M572.1 78.3h.01M612.3 71.3h.01M617.3 56.2h.01M574.5 52.5h.01M633.3 102.4h.01M620.8 64.8h.01M562.6 96.4h.01M570.7 102.9h.01M629.2 66.9h.01M578.4 78.8h.01M629.6 89.6h.01M590 96.3h.01M565.8 71.7h.01M623.9 51.2h.01M578.2 69.1h.01M612.7 93.3h.01M595.7 89.1h.01M586.2 46.9h.01M577.2 89h.01M595.4 98h.01M613.6 51.2h.01M631.4 69.3h.01M578.5 63.7h.01M601.6 99.5h.01M623.5 101.5h.01M583.8 71.5h.01M636.6 40.3h.01M623.3 66.3h.01M559.7 65.4h.01M589.1 70.3h.01M622.7 92.5h.01M635.8 65.8h.01M574.1 68.2h.01M598.7 98h.01M634.9 100.6h.01M628.4 67.9h.01M606 66.2h.01M632.9 43.4h.01M621.9 100.6h.01M631 71.7h.01M585.2 80.3h.01M612 84.6h.01M609.7 66.4h.01M633.4 79.1h.01M614.6 87.5h.01M592.2 84.7h.01M564.4 92.2h.01M612.6 73.1h.01M553.2 66.5h.01M619.3 61.2h.01M632.3 68.7h.01M578.3 74.9h.01M583.5 94.6h.01M623.4 49.5h.01M570 98.1h.01M598.2 50.8h.01M565.6 89.8h.01M612.2 55.2h.01M592.4 44.9h.01M611.2 54.7h.01M610.8 68h.01M634.9 91.8h.01M603.1 94.9h.01M603.8 53.3h.01M619.1 95.9h.01M630.7 76.5h.01M557.8 90.8h.01M618.8 73.8h.01M619.8 67.2h.01M604.3 95.2h.01M596.7 92.1h.01M567.7 59.8h.01M594.2 97.7h.01M586.6 85.3h.01M609.2 94.9h.01M607.4 52.2h.01M608 67.6h.01M570.1 99.3h.01M569.4 81.3h.01M594 93.2h.01M602.2 41.9h.01M617.3 70.1h.01M570 62.8h.01M577.8 52.1h.01M633.1 50.9h.01M624.6 62.9h.01M555.9 90.3h.01M607 79.5h.01M628.2 42.6h.01M562.8 76.5h.01M597.1 57.6h.01M590.4 95.7h.01M615.3 73.7h.01M602.4 99.7h.01M634.1 74.2h.01M568.1 81.4h.01M596 80.9h.01M559.5 54.2h.01M620.9 72h.01M631.2 57.7h.01M554.1 88.2h.01M564.4 60.2h.01M604.6 102.6h.01M592.9 67.5h.01M570.5 73h.01M562.4 68.6h.01M634.1 68.4h.01M578.5 88.6h.01M616.9 92.5h.01M587.8 78.8h.01M634.6 97.7h.01M572.6 77.3h.01M560.4 70.6h.01M560.2 82h.01M564.7 45.6h.01M578.9 67.8h.01M630.5 82.7h.01M628.6 89.2h.01M588.6 61h.01M568.1 86.7h.01M622.7 65.1h.01M619.6 46.2h.01M574 52.2h.01M596.3 102.7h.01M586.2 47.5h.01M622.1 79.2h.01M623.1 63.3h.01M570.9 87h.01M572.3 96.7h.01M586.3 58.2h.01M625.8 47.8h.01M556.3 93.1h.01M590.7 55.4h.01M622.6 64.7h.01M595.3 39.1h.01M599.7 51.2h.01M572.8 81.6h.01M576.2 88h.01M560.2 40.5h.01M575.5 43.2h.01M581.6 69.2h.01M554.5 92.8h.01M599.6 40.9h.01M602.9 46.2h.01M589.2 84.6h.01M632.9 53.1h.01M596.1 101.5h.01M601.7 56.1h.01M624.1 44.3h.01M600.2 99.4h.01M574.3 77.6h.01M602.7 44.6h.01M597.3 80.7h.01M577.2 97.6h.01M554.7 65.3h.01M588.4 44.9h.01M573.8 86.3h.01M593.8 69.2h.01M571.8 69.8h.01M617.5 67.3h.01M560.4 67.8h.01M623.6 94.7h.01M606.3 60.7h.01M613.7 96.3h.01M616.4 66h.01M606.6 100.1h.01M635.4 53.2h.01M624 41.9h.01M621.2 74.2h.01M607.7 84.8h.01M577.6 41.6h.01M591.7 101.8h.01M561.7 68.4h.01M631.9 45h.01M598.8 72.6h.01M615.4 46.5h.01M621.2 41.7h.01M592 77.7h.01M635.9 84.7h.01M615.8 60.5h.01M559.3 73.8h.01M570.9 54.2h.01M574.3 60.6h.01M563.9 94.6h.01M570.8 56.8h.01M555.4 90h.01M611.9 64.6h.01M562.6 96.3h.01M590.4 83.7h.01M571.8 69.4h.01M556.4 59.9h.01M583.7 73.7h.01M577.3 42.4h.01M569 52.3h.01M565 97.5h.01M600 61.6h.01M635 67.1h.01M583.8 66.5h.01M604.4 96.7h.01M631.9 102.9h.01M602.2 42.7h.01M605.9 48h.01M601.6 53.2h.01M615.9 67.7h.01M626.6 57.9h.01M591.7 44.1h.01M599 58.2h.01M579.6 46.9h.01M595.9 54h.01M596.2 79.7h.01M583.3 70.6h.01M614.8 42.9h.01M616.2 98h.01M602.3 62.3h.01M606.7 73.8h.01M614.5 49.3h.01M603.8 53.4h.01M553 86.3h.01M554.4 80.1h.01M612.4 49h.01M556.9 46.4h.01M554.6 86.8h.01M615.5 79.1h.01M567.6 47.5h.01M557.1 79.8h.01M608 100.3h.01M601.6 60.6h.01M588.6 85.2h.01M606.2 80.6h.01M555.4 92.8h.01M589.5 63.8h.01M586.9 91.2h.01M621.3 92.7h.01M610.1 102h.01M597.3 41.6h.01M618.8 50.5h.01M614.4 67.9h.01M599.4 87.1h.01M613.8 93.5h.01M569.9 64.9h.01M634.8 59.5h.01M590.2 73h.01M630.7 44.6h.01M635 69.6h.01M611.6 82.1h.01M592.2 51.3h.01M606.6 97.7h.01M615.5 75.3h.01M574.3 60.8h.01M587.8 42h.01M603.6 52.3h.01M566.2 60.8h.01M557.8 92.3h.01M611.1 91.2h.01M632.7 97.5h.01M580.9 43.6h.01M574.9 77.2h.01M614.4 65.5h.01M613.2 94.8h.01M566.5 57.4h.01M595.4 45.1h.01M563.6 46.2h.01M564.2 83.5h.01M589.1 53.7h.01M600.4 59.7h.01M578.1 48.5h.01M618.6 48.7h.01M586.5 61.7h.01M570.5 53.1h.01M623.6 95.2h.01M564.6 52.1h.01M632.5 47.5h.01M594.1 78h.01M620.7 86.7h.01M634.2 41.7h.01M624.1 71.3h.01M608.2 86.6h.01M589.8 54.2h.01M612.4 83.9h.01M584 64.3h.01M567.3 89.9h.01M629.6 57.1h.01M621 88.1h.01M591.4 61.7h.01M619.1 49.8h.01M572.8 58.7h.01M610.4 73.2h.01M621.3 83.4h.01M566.1 82.1h.01M588.6 61h.01M599.1 49.9h.01M577 64.7h.01M609.2 88.7h.01M623.7 60.5h.01M576 68.9h.01M593.8 56.2h.01M617.5 78.2h.01M628.5 55.1h.01M572.8 71.4h.01M596.6 95.8h.01M598 86.3h.01M599.2 59.3h.01M594 65.6h.01M613.4 65.5h.01M603.3 45.6h.01M577.3 52.2h.01M602.4 96.9h.01M571.7 90.8h.01M575.7 89.9h.01M610.8 89.4h.01M583.5 82.1h.01M616.5 87.2h.01M634.9 50.6h.01M560.9 51.6h.01M634.7 51.8h.01M582.1 79.9h.01M612.3 95.2h.01M608.2 43h.01M597.5 90.7h.01M607.8 74.3h.01M622.8 77.8h.01M582.5 96.2h.01M595.2 62.3h.01M582 47.3h.01M572.1 89.1h.01M631 90.3h.01M585.1 82.6h.01M563.9 90.1h.01M617.7 92.5h.01M564.7 88.7h.01M569 76h.01M591.7 41.6h.01M623.1 41.8h.01M566.4 53.1h.01M562.4 52.6h.01M633.7 41.4h.01M617.3 89.7h.01M598.6 69.8h.01M577.1 47.6h.01M576.4 72.7h.01M564.4 96.1h.01M592.8 102.2h.01M577.6 41h.01M602 100.1h.01M619.5 91.3h.01M556.1 82.8h.01M621 71.7h.01M604.6 39.9h.01M604.6 78.7h.01M620 62.1h.01M573.9 43.3h.01M632.5 95.8h.01M581.9 88.9h.01M577.9 92.7h.01M560.5 62.9h.01M600.6 78h.01M560.1 99.6h.01M581.7 86h.01M588.7 53h.01M613.2 94.7h.01M629.7 40.4h.01M587.5 43.5h.01M620.2 91.7h.01M599.8 79.4h.01M604.3 60.8h.01M586.8 100.7h.01M568.8 77.4h.01M625.2 56.3h.01M570.4 98.6h.01M595.1 75.9h.01M580.8 90.1h.01M562.7 81.1h.01M558.3 89.2h.01M560.5 91.4h.01M560.1 64.4h.01M630.4 68.9h.01M555.1 66.5h.01M558.2 81h.01M625 48.9h.01M628.9 52.9h.01M569.6 53.1h.01M611.1 77.3h.01M632.5 101.7h.01M577.2 61.7h.01M554.3 63.3h.01M569.3 86.2h.01M561.8 84.7h.01M596.4 95.5h.01M591.2 47.3h.01M628.9 98h.01M589.5 82.5h.01M595.1 76.1h.01M615.4 64.1h.01M554.5 70.7h.01M581 71.5h.01M558.9 66.5h.01M621.3 47.4h.01M554.9 50h.01M634.5 79.5h.01M604.7 96.9h.01M562.3 91h.01M634 93.4h.01M636.1 101h.01M576 43.9h.01M629 76.1h.01M567.6 101.6h.01M596.1 51.5h.01M633 44.5h.01M582.8 50.8h.01M628 59.4h.01M633.1 62.1h.01M558.8 63.7h.01M578.9 49.7h.01M619.1 88.5h.01M603.8 55.2h.01M613.6 54.2h.01M625.4 80.6h.01M590.9 76.3h.01M603 47.8h.01M619.3 70.7h.01M604.5 67.4h.01M582.9 71.7h.01M588.9 85.6h.01M591.2 71.5h.01M584.7 84.8h.01M570.4 69.1h.01M553.2 65.7h.01M574.1 47.3h.01M581.7 59.1h.01M616.5 55.2h.01M625.5 75h.01M591.9 45.7h.01M569.1 103h.01M632.3 60.6h.01M605.7 77.9h.01M569.2 93.9h.01M570.2 101.3h.01M619.9 72h.01M558.9 85.2h.01M618.5 77.4h.01M607.1 46.7h.01M621.3 76h.01M585.8 45.5h.01M612.9 59.1h.01M612.7 99.2h.01M606.2 86.3h.01M570.3 94.2h.01M595.8 50.3h.01M554.7 98.9h.01M621.2 44h.01M614.4 102.1h.01M610 90.2h.01M559.8 46.2h.01M627.6 92.6h.01M563.5 45.3h.01M611.2 91h.01M586.8 78.5h.01M565.8 44.8h.01M617.4 83h.01M583.4 54.9h.01M629.1 96.9h.01M609.8 61.2h.01M563.8 82.1h.01M607.8 90.3h.01M593.2 75.3h.01M632.6 39h.01M557.9 39h.01M561.9 48.4h.01M616.3 102h.01M556.8 76.3h.01M564.7 41.8h.01M594.3 87h.01M622.9 43.5h.01M576.3 40.6h.01M636.8 71h.01M577.7 45.4h.01M589.9 86.6h.01M609 86.4h.01M604.2 51.9h.01M601.2 98.8h.01M614.7 55.2h.01M623.8 64.3h.01M558.1 92.8h.01M592.2 52.6h.01M605.6 54.8h.01M627.8 87.2h.01M568.2 63.6h.01M607.8 56.8h.01M624.8 77.7h.01M615.2 46.2h.01M616.7 80.2h.01M592.6 92.9h.01M613.1 75.9h.01M605.4 70.2h.01M554.7 50h.01M633.6 66h.01M590.4 102.3h.01M632 97.1h.01M617.3 92.9h.01M582.2 42.4h.01M569 97.6h.01M587.1 102.7h.01M589 47.4h.01M598.5 90.7h.01M561.2 88.2h.01M619.2 55.6h.01M580.6 49.9h.01M559.4 102.5h.01M569.7 86.4h.01M564 66.5h.01M555.5 90.1h.01M620.8 64.9h.01M604.2 40.4h.01M602.6 42.2h.01M614.6 92h.01M633.7 46.1h.01M582 62h.01M601.5 64.7h.01M632.5 84.4h.01M568.1 66.1h.01M592.6 48.3h.01M592.2 78.7h.01M558.6 73.6h.01M607.7 56.5h.01M584.6 45h.01M592.6 84.5h.01M636.6 52.2h.01M592.2 54.5h.01M592.1 74.9h.01M592.9 57.3h.01M597.1 83.3h.01M618 46.8h.01M565.5 86h.01M575.7 67.7h.01M561.8 92.5h.01M554.9 78.8h.01M621.3 69.5h.01M614 60.4h.01M568 55.8h.01M576.6 79.8h.01M613.8 101.9h.01M563.9 100.5h.01M560.4 83.5h.01M624.9 102.5h.01M559.9 95.9h.01M617.4 76.5h.01M619.4 53.2h.01M603 98.6h.01M632.2 72h.01M573.6 87.7h.01M610.5 98.2h.01M608.9 62.9h.01M572.8 84.7h.01M606.7 72.4h.01M635.6 83.6h.01M622.6 101.3h.01M568.7 72.2h.01M560.4 70.7h.01M596.2 57.8h.01M611.4 42.2h.01M609.9 77.6h.01M625.4 72.4h.01M574.3 45.8h.01M556.1 77.8h.01M623.3 84.2h.01M636.2 60h.01M557.7 45h.01M565.3 84.2h.01M555.1 41.2h.01M586.8 58.1h.01M603.4 92.6h.01M572.7 39.8h.01M591.4 84.7h.01M572.2 50.7h.01M633.1 99.8h.01M593.2 45.7h.01M596.4 89.6h.01M581.6 101.5h.01M619.3 47.2h.01M591.3 75.5h.01M635.6 100.4h.01M627.9 92.2h.01M629.8 77.3h.01M636.2 40.2h.01M608.5 100.3h.01M587.1 62.3h.01M585.8 94.3h.01M629.8 83h.01M633.9 63.5h.01M612 76.4h.01M588.9 40.1h.01M568.7 39h.01M586.4 102.5h.01M558.6 64h.01M561 44h.01M635.2 69.1h.01M601.1 78.2h.01M628.3 88h.01M578 66h.01M585 98h.01M566.2 43.3h.01M613.7 102.4h.01M607.1 46h.01M636.4 62.8h.01M563.9 39.8h.01M580.5 90.6h.01M600.3 73.9h.01M620.9 74.2h.01M580.8 50.7h.01M623.5 94h.01M609.5 42.5h.01M563 88.4h.01M574.9 50.5h.01M626.1 82.5h.01M627.1 98.6h.01M634.2 100.9h.01M554.2 42h.01M580.1 53.3h.01M625.1 84h.01M604.6 64.4h.01M564.8 45.7h.01M621.3 97.7h.01M554.8 91.2h.01M582.4 76h.01M555.6 39.5h.01M599.8 49.5h.01M622 44h.01M563.2 89.4h.01M621.7 49.9h.01M555.5 75.7h.01M562 92.6h.01M614.9 55.7h.01M603.8 72.2h.01M625.1 101.8h.01M583.1 88.5h.01M627.3 101.6h.01M623.3 88.1h.01M599.9 93.8h.01M578.9 97.4h.01M634.1 61.6h.01M568.8 67h.01M570.9 87.6h.01M581 92.1h.01M594.8 52.5h.01M575.2 69h.01M614.6 96.9h.01M571.3 49.4h.01M584.8 66.6h.01M569.2 90h.01M566.3 64.9h.01M581.8 55.9h.01M574.5 41h.01M558.9 58.8h.01M568.8 87.8h.01M596.8 102.2h.01M600.8 46.3h.01M583.5 77.8h.01M578.2 82.7h.01M597.4 46.9h.01M580.4 68.1h.01M612.5 92.7h.01M631.3 44.7h.01M555.9 83.4h.01M559.4 43.4h.01M626.8 69.9h.01M623.9 83.2h.01M579.6 77.2h.01M608.7 95.4h.01M593.3 79.6h.01M597.1 88.1h.01M603.9 41.2h.01M620.2 50.5h.01M621.1 56h.01M593.3 80.5h.01M597.8 91.8h.01M599.4 77.7h.01M587.2 78.1h.01M618.4 45.4h.01M602.4 57.6h.01M605.1 84.1h.01M560 75h.01M567.7 97.9h.01M595.5 88.8h.01M618.3 93.4h.01M594 43.3h.01M597.1 58.3h.01M577.4 39.8h.01M617.3 45.2h.01M613.4 89.9h.01M592.7 45.6h.01M620.2 63.1h.01M622.6 91.3h.01M560.4 95.4h.01M609.9 79.7h.01M619.5 92h.01M556.8 99.4h.01M572.4 91.4h.01M614.9 83.3h.01M576.9 91.8h.01M559.8 76.2h.01M589.7 39.8h.01M612.3 94.7h.01M611.6 53.5h.01M587.3 41.6h.01M617.1 80h.01M605.2 44.9h.01M616.8 50.3h.01M613.7 76.1h.01M625 82.3h.01M604.6 69.8h.01M575.6 85.6h.01M627.7 48.9h.01M625.6 54.5h.01M554.1 47.8h.01M595.7 96.8h.01M605.2 95.3h.01M568.2 50.8h.01M609.6 58.1h.01M583.5 60.6h.01M578.1 50.5h.01M558.3 41.7h.01M581.4 82.9h.01M620.4 70h.01M553.9 57.1h.01M574.9 76.3h.01M569.9 76.9h.01M601 79.9h.01M597.9 40.6h.01M564.9 79.2h.01M577.4 93.3h.01M610.3 58.6h.01M612.1 90.2h.01M559.9 64.8h.01M633.3 99.2h.01M626.5 78.6h.01M627 98.8h.01M622.8 63.6h.01M558.7 78.1h.01M618.3 55.7h.01M603.1 81.9h.01M565.7 44.3h.01M618.9 69.3h.01M633.7 75.2h.01M556 95.2h.01M603.3 99.4h.01M571.6 87.4h.01M561.9 45.7h.01M563.4 48.1h.01M601.4 101.8h.01M564.8 48.8h.01M561.7 42.9h.01M617.1 62.9h.01M634 56.5h.01M601.5 94.6h.01M610.4 72.4h.01M558.5 52.2h.01M577.1 46h.01M589.5 57h.01M628.3 63.4h.01M626.4 44.7h.01M578.7 41.6h.01M578.9 85.9h.01M585.1 43.8h.01M616.8 73.2h.01M599.9 81.6h.01M627.9 94.8h.01M608.8 46.2h.01M630.1 93.5h.01M558.8 86h.01M558.7 90.1h.01M576.4 84.3h.01M561.4 42.7h.01M632.7 75.5h.01M618.5 94.7h.01M559.2 95.7h.01M553.7 79h.01M562 79.3h.01M555.8 89.7h.01M556.4 41.4h.01M561.8 42.6h.01M632.8 44.9h.01M576.8 95.7h.01M609.1 86.1h.01M635.6 55h.01M607.8 79.6h.01M573.5 50.7h.01M632.4 99.2h.01M556.4 74.1h.01M634.9 79.6h.01M573.5 89.4h.01M620.7 50.6h.01M599.7 72.7h.01M554 63.4h.01M623.3 78h.01M634.5 73.3h.01M619.9 101.9h.01M606.1 76h.01M610.9 89.9h.01M558.4 69.8h.01M622.1 52.1h.01M572.6 54.9h.01M597.1 50.8h.01M587.4 47.6h.01M621.1 63.4h.01M608.9 49.4h.01M621.8 100.8h.01M590.6 46.8h.01M560.5 65.9h.01M581.9 67.2h.01M625.2 90.8h.01M598.3 53.2h.01M618.2 72.6h.01M567.6 64.7h.01M624.3 51.1h.01M556.1 56.1h.01M580.6 43.5h.01M579.8 75.1h.01M575 51.7h.01M559 68.8h.01M576.9 74.3h.01M572.8 49.1h.01M579.9 74.3h.01M602.1 71.2h.01M587.3 74.4h.01M623.9 66.5h.01M628.5 96h.01M614 84.7h.01M556.1 80.6h.01M609.4 46h.01M608.6 88h.01M618.1 40.1h.01M557.5 102.7h.01M578.8 44.1h.01M613.3 99.7h.01M600.1 39.2h.01M610 54.1h.01M569.4 66.7h.01M566.8 90.6h.01M557.3 43h.01M597.3 86h.01M553.9 84.5h.01M631.2 70.3h.01M607.2 85.5h.01M590.4 80.9h.01M617.2 76.6h.01M628.5 95.5h.01M565.8 49.1h.01M619.3 82.1h.01M634.5 83.8h.01M594 79.8h.01M582 78.6h.01M581.6 77.7h.01M561.3 80.5h.01M575.1 74.4h.01M625.1 39.9h.01M585.9 48.8h.01M610.8 39.3h.01M635.2 60h.01M636 69.4h.01M580.5 51.9h.01M634.1 55h.01M563.6 47.1h.01M611.8 76.4h.01M609.2 64.6h.01M611.1 86.6h.01M564.3 69.6h.01M568.3 79.7h.01M618.1 44h.01M554.8 50.5h.01M631.9 68.3h.01M599.2 93.9h.01M570 45.6h.01M561.5 85.9h.01M578.9 54.8h.01M624.4 43.4h.01M589.1 85h.01M571.1 64.7h.01M562 85.8h.01M592.2 80.6h.01M561.5 100h.01M592.6 41.1h.01M611.2 87.9h.01M558.6 53.1h.01M572 88h.01M606.7 46.9h.01M634.3 39.4h.01M628.3 75.1h.01M573.7 80h.01M563.2 94.1h.01M619.6 50.8h.01M612.5 53.7h.01M628.5 42.5h.01M609.2 93.4h.01M627.5 84.8h.01M625.5 87.8h.01M584.2 92.9h.01M624 56.6h.01M624.7 76.7h.01M579.1 88.4h.01M623.3 97h.01M590.3 63.7h.01M557.4 51.1h.01M598.3 97.8h.01M588.1 42.7h.01M602.8 86.9h.01M628.4 79.3h.01M615.3 68.8h.01M584.1 59.5h.01M629.3 93.6h.01M625.3 76.2h.01M584.8 70.9h.01M611.2 82.3h.01M621 94.9h.01M555.3 70.8h.01M591.4 40.7h.01M611.2 62h.01M618.6 86.7h.01M581.4 44.3h.01M555.8 67h.01M623.5 63.6h.01M626.5 102.1h.01M591.9 64.7h.01M602.8 86.1h.01M569 57.4h.01M605.3 76.3h.01M596.5 45.3h.01M615.5 53.7h.01M607.9 80.8h.01M584 94.9h.01M596.5 86.3h.01M589.9 80.7h.01M573.8 91.2h.01M566.3 94h.01M572.4 59h.01M588.7 91.5h.01M605.2 88.5h.01M629.6 56.6h.01M633.1 73.2h.01M593.2 67h.01M627 62.6h.01M582.4 96.7h.01M583.1 79.5h.01M617.5 59.8h.01M599.4 48.2h.01M607 57.2h.01M558 69h.01M570.5 67.5h.01M608.1 92.1h.01M595.1 86.2h.01M561.6 82.5h.01M612.3 63.2h.01M623 63.2h.01M618.5 57.8h.01M579.7 89h.01M595.5 59.4h.01M594.4 97.9h.01M603.1 66.8h.01M607.8 44.1h.01M582.9 55.9h.01M622.6 59.5h.01M616.5 92.7h.01M632.7 39.7h.01M600.4 54.9h.01M607.4 82.8h.01M574.7 78.9h.01M618.7 45.5h.01M585.5 53.9h.01M581.6 48.4h.01M559.9 64.3h.01M585.2 94.4h.01M555.3 84h.01M596.7 76.4h.01M591.8 83.2h.01M572.4 87.1h.01M559.5 85.7h.01M622.5 50.6h.01M594.4 88.5h.01M580.9 96.9h.01M582 69.5h.01M555.3 49.3h.01M568.3 39.8h.01M589.3 96.7h.01M620.5 96.9h.01M602.4 102.2h.01M591.3 58.8h.01M560.5 74.6h.01M573.2 57.2h.01M608.2 76.7h.01M566.4 49h.01M561.1 84.8h.01M564.9 89.4h.01M618.8 53.6h.01M579.9 48.6h.01M589.7 70h.01M620.7 52.3h.01M579.4 64.4h.01M584.7 66h.01M567.5 69.1h.01M565.7 68h.01M626.4 100h.01M559.1 96.8h.01M604.6 82.5h.01M617 56.9h.01M620.6 95.3h.01M608.4 96.5h.01M601.7 52.2h.01M631.6 86.4h.01M625 80.3h.01M571.1 98.7h.01M614 67.6h.01M592.7 74.8h.01M561.1 55.3h.01M589.1 93.6h.01M554.4 50.9h.01M554.8 79.6h.01M617.9 95.3h.01M590.6 52.1h.01M612 77.8h.01M607.7 89.4h.01M556 54h.01M586.8 48h.01M561.4 70h.01M626.5 64.3h.01M556.3 41h.01M569.9 52.2h.01M617 82.6h.01M605 56.9h.01M585.1 89.7h.01M636.6 91.5h.01M558.1 98h.01M630.1 58h.01M624.5 45.2h.01M630.7 58.3h.01M597.7 46.4h.01M592.7 91.3h.01M633.6 67.1h.01M582.5 95.7h.01M557.1 85.8h.01M561.8 66.6h.01M559.1 96.9h.01M626.9 74.2h.01M634.8 64.8h.01M595.5 98.8h.01M576.3 74.8h.01M622.2 80.1h.01M614.5 80.6h.01M587.1 96.5h.01M580.3 47.9h.01M567.2 81.8h.01M625.3 54.9h.01M616.8 87h.01M583.5 93.3h.01M558.8 42.9h.01M600.5 87.8h.01M554 58h.01M609.4 80.1h.01M553 98.9h.01M570.7 68.4h.01M616.5 44h.01M636.2 39.7h.01M559.9 92.4h.01M620.3 77.6h.01M630.8 79.9h.01M608.8 90.7h.01M632.5 48h.01M623.5 84.9h.01M561.7 86.5h.01M585.2 96.8h.01M567.2 100.9h.01M585.8 94.3h.01M577.4 50.4h.01M586.9 75.5h.01M614.7 57.3h.01M562.1 64.6h.01M619.4 49.9h.01M572.1 76.1h.01M630.5 58.5h.01M604.2 53.6h.01M580.6 59.3h.01M583.7 72.3h.01M569.8 68.5h.01M591.4 90.5h.01M607.9 41.7h.01M625.4 88h.01M625.8 95.5h.01M627.9 74.7h.01M570.8 73.6h.01M576.3 90.3h.01M597.3 61.7h.01M622 59.3h.01M606.5 62.8h.01M591.6 90.5h.01M594.6 71.7h.01M554.5 73.2h.01M602.9 94.9h.01M611 73.7h.01M631.9 51.1h.01M587.8 47.3h.01M614.8 80.3h.01M631.5 96.9h.01M563.4 83.8h.01M611.2 44.6h.01M561.9 98.3h.01M621 73.7h.01M557.1 87.6h.01M612.8 86.1h.01M623.8 49.7h.01M610.6 44.1h.01M567.7 59.4h.01M567 64.7h.01M630 45.4h.01M615.1 71.9h.01M554.3 70.3h.01M557.9 92.4h.01M564.8 57.5h.01M619.1 53.1h.01M611.7 92.6h.01M593.6 64.8h.01M598.6 41.6h.01M622.9 82.7h.01M632.2 72.6h.01M575.9 44h.01M562.4 42.2h.01M568 91.5h.01M566.1 102.1h.01M588.7 56.9h.01M614.1 95.5h.01M593.7 76.1h.01M615.5 99.6h.01M587.2 76.6h.01M570.3 72.3h.01M631.5 102.3h.01M577.6 45.6h.01M565.4 52.6h.01M604.5 40.3h.01M602.8 83.9h.01M564.7 66.7h.01M586.1 90.4h.01M611.5 97.8h.01M563.8 60.3h.01M625.7 57.8h.01M562 57.9h.01M609.8 56.8h.01M626.6 59.7h.01M570 45.8h.01M590.5 69.3h.01M567.4 62.7h.01M621.3 55.5h.01M566.4 100.5h.01M636.3 55h.01M614.2 73h.01M604.8 48.3h.01M609 85h.01M618.9 65.3h.01M563.7 94.8h.01M556.9 57.3h.01M565.6 54.7h.01M587.1 92.2h.01M618.4 101.1h.01M553.5 94.3h.01M574 77.9h.01M582.7 50.5h.01M572.8 78.2h.01M584.8 49.6h.01M634.8 43.6h.01M598 45.8h.01M635.2 62.5h.01M594.6 87.9h.01M567.1 52h.01M586.5 84.5h.01M620.7 102.9h.01M588.2 93.1h.01M616.5 50.9h.01M613.3 82.6h.01M602.3 78.1h.01M554.9 86.5h.01M605.5 41.2h.01M603.2 46.2h.01M626.5 91.8h.01M600.5 40h.01M609.3 66.1h.01M605.7 67.7h.01M619.5 42.5h.01M581.3 94.9h.01M618.9 89.3h.01M623.7 68.9h.01M613 52h.01M594 66.4h.01M604.6 46.9h.01M581.1 62.4h.01M561.7 67.2h.01M574.6 98.2h.01M624.6 70h.01M634.5 46.8h.01M624.3 90.5h.01M598.2 81.9h.01M557.4 73.2h.01M606.7 49.2h.01M608.4 46.6h.01M636.5 72h.01M555.6 47.5h.01M571.8 39.8h.01M601.8 46.8h.01M616.4 79.8h.01M632.2 100.7h.01M594.9 87.2h.01M589.3 67.7h.01M567 99.3h.01M608.9 50h.01M594.4 99.8h.01M582.7 61.4h.01M561 67.4h.01M628.7 71.1h.01M584.4 72.1h.01M590 97.4h.01M621.6 73h.01M559.6 83.3h.01M555.4 45.5h.01M580.3 90.2h.01M566.3 44.4h.01M635.9 63.9h.01M589 42.3h.01M625 69h.01M578.3 82.2h.01M621.9 47.5h.01M554.9 80.8h.01M599.3 41.4h.01M585.5 87.3h.01M605.4 53.3h.01M603.4 72.6h.01M630.1 41h.01M598.2 88.4h.01M627.2 98.9h.01M557.8 95.3h.01M575.3 72h.01M611.1 43.3h.01M598.2 84.7h.01M584.7 80.6h.01M616.3 53h.01M600.9 100.9h.01M583.8 83.8h.01M584.9 53.8h.01M635.3 52.7h.01M622.1 63.2h.01M564 43.3h.01M632.3 62.2h.01M630.3 42h.01M579 52.7h.01M596.3 74.1h.01M623.9 92.6h.01M579 93.8h.01M606.2 61h.01M557.4 100.2h.01M626.9 43.5h.01M595.5 56.8h.01M591.2 89.3h.01M619.6 95.4h.01M587.2 92.9h.01M628 91.9h.01M588.9 39h.01M578.4 102.7h.01M567.6 102.8h.01M630.2 73.5h.01M623.6 91.7h.01M611.3 80.5h.01M623.8 61h.01M612.8 84.2h.01M617.3 55.2h.01M620.9 94.8h.01M589.8 78.3h.01M635.1 40.4h.01M621.9 82.4h.01M556.8 96.3h.01M559.4 65h.01M633.9 79.4h.01M594.7 40.7h.01M628.8 66.4h.01M617 69.8h.01M583.9 99.5h.01M588.3 87.5h.01M573 73.1h.01M612.4 95.6h.01M558.5 54.3h.01M583 49.9h.01M625.8 58.6h.01M636.3 77.8h.01M575.5 56.2h.01M581.7 45.7h.01M596.6 63.9h.01M559 54.7h.01M629 83.6h.01M617.3 84.7h.01M561.8 84.7h.01M558.8 86.9h.01M586.1 98.4h.01M598.1 39.8h.01M633.7 54h.01M628.5 87.1h.01M627.2 40.5h.01M568.3 91.2h.01M570.5 92.3h.01M614.4 102.8h.01M575.4 63.1h.01M567.6 55h.01M558.5 53.4h.01M623.1 60.4h.01M586 91.4h.01M591.9 91.2h.01M594.6 93.1h.01M612.2 98h.01M553.2 75.9h.01M611.2 67.5h.01M615 81.2h.01M572.7 85h.01M565.3 76.9h.01M620.7 58.5h.01M579.2 61.4h.01M594.1 82.6h.01M582.5 67.9h.01M585 102.8h.01M607.4 44.5h.01"/><path class="n" d="M635.2 63L635 65.4L634.3 67.7L633.2 70L631.7 72.3L629.8 74.4L627.5 76.4L624.8 78.3L621.9 79.9L618.6 81.4L615 82.7L611.3 83.8L607.4 84.7L603.3 85.3L599.1 85.7L594.9 85.8L590.7 85.7L586.5 85.3L582.4 84.7L578.5 83.8L574.8 82.7L571.2 81.4L567.9 79.9L565 78.3L562.3 76.4L560 74.4L558.1 72.3L556.6 70L555.5 67.7L554.8 65.4L554.6 63" style="stroke-width:1.49"/><rect x="630.5" y="74.1" width="1.7" height="5.6" fill="#fcfdfc" stroke="#111" stroke-width="0.7"/><rect x="627.9" y="76.6" width="2" height="5.6" fill="#fcfdfc" stroke="#111" stroke-width="0.7"/><rect x="624.8" y="78.9" width="2.3" height="5.6" fill="#fcfdfc" stroke="#111" stroke-width="0.7"/><rect x="621.2" y="81" width="2.6" height="5.6" fill="#fcfdfc" stroke="#111" stroke-width="0.7"/><rect x="617.2" y="82.8" width="2.8" height="5.6" fill="#fcfdfc" stroke="#111" stroke-width="0.7"/><rect x="612.8" y="84.4" width="3" height="5.6" fill="#fcfdfc" stroke="#111" stroke-width="0.7"/><rect x="608.1" y="85.6" width="3.2" height="5.6" fill="#fcfdfc" stroke="#111" stroke-width="0.7"/><rect x="603.3" y="86.5" width="3.3" height="5.6" fill="#fcfdfc" stroke="#111" stroke-width="0.7"/><rect x="598.3" y="87" width="3.4" height="5.6" fill="#fcfdfc" stroke="#111" stroke-width="0.7"/><rect x="593.2" y="87.2" width="3.4" height="5.6" fill="#fcfdfc" stroke="#111" stroke-width="0.7"/><rect x="588.2" y="87" width="3.4" height="5.6" fill="#fcfdfc" stroke="#111" stroke-width="0.7"/><rect x="583.2" y="86.5" width="3.3" height="5.6" fill="#fcfdfc" stroke="#111" stroke-width="0.7"/><rect x="578.5" y="85.6" width="3.2" height="5.6" fill="#fcfdfc" stroke="#111" stroke-width="0.7"/><rect x="574" y="84.4" width="3" height="5.6" fill="#fcfdfc" stroke="#111" stroke-width="0.7"/><rect x="569.8" y="82.8" width="2.8" height="5.6" fill="#fcfdfc" stroke="#111" stroke-width="0.7"/><rect x="566" y="81" width="2.6" height="5.6" fill="#fcfdfc" stroke="#111" stroke-width="0.7"/><rect x="562.7" y="78.9" width="2.3" height="5.6" fill="#fcfdfc" stroke="#111" stroke-width="0.7"/><rect x="559.9" y="76.6" width="2" height="5.6" fill="#fcfdfc" stroke="#111" stroke-width="0.7"/><rect x="557.6" y="74.1" width="1.7" height="5.6" fill="#fcfdfc" stroke="#111" stroke-width="0.7"/><path class="n" d="M634.8 74.4L634.1 76.5L633 78.6L631.6 80.6L629.8 82.6L627.8 84.4L625.4 86.1L622.8 87.7L619.9 89.1L616.7 90.4L613.4 91.5L609.9 92.4L606.3 93.1L602.5 93.6L598.7 93.9L594.9 94L591.1 93.9L587.3 93.6L583.5 93.1L579.9 92.4L576.4 91.5L573.1 90.4L569.9 89.1L567 87.7L564.4 86.1L562 84.4L560 82.6L558.2 80.6L556.8 78.6L555.7 76.5L555 74.4" style="stroke-width:1.84"/><ellipse class="n" cx="594.9" cy="63" rx="26.6" ry="15.4" style="stroke-width:1.26"/><path class="n" d="M571.2 69.3L570.2 67.2L569.7 65L569.8 62.9L570.6 60.7L571.8 58.7L573.6 56.8L576 55L578.7 53.5L581.8 52.3L585.3 51.3L588.9 50.6L592.7 50.3L596.5 50.2L600.4 50.5L604 51.2L607.5 52.1L610.7 53.3L613.5 54.8L615.9 56.5L617.7 58.4" style="stroke-width:3.45"/><circle cx="595.4" cy="55.8" r="5.2" class="p" style="stroke-width:2.30"/><path class="k" d="M590.5 58.5 Q595.5 63.5 600.5 58.5 L601.5 62 Q595.5 66.5 589.6 62Z" /><circle cx="594.6" cy="54.6" r="1.2" class="k"/><path class="n" d="M635.2 78.6L635 81L634.3 83.3L633.2 85.6L631.7 87.9L629.8 90L627.5 92L624.8 93.9L621.9 95.5L618.6 97L615 98.3L611.3 99.4L607.4 100.3L603.3 100.9L599.1 101.3L594.9 101.4L590.7 101.3L586.5 100.9L582.4 100.3L578.5 99.4L574.8 98.3L571.2 97L567.9 95.5L565 93.9L562.3 92L560 90L558.1 87.9L556.6 85.6L555.5 83.3L554.8 81L554.6 78.6" style="stroke-width:3.22"/><path class="n" d="M554.6 63 L554.6 78.6 M635.2 63 L635.2 78.6" style="stroke-width:2.99"/>
<!-- 20_lower.py -->
<path class="p" d="M45 375.2L43.5 373.9L42.5 372.1L41.9 369.7L41.9 366.9L42.3 364L43.3 361.2L44.7 358.5L46.4 356.3L48.3 354.6L50.3 353.6L52.3 353.3L54 353.8L61.5 356.9L63 358.2L64 360L64.6 362.4L64.6 365.2L64.2 368.1L63.2 370.9L61.8 373.6L60.1 375.8L58.2 377.5L56.2 378.5L54.2 378.8L52.5 378.3Z" style="stroke-width:2.53"/><path class="n" d="M55 354.3L56.7 355.9L57.8 358.3L58.2 361.4L57.8 364.9L56.7 368.3L55 371.5L52.9 374L50.5 375.6L48.1 376.2L46 375.7" style="stroke-width:2.18"/><path class="n" d="M56.7 355L58.3 356.6L59.4 359L59.8 362.1L59.4 365.6L58.3 369L56.6 372.1L54.5 374.6L52.1 376.3L49.7 376.8L47.6 376.3" style="stroke-width:2.18"/><path class="n" d="M58.3 355.7L60 357.3L61.1 359.7L61.4 362.8L61.1 366.2L60 369.7L58.3 372.8L56.1 375.3L53.7 376.9L51.4 377.5L49.2 377" style="stroke-width:2.18"/><path class="n" d="M59.9 356.4L61.6 357.9L62.7 360.4L63.1 363.5L62.7 366.9L61.6 370.4L59.9 373.5L57.7 376L55.4 377.6L53 378.2L50.8 377.7" style="stroke-width:2.18"/><path class="n" d="M61.5 357L63.2 358.6L64.3 361L64.7 364.1L64.3 367.6L63.2 371L61.5 374.2L59.4 376.7L57 378.3L54.6 378.9L52.5 378.4" style="stroke-width:2.18"/><ellipse class="p" cx="49.8" cy="364.6" rx="6.2" ry="10.6" transform="rotate(20 49.8 364.6)" style="stroke-width:1.84"/><clipPath id="c11"><path d="M55.1 366.5L54.5 368L53.7 369.3L52.9 370.6L52 371.7L51.1 372.6L50.1 373.3L49.1 373.8L48.2 374.1L47.2 374.2L46.4 374L45.6 373.6L44.9 372.9L44.4 372.1L43.9 371.1L43.7 369.9L43.5 368.6L43.6 367.2L43.7 365.7L44.1 364.2L44.5 362.7L45.1 361.2L45.9 359.9L46.7 358.6L47.6 357.5L48.5 356.6L49.5 355.9L50.5 355.4L51.4 355.1L52.4 355L53.2 355.2L54 355.6L54.7 356.3L55.2 357.1L55.7 358.1L55.9 359.3L56.1 360.6L56 362L55.9 363.5L55.5 365L55.1 366.5Z"/></clipPath><path clip-path="url(#c11)" class="d" stroke-width="0.9" style="stroke:#111" d="M47.3 377.6h.01M57.3 376h.01M54.6 374.9h.01M42 368.7h.01M46 371.3h.01M48.9 367h.01M50.7 367.4h.01M55.2 377.5h.01M47.5 373.2h.01M56.2 362.8h.01M44 365.4h.01M54.2 366.1h.01M45 370.6h.01M47.2 375.2h.01M44.7 367.8h.01M48.2 377.6h.01M44.2 375h.01M48.7 362.3h.01M45.3 365.4h.01M56.9 378h.01M57 368.3h.01M45.8 365.7h.01M52.4 360.4h.01M57.8 355.1h.01M45.8 358.1h.01M44.7 354.6h.01M45.8 362.3h.01M57 366.6h.01M52 361.7h.01M44.7 367.1h.01M53.6 355.1h.01M52.4 358.2h.01M53 361.9h.01M44.4 356.5h.01M54.7 366.5h.01M43.4 375.6h.01M46.4 360h.01M42 360.5h.01M51 375.4h.01M46.8 365.4h.01"/><path class="n" d="M44.5 370 Q48 378.5 56 378" style="stroke-width:2.99"/>
<path class="p" d="M96.7 315.8 Q88 320 85.8 331 Q86 346 94.6 353.3 L201 403.5 L224 386 L224 357 L195.5 344 L135 318 L111 320 Z" style="stroke:none"/><path class="n" d="M111.3 320 Q104 316 96.7 315.8 Q89.5 318.5 87 326 Q85 336 88 345 Q90.5 351 94.6 353.3" style="stroke-width:2.07"/><path class="n" d="M109.2 320.6 Q113.8 328 113.3 336 Q112.5 344 108.5 348.5 Q104 352.5 99.4 353.3" style="stroke-width:1.72"/><path class="n" d="M99.5 331 Q104.5 336 104.3 342 Q103.5 347.5 100.8 350.6" style="stroke-width:1.49"/><path class="n" d="M88.5 328.5 L108 321" style="stroke-width:1.38"/><path class="n" d="M94.6 353.3 L200.5 403.2" style="stroke-width:2.18"/><path class="p" d="M112.6 309 Q116 303.5 125.8 301.3 Q131 300.8 133.8 302.8 Q138 307.5 142.5 311.7 Q149 316 156.4 318.6 Q163 320.6 170.3 321.4 L182.8 323.5 Q188.5 326 191.1 331.1 Q194 336 193.9 340.5 Q193.6 346 191.1 350.6 L180 356 L150 340 L125 336 L113 324 Z" style="stroke-width:2.18"/><path class="n" d="M119.6 335.3 Q122.5 343 121.7 350.6 M130.7 340.8 Q131.5 350 130 360.3" style="stroke-width:1.72"/><path class="n" d="M134.9 341.5 Q135.2 345.5 138.5 347.6 L171.7 363 M171.7 356 L171.7 380" style="stroke-width:1.72"/><path class="n" d="M133.5 352.5 Q132.5 356 131.5 357 M128.8 358 Q130.5 361.5 131.5 363" style="stroke-width:1.26"/><path class="n" d="M134.2 320 Q140 324.5 149.4 327.6 Q157 330 163.3 331.1 Q167 330 170.3 330.4" style="stroke-width:1.84"/><path class="p" d="M112.4 313 Q113.5 308.6 119 308.2 Q127 308.4 131.5 314 Q134.5 318.5 134.2 324 Q134 331 129.5 333.4 Q124 335 119 331 Q113.5 326 112.2 318.5 Q112 315 112.4 313Z" style="stroke-width:2.07"/><ellipse class="p" cx="122.4" cy="321.4" rx="3.4" ry="5.6" transform="rotate(12 122.4 321.4)" style="stroke-width:1.95"/><path class="p" d="M164.4 335 Q165.5 330.5 170.3 330.2 Q177.5 330.4 181.5 335.6 Q184.6 340 184.3 346 Q184 352.5 180 354.6 Q175.5 356 171 352 Q165.5 346.5 164.3 339 Z" style="stroke-width:2.07"/><ellipse class="p" cx="175.1" cy="343" rx="3.5" ry="5.7" transform="rotate(12 175.1 343)" style="stroke-width:1.95"/><path class="n" d="M186 353.5 Q184 361 185.5 372 M190.6 351 Q188.6 356 189 366" style="stroke-width:1.61"/><path class="n" d="M193.5 343.5 L222.5 356.2" style="stroke-width:2.07"/><path class="p" d="M194.2 400.7L191.9 398.9L190.1 396.2L188.8 392.9L188.1 388.9L188 384.6L188.5 379.9L189.6 375.2L191.3 370.5L193.4 366.1L196 362.2L198.8 358.8L201.9 356.2L205 354.4L208.2 353.4L211.1 353.4L213.8 354.3L218.8 356.1L221.1 357.9L222.9 360.6L224.2 363.9L224.9 367.9L225 372.2L224.5 376.9L223.4 381.6L221.7 386.3L219.6 390.7L217 394.6L214.2 398L211.1 400.6L208 402.4L204.8 403.4L201.9 403.4L199.2 402.5Z" style="stroke-width:1.95"/><path class="p" d="M199.7 402.7L197.3 400.9L195.5 398.3L194.1 394.9L193.4 390.9L193.3 386.5L193.8 381.8L194.9 377L196.6 372.3L198.8 367.9L201.3 363.9L204.2 360.6L207.3 357.9L210.5 356.1L213.7 355.1L216.6 355.1L219.3 356.1L224.3 357.9L226.7 359.7L228.5 362.3L229.9 365.7L230.6 369.7L230.7 374.1L230.2 378.8L229.1 383.6L227.4 388.3L225.2 392.7L222.7 396.7L219.8 400L216.7 402.7L213.5 404.5L210.3 405.5L207.4 405.5L204.7 404.5Z" style="stroke-width:1.84"/><path class="p" d="M205.5 403.4L203.3 401.7L201.5 399.1L200.3 395.9L199.6 392.1L199.5 387.8L199.9 383.3L201 378.7L202.6 374.2L204.7 370L207.2 366.2L210 362.9L212.9 360.4L216 358.6L219 357.7L221.9 357.7L224.5 358.6L229.5 360.4L231.7 362.1L233.5 364.7L234.7 367.9L235.4 371.7L235.5 376L235.1 380.5L234 385.1L232.4 389.6L230.3 393.8L227.8 397.6L225 400.9L222.1 403.4L219 405.2L216 406.1L213.1 406.1L210.5 405.2Z" style="stroke-width:1.72"/><ellipse class="p" cx="223.2" cy="383.4" rx="15.6" ry="25.6" transform="rotate(20 223.2 383.4)" style="stroke-width:2.76"/><ellipse class="p" cx="224.6" cy="384" rx="11.2" ry="19.6" transform="rotate(20 224.6 384)" style="stroke-width:2.18"/><ellipse class="n" cx="225.2" cy="384.2" rx="9" ry="17" transform="rotate(20 225.2 384.2)" style="stroke-width:1.38"/><path class="t" d="M227 367.3L228.1 367.2L229.2 367.2L230.2 367.4L231.2 367.8L232.1 368.4L232.9 369.2L233.5 370.2L234.1 371.3L234.6 372.6L234.9 374L235.2 375.6L235.2 377.2L235.2 378.9L235 380.7L234.7 382.5L234.3 384.4L233.8 386.2L233.1 388L232.4 389.8L231.6 391.5L230.6 393.1L229.6 394.5L228.6 395.9L227.4 397.1" style="stroke-width:1.15"/><path class="t" d="M226.4 368.7L227.4 368.5L228.4 368.5L229.3 368.7L230.2 369.1L231 369.7L231.7 370.4L232.3 371.3L232.8 372.3L233.2 373.5L233.5 374.8L233.7 376.3L233.7 377.8L233.7 379.4L233.5 381L233.2 382.7L232.8 384.4L232.3 386.1L231.7 387.8L231 389.5L230.3 391L229.4 392.5L228.5 393.9L227.5 395.2L226.5 396.4" style="stroke-width:1.15"/><path class="t" d="M225.8 370.1L226.8 369.9L227.6 369.9L228.4 370.1L229.2 370.4L229.9 370.9L230.5 371.6L231 372.4L231.5 373.3L231.8 374.4L232.1 375.6L232.2 376.9L232.2 378.3L232.2 379.8L232 381.3L231.7 382.9L231.3 384.5L230.9 386.1L230.3 387.6L229.7 389.1L229 390.6L228.2 392L227.3 393.3L226.4 394.5L225.5 395.6" style="stroke-width:1.15"/><path class="t" d="M221.7 399.1L220.6 399.6L219.6 399.9L218.6 400L217.7 400L216.8 399.8L215.9 399.4L215.2 398.9L214.5 398.2L213.9 397.3L213.3 396.3L212.9 395.2L212.6 393.9L212.4 392.6L212.3 391.1L212.3 389.6L212.4 388L212.6 386.3L212.9 384.7L213.3 383L213.8 381.3L214.4 379.6L215.1 378L215.9 376.4L216.7 374.9" style="stroke-width:1.49"/>
<path class="p" d="M86.4 348L85.5 346.8L85.2 344.9L85.4 342.4L86.2 339.8L87.4 337.5L88.9 335.8L90.4 334.9L91.6 335L102.6 339L103.5 340.2L103.8 342.1L103.6 344.6L102.8 347.2L101.6 349.5L100.1 351.2L98.6 352.1L97.4 352Z" style="stroke-width:1.61"/><path class="n" d="M92.6 335.5L93.5 336.7L93.8 338.6L93.6 341.1L92.8 343.7L91.6 346L90.1 347.7L88.6 348.6L87.4 348.5" style="stroke-width:1.72"/><path class="n" d="M94.4 336.2L95.3 337.3L95.6 339.3L95.4 341.7L94.6 344.3L93.4 346.7L91.9 348.4L90.4 349.3L89.2 349.1" style="stroke-width:1.72"/><path class="n" d="M96.2 336.9L97.1 338L97.4 339.9L97.2 342.4L96.4 345L95.2 347.3L93.7 349.1L92.2 349.9L91 349.8" style="stroke-width:1.72"/><path class="n" d="M98 337.5L98.9 338.7L99.2 340.6L99 343L98.2 345.6L97 348L95.5 349.7L94 350.6L92.8 350.4" style="stroke-width:1.72"/><path class="n" d="M99.8 338.2L100.7 339.3L101 341.3L100.8 343.7L100 346.3L98.8 348.6L97.3 350.4L95.8 351.2L94.6 351.1" style="stroke-width:1.72"/><path class="n" d="M101.6 338.8L102.5 340L102.8 341.9L102.6 344.4L101.8 347L100.6 349.3L99.1 351L97.6 351.9L96.4 351.8" style="stroke-width:1.72"/><path class="p" d="M78 341.5 L82.5 337.5 L89.5 338 L91.5 343 L90.5 352.5 L86 357.5 L79.5 356.5 L77 350 Z" style="stroke-width:1.95"/><path class="n" d="M82.5 337.5 L82 347.5 L79.5 356.5 M82 347.5 L90.8 348" style="stroke-width:1.38"/><path class="p" d="M78 343.5 L72 345 Q67 346 66.3 351 Q66 357 70 359.8 Q73.5 361 76 358 L78.5 355 Z" style="stroke-width:1.95"/><path class="n" d="M74.7 346.2L75.6 347L76 348.7L75.9 350.8L75.3 353.2L74.3 355.4L72.9 357.2L71.6 358.1L70.3 358.2" style="stroke-width:1.38"/><path class="n" d="M77.6 344.8L78.5 345.7L79 347.4L78.9 349.6L78.3 352.1L77.2 354.4L75.8 356.2L74.4 357.1L73 357.2" style="stroke-width:1.38"/><ellipse class="n" cx="69.6" cy="353.4" rx="2.3" ry="4.4" transform="rotate(20 69.6 353.4)" style="stroke-width:1.49"/><ellipse class="k" cx="70" cy="353.6" rx="0.9" ry="1.8" transform="rotate(20 70 353.6)" />
<path class="n" d="M243.9 411.5L243.2 410.9L242.7 409.6L242.7 407.8L242.9 405.5L243.6 402.9L244.5 400.1L245.8 397.2L247.3 394.5L249 392L250.9 389.9L252.7 388.2L254.5 387.1L256.2 386.7L257.8 386.9L259 387.8L259.9 389.2L260.6 391.3L260.8 393.8L260.7 396.6L260.2 399.6L259.5 402.6L258.5 405.6L257.3 408.3L256 410.6L254.6 412.5L253.3 413.8L252.2 414.4L251.2 414.4L250.4 413.7L250 412.4L249.9 410.6L250.2 408.4L250.8 405.7L251.8 402.9L253.1 400.1L254.6 397.4L256.3 394.8L258.1 392.7L260 391.1L261.8 390L263.5 389.5L265 389.8L266.3 390.6L267.2 392.1L267.8 394.1L268.1 396.6L268 399.4L267.5 402.4L266.8 405.5L265.8 408.4L264.6 411.1L263.3 413.5L261.9 415.3L260.6 416.6L259.4 417.3L258.5 417.2L257.7 416.6L257.3 415.3L257.2 413.5L257.5 411.2L258.1 408.6L259.1 405.8L260.4 403L261.9 400.2L263.6 397.7L265.4 395.6L267.3 393.9L269.1 392.8L270.8 392.4L272.3 392.6L273.6 393.5L274.5 395L275.1 397L275.4 399.5L275.3 402.3L274.8 405.3L274.1 408.3L273.1 411.3L271.9 414L270.6 416.3L269.2 418.2L267.9 419.5L266.7 420.1L265.7 420.1L265 419.4L264.6 418.2L264.5 416.3L264.8 414.1L265.4 411.5L266.4 408.7L267.7 405.8L269.2 403.1L270.9 400.6L272.7 398.4L274.6 396.8L276.4 395.7L278.1 395.3L279.6 395.5L280.9 396.3L281.8 397.8L282.4 399.8L282.7 402.3L282.5 405.1L282.1 408.1L281.3 411.2L280.3 414.1L279.2 416.8L277.8 419.2L276.5 421L275.2 422.3L274 423L273 423L272.3 422.3L271.9 421L271.8 419.2L272.1 416.9L272.7 414.3L273.7 411.5L274.9 408.7L276.5 405.9L278.2 403.4L280 401.3L281.9 399.6L283.7 398.6L285.4 398.1L286.9 398.3L288.1 399.2L289.1 400.7L289.7 402.7L289.9 405.2L289.8 408L289.4 411L288.6 414L287.6 417L286.4 419.7L285.1 422L283.8 423.9L282.5 425.2L281.3 425.8L280.3 425.8L279.6 425.2L279.2 423.9L279.1 422.1L279.4 419.8L280 417.2L281 414.4L282.2 411.5L283.7 408.8L285.5 406.3L287.3 404.1L289.2 402.5L291 401.4L292.7 401L294.2 401.2L295.4 402L296.4 403.5L297 405.6L297.2 408L297.1 410.8L296.7 413.8L295.9 416.9L294.9 419.9L293.7 422.6L292.4 424.9L291.1 426.8L289.8 428L288.6 428.7L287.6 428.7L286.9 428L286.4 426.7L286.4 424.9L286.6 422.6L287.3 420L288.2 417.2L289.5 414.4L291 411.6L292.7 409.1L294.6 407L296.4 405.3L298.3 404.3L300 403.8L301.5 404L302.7 404.9L303.7 406.4L304.3 408.4L304.5 410.9L304.4 413.7L304 416.7L303.2 419.8L302.2 422.7L301 425.4L299.7 427.8L298.4 429.6L297.1 430.9L295.9 431.5L294.9 431.5L294.2 430.9L293.7 429.6L293.7 427.8L293.9 425.5L294.6 422.9L295.5 420.1L296.8 417.2L298.3 414.5L300 412L301.9 409.9L303.7 408.2L305.5 407.1L307.2 406.7L308.8 406.9L310 407.8L310.9 409.2L311.6 411.3L311.8 413.8L311.7 416.6L311.2 419.6L310.5 422.6L309.5 425.6L308.3 428.3L307 430.6L305.6 432.5L304.3 433.8L303.2 434.4L302.2 434.4L301.4 433.7L301 432.4L300.9 430.6L301.2 428.4L301.8 425.7L302.8 422.9L304.1 420.1L305.6 417.4L307.3 414.8L309.1 412.7L311 411.1L312.8 410L314.5 409.5L316 409.8L317.3 410.6L318.2 412.1L318.8 414.1L319.1 416.6L319 419.4L318.5 422.4L317.8 425.5L316.8 428.4L315.6 431.1L314.3 433.5L312.9 435.3L311.6 436.6L310.4 437.3L309.5 437.2L308.7 436.6L308.3 435.3L308.2 433.5L308.5 431.2L309.1 428.6L310.1 425.8L311.4 423L312.9 420.2L314.6 417.7L316.4 415.6L318.3 413.9L320.1 412.8L321.8 412.4L323.3 412.6L324.6 413.5L325.5 415L326.1 417L326.4 419.5L326.3 422.3L325.8 425.3L325.1 428.3L324.1 431.3L322.9 434L321.6 436.3L320.2 438.2L318.9 439.5L317.7 440.1L316.7 440.1L316 439.4L315.6 438.2L315.5 436.3L315.8 434.1L316.4 431.5L317.4 428.7L318.7 425.8L320.2 423.1L321.9 420.6L323.7 418.4L325.6 416.8L327.4 415.7L329.1 415.3L330.6 415.5L331.9 416.3L332.8 417.8L333.4 419.8L333.7 422.3L333.5 425.1L333.1 428.1L332.3 431.2L331.3 434.1L330.2 436.8L328.8 439.2L327.5 441L326.2 442.3L325 443L324 443L323.3 442.3L322.9 441L322.8 439.2L323.1 436.9L323.7 434.3L324.7 431.5L325.9 428.7L327.5 425.9L329.2 423.4L331 421.3L332.9 419.6L334.7 418.6L336.4 418.1L337.9 418.3L339.1 419.2L340.1 420.7L340.7 422.7L340.9 425.2L340.8 428L340.4 431L339.6 434L338.6 437L337.4 439.7L336.1 442L334.8 443.9L333.5 445.2L332.3 445.8L331.3 445.8L330.6 445.2L330.2 443.9L330.1 442.1L330.4 439.8L331 437.2L332 434.4L333.2 431.5L334.7 428.8L336.5 426.3L338.3 424.1L340.2 422.5L342 421.4L343.7 421L345.2 421.2L346.4 422L347.4 423.5L348 425.6L348.2 428L348.1 430.8L347.7 433.8L346.9 436.9L345.9 439.9L344.7 442.6L343.4 444.9L342.1 446.8L340.8 448L339.6 448.7L338.6 448.7L337.9 448L337.4 446.7L337.4 444.9L337.6 442.6L338.3 440L339.2 437.2L340.5 434.4L342 431.6L343.7 429.1L345.6 427L347.4 425.3L349.3 424.3L351 423.8L352.5 424L353.7 424.9L354.7 426.4L355.3 428.4L355.5 430.9L355.4 433.7L355 436.7L354.2 439.8L353.2 442.7L352 445.4L350.7 447.8L349.4 449.6L348.1 450.9L346.9 451.5L345.9 451.5" style="stroke-width:2.01"/>
<path class="p" d="M366.8 464.7L364.8 463.2L363.1 461.2L361.9 458.6L361.1 455.7L360.9 452.4L361.1 449L361.8 445.5L363 442.1L364.7 438.9L366.7 436.1L369 433.7L371.4 431.8L374 430.6L376.6 430L379.1 430.2L381.4 430.9L386.9 432.9L388.9 434.4L390.6 436.4L391.8 439L392.6 441.9L392.8 445.2L392.6 448.6L391.9 452.1L390.7 455.5L389 458.7L387 461.5L384.7 463.9L382.3 465.8L379.7 467L377.1 467.6L374.6 467.4L372.3 466.7Z" style="stroke-width:2.53"/><clipPath id="c12"><path d="M366.8 464.7L364.8 463.2L363.1 461.2L361.9 458.6L361.1 455.7L360.9 452.4L361.1 449L361.8 445.5L363 442.1L364.7 438.9L366.7 436.1L369 433.7L371.4 431.8L374 430.6L376.6 430L379.1 430.2L381.4 430.9L386.9 432.9L388.9 434.4L390.6 436.4L391.8 439L392.6 441.9L392.8 445.2L392.6 448.6L391.9 452.1L390.7 455.5L389 458.7L387 461.5L384.7 463.9L382.3 465.8L379.7 467L377.1 467.6L374.6 467.4L372.3 466.7Z"/></clipPath><path clip-path="url(#c12)" class="d" stroke-width="1" style="stroke:#111" d="M362.8 438.5h.01M370.9 466h.01M377.9 458.8h.01M363.6 450.4h.01M390.4 450.9h.01M394 465.3h.01M373.4 430h.01M387.2 435.1h.01M360.3 459.2h.01M390.3 463.5h.01M394.3 438.1h.01M362.9 434.8h.01M395.2 434.5h.01M365.7 430.8h.01M361.8 431.5h.01M372.7 436.5h.01M371.1 467.2h.01M366 462.6h.01M386.6 452.7h.01M380.7 460.8h.01M381.1 439.2h.01M371.9 439.8h.01M374.4 469.5h.01M375.4 432.8h.01M377.2 462.5h.01M376 458.1h.01M363.3 432.5h.01M383.8 431.9h.01M370.9 445.4h.01M367 431.5h.01M360.2 468.1h.01M384.8 468.1h.01M377.7 468.2h.01M391.1 454.7h.01M378.9 450.3h.01M368.1 445h.01M386 437.8h.01M390.6 450.4h.01M381.8 462.9h.01M383.3 435.5h.01M368.9 430h.01M361 468.1h.01M381.3 468.8h.01M388.1 442.6h.01M394.8 466.9h.01M376.4 433.3h.01M371.5 436.7h.01M373.2 433.3h.01M385.7 469.2h.01M367.6 461.2h.01M381 449.3h.01M392.7 445.1h.01M389.6 431.4h.01M394.8 437.3h.01M360.1 465.3h.01M386 457h.01M387.6 445.1h.01M364.1 442.7h.01M394.3 469.3h.01M368.3 447.7h.01M376.2 466.2h.01M360.2 463.2h.01M369.1 452h.01M364.6 433.4h.01M391.8 450.1h.01M395 464.6h.01M387.1 433h.01M381.2 469.7h.01M378.1 432.6h.01M366.6 469.5h.01M395.2 439.9h.01M371.5 458.6h.01M378.3 437.4h.01M395.4 454.8h.01M373.1 430.9h.01M378.4 460.1h.01M366.4 433.5h.01M386.1 466.8h.01M373.6 448.9h.01M382.9 450.8h.01M364.6 441h.01M367.4 437.9h.01M363.2 445.6h.01M367.9 463.9h.01M371.6 468.5h.01M389.2 440.8h.01M365.5 452.9h.01M377.1 451.4h.01M364.4 451.2h.01M387.3 447.8h.01M369.2 466.9h.01M370.7 469.8h.01M384.8 430.1h.01M376.1 436h.01M388.3 446.8h.01M363.1 468.1h.01M388.8 454.3h.01M380.4 433h.01M395.4 442.1h.01M378.9 449.6h.01M377 430.7h.01M392.2 449.7h.01M374.2 464.4h.01M391 458.8h.01M392.7 444h.01M363.8 443.9h.01M381.7 461.5h.01M386.4 455.2h.01M381.6 456.6h.01M380.7 430.6h.01M379.7 441h.01M362.6 454.5h.01M390.3 441.3h.01M384.1 455h.01M384.5 464.9h.01M385 433.2h.01M382.2 443.9h.01M375 457h.01M366.3 455.1h.01M393.8 433.1h.01M390.7 458.3h.01M374.6 460.6h.01M362.9 436.4h.01M395.9 454.9h.01M366 435.2h.01M376.1 451.9h.01M395.6 437.4h.01M382.9 447.6h.01M380.1 467.7h.01M364.3 463.4h.01M386.3 440.7h.01M364.3 459.9h.01M390.7 443.8h.01M365 452.2h.01M384.1 444.3h.01M374.8 434.1h.01M365.1 438.9h.01M387.3 434.9h.01M367.1 448.6h.01M367.6 439.6h.01M386.5 439.4h.01M380.2 433.4h.01M378.6 457.9h.01M376.1 437.6h.01M361.1 441h.01M374.7 434h.01M375.3 450.3h.01M362.3 456.6h.01M394.4 458.1h.01M376.2 463.3h.01M394 468h.01M394.3 460.6h.01M394 460.5h.01M371.7 435.4h.01M377.5 458.1h.01M369.7 444.4h.01M363 431.6h.01M369.3 463.9h.01M362.2 436h.01M374.4 468.7h.01M367.8 431.7h.01M361.8 443.8h.01M360.2 456.8h.01M362.2 437.6h.01M362.8 440.8h.01M363.2 436.6h.01M367 439.3h.01M382.8 444.8h.01M367.5 430.5h.01M391.2 464.2h.01M394.1 458.4h.01M375.6 443.1h.01M367 447.6h.01M375.1 467.5h.01M367.2 458h.01M386.3 456.3h.01M382.1 431.7h.01M365.3 450.7h.01M381.7 468.5h.01M388.3 438.7h.01M365.3 460.9h.01M360.4 466.5h.01M363.1 454h.01M390.4 433.4h.01M363.7 455.3h.01M385.9 430.4h.01M376.9 461.8h.01M387.9 445.7h.01M360.3 454.7h.01M379.3 446.9h.01M381.5 453.4h.01M377.3 452h.01M380.2 460.9h.01M388.5 430.9h.01M388.2 439.7h.01M375.2 438.7h.01M371.1 445.9h.01M376.3 434.2h.01M370.6 448.3h.01M373.9 451.2h.01M362.5 452.3h.01M392.6 459.6h.01M380.1 462.2h.01M373.7 437.1h.01M382 439.8h.01M369.8 460.8h.01M378.3 437h.01M367.8 459.4h.01M383.4 465.9h.01M386.6 441.4h.01M385.3 465.3h.01M391.7 466.5h.01M365.2 440h.01M366.2 462.7h.01M385 452.3h.01M367.1 446.5h.01M384.9 431.3h.01M392.1 458.2h.01M392.2 467.9h.01M378.6 442h.01M373.7 449.5h.01M381.8 441h.01M370.4 450.5h.01M386.6 430.6h.01M392.5 456h.01M378 452.2h.01M389.6 447.2h.01M371.7 433.6h.01M372 432.4h.01M369.2 455.7h.01M372.9 466.4h.01M376.9 463.4h.01M367.5 469.1h.01M390.7 466.2h.01M389 450.7h.01M365.6 463.7h.01M394.4 448.3h.01M387.6 455h.01M387.7 466.3h.01M383.4 435.8h.01M375.8 451.7h.01M368.1 458.2h.01M371.8 433.5h.01M372.9 459.4h.01M382.9 443h.01M375.1 457.6h.01M390.6 434.3h.01M367.1 446.5h.01M367.9 437.2h.01M370.9 435.7h.01M361.3 447.1h.01M375.7 454.7h.01M393.5 467.6h.01M377.2 441.2h.01M382.2 447.7h.01M381.3 467.1h.01M387.3 469.5h.01M389.2 460.6h.01M395.8 459.5h.01M386.9 456.9h.01"/><ellipse class="p" cx="379.8" cy="449.9" rx="12.2" ry="18.2" transform="rotate(20 379.8 449.9)" style="stroke-width:2.30"/><ellipse class="p" cx="381.2" cy="451.4" rx="8" ry="12.2" transform="rotate(20 381.2 451.4)" style="stroke-width:2.76"/><path class="t" d="M385.4 440.2L386.2 440.9L387 441.8L387.6 442.8L388 444L388.4 445.3L388.6 446.7L388.6 448.1L388.5 449.7L388.2 451.2L387.9 452.7L387.3 454.2L386.7 455.7L385.9 457.1L385 458.3L384.1 459.5L383.1 460.5L382 461.3L380.9 462L379.8 462.4L378.7 462.7L377.6 462.8L376.5 462.7L375.5 462.3L374.6 461.8" style="stroke-width:1.38"/><clipPath id="c13"><path d="M387.8 453.8L387.1 455.4L386.3 456.9L385.4 458.2L384.3 459.4L383.2 460.4L382 461.2L380.8 461.7L379.7 462L378.5 462L377.4 461.7L376.5 461.2L375.6 460.5L374.9 459.5L374.3 458.4L373.9 457L373.7 455.5L373.6 454L373.8 452.3L374.1 450.7L374.6 449L375.3 447.4L376.1 445.9L377 444.6L378.1 443.4L379.2 442.4L380.4 441.6L381.6 441.1L382.7 440.8L383.9 440.8L385 441.1L385.9 441.6L386.8 442.3L387.5 443.3L388.1 444.4L388.5 445.8L388.7 447.3L388.8 448.8L388.6 450.5L388.3 452.1L387.8 453.8Z"/></clipPath><path clip-path="url(#c13)" class="d" stroke-width="1" style="stroke:#111" d="M381.7 455h.01M387.6 444.3h.01M383.6 462.7h.01M389.8 441.6h.01M383.6 454.5h.01M380.1 465h.01M380.7 449.4h.01M390.6 455.1h.01M375.2 445.3h.01M379.9 437.6h.01M382.6 458.1h.01M378.2 461.4h.01M390.3 452.7h.01M384.4 439.5h.01M369.3 465.4h.01M374.8 442.4h.01M389.5 458.5h.01M371 445.7h.01M373.8 444.2h.01M368.2 451.7h.01M375.3 447.8h.01M372.5 439.3h.01M368.8 462.2h.01M385.9 452.8h.01M371 440.5h.01M370.9 445.5h.01M369.4 444.3h.01M372.9 441.8h.01M383.7 449.7h.01M379.4 446.7h.01M380.9 459.6h.01M375.4 438.1h.01M379.5 447.4h.01M386.7 439.3h.01M388.9 436.4h.01M381 449.3h.01M375.6 462.7h.01M384.9 440.9h.01M379.9 454.4h.01M368.8 438.6h.01M382.4 457.9h.01M379.1 448.7h.01M380.2 443.8h.01M389 464.9h.01M379.6 436.6h.01"/><path class="n" d="M364.5 460 Q370 469.5 380 468.5" style="stroke-width:3.45"/>
<path class="p" d="M410 452.6 Q402 451.5 398.5 458 Q396.5 465 399.5 472.5 Q403 478.5 410 478 Z" style="stroke-width:1.95"/><path class="p" d="M401.9 483.5L400.5 482.2L399.5 480.2L399 477.5L398.9 474.3L399.4 470.7L400.2 467L401.5 463.3L403.2 459.9L405.1 456.8L407.2 454.2L409.3 452.4L411.4 451.2L413.4 450.9L415.1 451.5L420.6 453.5L422 454.8L423 456.8L423.5 459.5L423.6 462.7L423.1 466.3L422.3 470L421 473.7L419.3 477.1L417.4 480.2L415.3 482.8L413.2 484.6L411.1 485.8L409.1 486.1L407.4 485.5Z" style="stroke-width:1.95"/><path class="p" d="M408.7 482.7L407.5 481.5L406.6 479.7L406.2 477.3L406.1 474.5L406.5 471.4L407.3 468.1L408.4 464.9L409.9 461.8L411.5 459.1L413.4 456.8L415.3 455.1L417.1 454.1L418.8 453.8L420.3 454.3L423.8 455.6L425 456.8L425.9 458.6L426.3 461L426.4 463.8L426 466.9L425.2 470.2L424.1 473.4L422.6 476.5L421 479.2L419.1 481.5L417.2 483.2L415.4 484.2L413.7 484.5L412.2 484Z" style="stroke-width:1.72"/><path class="p" d="M411.5 487.8L410 486.3L408.9 484.1L408.3 481.2L408.2 477.8L408.7 474L409.6 470.1L411 466.1L412.8 462.4L414.8 459.1L417 456.4L419.3 454.4L421.6 453.2L423.7 452.9L425.5 453.4L449.4 459.2L451.5 460.9L453.1 463.4L454.1 466.5L454.6 470.2L454.3 474.3L453.5 478.4L452.1 482.5L450.1 486.4L447.8 489.7L445.1 492.4L442.3 494.4L439.4 495.5L436.7 495.6L434.2 494.8Z" style="stroke-width:2.07"/><path class="n" d="M414.5 488.8L413 487.3L411.9 485.1L411.3 482.2L411.2 478.8L411.7 475L412.6 471.1L414 467.1L415.8 463.4L417.8 460.1L420 457.4L422.3 455.4L424.6 454.2L426.7 453.9L428.5 454.4" style="stroke-width:1.49"/><ellipse class="p" cx="441.8" cy="477" rx="11.4" ry="19.2" transform="rotate(20 441.8 477)" style="stroke-width:2.07"/><ellipse class="p" cx="441.8" cy="479.4" rx="5.8" ry="9.6" transform="rotate(20 441.8 479.4)" style="stroke-width:2.30"/><path class="t" d="M445 470.5L445.6 471L446.1 471.7L446.5 472.5L446.8 473.4L447 474.4L447.1 475.5L447.2 476.6L447 477.8L446.8 479L446.5 480.2L446.1 481.4L445.6 482.5L445 483.6L444.4 484.6L443.6 485.5L442.9 486.3L442.1 487L441.2 487.5L440.4 487.9L439.6 488.2L438.8 488.2L438 488.2L437.3 487.9L436.6 487.5" style="stroke-width:1.38"/>
<path class="n" d="M472 474.7L473.7 474.2L475.4 474.1L477 474.3L478.5 474.9L479.9 475.8L481.1 477L482.1 478.5L482.9 480.3L483.5 482.3L483.8 484.5L483.9 486.9L483.7 489.3L483.3 491.9L482.6 494.4L481.7 496.8L480.7 499.2L479.4 501.5L478 503.5L476.4 505.3L474.8 506.9L473.1 508.1L471.3 509.1L469.6 509.7L467.9 509.9L466.2 509.8L464.7 509.3L463.3 508.5L462 507.4L461 506L460.1 504.3L459.5 502.3L459.1 500.1L458.9 497.8L459 495.4L459.4 492.9L460 490.4L460.8 487.9L461.8 485.5L463 483.2L464.4 481.1" style="stroke-width:5.98"/><path class="n" d="M472 474.7L473.7 474.2L475.4 474.1L477 474.3L478.5 474.9L479.9 475.8L481.1 477L482.1 478.5L482.9 480.3L483.5 482.3L483.8 484.5L483.9 486.9L483.7 489.3L483.3 491.9L482.6 494.4L481.7 496.8L480.7 499.2L479.4 501.5L478 503.5L476.4 505.3L474.8 506.9L473.1 508.1L471.3 509.1L469.6 509.7L467.9 509.9L466.2 509.8L464.7 509.3L463.3 508.5L462 507.4L461 506L460.1 504.3L459.5 502.3L459.1 500.1L458.9 497.8L459 495.4L459.4 492.9L460 490.4L460.8 487.9L461.8 485.5L463 483.2L464.4 481.1" style="stroke-width:2.53;stroke:#fcfdfc"/>
<path class="p" d="M495 534.7L493.1 533.3L491.5 531.2L490.3 528.7L489.4 525.7L489 522.2L488.9 518.5L489.3 514.5L490 510.4L491.2 506.3L492.6 502.3L494.5 498.4L496.5 494.8L498.8 491.6L501.3 488.8L503.9 486.6L506.5 484.9L509 483.8L511.5 483.3L513.9 483.5L516 484.3L532.2 488.2L534.2 489.7L535.8 491.7L537.1 494.3L538 497.4L538.5 500.9L538.5 504.6L538.2 508.6L537.5 512.8L536.3 516.9L534.8 521L533 524.9L530.9 528.5L528.6 531.7L526 534.5L523.4 536.8L520.8 538.5L518.1 539.6L515.6 540L513.2 539.8L511 539Z" style="stroke-width:2.76"/><clipPath id="c14"><path d="M495 534.7L493.1 533.3L491.5 531.2L490.3 528.7L489.4 525.7L489 522.2L488.9 518.5L489.3 514.5L490 510.4L491.2 506.3L492.6 502.3L494.5 498.4L496.5 494.8L498.8 491.6L501.3 488.8L503.9 486.6L506.5 484.9L509 483.8L511.5 483.3L513.9 483.5L516 484.3L532.2 488.2L534.2 489.7L535.8 491.7L537.1 494.3L538 497.4L538.5 500.9L538.5 504.6L538.2 508.6L537.5 512.8L536.3 516.9L534.8 521L533 524.9L530.9 528.5L528.6 531.7L526 534.5L523.4 536.8L520.8 538.5L518.1 539.6L515.6 540L513.2 539.8L511 539Z"/></clipPath><path clip-path="url(#c14)" class="d" stroke-width="1.2" style="stroke:#111" d="M516.5 501.4h.01M531.9 497.9h.01M514.5 501.3h.01M509.6 540.4h.01M493.4 507.6h.01M499.7 501.7h.01M539.9 500.4h.01M519.6 506h.01M526 507.7h.01M496.9 506.9h.01M509.2 529.1h.01M517.3 492.2h.01M523 498.5h.01M514.6 493.6h.01M509.4 528.7h.01M514.8 526.6h.01M527.4 516.4h.01M521.5 504.6h.01M520.1 528.2h.01M493.2 538.1h.01M507.1 488.6h.01M495.8 501.1h.01M491.6 504.7h.01M509.6 520.6h.01M512.3 538h.01M522.3 499.9h.01M533.5 523.3h.01M538.3 525.5h.01M538.2 492.7h.01M502.5 540.3h.01M489.1 537.3h.01M535.3 488.4h.01M495.8 536.8h.01M537.9 533.9h.01M525.7 527.1h.01M504 480.5h.01M520.6 534.7h.01M537.3 511.9h.01M488.4 490.8h.01M511.4 494.3h.01M489.4 491.9h.01M514 487.9h.01M493.9 490.3h.01M489.8 528.6h.01M533 492.5h.01M521 534.3h.01M500.7 500.7h.01M533.8 527.2h.01M520.3 529.2h.01M517.8 499.5h.01M523.6 528.6h.01M490.9 500h.01M503.3 535h.01M503 521.8h.01M510.6 503.5h.01M514 535.5h.01M522.2 504.1h.01M495.8 501.4h.01M512.5 520.1h.01M539.9 500.1h.01M536.9 536.5h.01M511 493.8h.01M500.2 537.1h.01M497 520.2h.01M521.9 490.4h.01M489.6 519.6h.01M490.8 514h.01M538.5 508.7h.01M504.2 486.6h.01M503.7 499.9h.01M494.1 523.6h.01M519.3 524.5h.01M493.6 495.5h.01M536.1 480.5h.01M507.2 530.7h.01M499.9 493.6h.01M521.1 495.6h.01M505.5 504.3h.01M503.5 520.9h.01M526.2 527.2h.01M539 484.5h.01M501.3 541.2h.01M529.5 527.1h.01M499.6 488h.01M502.3 535.4h.01M527 502.8h.01M522.3 525.6h.01M502.9 486.6h.01M530.2 523.9h.01M530 526.1h.01M507 520.6h.01M507.1 536h.01M494.4 523.2h.01M506 536.4h.01M529.8 490.8h.01M488.8 494.5h.01M538 527.6h.01M524.7 493h.01M499 507.6h.01M515.7 518.2h.01M491.1 532.3h.01M500.7 524.3h.01M504.5 498.4h.01M533.3 493.4h.01M514.2 534.3h.01M531.1 524.5h.01M500.6 518.9h.01M512.6 498.9h.01M528.1 521.8h.01M534.5 506.3h.01M495.5 496.8h.01M526.5 523.6h.01M521.4 504.6h.01M518.1 484.3h.01M492.7 529.9h.01M493.8 518.6h.01M503.6 490.6h.01M528.8 534.8h.01M504.5 489.4h.01M512 487h.01M537.9 481.5h.01M514.5 490.1h.01M488.1 541.8h.01M523.4 523.8h.01M528 528.8h.01M519.7 521.2h.01M504.4 486.4h.01M525.8 525.6h.01M526.4 520.1h.01M492.4 520.1h.01M492.5 534h.01M488.5 496.4h.01M515.7 533.9h.01M522.2 488.1h.01M525.7 492.9h.01M505.4 502.3h.01M529.5 493h.01M504.8 497.4h.01M500.6 493.4h.01M508 491.1h.01M501.4 487.4h.01M518.2 523.2h.01M500.3 507.7h.01M519.2 540.6h.01M538.2 486.9h.01M537.1 530h.01M499.7 492.3h.01M514.1 497.6h.01M504.2 505.3h.01M516.2 513.5h.01M489.9 506.3h.01M499.6 536.8h.01M495.5 488.1h.01M506.4 495.5h.01M530.9 482.4h.01M536.3 517.6h.01M526.5 496h.01M514.8 493.6h.01M527.6 513.6h.01M501.5 499.3h.01M488.9 485.4h.01M518.7 542h.01M534.9 500.6h.01M506 520.2h.01M513.4 529.1h.01M498.4 503.7h.01M537 497.8h.01M523.7 507.7h.01M513.8 531.6h.01M538.5 515.3h.01M539.6 496.7h.01M504.8 501.6h.01M505.7 541.2h.01M495.9 532.8h.01M525.2 517.9h.01M513.3 532.7h.01M489.4 537.8h.01M507.1 494.6h.01M488 529.1h.01M489.4 531.5h.01M499.9 540.6h.01M519.8 541.1h.01M490.5 501.1h.01M539.9 482.3h.01M503.8 502.2h.01M512.9 522h.01M507.9 502.7h.01M505.3 503.3h.01M523.8 535h.01M516.6 497.3h.01M538.3 497.6h.01M524.3 525.9h.01M514.4 496.9h.01M505 525h.01M538.3 537h.01M511.4 519.4h.01M512.1 496h.01M531.8 518.1h.01M505.1 488.7h.01M523.8 481.3h.01M528.3 482.9h.01M533.8 484h.01M490.3 536.1h.01M522.4 508.8h.01M500.6 524.9h.01M496 537.4h.01M528.3 527.7h.01M539.1 540.1h.01M534.1 480.9h.01M506.3 487.6h.01M509.9 533h.01M531 515.2h.01M504.8 483.7h.01M522.6 499.6h.01M509.7 482.2h.01M531 489.4h.01M498.2 508.2h.01M494.7 504h.01M534.7 512h.01M488.7 511.7h.01M524.8 536.4h.01M522.6 541.4h.01M527.1 514.8h.01M528.3 538.4h.01M534.7 491.8h.01M535.9 513.4h.01M527.3 523h.01M496 513.2h.01M489.2 511.6h.01M499 483.7h.01M516 513.5h.01M490.9 521.2h.01M537.7 515h.01M504.9 510.2h.01M507.2 513h.01M526.7 526.6h.01M501.2 539.9h.01M539.2 506.3h.01M510.4 500.3h.01M489.7 522.8h.01M524.9 505.7h.01M502 519.3h.01M489.9 510h.01M502 492.4h.01M529.4 534.5h.01M505.5 527.3h.01M495.6 534h.01M517.9 534.9h.01M537.5 507.4h.01M517.8 534.2h.01M519 526h.01M504.8 502.1h.01M509.6 497.8h.01M491.1 505h.01M491.7 526h.01M488.5 517.9h.01M493.5 499.2h.01M520.6 512h.01M533.1 497h.01M492.2 518.4h.01M517.4 485.1h.01M499.5 502.5h.01M518.5 502.9h.01M498.5 522.1h.01M520.3 521h.01M526.2 496.2h.01M508.8 497.3h.01M525.1 483h.01M513.6 489.2h.01M500.6 503.7h.01M519.2 525.6h.01M520.3 496.4h.01M522.1 481.8h.01M498 537h.01M488.1 492.3h.01M488.1 508.1h.01M519.4 537.2h.01M498.2 521.4h.01M490.3 490.8h.01M499.2 503.4h.01M522.6 502.4h.01M493.4 528.1h.01M525.8 505.5h.01M500.3 521.8h.01M505.9 519.2h.01M498.8 493.4h.01M533.1 482.7h.01M501.3 495.1h.01M538.7 517.2h.01M502.1 506.2h.01M510.4 496.3h.01M513.8 493h.01M522.1 504.3h.01M509.2 493.6h.01M531.1 507h.01M513.4 518.9h.01M506.1 506.8h.01M530.2 489.8h.01M517.3 521.4h.01M522.8 498.2h.01M525.3 528.8h.01M490.9 538.6h.01M531.9 494.3h.01M498.5 527.5h.01M536.5 508.7h.01M509.8 482.7h.01M493.1 526.7h.01M518.3 481.6h.01M504.5 521.4h.01M505.5 522.8h.01M524.3 486.2h.01M491.1 540.9h.01M537.5 512.1h.01M515.4 534.8h.01M508.9 489.6h.01M527.6 514.3h.01M497.7 485.6h.01M529 519.2h.01M500.5 507.3h.01M539.9 488.9h.01M509.6 527.3h.01M527.3 537.1h.01M511.7 514h.01M534.6 528.5h.01M502.4 509.1h.01M504.5 526.7h.01M536.2 483.1h.01M532 491.9h.01M537.7 500.5h.01M517.6 521.2h.01M524.9 537.6h.01M526.9 531.1h.01M497.3 517.5h.01M509 485.4h.01M488.3 540.2h.01M495.1 524h.01M537.4 531.1h.01M498.9 523.5h.01M495 505h.01M492 482.8h.01M490.4 532h.01M493.3 515.2h.01M523.6 525.9h.01M539.1 489h.01M490.1 513.1h.01M534.2 498.6h.01M536.2 515.1h.01M514.9 510.4h.01M538.7 500.1h.01M497.7 480.8h.01M503.6 508.2h.01M517.6 540.4h.01M514.5 486.2h.01M526.4 533.4h.01M528.8 527.2h.01M535.8 499.8h.01M525.5 533.6h.01M524.8 519.6h.01M498.3 504.9h.01M490.8 526.3h.01M528.5 480.3h.01M496.3 540.5h.01M521 538.9h.01M490.8 498.5h.01M496.4 527.7h.01M496.5 507.2h.01M513.6 503.3h.01M510.1 531.8h.01M496.8 508h.01M514 524.2h.01M540 507.4h.01M535 532.7h.01M531.4 495.2h.01M516.3 524.9h.01M532.3 532.9h.01M525 500.1h.01M512 483.1h.01M510.6 483.5h.01M513 505.1h.01M522.4 488.4h.01M523.1 531.3h.01M493.9 528.1h.01M511.8 540.4h.01M500 535.5h.01M525.6 481.4h.01M504.9 539.8h.01M532.8 505.7h.01M488.3 482.8h.01M497.3 497.6h.01M494.8 506h.01M515.7 523.5h.01M513.9 483.9h.01M530 523.7h.01M488.3 512.2h.01M516.2 508.1h.01M521.2 508h.01M518.9 501.4h.01M534.6 480h.01M516.8 492.8h.01M516 487.2h.01M491.7 531.6h.01M501.3 494.1h.01M502.4 516.1h.01M489 502.7h.01M521.1 511h.01M513.4 489.2h.01M516.3 534.6h.01M514.7 495.1h.01M527.7 482.1h.01M506.8 527.1h.01M513.9 487.3h.01M539.4 487.6h.01M517.1 526.1h.01M510.4 525.8h.01M539.4 506.4h.01M515.3 484.5h.01M529.9 487.6h.01M517.7 530.1h.01M500.5 518.6h.01M494.6 489.6h.01M501.6 540.4h.01M490.7 528.7h.01M533.7 535.5h.01M492.4 512.2h.01M516.5 490.6h.01M506 480.7h.01M526.7 480.4h.01M516.2 531.6h.01M529.2 492.1h.01M501.2 503.3h.01M509.8 489.1h.01M502.9 492.3h.01M501.6 520.6h.01M507.8 505.8h.01M509 513.9h.01M536 499.2h.01M518.6 523.2h.01M495.8 508.1h.01M507 521.9h.01M490.6 537.1h.01M534.1 538.9h.01M534.1 501.7h.01M530.4 529.9h.01M526 525.7h.01M504.8 535.4h.01M529.1 487.7h.01M505.4 521.4h.01M493.1 508.6h.01M525.2 511.3h.01M519.4 512.6h.01M517 515.8h.01M532.8 521h.01M511 499.3h.01M501.8 488.3h.01M534.4 507.6h.01M496.8 512.7h.01M531.5 489.6h.01M507.7 522.2h.01M490 537.7h.01M539.5 500.6h.01M513.6 481.5h.01M511 538h.01M533.1 514.8h.01M517.4 529.8h.01M518.7 522.3h.01M508 482.9h.01M525.5 497.3h.01M509.8 484.8h.01M525 518.8h.01M488.8 510.9h.01M499 515.1h.01M514.6 489.2h.01M498.9 486.3h.01M510.3 489h.01M505.4 532.7h.01M495.7 530.2h.01M497.8 526h.01M518.4 525.5h.01M519.5 516h.01M505.6 541h.01M517.4 489.4h.01M489.7 528.2h.01M498.9 480.4h.01M520.1 527.6h.01M518.2 508h.01M533 513h.01M498.5 491.6h.01M513.1 486h.01M531.4 484.3h.01M498.6 504.9h.01M517.3 512h.01M515 483.2h.01M508.1 509.4h.01M522.4 502.5h.01M518.9 495.2h.01M532.6 512.3h.01M492.4 493.8h.01M510.1 509.4h.01M498.5 531.7h.01M508.7 500.6h.01M539.5 525.2h.01M494.8 483.3h.01M505.4 530h.01M523.3 521.6h.01M514 517.3h.01M494.4 496.4h.01M508.7 492.1h.01M533.9 540.7h.01M515 500.9h.01M525.8 491.1h.01M505.7 498.8h.01M508.5 492.3h.01M526.3 521.2h.01M522.7 482.2h.01M517.6 529.2h.01M514.5 524.1h.01M520.7 537.6h.01M502.4 534.8h.01M534.7 490.3h.01M521.6 520.7h.01M494.5 514.7h.01M517.2 500.7h.01M491.2 511.5h.01M536.5 503h.01M514.7 537.8h.01M536 491.8h.01M518.2 539h.01M534.3 483.4h.01M537.8 494.4h.01M492.6 512.6h.01M536.9 486.7h.01M521.6 515.3h.01M512.4 486.4h.01M496.9 508.3h.01M528.4 488.4h.01M507.8 519h.01M533 491.8h.01M494.7 522.6h.01M536.1 522.5h.01M527.8 495.8h.01M522.9 539h.01M504.8 526.8h.01M494.1 523h.01M540 491.1h.01M528.5 528.4h.01M510.9 499.8h.01M503.6 481.9h.01M538.2 500h.01M535.6 519.5h.01M518.2 485.8h.01M519.4 528.5h.01M513.4 486.7h.01M506.5 532.3h.01M498.9 483.8h.01M497.6 513.3h.01M522.5 495.9h.01M490.6 488.7h.01M539.3 538.8h.01M492.5 519.6h.01M508.4 515.4h.01M534 535.3h.01M500.6 530.7h.01M520.7 492.9h.01M513.6 486.3h.01M525.3 504.2h.01M534 484.8h.01M506.4 529.1h.01M496.9 529.3h.01M539.1 533.5h.01M527.6 483.3h.01M496.8 484.7h.01M498.9 537.4h.01M537.5 539.7h.01M515.4 541.7h.01M530.5 521.3h.01M488.9 541.8h.01M519.5 537.1h.01M538.1 531.1h.01M516.7 537.6h.01M494.6 530.8h.01M526.7 520h.01M528.4 480.2h.01M501.9 501.5h.01M529.9 510.6h.01M529.1 481.4h.01M501.5 504.6h.01M525.4 496.8h.01M505.4 539.7h.01M498.8 480.8h.01M531.4 496.6h.01M533.8 485.1h.01M491.2 491.3h.01M502 518.6h.01M539.8 540.2h.01M533.1 486.4h.01M498.8 501.3h.01M530.2 504.6h.01M489 538.1h.01M491.5 514h.01M516.4 502.1h.01M493.8 522.8h.01M532.8 530.7h.01M533.9 486.1h.01M524 494.4h.01M525.1 519.4h.01M528.8 487.9h.01M492.3 535.8h.01M533.6 540.6h.01M498.9 517.5h.01M496.2 534.7h.01M522.9 499.6h.01M508.6 481.3h.01M507.7 521.2h.01M524.1 485.2h.01M504.1 523.1h.01M522.9 493.6h.01M506.1 491.6h.01M509 504h.01M510.5 537.2h.01M528.4 485.7h.01M524.3 497.7h.01M492.9 495.5h.01M501.5 498.5h.01M497.3 483h.01M519.2 500.9h.01M536 535.6h.01M510.2 526.1h.01M495.8 541.3h.01M498.1 506.2h.01M522.1 518.1h.01M492 489.1h.01M536.2 483.8h.01M536.7 518.5h.01M493.4 516h.01M492.3 497.4h.01M532.4 509.4h.01M537.6 527.6h.01M510 481.9h.01M536.8 540.1h.01M530.3 503.6h.01M496 490.8h.01M532.8 485.9h.01M509.7 495.2h.01M527.6 505.5h.01M525.2 502.6h.01M497.5 504.8h.01M537.7 509.2h.01M509.3 520.8h.01M526.2 515.1h.01M504.6 541.2h.01M531.8 526h.01M511.9 521.9h.01M505.1 520.1h.01M538.7 535.1h.01M521.4 532.5h.01M504.6 529.2h.01M537.6 529.6h.01M525.3 494.7h.01M530.2 500.6h.01M531.5 497.1h.01M536.7 486.6h.01M515.3 513.7h.01M505.1 500.4h.01M501.1 534.3h.01M506.8 537.9h.01M515.3 536.5h.01M528.9 507.7h.01M526 514.6h.01M511.9 502.4h.01M532.6 512.7h.01M494.4 523.7h.01M516 521.7h.01M535.3 494h.01M493.7 533.2h.01M499.9 534.3h.01M498.9 485.4h.01M505.5 492.5h.01M505.5 512.8h.01M533.4 496h.01M488.4 524.3h.01M534.6 487.6h.01M516.6 523.8h.01M535.6 507.5h.01M511.1 540.3h.01M509.9 498.3h.01M529.5 532.2h.01M500.2 511.4h.01M504.8 515.1h.01M489.5 523.6h.01M532.3 503.7h.01M490.3 498.2h.01M534.7 484.5h.01M527.7 487.3h.01M521.2 485h.01M502.5 539.2h.01M491.2 492.5h.01M498 531.1h.01M512.7 510.6h.01M506.3 535.5h.01M528.4 534.4h.01M529.5 530.1h.01M496.5 507.7h.01M505.5 516.7h.01M490.8 534.3h.01M534.8 517.7h.01M518.4 516.4h.01M491.4 528.9h.01M489.9 541.6h.01M492.2 534.5h.01M512.7 484.4h.01M494.7 506.8h.01M492.5 495.1h.01M511.3 538.7h.01M496.3 514.3h.01M528.3 492h.01M522.1 504.6h.01M525.7 507.7h.01M532.9 519h.01M523.1 506.4h.01M517.8 492.9h.01M513.7 532.1h.01M524 485.6h.01M521 499.9h.01M507 521.7h.01M520.4 498.4h.01M511.6 484h.01M501.4 526.3h.01M538.1 519.8h.01M509.9 536.2h.01M521.7 489.5h.01M491.7 510.1h.01M508.3 490.1h.01M523.6 532h.01M490.5 505.2h.01M522.4 541.3h.01M530.2 504.9h.01M514 488.7h.01M523 488.8h.01M527.1 493.7h.01M527.4 521.6h.01M535.5 481.9h.01M511.7 512.1h.01M500.2 539.2h.01M525.7 521h.01M532.5 481.1h.01M528 540h.01M539.1 541.1h.01M520.5 486.6h.01M508.1 497h.01M524.8 493.2h.01M498.9 537.1h.01M514.9 499.9h.01M500.9 481.7h.01M534.6 513.1h.01M489.2 508.5h.01M519.6 499.4h.01M535.9 481.1h.01M528.5 480.8h.01M521.1 486.6h.01M506.6 495h.01M504.7 534.6h.01M533.8 530.8h.01M532.2 535h.01M518.6 510.1h.01M515 515.8h.01M503.1 484.4h.01M536.9 535.9h.01M517.9 513.9h.01M500.5 537.5h.01M511.9 514.9h.01M524.9 490h.01M510.5 524.3h.01M496.7 493h.01M525.7 530.4h.01M501.7 535.8h.01M492.2 515.5h.01M491.8 490.1h.01M533.7 528.4h.01M488.8 526.9h.01M502 522.2h.01M536.8 491.7h.01M527.1 516.9h.01M497.4 532.9h.01M513.9 503.5h.01M531.7 518.9h.01M524 485.6h.01M497.7 524.2h.01M500.3 532.3h.01M511.8 535h.01M501.9 517h.01M532.2 487.9h.01M500.2 528.8h.01M493.6 509.2h.01M518.7 514.9h.01M502.7 531.1h.01M538.9 499.5h.01M537.8 539.4h.01M488.8 504.5h.01M508.4 499.8h.01M510.5 487.7h.01M529.5 514.1h.01M513.6 492.3h.01M495.9 533.5h.01M534.3 498.9h.01M506.4 523.5h.01M511.5 541.6h.01M514.5 483.2h.01M515 513.4h.01M509.6 485.4h.01M506.9 518.3h.01M524.2 538.9h.01M501.9 488.7h.01M494 513.9h.01M506.7 504.6h.01M491.6 531h.01M507.7 527.9h.01M490.7 525.1h.01M522.4 523.3h.01M493.1 523.8h.01M493.2 526.4h.01M489.9 495.7h.01M509.8 495.9h.01M490.5 482.5h.01M489.7 499.1h.01M531.6 508.1h.01M496.9 532.2h.01M525 517.4h.01M493 521.1h.01M536.9 517.6h.01M507.5 498.8h.01M534.8 483.2h.01M522.1 493.1h.01M492.1 505.1h.01M504.5 499.3h.01M524 486.8h.01M518.8 520.4h.01M524.7 506.3h.01M526 537.2h.01M535 517.6h.01M534.2 481.8h.01M521.4 526.5h.01M530.6 537.7h.01M533 501.7h.01M525.7 521.4h.01M539.3 537h.01M521.8 485.7h.01M490.9 506.5h.01M536.7 488.8h.01M506 502h.01M518.4 535.6h.01M510.9 525.9h.01M533.2 493.9h.01M533.2 533.5h.01M529.4 488.2h.01M526.9 514.6h.01M508.7 529.2h.01M527.2 493.6h.01M488.1 480.9h.01M496.6 538.3h.01M528.1 516.6h.01M495.5 510.4h.01M489.3 489h.01M502.8 524.9h.01M530.7 482.9h.01M512.5 496h.01M495.1 528h.01M533.9 537.1h.01M522.9 497.6h.01M525.4 533h.01M493.5 493.4h.01M504.9 530.5h.01M532.1 512h.01M526.3 517.6h.01M537.8 529.9h.01M496.5 482.4h.01M526.7 498.7h.01M515 495h.01M536.8 541.5h.01M491 514.3h.01M499.9 489.4h.01M525.6 540.1h.01M498.4 513.3h.01M505.2 493.8h.01M500.3 494.8h.01M506.4 491.3h.01M525.5 537h.01M496.4 515.7h.01M502.8 491.9h.01M516.6 514.7h.01M493.2 521h.01M498.4 531.3h.01M497.8 517.7h.01M522.5 531.3h.01M522.2 515.7h.01M497.5 504.3h.01M534.6 534.8h.01M532.9 525.2h.01M527 517.9h.01M509.6 511.9h.01M488.7 493.8h.01M494.1 532.1h.01M513.2 535.7h.01M539.2 532.5h.01M533.2 506.1h.01M514.4 530.4h.01M504.4 504.9h.01M502.1 535.7h.01M533.3 488.6h.01M493.1 520.2h.01M511.4 480.5h.01M521.2 483.9h.01M488.9 517.2h.01M525.2 524.2h.01M506.4 532.8h.01M521.8 502.2h.01M523.7 528.6h.01M510.4 519.4h.01M503.5 491h.01M531.9 499.5h.01M532.7 538.2h.01M535.5 493.4h.01M535.8 531.7h.01M515.8 493.5h.01M524.2 498.9h.01M506.3 488.4h.01M496.1 507.5h.01M496.9 535.8h.01M532.7 489.8h.01M489.2 510.6h.01M526.4 521h.01M507.8 521.4h.01M514.5 484.1h.01M531.8 505.1h.01M529.6 518.8h.01M511.7 531.2h.01M530.7 490.3h.01M536.9 494.4h.01M491.8 506h.01M533.4 526.2h.01M523.7 525.7h.01M530.6 538.3h.01M509.8 493.7h.01M515.7 526h.01M492.4 523.3h.01M517 488.8h.01M490.2 480.1h.01M497.3 505.2h.01M524.8 537.3h.01M523.7 483.1h.01M499 531.7h.01M499.4 516.6h.01M511.8 505.7h.01M498.6 513h.01M525.5 532.8h.01M534.1 484.4h.01M508 515.6h.01M530.1 501.1h.01M511.5 528.9h.01M509.5 505h.01M510.7 491.2h.01M531.7 497.8h.01M508.4 520.7h.01M522.1 497.3h.01M528 490.3h.01M513.4 530.3h.01M527.6 504.8h.01M494.9 511.8h.01M502.8 497.6h.01M520 491.1h.01M526.2 517.8h.01M497.6 485.4h.01M499 519.4h.01M501.3 508.6h.01M530.2 519.5h.01M491.1 481.4h.01M492.6 519.6h.01M497 533.2h.01M511.7 516.9h.01M513 528.9h.01M518.1 485.4h.01M538.9 527.7h.01M513.1 524.9h.01M488.8 491.1h.01M513.5 495.4h.01M534.2 496.7h.01M506.2 537h.01M492.8 536.1h.01M504.7 522.2h.01M525.3 532.6h.01M536 537.3h.01M539.7 502.1h.01M507 502.8h.01M519.5 535.9h.01M518.3 502.2h.01M499.1 503.7h.01M502.6 528.7h.01M495.1 527.2h.01M505.1 515.5h.01M522.8 505.6h.01M509.5 506.1h.01M528.1 506.1h.01M513 526.8h.01M510.1 483.5h.01M516.6 484.4h.01M539.4 517.7h.01M507.3 502.2h.01M535.2 489.3h.01M507.9 507.5h.01M515.8 488.2h.01M536.7 489.7h.01M489.4 540.1h.01M505.8 490.8h.01M488.4 489.5h.01M514.9 482.1h.01M492.5 497.7h.01M508.4 505.6h.01M503.2 520.9h.01M529.6 538.2h.01M526.6 512.7h.01M513 502.5h.01M527.3 509.8h.01M491.1 502.5h.01M530.5 508.5h.01M505.9 518.4h.01M526.7 529.7h.01M500 500.6h.01M524.5 511.9h.01M532.1 498.8h.01M539 494.4h.01M538 517.8h.01M539.8 480.9h.01M531.2 534.5h.01M515.4 482.3h.01M503.4 512.5h.01M498.4 525.8h.01M530.5 518.1h.01M520.6 505.7h.01M510.2 501.9h.01M510 486.6h.01M524.6 523h.01M505.6 489h.01M531.1 518.3h.01M528.1 492.7h.01M535.1 518h.01M488.5 492.7h.01M527.3 483h.01M500.5 537.5h.01M535.8 515h.01M506.7 515.9h.01M493.7 510.7h.01M514.7 536.7h.01M521.6 498.9h.01M510.9 508h.01M490.6 519.7h.01M539.4 481h.01M501.8 496.6h.01M513.4 541.8h.01M532.7 512.4h.01M539.5 501.8h.01M502.8 534.3h.01M492.2 515.1h.01M499.1 510.3h.01M504.2 522.2h.01M539.4 500.1h.01M497.2 495.1h.01M488.5 526.6h.01M532.2 531.9h.01M494.8 507.5h.01M523.8 498.8h.01M502.5 501.7h.01M494.9 521.5h.01M516.6 496.9h.01M508.7 485.2h.01M496.2 526.4h.01M525.5 537.5h.01M500 492.4h.01M524 496.9h.01M527 496.8h.01M529.2 511.7h.01M507.6 483.4h.01M528.1 493.1h.01M527.6 541.8h.01M513.7 538.2h.01M490.4 539.2h.01M536 486.2h.01M514.6 536.3h.01M494.2 502.9h.01M493.8 531.1h.01M532.8 517.7h.01M528.2 488.5h.01M491.4 502h.01M535.4 527.6h.01M498.7 500.9h.01M493.5 518.1h.01M533.3 503.9h.01M501.5 484.5h.01M499.5 498.5h.01M532.3 521.6h.01M539.2 509.3h.01M490.3 539h.01M513.9 529.6h.01M527.7 526.9h.01M528.9 529.2h.01M530.2 502.7h.01M518.4 519.5h.01M539.5 480.5h.01M531.8 494.2h.01M527.7 516.1h.01M516.9 528.4h.01M495.9 496.5h.01M488.2 492.5h.01M536.9 494.3h.01M520.2 522.2h.01M501.6 532h.01M507.1 486.1h.01M511.3 511.2h.01M537.5 528.1h.01M514.3 514.1h.01M512.3 524.2h.01M522.7 534.2h.01M506.8 530.1h.01M537.5 528.1h.01M519.7 529.5h.01M534.7 528.8h.01M529.9 506.1h.01M501 499.6h.01M489.1 523.8h.01M493.4 519.6h.01M527.4 496.3h.01M495.3 540.3h.01M496.3 508.1h.01M508.8 506.8h.01M530.1 508.2h.01M535.7 509.5h.01M501 536.8h.01M530.4 509.4h.01M526.6 502.6h.01M527.7 497.2h.01M496.2 512.3h.01M494.1 523.4h.01M510.4 510.3h.01M497.3 518.1h.01M538.8 533.8h.01M497.4 490.3h.01M502.8 487.4h.01M491.8 512.3h.01M538.1 520.4h.01M498.5 488.1h.01M488.1 486.8h.01M504.4 480.4h.01"/><path class="n" d="M500.4 535.9L498.8 534.2L497.4 532.1L496.4 529.5L495.7 526.5L495.4 523.1L495.5 519.5L495.9 515.7L496.6 511.9L497.7 508L499.1 504.2L500.8 500.5L502.8 497.1L504.9 494L507.2 491.3L509.6 489L512.1 487.3L514.6 486L517 485.3L519.2 485.2L521.4 485.7" style="stroke-width:1.38"/><ellipse class="p" cx="521.6" cy="513.6" rx="15" ry="27.6" transform="rotate(20 521.6 513.6)" style="stroke-width:3.22"/><ellipse class="p" cx="522.4" cy="514" rx="11.6" ry="22" transform="rotate(20 522.4 514)" style="stroke-width:2.76"/><path class="n" d="M524 497.4L525.4 496.8L526.8 496.5L528.1 496.4L529.4 496.7L530.5 497.3L531.5 498.2L532.3 499.3L533 500.7L533.5 502.3L533.9 504.2L534 506.2L534 508.3L533.8 510.5L533.4 512.8L532.8 515.2L532 517.5L531.1 519.7L530.1 521.9L528.9 523.9L527.6 525.8L526.3 527.4L524.9 528.9L523.4 530.1L522 531" style="stroke-width:1.84"/><ellipse class="p" cx="523.4" cy="514.6" rx="7" ry="11.6" transform="rotate(20 523.4 514.6)" style="stroke-width:2.76"/><ellipse class="p" cx="523.8" cy="514.8" rx="4" ry="6.4" transform="rotate(20 523.8 514.8)" style="stroke-width:2.53"/><ellipse class="k" cx="524" cy="515" rx="1.6" ry="2.4" transform="rotate(20 524 515)" /><g clip-rule="evenodd"><clipPath id="c15"><path d="M533.3 518L532 521.2L530.4 524.2L528.7 526.9L526.8 529.4L524.8 531.4L522.7 533.1L520.6 534.2L518.6 534.9L516.7 535L514.9 534.7L513.3 533.8L511.9 532.4L510.7 530.6L509.9 528.4L509.4 525.8L509.2 522.9L509.3 519.9L509.7 516.6L510.5 513.3L511.5 510L512.8 506.8L514.4 503.8L516.1 501.1L518 498.6L520 496.6L522.1 494.9L524.2 493.8L526.2 493.1L528.1 493L529.9 493.3L531.5 494.2L532.9 495.6L534.1 497.4L534.9 499.6L535.4 502.2L535.6 505.1L535.5 508.1L535.1 511.4L534.3 514.7L533.3 518ZM530 517L529.3 518.7L528.4 520.2L527.5 521.7L526.4 522.9L525.2 524L524.1 524.8L522.9 525.4L521.7 525.7L520.5 525.7L519.4 525.5L518.5 525L517.6 524.2L516.9 523.2L516.3 522L515.9 520.6L515.7 519.1L515.7 517.4L515.9 515.7L516.3 513.9L516.8 512.2L517.5 510.5L518.4 509L519.3 507.5L520.4 506.3L521.6 505.2L522.7 504.4L523.9 503.8L525.1 503.5L526.3 503.5L527.4 503.7L528.3 504.2L529.2 505L529.9 506L530.5 507.2L530.9 508.6L531.1 510.1L531.1 511.8L530.9 513.5L530.5 515.3L530 517Z"/></clipPath><path clip-path="url(#c15)" class="d" stroke-width="1" style="stroke:#111" d="M523.9 503h.01M506.1 522h.01M512.4 501.4h.01M518.9 521.4h.01M539.6 512h.01M539.8 539.6h.01M513.5 491.8h.01M510.6 531.8h.01M526 535.7h.01M539 522h.01M523.7 491.5h.01M505.8 529.9h.01M528.5 527.7h.01M524.8 523h.01M527.4 534.5h.01M508.9 513.7h.01M515.8 531.1h.01M535.7 501.1h.01M507.8 500.6h.01M516 528h.01M519.3 527h.01M515.5 515.2h.01M511.5 521.6h.01M523 532.9h.01M538.2 515h.01M507.4 536.7h.01M538.1 512.7h.01M522 536.5h.01M513.9 501.3h.01M529.3 523.1h.01M529 531.1h.01M522.9 509.8h.01M512.9 499.1h.01M517.9 510.5h.01M530.9 520.2h.01M522.9 507.8h.01M526.9 507.9h.01M532.9 521.5h.01M529.3 507.4h.01M523.1 525.5h.01M538.5 515.5h.01M516.2 523.8h.01M509.2 505.4h.01M506.1 516.7h.01M513.9 508.4h.01M532.6 521h.01M506.3 511h.01M505.2 530.8h.01M522.4 532.2h.01M514.3 530.8h.01M509.9 533.1h.01M518.6 491.8h.01M537 531.5h.01M511.8 518h.01M521.7 495.4h.01M519.9 538.6h.01M518.3 527.5h.01M531.6 528h.01M526.4 534.9h.01M517 512.9h.01M520.7 493.2h.01M522.1 527.6h.01M525.1 497.2h.01M513.5 513.2h.01M508.7 498.4h.01M530.9 493.5h.01M509 496.3h.01M523.1 489.1h.01M529 517.4h.01M531.6 528.3h.01M530.3 514.9h.01M515.6 519.1h.01M510.2 499.9h.01M529.5 519.1h.01M509.8 511h.01M525.9 499.6h.01M527.7 495.5h.01M510.8 509.6h.01M515.1 525.4h.01M519.5 503.1h.01M533.6 531.4h.01M532 494.3h.01M514.5 493.1h.01M531.1 512.1h.01M508.3 536.7h.01M507.7 490.3h.01M536.5 511.5h.01M534.9 518.6h.01M509.8 513h.01M531.6 488.9h.01M532.2 506.2h.01M523 504.7h.01M532.6 513.1h.01M520.8 491.3h.01M530.5 497h.01M526.1 488.3h.01M508.8 520.6h.01M514.9 519h.01M529.2 506.4h.01M523.7 508.3h.01M506.5 531.9h.01M523.6 533.1h.01M527.4 520.8h.01M508.9 520.3h.01M520.1 502.4h.01M508.9 497.3h.01M507.5 522.3h.01M519.9 494.6h.01M524.8 533.6h.01M537.5 492.1h.01"/></g>
<path class="p" d="M549.5 521.2 Q545.6 522.5 546.2 527.5 Q547 531 549.5 531.6 L575.5 545 L640.5 574 Q647 575.5 650 570 Q652 563.5 647.5 561 L580.5 532.6 Z" style="stroke-width:2.07"/><path class="n" d="M580.5 532.6 Q577 538 575.5 545" style="stroke-width:1.61"/><path class="n" d="M641.5 561.5 Q638 566 640.5 573.5" style="stroke-width:1.49"/>
<!-- 21_right.py -->
<path class="p" d="M674.6 379.6 L690 387.6 L687 400 L672.4 393.2 Z" style="stroke-width:1.84"/><ellipse class="p" cx="670.9" cy="385.9" rx="4.3" ry="7.4" transform="rotate(16 670.9 385.9)" style="stroke-width:2.07"/><path class="n" d="M676.3 380L677.4 380.8L678.1 382.6L678.1 384.9L677.7 387.5L676.7 390L675.4 392L673.9 393.1L672.5 393.2" style="stroke-width:1.38"/>
<ellipse class="p" cx="696.4" cy="396.4" rx="11.4" ry="17.2" transform="rotate(22 696.4 396.4)" style="stroke-width:1.95"/><ellipse class="p" cx="698" cy="397" rx="11.4" ry="17.2" transform="rotate(22 698 397)" style="stroke-width:1.95"/><path class="n" d="M701.3 407L700 407.7L698.7 408L697.5 408.1L696.4 407.7L695.4 407.1L694.6 406.1L694 404.9L693.6 403.4L693.4 401.8L693.5 400L693.8 398.2L694.3 396.3L695.1 394.5L696 392.8L697.1 391.2L698.3 389.9L699.5 388.8L700.8 388.1L702.1 387.6L703.4 387.5L704.5 387.7L705.5 388.3L706.4 389.2L707.1 390.3" style="stroke-width:1.49"/>
<path class="p" d="M705 395 L726 404 L733 406.4 L731.6 415 L724 411.2 L703.4 403 Z" style="stroke-width:1.61"/><path class="n" d="M706.5 397.6 L725.4 405.8 M706 400 L724.8 408.2 M705.4 402 L724.4 410" style="stroke-width:1.15"/><path class="n" d="M727.6 403.9L728.3 404.8L728.3 406.5L727.7 408.7L726.6 410.6L725.4 411.9L724.4 412.1" style="stroke-width:1.61"/><path class="n" d="M729.4 404.7L730.1 405.5L730.1 407.3L729.5 409.4L728.4 411.4L727.2 412.6L726.2 412.8" style="stroke-width:1.61"/><path class="n" d="M731.2 405.4L731.9 406.3L731.9 408L731.3 410.1L730.2 412.1L729 413.3L728 413.5" style="stroke-width:1.61"/><path class="n" d="M733 406.1L733.7 407L733.7 408.7L733.1 410.9L732 412.8L730.8 414.1L729.8 414.3" style="stroke-width:1.61"/><ellipse class="p" cx="703.6" cy="399.2" rx="4.6" ry="6.6" transform="rotate(22 703.6 399.2)" style="stroke-width:1.84"/><path class="n" d="M705.2 404.3L704 404.5L702.9 403.9L702.3 402.7L702.1 401L702.5 399.2L703.3 397.5L704.5 396.1L705.8 395.4L707.1 395.4L708 396.1" style="stroke-width:1.26"/>
<path class="n" d="M725 400.1L724.7 399.1L724.6 398.1L724.8 397.2L725.2 396.4L725.8 395.6L726.6 395L727.7 394.6L728.8 394.2L730.1 394.1L731.5 394.1L732.9 394.4L734.3 394.7L735.6 395.3L736.8 395.9L737.9 396.7L738.8 397.6L739.5 398.5L739.9 399.5L740.2 400.5L740.2 401.4L739.9 402.3L739.4 403.1L738.7 403.8L737.8 404.4" style="stroke-width:4.83"/><path class="n" d="M725 400.1L724.7 399.1L724.6 398.1L724.8 397.2L725.2 396.4L725.8 395.6L726.6 395L727.7 394.6L728.8 394.2L730.1 394.1L731.5 394.1L732.9 394.4L734.3 394.7L735.6 395.3L736.8 395.9L737.9 396.7L738.8 397.6L739.5 398.5L739.9 399.5L740.2 400.5L740.2 401.4L739.9 402.3L739.4 403.1L738.7 403.8L737.8 404.4" style="stroke-width:1.72;stroke:#fcfdfc"/><path class="n" d="M721.7 426L720.6 426L719.5 425.7L718.5 425.1L717.6 424.1L717 423L716.5 421.6L716.2 420L716.2 418.3L716.3 416.6L716.7 414.8L717.3 413.2L718.1 411.6L719 410.3L720.1 409.2L721.2 408.3L722.4 407.8L723.5 407.6L724.7 407.7L725.7 408.1L726.7 408.9L727.4 409.9L728 411.2L728.5 412.6L728.6 414.3" style="stroke-width:4.83"/><path class="n" d="M721.7 426L720.6 426L719.5 425.7L718.5 425.1L717.6 424.1L717 423L716.5 421.6L716.2 420L716.2 418.3L716.3 416.6L716.7 414.8L717.3 413.2L718.1 411.6L719 410.3L720.1 409.2L721.2 408.3L722.4 407.8L723.5 407.6L724.7 407.7L725.7 408.1L726.7 408.9L727.4 409.9L728 411.2L728.5 412.6L728.6 414.3" style="stroke-width:1.72;stroke:#fcfdfc"/>
<path class="p" d="M749.6 396 Q740 396.5 734 406 Q728 417 729.6 427 Q731.5 435.5 737 439.4 L780.5 452.8 Q786.5 453 790 448.5 Q796 441 797.5 431 Q799 424.5 798.5 423 L766 399.8 Q758 395.8 749.6 396Z" style="stroke-width:2.53"/><clipPath id="c16"><path d="M749.6 396 Q740 396.5 734 406 Q728 417 729.6 427 Q731.5 435.5 737 439.4 L780.5 452.8 Q786.5 453 790 448.5 Q796 441 797.5 431 Q799 424.5 798.5 423 L766 399.8 Q758 395.8 749.6 396Z"/></clipPath><path clip-path="url(#c16)" class="d" stroke-width="1.2" style="stroke:#111" d="M779.3 445.2h.01M734.6 440.2h.01M778.9 438.2h.01M781.2 421.1h.01M788.7 403.6h.01M750 427.1h.01M792.3 450.4h.01M792.4 398.2h.01M775.9 442.7h.01M799.4 446.4h.01M781.5 450.4h.01M763.6 403.4h.01M783.1 426.5h.01M773.4 409.9h.01M746 405.3h.01M759.3 447.3h.01M754.7 397.5h.01M730.7 454.3h.01M786.4 426.9h.01M757.5 418.2h.01M749.8 411.9h.01M793.3 442.7h.01M729.2 410h.01M777.8 419.6h.01M793.2 410.3h.01M756.6 395.2h.01M732.9 441.9h.01M766.1 448.9h.01M760.1 404.7h.01M768.1 436.7h.01M793.3 442.4h.01M741.2 402.6h.01M733.7 442.7h.01M778.7 409.5h.01M760.7 433.5h.01M799.3 445.6h.01M752.6 405.7h.01M737.5 453h.01M790.7 408.2h.01M771.8 451.7h.01M747.5 397.8h.01M798.6 428.4h.01M752.5 440.3h.01M739.2 396.8h.01M786.8 438.7h.01M744.9 412.7h.01M781.9 408.5h.01M745.1 451.7h.01M795.7 408.8h.01M769 450.9h.01M764.6 414.3h.01M760 450.4h.01M760.3 428.4h.01M787.9 429.6h.01M742.1 436.9h.01M743.4 402.6h.01M787.6 448h.01M772 437.1h.01M739.8 445.7h.01M772 448.4h.01M762.8 394.3h.01M763 452.5h.01M793.5 438.5h.01M736.1 432.2h.01M742.5 404.7h.01M798.1 409.5h.01M755.5 397.8h.01M750.1 422.7h.01M776 408.9h.01M766.6 440.6h.01M748.2 435h.01M764.3 426.3h.01M781 444.9h.01M793.3 429.1h.01M754.6 446.6h.01M772.6 401.8h.01M775.2 419.8h.01M772.7 452.3h.01M759.3 424.7h.01M771.4 437.9h.01M747.8 438h.01M780.1 442.6h.01M728.2 449.8h.01M766.4 411.7h.01M783.4 441.8h.01M798.2 451.9h.01M772.1 424.3h.01M798.6 419.5h.01M771.2 420.5h.01M739.4 402.9h.01M799.2 444h.01M782.5 402.6h.01M794.3 449.2h.01M799.5 432.5h.01M746.3 434.8h.01M769.6 430.2h.01M753.6 425.4h.01M777 433.1h.01M755.7 450.5h.01M758.7 418.5h.01M791.9 453.4h.01M796.2 402h.01M799.5 432.6h.01M770.3 433.3h.01M735 447.8h.01M792.3 408.1h.01M780 450.3h.01M745.5 420.9h.01M762.8 452.5h.01M742.6 449.9h.01M756.8 404h.01M799.7 415.4h.01M746.1 399h.01M732.3 421.8h.01M778.7 444.8h.01M738.1 428h.01M749.3 417.6h.01M788.7 419.9h.01M735.8 403.5h.01M749.4 441.7h.01M771.8 448.7h.01M789.4 432.3h.01M754.5 401.5h.01M774.4 411.3h.01M796.5 416.7h.01M796.1 431h.01M734.9 445.2h.01M746.7 438.7h.01M741.4 454.4h.01M729.9 430.7h.01M784.7 430h.01M754.8 441.7h.01M735.7 408.4h.01M785.3 437.9h.01M742 453.5h.01M749.1 446.6h.01M756.9 421.5h.01M755.4 426.2h.01M756.7 415.4h.01M785.1 434.1h.01M740 418h.01M764.4 433.5h.01M755.7 433.8h.01M762.9 431.5h.01M738.4 398.8h.01M749 447.8h.01M781.9 452.2h.01M757.6 438.4h.01M746.7 415.5h.01M795.7 403.8h.01M746.3 433.4h.01M766.7 438h.01M739.3 452.5h.01M728.5 404.4h.01M779.6 412.3h.01M777.5 434.2h.01M747.3 449.3h.01M761.8 449.9h.01M749.5 429.3h.01M737.1 400.7h.01M795.3 428.5h.01M738.7 449.8h.01M740.2 401.7h.01M753.1 440.6h.01M751 448h.01M760.3 441.3h.01M750.4 447.5h.01M755.8 454.6h.01M770 446.3h.01M785 397.5h.01M791 452.2h.01M738.3 441h.01M731.5 424.1h.01M783.7 432h.01M734.3 396.9h.01M764.2 444.4h.01M778.6 445.4h.01M746.1 409.8h.01M741.8 401h.01M774.1 437.3h.01M738.6 438.3h.01M740.1 395.1h.01M769.4 424.5h.01M746.5 421.1h.01M763.3 448.6h.01M784 405.1h.01M736.5 406.1h.01M732.6 438.1h.01M776.5 424h.01M775.6 423.9h.01M747.6 424.6h.01M739 442.1h.01M731.1 444.9h.01M756.9 448.8h.01M755.1 446h.01M794.1 437.4h.01M795 443.4h.01M762.9 453.1h.01M762.3 454.8h.01M734 396.7h.01M733.2 410.8h.01M729.3 438.2h.01M755.2 424.2h.01M799.1 440.4h.01M784.5 444.2h.01M755.4 449.6h.01M747.8 410.2h.01M791.1 422.5h.01M797.6 442h.01M764.3 451.4h.01M728.3 428.7h.01M782.4 433.5h.01M799.3 401.2h.01M754.7 409.7h.01M772.9 428.7h.01M757.8 421.3h.01M750.2 454.1h.01M728.9 411.8h.01M795.2 420.9h.01M771.5 454.4h.01M733.7 431.9h.01M749.8 430.4h.01M760 406.8h.01M773 407.3h.01M745.6 400.8h.01M791.5 434.1h.01M745.7 451.4h.01M755.6 421h.01M759.5 431.4h.01M769.8 436.7h.01M795.8 408.2h.01M754.1 446.3h.01M736.4 438.6h.01M749 450.4h.01M747 447.9h.01M767.2 412.1h.01M740.9 407.9h.01M740.3 399.3h.01M795 411.8h.01M796.8 445h.01M781.6 417.9h.01M779.3 410.9h.01M733.9 425.4h.01M745.2 420.2h.01M794.3 400.5h.01M797.5 425h.01M788.1 452.6h.01M798.7 428.9h.01M778.3 426.7h.01M734.5 443.1h.01M749.2 431.4h.01M768.1 405.9h.01M773.4 420.2h.01M748.3 424.7h.01M791 402.3h.01M791.7 419.7h.01M799.1 394.8h.01M747.3 446h.01M734.8 431h.01M742.1 450.7h.01M768.4 416.5h.01M761.2 418.5h.01M741.2 429.1h.01M770.9 449.6h.01M739.6 453.5h.01M764 413h.01M778.7 411.1h.01M771.6 424.9h.01M736.2 451h.01M737.1 411.7h.01M733 395.3h.01M770.8 451.1h.01M738.5 445.5h.01M773.2 419.7h.01M776.7 421.7h.01M773.5 396.9h.01M790.9 444.7h.01M769.4 449.2h.01M794.8 399.5h.01M781 443.9h.01M793.9 426h.01M794.7 451.9h.01M791.5 450.8h.01M785.3 421.1h.01M737 407.7h.01M753.6 420.2h.01M750.7 423.8h.01M752 441h.01M732.2 426h.01M734.4 419.5h.01M744.6 409.3h.01M763.2 426.7h.01M769.1 419.3h.01M771.5 447.6h.01M794.5 433.3h.01M794.8 409.2h.01M742.4 428.6h.01M746.9 400.8h.01M753.2 405.1h.01M758.7 428.7h.01M760.4 415.4h.01M733.3 397.7h.01M790.4 432.3h.01M775 438.5h.01M750.5 448.4h.01M755.3 452.4h.01M755.5 410.9h.01M785.4 444.7h.01M795.2 420.6h.01M767.7 428.2h.01M765.3 454.8h.01M777.4 409.9h.01M792.2 421h.01M759.8 451.8h.01M793.7 409.8h.01M769.7 425h.01M767.4 405.9h.01M769 448.1h.01M775.5 396.9h.01M757.7 434.5h.01M785.2 396.9h.01M779.6 411.2h.01M792.6 446h.01M764.6 444.3h.01M764.7 415.8h.01M789.1 429.8h.01M779.4 404.7h.01M728.7 407.7h.01M790.8 442.8h.01M734 422.9h.01M756.1 449.3h.01M787.9 440h.01M750 397.8h.01M753.5 415.7h.01M793.3 446.3h.01M751.4 420.1h.01M760.2 423.1h.01M780.6 436.8h.01M746.1 451.2h.01M787.4 398.6h.01M752.5 403.7h.01M731.8 422.9h.01M764.7 415.7h.01M769.1 426.5h.01M770.2 441.9h.01M799.8 400.6h.01M757.4 442.1h.01M760.2 401.6h.01M782.3 452.1h.01M785.2 394.9h.01M781.3 403.9h.01M761.2 396.6h.01M733.3 427.8h.01M783.2 411.7h.01M798.4 453.5h.01M775 410.2h.01M793.6 451.8h.01M772.3 408.1h.01M758.6 429.6h.01M755.9 404h.01M787.1 451.9h.01M748.6 436.7h.01M735.5 436.6h.01M783.2 429.1h.01M729.6 445h.01M796.9 433h.01M759.2 400h.01M784 427.1h.01M763.9 420.8h.01M761.2 425.7h.01M748.7 452.5h.01M789.4 453.3h.01M756.9 417.5h.01M757.4 422.8h.01M778.8 427.2h.01M753.2 454.7h.01M799.7 448.8h.01M788.1 436.1h.01M792.9 447.6h.01M785.3 443.1h.01M790.9 413.2h.01M766.3 422h.01M763.6 449.7h.01M770.5 432.2h.01M791.3 415.6h.01M770.5 395.2h.01M745.2 438h.01M753.5 407.9h.01M736.9 429.7h.01M776 427.1h.01M799.1 406.4h.01M774.2 414h.01M791 444.6h.01M730.1 409.6h.01M796.5 418.2h.01M785.3 449h.01M776.4 428.3h.01M792.7 418.4h.01M797.1 422.7h.01M754.2 414.2h.01M756.9 424.1h.01M746.3 428.7h.01M771.9 401h.01M748.4 405.6h.01M757.1 452.4h.01M762.7 436.5h.01M734.6 440.4h.01M757.4 451.4h.01M734.3 429.2h.01M782.5 408.9h.01M737.9 429.6h.01M770.9 446.8h.01M736.2 454.6h.01M735.4 441.3h.01M787.4 441.9h.01M752.1 414.8h.01M740.6 404.5h.01M768 427.8h.01M730.7 449.1h.01M769.6 407.5h.01M780.2 426.6h.01M777 454.4h.01M768.2 437.9h.01M759.4 446h.01M766.2 429.6h.01M766 434h.01M766.3 417.6h.01M795.1 438h.01M734.3 447.5h.01M758.6 437.9h.01M771.3 424.3h.01M790.3 415h.01M783.9 433.1h.01M767.2 449.8h.01M740.9 426.6h.01M751.4 443.6h.01M790.6 406.1h.01M780.4 453.8h.01M793.5 439.4h.01M746.6 423.7h.01M776.6 397.9h.01M788.6 442.9h.01M758.1 453.7h.01M749.6 445.3h.01M762.4 432.5h.01M794.6 396.8h.01M774.6 423.7h.01M766.5 422.3h.01M758.5 444.6h.01M788 399h.01M767.9 408.2h.01M775.4 408.8h.01M790.9 422.5h.01M798.1 395.7h.01M791.5 408.6h.01M782.6 424.8h.01M751.3 450.5h.01M795.3 412h.01M798.4 413h.01M757.5 433.5h.01M734.2 408.5h.01M755 452.1h.01M748 434h.01M761.5 437.7h.01M728.2 438.9h.01M764.1 444h.01M775.9 450.9h.01M784.4 397.7h.01M751.2 453.4h.01M740.6 433.9h.01M789.2 394.6h.01M792.5 429.6h.01M762.5 437.7h.01M768.1 425.6h.01M738.3 452h.01M752 419.1h.01M770.9 412.4h.01M767.1 439.5h.01M779 431.7h.01M789.2 410.7h.01M747.2 398.5h.01M733.4 453.8h.01M748.9 426.7h.01M766.7 394.3h.01M773.2 419.5h.01M745.7 450.3h.01M795.7 438.1h.01M750.2 425.4h.01M732.6 430.6h.01M746.7 427.5h.01M742.3 427.7h.01M764.2 435.8h.01M756.2 407.3h.01M745.6 425.5h.01M767.3 449.1h.01M772.3 403.3h.01M742.2 398.9h.01M782.6 408.2h.01M741.5 420.1h.01M731.8 448.9h.01M766.9 402.4h.01M769.8 426.7h.01M794.6 441.5h.01M749.7 398.1h.01M768.2 409.4h.01M764.4 434.5h.01M786.6 430.1h.01M738.1 454h.01M763.5 417.3h.01M780.7 440.9h.01M753.4 430.6h.01M731.3 425h.01M736.8 409.9h.01M760.1 451.7h.01M758.8 444.8h.01M771.9 453.6h.01M746.6 433.7h.01M783.3 434.3h.01M732.5 447.1h.01M786 441.4h.01M745.8 443.1h.01M778.6 395.5h.01M793.7 420h.01M769.1 453.4h.01M794 427.2h.01M742.2 439.2h.01M738.9 429.4h.01M774.8 443.9h.01M790.3 401.1h.01M775.6 448.8h.01M775.4 437.8h.01M735.6 444.6h.01M734.8 402.8h.01M776.1 451.7h.01M797.3 449.9h.01M745.4 414.6h.01M762.7 405.5h.01M765.3 409h.01M747.1 418.9h.01M728.8 440.7h.01M735 436.7h.01M774.7 422.3h.01M762.9 411.6h.01M728.6 402.9h.01M766.9 454.9h.01M757 421.4h.01M776 420h.01M771.1 453.1h.01M749.5 406h.01M760.8 428.9h.01M744.9 438.2h.01M763.6 426.9h.01M768.8 410.7h.01M759.2 424h.01M799.9 421.6h.01M744.2 405.1h.01M777.5 421.8h.01M756.5 414.3h.01M753.1 398.7h.01M791.4 416.4h.01M770.1 427.6h.01M799.4 454.1h.01M757.9 424.5h.01M793.9 443.6h.01M787.1 404.7h.01M775.5 454h.01M789.1 418.9h.01M743.2 395.1h.01M786.6 448.4h.01M756.3 440.9h.01M786.9 426.8h.01M753.8 424.4h.01M766.8 448h.01M746.3 445.6h.01M732.4 430.6h.01M796.7 439.5h.01M782.3 443.6h.01M776.5 433.6h.01M728.9 447.8h.01M782.2 444.1h.01M728.6 423.2h.01M764.3 411.6h.01M788.6 421.2h.01M735.9 400.3h.01M757.4 425h.01M747.8 398.4h.01M795.7 453.9h.01M774 408.3h.01M789.8 440h.01M748.3 451.7h.01M786.6 429h.01M745 427.2h.01M796.1 403.2h.01M795.5 413h.01M774.1 444.6h.01M760.4 442.3h.01M757.6 428.8h.01M758.5 454.3h.01M775.1 450h.01M728.6 412.2h.01M770.5 396.4h.01M774.6 434.9h.01M777.7 433.6h.01M794.9 429.6h.01M760.9 410.1h.01M749.2 439.3h.01M795.9 422.5h.01M768.5 430.4h.01M784.7 395.8h.01M770.7 433.4h.01M741.7 404.3h.01M734.1 413.3h.01M793.2 430.8h.01M729.4 403.2h.01M796.3 451.3h.01M772.5 419.7h.01M754.6 408.1h.01M762.1 419.1h.01M777.7 437.6h.01M759.3 396.8h.01M769.6 420.4h.01M756.5 435.5h.01M738.8 421.6h.01M770.3 434h.01M796.8 450.2h.01M764.8 423h.01M767.9 454h.01M764.9 433.5h.01M779.8 412h.01M794.9 399.6h.01M758.3 411.4h.01M743.6 412.5h.01M783.9 443.4h.01M760.1 428.2h.01M777.7 454.1h.01M776.3 423.4h.01M728.3 444.4h.01M799.5 421.6h.01M783.3 451h.01M787.5 451.2h.01M793.8 402.4h.01M768.9 406.9h.01M762.2 397.5h.01M746.9 427.7h.01M790.6 400.8h.01M746.7 399.6h.01M791.8 402h.01M756.5 419.2h.01M728 454.4h.01M729.5 450.9h.01M749.2 431.5h.01M729.4 430.5h.01M734.8 395.7h.01M777.1 442h.01M763.8 436.9h.01M780.6 407.4h.01M785.4 446.6h.01M787.8 447h.01M769.2 408.5h.01M791.9 414.4h.01M796.1 434.3h.01M732.1 425h.01M795.5 410.1h.01M769.6 434.8h.01M773.8 406.6h.01M775.4 454.5h.01M779.5 429.8h.01M736 439.5h.01M749.6 428.6h.01M755.4 408.9h.01M750.5 425.3h.01M786.3 412h.01M748.1 439.2h.01M736.7 449.3h.01M796.8 410.5h.01M739.1 418.8h.01M760.9 439.2h.01M771.6 447.6h.01M788.8 416.3h.01M737.2 443.4h.01M729.9 412.2h.01M786.3 417.1h.01M739.3 445h.01M729.2 413.9h.01M780.8 405.1h.01M752.2 402.5h.01M728.2 443.4h.01M794 407.6h.01M786.1 410.4h.01M737.5 454.2h.01M741.2 447.9h.01M784.9 419h.01M775.4 402.4h.01M781.8 436.8h.01M729 453.5h.01M783.8 432.8h.01M778.8 439h.01M779.3 397.1h.01M795.8 416.8h.01M774.3 429.5h.01M771.5 419.4h.01M731.2 425.7h.01M757.4 406.4h.01M744.3 440.8h.01M791.5 435.3h.01M778.6 433.3h.01M746.7 440h.01M780 447.9h.01M795.7 405.2h.01M744.9 398.8h.01M760.6 445.2h.01M796.8 431.9h.01M732.3 418.8h.01M797 425.9h.01M778.8 450.4h.01M740 415.6h.01M775.4 405.4h.01M756.4 439.5h.01M768.9 451.7h.01M729 411.5h.01M739.5 404.6h.01M797.6 403.4h.01M788.2 447.9h.01M787.2 410.3h.01M764.9 436.5h.01M732.9 445.8h.01M763.1 451.3h.01M799.9 448.1h.01M795.2 424.6h.01M770.5 441.3h.01M728.7 429.9h.01M760.2 432.8h.01M798 453.8h.01M783.8 449.5h.01M745.5 415h.01M778.5 400.5h.01M759 419h.01M770.3 408.8h.01M761.9 449.7h.01M778 451.2h.01M779 398.7h.01M754.3 435.3h.01M756.5 418.1h.01M777.1 449.2h.01M792.6 444.3h.01M784.6 414.1h.01M770.8 431.9h.01M740.8 439.3h.01M781.7 439.3h.01M752.3 418.5h.01M773.6 447.7h.01M746.8 451.6h.01M784.3 399.1h.01M734.8 414.6h.01M799.2 413.3h.01M798.5 407.8h.01M782.5 448.5h.01M790.7 408.8h.01M760.1 425.2h.01M762.2 436.1h.01M785.9 446.8h.01M765.9 405.9h.01M790.3 417h.01M772.4 436.6h.01M787.4 416h.01M775.5 439.8h.01M766.5 424.9h.01M743.1 410.5h.01M798.2 440.8h.01M795.5 445.2h.01M795.5 453.3h.01M739.2 437.2h.01M781.2 453.1h.01M742 417.4h.01M742.5 439.2h.01M752.4 429.4h.01M742.8 407.8h.01M735 443.1h.01M772.2 448.7h.01M763.1 439.2h.01M764.6 414h.01M782.2 433.6h.01M749.1 415h.01M728.9 413.8h.01M795.4 394.9h.01M763.9 407.7h.01M790.1 425.3h.01M740 441.6h.01M761.2 406.6h.01M772.1 446.5h.01M770.5 432.6h.01M798.1 394.9h.01M741.1 404.3h.01M773.6 407.6h.01M741.6 416.1h.01M761.1 451.4h.01M760.3 452h.01M779.4 430.3h.01M791.6 431.5h.01M769.2 429.2h.01M784.4 434.1h.01M757 428.3h.01M766.8 432.5h.01M754 397.3h.01M767.6 403.5h.01M761.9 438.2h.01M797.9 437.5h.01M752.9 435.7h.01M769.1 434h.01M732.3 397.1h.01M734.5 415h.01M779.6 444.9h.01M775.3 407.1h.01M728.4 408.6h.01M765.1 438.5h.01M790.6 417.4h.01M792.7 434.5h.01M786.7 403.2h.01M780.3 426.2h.01M731.8 453.5h.01M779.7 440.5h.01M732.6 423h.01M793.2 431.9h.01M750.1 411h.01M746.8 414.4h.01M747.1 399.1h.01M768.8 433.9h.01M765.2 411.3h.01M794.6 435.2h.01M760.8 421.9h.01M735.5 417.1h.01M756.9 422.4h.01M786.9 408.6h.01M742.6 434.6h.01M755.9 442.8h.01M734.4 407.3h.01M780.7 430.5h.01M735.3 454h.01M782.7 441.8h.01M784.8 453.2h.01M768.5 419.7h.01M762.7 408.7h.01M747.5 426h.01M750.1 437.6h.01M790.3 422.3h.01M791.9 444.8h.01M747.7 447.7h.01M745.3 449.3h.01M767.9 424.1h.01M741 419.8h.01M756.2 450.7h.01M781.4 448.7h.01M787.6 437.6h.01M770.6 407.1h.01M728.9 429.6h.01M798.4 445.7h.01M774.8 432.1h.01M773.7 399.9h.01M782.6 424.9h.01M731.9 425.5h.01M794.3 406.4h.01M791.3 419.6h.01M753 431.2h.01M736.3 395.3h.01M765.5 416.9h.01M764.3 440.3h.01M742.6 406.6h.01M731.7 412.4h.01M747.1 433h.01M782.4 416.8h.01M763.4 407.7h.01M796.6 410.8h.01M784.7 448.2h.01M735.9 404.3h.01M752 406.1h.01M787.2 451.4h.01M736.4 421.5h.01M753.9 451.5h.01M796.5 445h.01M774.2 421.4h.01M793.3 453.4h.01M742.2 425.6h.01M793.6 425.9h.01M788.9 445.2h.01M773 395.5h.01M768.2 436.9h.01M754.2 426.6h.01M741.4 424.9h.01M771.5 428.1h.01M731.5 451h.01M793.4 447h.01M772.4 451.9h.01M759.4 442.7h.01M734.2 443.2h.01M749.1 435.9h.01M785.2 413.1h.01M794.5 451.8h.01M761.4 438.3h.01M771.1 420.9h.01M753.7 454.7h.01M782.7 450.3h.01M773 412.9h.01M775.6 436.5h.01M747.3 444.5h.01M741.4 439.8h.01M747.8 447.1h.01M747.3 445.9h.01M760.5 443.5h.01M756.9 421.4h.01M749.4 411.5h.01M773.1 448.7h.01M756.6 454.9h.01M798.8 412.4h.01M790.5 409.2h.01M756.6 438.8h.01M751.2 418.7h.01M758.4 425.9h.01M771.5 419.9h.01M781.5 424.3h.01M752.3 428.8h.01M764.7 417h.01M795.3 452h.01M790.5 448.1h.01M773.6 400.3h.01M772.2 427.1h.01M733.6 449.1h.01M752.3 430.5h.01M751.7 428.3h.01M740.1 420.5h.01M768.3 418.7h.01M798.8 436.2h.01M758.8 423.7h.01M785.8 443.6h.01M790 403.8h.01M794.8 413.9h.01M741.3 428.5h.01M752.1 394.9h.01M793.3 399h.01M774.2 417.8h.01M769.1 446.1h.01M737.5 435.2h.01M728.8 426.7h.01M770.7 426.6h.01M742.9 453.1h.01M731.4 444.1h.01M764 401.9h.01M730.1 446.3h.01M786.3 426.2h.01M789.6 401.2h.01M764 433.7h.01M778.3 414.9h.01M737.7 411.2h.01M759.6 429.9h.01M733.9 437.6h.01M798.3 424.5h.01M740.6 434.2h.01M759.9 442h.01M771.2 453.4h.01M738.2 423h.01M768.6 416.2h.01M781.2 425.9h.01M786.8 441.4h.01M791.5 397.6h.01M744.8 437.8h.01M768.4 397.4h.01M778.7 439.3h.01M783.5 433.3h.01M746.7 446.9h.01M733.8 437.1h.01M749.1 411.7h.01M770.3 451h.01M787.9 429.5h.01M777 431.4h.01M783.4 425.8h.01M786.8 405.5h.01M736.2 418h.01M775.5 448.9h.01M797.7 427.4h.01M747.2 405.8h.01M748.4 424h.01M785.9 417.3h.01M728.8 444.5h.01M782 435h.01M730.6 448.6h.01M739.8 399.9h.01M749.5 453h.01M771.2 450.3h.01M781.6 454.7h.01M747.6 407h.01M737.4 434.4h.01M762.5 438.6h.01M784.9 449.1h.01M767.5 451.7h.01M758.8 453.6h.01M798.4 443.3h.01M751.5 424.1h.01M733.4 442.1h.01M788.7 433h.01M734.4 421.6h.01M738.6 431h.01M741.2 435.1h.01M792.1 443.5h.01M773.1 449.5h.01M765.1 438.1h.01M777.4 448.4h.01M792.6 420.3h.01M750.4 428.9h.01M787.5 397.5h.01M732.1 434.8h.01M740.1 406.7h.01M750.8 439.9h.01M746.2 434.3h.01M741.1 453.4h.01M758.7 414.6h.01M752.6 425.1h.01M774.2 424.9h.01M728.6 442.9h.01M751.6 447.7h.01M744.7 403.6h.01M734.3 414.2h.01M735.6 422h.01M791 418.1h.01M795.2 438.8h.01M758 410.9h.01M788 445.6h.01M743.5 426h.01M781.8 431.1h.01M797.1 450h.01M791.1 442.4h.01M799.7 451.5h.01M755.4 424h.01M770.1 402.2h.01M747.1 414.4h.01M788.3 451.1h.01M789 451.9h.01M749.2 444.7h.01M789.8 395.5h.01M741.5 429.3h.01M758.7 415h.01M746 444.6h.01M734.5 444.8h.01M798.7 436.6h.01M772.5 399.2h.01M734.2 398.3h.01M753.6 448.4h.01M785.2 412.9h.01M737 399.6h.01M770.8 445.4h.01M794.8 443.1h.01M741.9 423.7h.01M775.6 434.8h.01M783.3 442.9h.01M780.5 426.1h.01M748.1 398.1h.01M770.2 412.7h.01M745 452.9h.01M730.5 422.1h.01M791.9 440.3h.01M786.1 420.1h.01M757.5 438h.01M790.4 437.7h.01M740.4 454.3h.01M763.5 451.5h.01M775.7 414.4h.01M737.6 439.9h.01M795.2 454.2h.01M745.4 434.1h.01M738.5 450.8h.01M751.1 441.5h.01M782.9 409.1h.01M740.5 432.5h.01M735.1 416h.01M768.3 444.9h.01M794.7 410.4h.01M790.9 453.5h.01M749.1 396.4h.01M743.7 450.2h.01M744.5 425.2h.01M750.7 435.5h.01M747.9 435.6h.01M789.6 442.3h.01M793.5 436.4h.01M794.6 414.5h.01M733.3 404.2h.01M776 397.9h.01M766.2 405.3h.01M793.8 452.7h.01M784 402.9h.01M773.8 422.5h.01M767 394.3h.01M741.7 437.2h.01M780.7 414.7h.01M743.7 402.7h.01M762.7 453.2h.01M766.1 442.4h.01M757.9 438h.01M762.3 410.8h.01M793.2 434.5h.01M756.2 434.1h.01M778.9 435h.01M753.7 453.2h.01M798.1 423.5h.01M795.1 451.4h.01M749.2 450.1h.01M771.4 438.3h.01M785.1 435.5h.01M742.4 395.6h.01M744 398.7h.01M766.8 396.2h.01M749 443.9h.01M767.9 407.3h.01M757.1 452.7h.01M736.8 397.8h.01M787.7 437.4h.01M767 449.3h.01M747.8 403.4h.01M770.5 419.9h.01M739.9 417.5h.01M756.4 394.8h.01M764.4 426.9h.01M750.3 437.1h.01M737.4 417h.01M740.6 438.2h.01M781.1 452h.01M790 419.1h.01M750.4 416.3h.01M751.6 438.9h.01M796.6 424.7h.01M755.8 440.9h.01M782.5 428.2h.01M779.3 441.8h.01M749.2 435.7h.01M741 441h.01M792.1 440.9h.01M762 443.1h.01M755.8 447.2h.01M790.7 400.6h.01M759.4 413.7h.01M791.6 432.5h.01M731 429h.01M732.7 442.6h.01M759.2 436.9h.01M768.6 427.2h.01M730.5 441.1h.01M734.6 454.2h.01M787.3 438.6h.01M781.8 428.4h.01M766.1 444.1h.01M787.4 408.2h.01M785.3 437.1h.01M752.1 423.5h.01M760.8 397.6h.01M733.8 415h.01M767.5 452.3h.01M747.7 398.4h.01M758.8 405.5h.01M759.2 414.1h.01M762.9 394.2h.01M779.1 449.2h.01M755.1 438.1h.01M757.4 406.6h.01M774.9 421.2h.01M758.3 436h.01M794.5 431h.01M767.8 412.6h.01M728.8 447.6h.01M767.9 450.5h.01M763.9 428.4h.01M782.5 444.5h.01M735.4 440.8h.01M756.2 444.9h.01M767.8 398.1h.01M791.4 439.1h.01M772.7 429.6h.01M753.9 416.1h.01M795.9 451.2h.01M781.5 394h.01M733.9 433h.01M748.1 455h.01M729.1 428.6h.01M742.3 420h.01M754.2 418h.01M799.5 420.1h.01M771.5 448.2h.01M748.2 399.2h.01M797.8 436.4h.01M766.2 452.2h.01M745.2 433.1h.01M736 418.2h.01M728.2 418.6h.01M797.5 399.4h.01M759.5 442.1h.01M742.4 421.6h.01M793.7 429.1h.01M768.1 421.7h.01M747.3 408.4h.01M775.2 438.3h.01M798.9 418.1h.01M758.1 415.5h.01M790.9 418.2h.01M778 424h.01M749 428.9h.01M756.3 447.9h.01M746 436.1h.01M776.5 442.7h.01M796.3 431.6h.01M763.3 432.6h.01M796 425.2h.01M733.2 420.5h.01M786.4 442h.01M769.5 431.1h.01M793.6 427.9h.01M755.4 451.7h.01M761.9 425h.01M738.5 416.8h.01M733.1 453.1h.01M798.7 453.2h.01M795.1 433.5h.01M765.1 420.6h.01M770.1 406.1h.01M799.8 427.1h.01M779.2 416.8h.01M771.6 412.3h.01M733.5 424.3h.01M739.1 450.9h.01M797.1 424.9h.01M767.5 423.3h.01M771.8 399.4h.01M737.2 414.1h.01M798.3 432.5h.01M732.4 449h.01M789.8 413.2h.01M760.9 454.5h.01M758.5 398.9h.01M742.4 449.3h.01M738.2 439.4h.01M749.2 448.5h.01M752.9 454.8h.01M789.4 453.3h.01M763.1 436.8h.01M735.9 445.5h.01M782.8 416.5h.01M750.8 409.4h.01M766.5 419.8h.01M778 445.3h.01M751 424.7h.01M758.2 431.6h.01M750.9 442.3h.01M764.3 447.8h.01M785 417.6h.01M748.4 406.5h.01M782.7 400.7h.01M746.1 434.2h.01M790.2 431.8h.01M776.6 435h.01M799.5 398.5h.01M745.3 423h.01M757.6 443.3h.01M788.3 426h.01M791.2 402.7h.01M779.8 433h.01M785.8 455h.01M785.9 443.2h.01M763.8 450.3h.01M747.1 418.5h.01M798.5 422.6h.01M781.2 421.4h.01M738.7 435.6h.01M733.9 426.1h.01M789.8 399.7h.01M778.8 406.7h.01M733.1 408.1h.01M737.4 408.6h.01M736.1 432.3h.01M778.5 436.8h.01M793.6 406.4h.01M752.6 455h.01M754 423.2h.01M771.1 434h.01M753.1 422.6h.01M730.6 430.7h.01M772.6 443.7h.01M745.8 417.9h.01M784.6 431.6h.01M776.2 451.8h.01M743.9 447.4h.01M792.6 394.1h.01M792.1 443.6h.01M760.2 401.2h.01M752.6 444.4h.01M757.9 442.7h.01M797 427.1h.01M791.9 451.9h.01M730.4 413.2h.01M754.7 445.1h.01M769.6 431.1h.01M764.5 418.1h.01M748.1 413.5h.01M739.8 415.4h.01M797.6 426h.01M756.6 447.6h.01M750.1 449.8h.01M763.9 441.4h.01M756.3 428.3h.01M776.1 442.5h.01M784.4 417.6h.01M772.7 452.2h.01M787 410.5h.01M778.9 433.7h.01M768.8 406.3h.01M739.4 416.3h.01M755.1 436.4h.01M770.6 403.6h.01M739.1 410.3h.01M781.5 414.7h.01M732.2 408.2h.01M736.1 442.5h.01M781.4 403.6h.01M746.6 448.9h.01M760.9 443.4h.01M784.9 448.9h.01M794.6 437.6h.01M735.9 451h.01M780.1 420.6h.01M781.7 449.9h.01M753.7 428.9h.01M737.3 426.2h.01M770.2 435h.01M729.3 414.2h.01M771.3 417.3h.01M798.5 431.9h.01M737 398.3h.01M731.4 412.4h.01M753.3 447.4h.01M731.7 395.8h.01M753.1 424.1h.01M744.2 436.8h.01M766.7 424h.01M740.1 428.3h.01M738.8 409.1h.01M747.7 444.5h.01M794 404.2h.01M743.9 410.7h.01M764.1 399.4h.01M787 449h.01M771.8 434.3h.01M774.5 423.1h.01M729.2 439.3h.01M777.8 452.1h.01M760.2 449h.01M794.6 410.9h.01M784.3 414.2h.01M744.2 405.8h.01M766.1 452.8h.01M792.9 438.9h.01M770.5 397.6h.01M773.9 425.7h.01M738.6 419.1h.01M757.3 447.9h.01M773.6 417.9h.01M730.5 454.4h.01M775.2 430.9h.01M766.4 451h.01M790.7 433.7h.01M744.7 400.3h.01M757.2 434.5h.01M747.8 406.1h.01M736.7 425.5h.01M730.2 447.1h.01M730.2 427.4h.01M756.6 453.9h.01M745.7 441.2h.01M744.3 438.9h.01M771.8 447.3h.01M737.6 434h.01M775.6 442.2h.01M799.6 429.2h.01M795.8 435.3h.01M760.4 443.2h.01M780.7 419.9h.01M766.2 436h.01M789.4 409.8h.01M758.4 437.9h.01M786.1 407.5h.01M747.1 418.1h.01M730.2 410.3h.01M763.8 400.5h.01M779.9 395.8h.01M794.3 410.3h.01M751.7 453.9h.01M729.1 420.3h.01M737.6 435.2h.01M769.3 397.2h.01M765.7 424.5h.01M748.3 401.4h.01M778.9 450.6h.01M738.4 401.8h.01M765.6 402.1h.01M769.2 448.5h.01M778.1 397.6h.01M737.7 453.9h.01M749.6 444.5h.01M738.1 454.6h.01M774.9 450.5h.01M767.4 433.9h.01M750.7 445.5h.01M735.8 404.2h.01M768.3 438h.01M759.7 412.2h.01M744.9 447.8h.01M759.1 417.7h.01M752.4 418.1h.01M740.1 418.2h.01M790.4 445.9h.01M754.1 435.8h.01M745.3 399h.01M781.5 397.6h.01M735.5 414.6h.01M746.1 414.4h.01M792.9 443.2h.01M782.8 404h.01M782.8 440.3h.01M742.6 409.9h.01M737.5 442h.01M732.6 450.6h.01M735.3 435h.01M740.9 435.1h.01M789.8 438.6h.01M789.8 429.5h.01M774.5 409.4h.01M774 431.9h.01M794.9 450.8h.01M789.7 451.3h.01M753.7 405.7h.01M782.6 449.5h.01M761.7 433h.01M731.6 442.1h.01M787.6 406.3h.01M748.6 402.2h.01M783.4 435.2h.01M780.1 431.3h.01M743 420.5h.01M763.8 425.6h.01M798.6 395.9h.01M792.9 423.7h.01M768.9 433.1h.01M748.5 422.9h.01M750.2 453h.01M761.5 424.7h.01M783.3 436.1h.01M788.8 411.5h.01M794.2 443.2h.01M752.8 447h.01M743.7 413.2h.01M730.6 453.6h.01M786.7 417.1h.01M783.4 424.9h.01M771.2 443.6h.01M784.1 413h.01M742.5 420.8h.01M785.3 427.9h.01M757.5 438.6h.01M794.2 451.1h.01M755.2 404.2h.01M760 402.9h.01M749 398h.01M789.2 423.2h.01M773.8 439.8h.01M771.5 445.7h.01M765.1 427.4h.01M734.7 402.6h.01M745.3 434h.01M789.4 432.2h.01M781.9 437.5h.01M761.5 397.7h.01M797.7 417.4h.01M737.8 437.2h.01M732.8 442.8h.01M759.7 429.5h.01M749.5 442.8h.01M756.4 438.6h.01M788.1 433.5h.01M758.7 454.2h.01M794.8 418.1h.01M774.7 398.4h.01M765.9 452.6h.01M731.2 414h.01M782 434.7h.01M754.1 434.4h.01M765.1 420.4h.01M798.2 429.9h.01M745.8 453.6h.01M744.3 449.3h.01M748.3 450.6h.01M789.8 449.9h.01M737.8 396.2h.01M794.1 423.8h.01M770.5 454h.01M762.3 449.4h.01M781.7 415.9h.01M753.1 442.8h.01M785.2 443.6h.01M783.9 413.8h.01M754 434.7h.01M793.4 435.5h.01M799.4 415.9h.01M764.7 399.2h.01M780.7 430h.01M765.4 396.7h.01M778.2 411.6h.01M735.3 436.9h.01M760.7 446.2h.01M738.6 446.4h.01M788.5 417.5h.01M746.3 400.2h.01M789.2 441.6h.01M728.5 400.1h.01M744.2 454.8h.01M735.9 401.1h.01M747.9 430.6h.01M757.7 430.7h.01M756.9 405.5h.01M755.6 416.2h.01M754.1 447.1h.01M751.7 395.3h.01M771.7 404.8h.01M756.5 432.1h.01M785.1 446.1h.01M779.7 448.9h.01M757.8 449.7h.01M798.5 415.1h.01M772.1 430.5h.01M733.5 395.9h.01M740.2 429.2h.01M757.9 430.9h.01M766.8 437.9h.01M744.2 399.5h.01M743.6 406.9h.01M766.8 422.1h.01M738.1 434.3h.01M770.2 422.2h.01M741.4 408.5h.01M730.9 451.5h.01M759 446.3h.01M763.3 413.2h.01M798.8 425.7h.01M766.8 415.3h.01M798.7 449.4h.01M764.8 452.4h.01M763.1 424.7h.01M787.6 416.1h.01M730.5 397.7h.01M757.5 413.2h.01M730.6 425.7h.01M784.6 400.9h.01M728.3 451.1h.01M751.7 404.9h.01M769.4 444.5h.01M786.7 432.2h.01M735.8 411.8h.01M731.8 447h.01M786.5 443h.01M782.4 408.5h.01M745.3 432.2h.01M773.3 429h.01M769.4 413.2h.01M740.4 435.5h.01M756.2 435.9h.01M728.8 432.3h.01M738.5 394.6h.01M771.6 443.9h.01M745.1 443.1h.01M795.4 395.1h.01M746.7 422h.01M741.3 428.6h.01M736.9 400.1h.01M733.4 418.5h.01M783.6 400.4h.01M790.4 436.6h.01M783.9 436.2h.01M750.5 452.3h.01M793.7 420.4h.01M781.2 453h.01M764.2 424.2h.01M789 448.3h.01M756.9 402h.01M739.8 421.9h.01M731.4 408.1h.01M771.6 408.5h.01M778.5 443h.01M794.2 411.3h.01M769.4 433.7h.01M768.1 406.4h.01M728.7 440.4h.01M776.8 425.2h.01M799.5 426.9h.01M744.9 433.4h.01M777.5 400.9h.01M772.4 432.5h.01M765 416.9h.01M781.9 403.1h.01M729.5 421.7h.01M746.9 407.5h.01M793.4 423.6h.01M741.4 407.9h.01M749.9 410h.01M765.8 406.1h.01M798.4 422.7h.01M756.2 429.6h.01M777.6 423.9h.01M744.6 410.7h.01M729.9 429.5h.01M742.7 437.7h.01M742 424.4h.01M784.7 403.3h.01M784 431.6h.01M742.2 422.8h.01M752.6 412.2h.01M758.1 409.7h.01M786.6 425.9h.01M788.8 394.7h.01M736.5 425.8h.01M743 438h.01M739.9 451.8h.01M783.3 435.9h.01M794.9 407.3h.01M761.6 443.5h.01M793.5 402.3h.01M745.5 432.9h.01M743.2 401.7h.01M789.1 417.7h.01M760 435.1h.01M792 450.3h.01M753.4 419h.01M767.7 446.9h.01M782.6 400.1h.01M791.4 441.3h.01M798.2 396.9h.01M789 423.2h.01M782.2 412.8h.01M740.7 424h.01M771.3 419.5h.01M757.9 414.3h.01M771.5 425.6h.01M748.9 396.3h.01M734.4 445h.01M778.2 423.2h.01M776.1 406.7h.01M730.1 428.5h.01M786.2 407.1h.01M736.1 449.2h.01M772.7 439.1h.01M742.9 395.8h.01M783.6 401.8h.01M776.2 429.1h.01M775.4 442.2h.01M749.6 414.9h.01M750.1 420.8h.01M730.5 405.7h.01M753.1 417.7h.01M729.8 454.8h.01M753 444.4h.01M788 439.3h.01M768.7 395.2h.01M730.8 454.4h.01M778.9 409.3h.01M774.4 404h.01M740.1 414.7h.01M785.1 397.4h.01M764.4 409.6h.01M752.4 422.3h.01M733.6 404.2h.01M796.5 437h.01M762.7 440h.01M778.9 418.4h.01M784.3 407.1h.01M784.8 430h.01M770.9 449.9h.01M785 448.4h.01M734.3 416.4h.01M790.3 408h.01M782.9 401.6h.01M730.4 405.1h.01M730.8 416.3h.01M784.4 437.1h.01M734.9 403.3h.01M731.3 441.6h.01M788.3 431.9h.01M774.1 403.8h.01M741.9 402.8h.01M752.1 396.6h.01M776 426.4h.01M731.4 416.2h.01M746.2 403.7h.01M763.3 453.8h.01M752.9 411.8h.01M748.7 407.3h.01M799 428.8h.01M794.6 447.2h.01M781.5 450.4h.01"/><path class="n" d="M762.5 401.5 Q752 406 746.5 417 Q742.5 427 744.5 438.5" style="stroke-width:1.72"/><path class="n" d="M737 439.4 L780.5 452.8 Q786.5 453 790 448.5" style="stroke-width:3.45"/><path class="n" d="M733 410 Q728.5 419 729.8 428 Q731.5 435.5 737 439.4" style="stroke-width:3.22"/><ellipse class="p" cx="788.4" cy="436" rx="5.4" ry="11.6" transform="rotate(22 788.4 436)" style="stroke-width:2.76"/><ellipse class="k" cx="789.6" cy="436.6" rx="3.6" ry="8.6" transform="rotate(22 789.6 436.6)" />
<path class="p" d="M790.5 428 L797 426.6 L802 430.5 L802.5 442 L798.5 449.5 L791.5 450.5 Q794.5 440 790.5 428Z" style="stroke-width:1.95"/><path class="n" d="M797 426.6 L797.6 438 L798.5 449.5 M797.6 438 L802.4 436.5" style="stroke-width:1.38"/><ellipse class="p" cx="791.4" cy="439" rx="3.4" ry="9.8" transform="rotate(12 791.4 439)" style="stroke-width:2.07"/><ellipse class="k" cx="792" cy="439.2" rx="1.8" ry="5.2" transform="rotate(12 792 439.2)" />
<ellipse class="p" cx="834.6" cy="456" rx="14.4" ry="19.6" transform="rotate(30 834.6 456)" style="stroke-width:2.18"/><ellipse class="p" cx="836.8" cy="457" rx="14.4" ry="19.6" transform="rotate(30 836.8 457)" style="stroke-width:2.18"/><path class="p" d="M803 434.6 L811.5 432.8 L826 440.8 L823 461 L812.5 459.8 L802 452.5 Z" style="stroke-width:2.07"/><path class="n" d="M811.5 432.8 L811 447.5 L812.5 459.8 M811 447.5 L802.4 443.5" style="stroke-width:1.38"/><ellipse class="p" cx="817.6" cy="449" rx="3.6" ry="4.6" transform="rotate(22 817.6 449)" style="stroke-width:1.72"/><ellipse class="k" cx="817.9" cy="449.2" rx="1.6" ry="2.2" transform="rotate(22 817.9 449.2)" /><path class="n" d="M813.5 453.5 L821.5 456.8" style="stroke-width:1.26"/><ellipse class="p" cx="835.2" cy="457" rx="6.6" ry="10.4" transform="rotate(30 835.2 457)" style="stroke-width:2.18"/><ellipse class="n" cx="836" cy="457.4" rx="4.6" ry="8.2" transform="rotate(30 836 457.4)" style="stroke-width:1.38"/><path class="t" d="M840.6 449.7L840.9 450.5L841.2 451.4L841.3 452.4L841.3 453.4L841.2 454.6L841 455.7L840.6 456.9L840.2 458.1L839.6 459.2L838.9 460.3L838.2 461.4L837.4 462.3L836.5 463.2L835.6 463.9L834.7 464.5L833.8 465L832.9 465.4L832 465.6L831.1 465.6L830.3 465.5L829.5 465.2L828.9 464.8L828.3 464.2L827.8 463.5" style="stroke-width:1.38"/>
<!-- 90_labels.py -->
<path class="l" d="M32.5 117.5L31.7 177.5" />
<path class="l" d="M102.5 196L111 169" />
<path class="l" d="M116.5 73L93.7 113.7" />
<path class="l" d="M117 73L143.7 137.5" />
<path class="l" d="M153.7 73L171 138.7" />
<path class="l" d="M195 91L219 162" />
<path class="l" d="M258 90L257 95" />
<path class="l" d="M242 111L248.7 183.7" />
<path class="l" d="M285 128.7L332.5 222.5" />
<path class="l" d="M325 147L358.7 236" />
<path class="l" d="M373.7 168L391 244" />
<path class="l" d="M444 174L443 178.5" />
<path class="l" d="M425.5 191L420 253.7" />
<path class="l" d="M476 213.7L482.5 281" />
<path class="l" d="M536 240.5L531 288" />
<path class="l" d="M635 64L684 65" />
<path class="l" d="M630 117.5L660 112L681 112" />
<path class="l" d="M620 152L660 158.7L682.5 158.7" />
<path class="l" d="M657.5 205.5L623.7 212.5" />
<path class="l" d="M658.7 251L613.7 293" />
<path class="l" d="M656 297L639 346" />
<path class="l" d="M691 312L682.5 381" />
<path class="l" d="M722 324L705 382" />
<path class="l" d="M753.5 336L735.5 395" />
<path class="l" d="M784 348L767 397.5" />
<path class="l" d="M780 306L778.5 311" />
<path class="l" d="M785 538L795 451" />
<path class="l" d="M827 539L835.5 476" />
<path class="l" d="M550.5 589L569 544.5" />
<path class="l" d="M499 568L504 537.5" />
<path class="l" d="M452 547L464 511" />
<path class="l" d="M400 526L422.5 492.5" />
<path class="l" d="M355 504.5L367 467.5" />
<path class="l" d="M307 483L320 442.5" />
<path class="l" d="M227 462.5L221 410" />
<path class="l" d="M127.5 421L90 357.5" />
<path class="l" d="M75 422L56 376" />
<path class="l" d="M131 68L131 52L249 52L534 184.5L535 27.5L694.5 32L691 275.5L820 328L811.5 349.5" />
<path class="l" d="M218 97L225 82L298 113L293 126" />
<path class="l" d="M397 179L406 161L484 195L478 209" />
<text class="num" transform="translate(45 176) scale(0.8 1.06)">1</text>
<path class="l" d="M31.7 177.5L52 177.5" style="stroke-width:1.3"/>
<text class="num" transform="translate(84 192.5) scale(0.8 1.06)">2</text>
<path class="l" d="M77.5 196L102.5 196" style="stroke-width:1.3"/>
<text class="num" transform="translate(108.5 69) scale(0.8 1.06)">3</text>
<path class="l" d="M97 73L117 73" style="stroke-width:1.3"/>
<text class="num" transform="translate(143.5 69.5) scale(0.8 1.06)">4</text>
<path class="l" d="M136 73L153.7 73" style="stroke-width:1.3"/>
<text class="num" transform="translate(183.5 87.5) scale(0.8 1.06)">5</text>
<path class="l" d="M176 91L195 91" style="stroke-width:1.3"/>
<text class="num" transform="translate(272 85.5) scale(0.8 1.06)">6</text>
<path class="l" d="M258 90L276 90" style="stroke-width:1.3"/>
<text class="num" transform="translate(232 108) scale(0.8 1.06)">7</text>
<path class="l" d="M222 111L242 111" style="stroke-width:1.3"/>
<text class="num" transform="translate(272.5 126) scale(0.8 1.06)">8</text>
<path class="l" d="M265 128.7L285 128.7" style="stroke-width:1.3"/>
<text class="num" transform="translate(312.5 143.7) scale(0.8 1.06)">9</text>
<path class="l" d="M303.7 147L325 147" style="stroke-width:1.3"/>
<text class="num" transform="translate(362 165) scale(0.8 1.06)">10</text>
<path class="l" d="M352.5 168L373.7 168" style="stroke-width:1.3"/>
<text class="num" transform="translate(456.5 171) scale(0.8 1.06)">11</text>
<path class="l" d="M444 174L464 174" style="stroke-width:1.3"/>
<text class="num" transform="translate(413 188) scale(0.8 1.06)">12</text>
<path class="l" d="M402.5 191L425.5 191" style="stroke-width:1.3"/>
<text class="num" transform="translate(464 210.5) scale(0.8 1.06)">13</text>
<path class="l" d="M453 213.7L476 213.7" style="stroke-width:1.3"/>
<text class="num" transform="translate(523.5 237) scale(0.8 1.06)">14</text>
<path class="l" d="M513 240.5L536 240.5" style="stroke-width:1.3"/>
<text class="num" transform="translate(674.5 61) scale(0.8 1.06)">15</text>
<text class="num" transform="translate(673.5 108.7) scale(0.8 1.06)">16</text>
<text class="num" transform="translate(674.5 156) scale(0.8 1.06)">17</text>
<text class="num" transform="translate(671 202.5) scale(0.8 1.06)">18</text>
<path class="l" d="M657.5 205.5L681 205.5" style="stroke-width:1.3"/>
<text class="num" transform="translate(672.5 247.5) scale(0.8 1.06)">19</text>
<path class="l" d="M658.7 251L679.5 251" style="stroke-width:1.3"/>
<text class="num" transform="translate(666.5 293.5) scale(0.8 1.06)">20</text>
<path class="l" d="M653.7 297L675 297" style="stroke-width:1.3"/>
<text class="num" transform="translate(703 308.5) scale(0.8 1.06)">21</text>
<path class="l" d="M691 312L711 312" style="stroke-width:1.3"/>
<text class="num" transform="translate(734 320.5) scale(0.8 1.06)">22</text>
<path class="l" d="M722 324L743.5 324" style="stroke-width:1.3"/>
<text class="num" transform="translate(765 333) scale(0.8 1.06)">23</text>
<path class="l" d="M753.5 336L775 336" style="stroke-width:1.3"/>
<text class="num" transform="translate(796.5 345) scale(0.8 1.06)">24</text>
<path class="l" d="M784 348L805.5 348" style="stroke-width:1.3"/>
<text class="num" transform="translate(795.5 301.5) scale(0.8 1.06)">25</text>
<path class="l" d="M780 306L802 306" style="stroke-width:1.3"/>
<text class="num" transform="translate(773.5 534.5) scale(0.8 1.06)">27</text>
<path class="l" d="M762 538L785 538" style="stroke-width:1.3"/>
<text class="num" transform="translate(817.5 535.5) scale(0.8 1.06)">25</text>
<path class="l" d="M804 539L827 539" style="stroke-width:1.3"/>
<text class="num" transform="translate(537.5 585.5) scale(0.8 1.06)">28</text>
<path class="l" d="M527.5 589L550.5 589" style="stroke-width:1.3"/>
<text class="num" transform="translate(488 564.5) scale(0.8 1.06)">29</text>
<path class="l" d="M477 568L499 568" style="stroke-width:1.3"/>
<text class="num" transform="translate(439.5 543.5) scale(0.8 1.06)">30</text>
<path class="l" d="M428 547L452 547" style="stroke-width:1.3"/>
<text class="num" transform="translate(386.5 523) scale(0.8 1.06)">31</text>
<path class="l" d="M377 526L400 526" style="stroke-width:1.3"/>
<text class="num" transform="translate(341 501) scale(0.8 1.06)">32</text>
<path class="l" d="M331 504.5L355 504.5" style="stroke-width:1.3"/>
<text class="num" transform="translate(293 479.5) scale(0.8 1.06)">33</text>
<path class="l" d="M283 483L307 483" style="stroke-width:1.3"/>
<text class="num" transform="translate(241 458.5) scale(0.8 1.06)">34</text>
<path class="l" d="M227 462.5L249 462.5" style="stroke-width:1.3"/>
<text class="num" transform="translate(140 417.5) scale(0.8 1.06)">35</text>
<path class="l" d="M127.5 421L149 421" style="stroke-width:1.3"/>
<text class="num" transform="translate(87 418.5) scale(0.8 1.06)">36</text>
<path class="l" d="M75 422L96 422" style="stroke-width:1.3"/>
<text class="cap" transform="rotate(0.27 98 620)" x="98.5" y="620" textLength="680" lengthAdjust="spacingAndGlyphs">Рис. 23. Главный цилиндр привода сцепления и цилиндр выключения сцепления</text>
<text x="2.2" y="10.1" style="font-family:'Liberation Sans',sans-serif;font-style:italic;font-size:8.2px;fill:#111;stroke:#111;stroke-width:0.2">AD</text>
<!-- 99_watermark.py -->
<defs><g id="wmt" style="font-family:'Liberation Sans',sans-serif;font-weight:bold;font-size:54px;stroke-linejoin:miter;stroke-miterlimit:3"><text vector-effect="non-scaling-stroke" transform="matrix(1.055 -0.343 0.225 0.974 16.2 421.8)">A</text><text vector-effect="non-scaling-stroke" transform="matrix(1.092 -0.355 0.225 0.974 65.3 410.9)">V</text><text vector-effect="non-scaling-stroke" transform="matrix(1.214 -0.394 0.225 0.974 105.3 400.9)">T</text><text vector-effect="non-scaling-stroke" transform="matrix(1.163 -0.378 0.225 0.974 128.8 393.9)">O</text><text vector-effect="non-scaling-stroke" transform="matrix(0.800 -0.260 0.225 0.974 188.9 378.9)">S</text><text vector-effect="non-scaling-stroke" transform="matrix(0.837 -0.272 0.225 0.974 218.6 369.3)">K</text><text vector-effect="non-scaling-stroke" transform="matrix(1.042 -0.339 0.225 0.974 254.7 360.7)">A</text><text vector-effect="non-scaling-stroke" transform="matrix(0.948 -0.308 0.225 0.974 297.6 353.8)">Z</text><text vector-effect="non-scaling-stroke" transform="matrix(0.851 -0.276 0.225 0.974 337.5 340.3)">K</text><text vector-effect="non-scaling-stroke" transform="matrix(1.042 -0.339 0.225 0.974 372.3 330.7)">A</text><text vector-effect="non-scaling-stroke" transform="matrix(1.042 -0.339 0.225 0.974 427.2 318.7)">A</text><text vector-effect="non-scaling-stroke" transform="matrix(1.015 -0.330 0.225 0.974 475.4 307.8)">C</text><text vector-effect="non-scaling-stroke" transform="matrix(1.055 -0.343 0.225 0.974 511.2 299.5)">A</text><text vector-effect="non-scaling-stroke" transform="matrix(1.214 -0.394 0.225 0.974 550.2 289.1)">T</text><text vector-effect="non-scaling-stroke" transform="matrix(1.163 -0.378 0.225 0.974 602.2 276.3)">O</text><text vector-effect="non-scaling-stroke" transform="matrix(1.084 -0.352 0.225 0.974 652.7 263.1)">N</text><text vector-effect="non-scaling-stroke" transform="matrix(0.711 -0.231 0.225 0.974 701.8 250.1)">L</text><text vector-effect="non-scaling-stroke" transform="matrix(1.076 -0.350 0.225 0.974 735.2 241.3)">I</text><text vector-effect="non-scaling-stroke" transform="matrix(1.114 -0.362 0.225 0.974 758.0 237.5)">N</text><text vector-effect="non-scaling-stroke" transform="matrix(0.728 -0.237 0.225 0.974 808.2 225.3)">E</text></g></defs><mask id="wm" maskUnits="userSpaceOnUse" x="0" y="0" width="874" height="648"><use href="#wmt" style="fill:none;stroke:#fff;stroke-width:6.6"/><use href="#wmt" style="fill:#000;stroke:#000;stroke-width:5"/><use href="#wmt" style="fill:none;stroke:#fff;stroke-width:3.1"/><use href="#wmt" style="fill:#000;stroke:#000;stroke-width:1.5"/><circle cx="419.2" cy="316.8" r="7.3" fill="none" stroke="#fff" stroke-width="0.8"/><circle cx="419.2" cy="316.8" r="5.6" fill="none" stroke="#fff" stroke-width="0.8"/></mask><rect x="0" y="0" width="874" height="648" fill="#484848" mask="url(#wm)" style="mix-blend-mode:multiply"/>
</svg></body></html>
